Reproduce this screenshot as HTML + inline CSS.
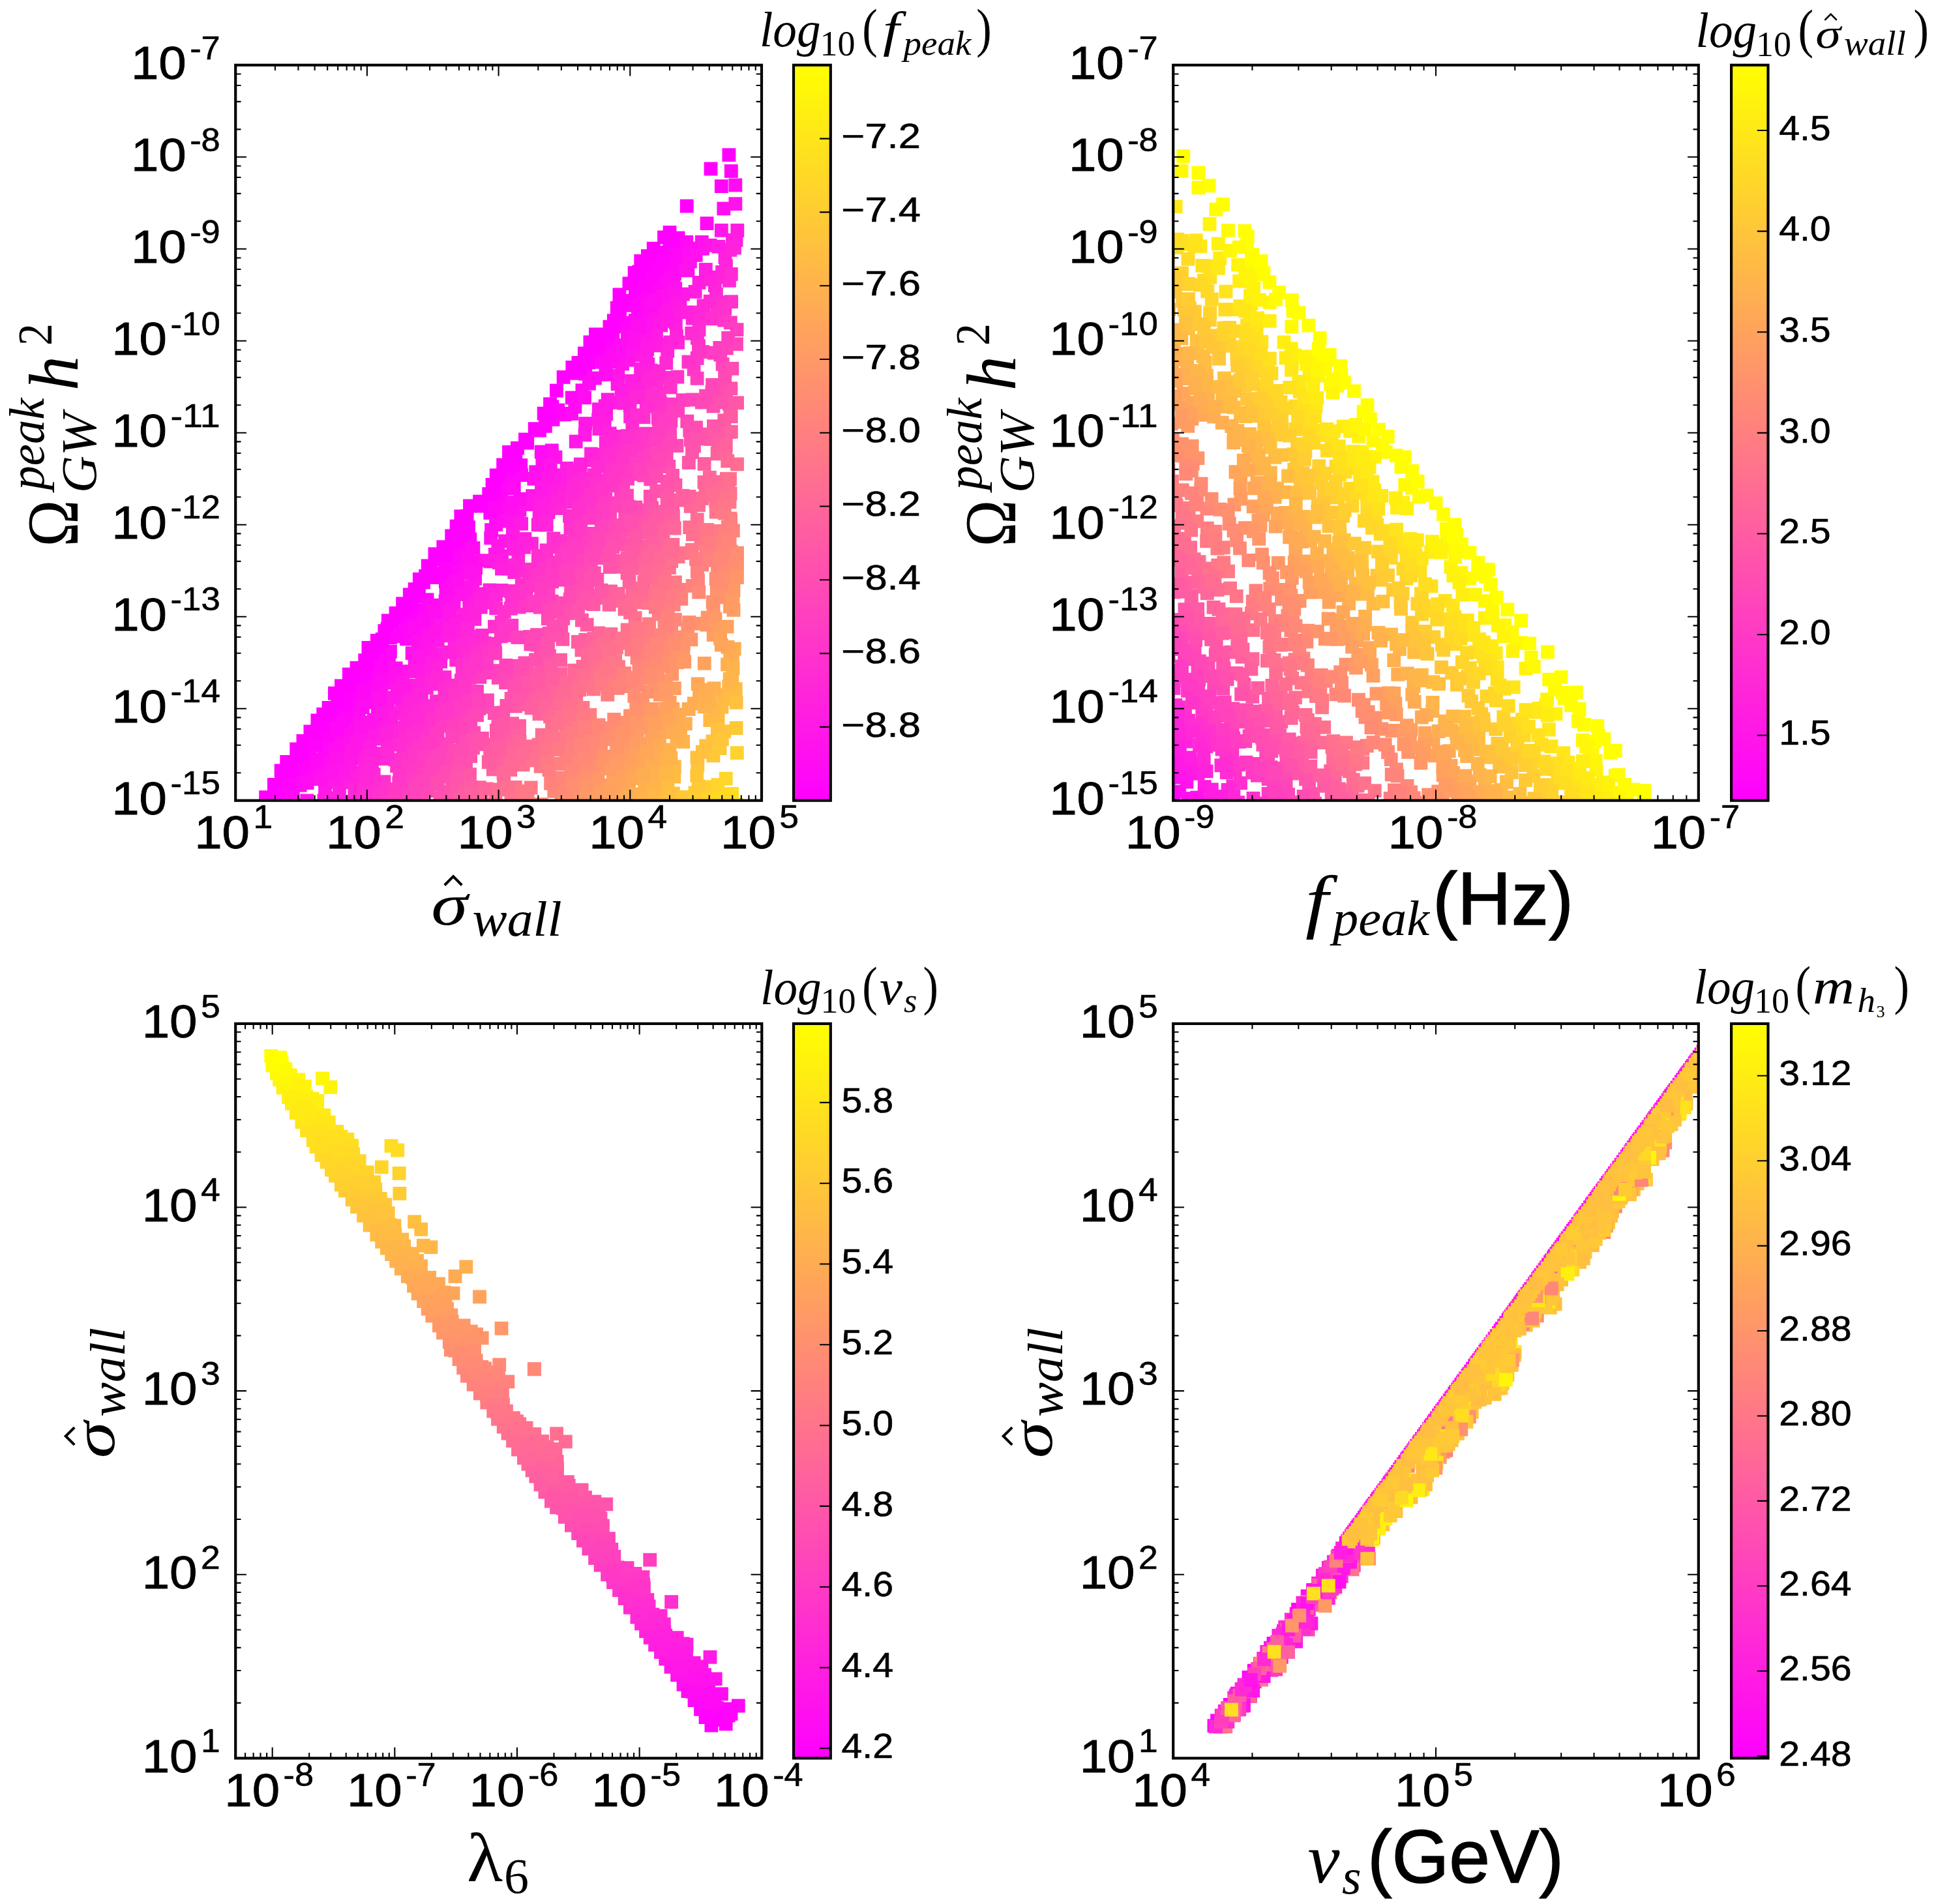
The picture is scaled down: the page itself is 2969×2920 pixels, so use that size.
<!DOCTYPE html><html><head><meta charset="utf-8"><title>chart</title><style>html,body{margin:0;padding:0;background:#fff}svg{display:block}text{fill:#000}</style></head><body>
<svg width="2969" height="2920" viewBox="0 0 2969 2920">
<rect width="2969" height="2920" fill="#fff"/>
<defs>
<clipPath id="cTL"><rect x="361.20" y="99.80" width="806.80" height="1127.90"/></clipPath>
<clipPath id="cTR"><rect x="1799.20" y="99.80" width="805.60" height="1127.90"/></clipPath>
<clipPath id="cBL"><rect x="361.20" y="1569.90" width="807.10" height="1126.50"/></clipPath>
<clipPath id="cBR"><rect x="1799.20" y="1569.90" width="805.60" height="1126.50"/></clipPath>
</defs>
<g clip-path="url(#cTL)" shape-rendering="auto"><path fill="#ff42bd" d="M882.2 836.3h20.83v20.83h-20.83z"/><path fill="#ff25da" d="M541.8 1187.3h20.83v20.83h-20.83z"/><path fill="#ff2ed1" d="M716.5 981.3h20.83v20.83h-20.83z"/><path fill="#ff5da2" d="M926.2 896.5h20.83v20.83h-20.83z"/><path fill="#ff6c93" d="M868.7 1044.3h20.83v20.83h-20.83z"/><path fill="#ff03fc" d="M479.5 1121.1h20.83v20.83h-20.83z"/><path fill="#ff8d72" d="M878.3 1176.6h20.83v20.83h-20.83z"/><path fill="#ffb847" d="M1005.4 1189.2h20.83v20.83h-20.83z"/><path fill="#ff3ec1" d="M818.8 910.0h20.83v20.83h-20.83z"/><path fill="#ffa05f" d="M947.6 1164.6h20.83v20.83h-20.83z"/><path fill="#ff2cd3" d="M701.6 993.7h20.83v20.83h-20.83z"/><path fill="#ff9966" d="M946.3 1134.2h20.83v20.83h-20.83z"/><path fill="#ff807f" d="M870.5 1127.5h20.83v20.83h-20.83z"/><path fill="#ff31ce" d="M578.6 1188.5h20.83v20.83h-20.83z"/><path fill="#ff37c8" d="M907.1 754.7h20.83v20.83h-20.83z"/><path fill="#ff6c93" d="M853.9 1062.9h20.83v20.83h-20.83z"/><path fill="#ffb946" d="M982.8 1222.9h20.83v20.83h-20.83z"/><path fill="#ff56a9" d="M955.8 823.5h20.83v20.83h-20.83z"/><path fill="#ff47b8" d="M658.9 1172.1h20.83v20.83h-20.83z"/><path fill="#ffb54a" d="M979.4 1210.0h20.83v20.83h-20.83z"/><path fill="#ff00ff" d="M584.9 941.4h20.83v20.83h-20.83z"/><path fill="#ff57a8" d="M986.0 787.2h20.83v20.83h-20.83z"/><path fill="#ff36c9" d="M1058.7 538.9h20.83v20.83h-20.83z"/><path fill="#ff20df" d="M816.7 777.7h20.83v20.83h-20.83z"/><path fill="#ff926d" d="M889.2 1183.1h20.83v20.83h-20.83z"/><path fill="#ff12ed" d="M460.4 1217.4h20.83v20.83h-20.83z"/><path fill="#ff956a" d="M873.9 1215.8h20.83v20.83h-20.83z"/><path fill="#ff00ff" d="M783.0 676.8h20.83v20.83h-20.83z"/><path fill="#ff9768" d="M1020.3 1023.1h20.83v20.83h-20.83z"/><path fill="#ff27d8" d="M827.8 794.6h20.83v20.83h-20.83z"/><path fill="#ff9768" d="M959.5 1106.3h20.83v20.83h-20.83z"/><path fill="#ff00ff" d="M485.3 1085.0h20.83v20.83h-20.83z"/><path fill="#ff41be" d="M981.1 697.4h20.83v20.83h-20.83z"/><path fill="#ff00ff" d="M954.5 424.4h20.83v20.83h-20.83z"/><path fill="#ff30cf" d="M564.5 1200.5h20.83v20.83h-20.83z"/><path fill="#ff10ef" d="M1022.7 420.9h20.83v20.83h-20.83z"/><path fill="#ff6f90" d="M815.6 1131.7h20.83v20.83h-20.83z"/><path fill="#ff0bf4" d="M1034.8 382.1h20.83v20.83h-20.83z"/><path fill="#ff4fb0" d="M986.9 751.0h20.83v20.83h-20.83z"/><path fill="#ff728d" d="M873.4 1063.9h20.83v20.83h-20.83z"/><path fill="#ff906f" d="M932.1 1112.5h20.83v20.83h-20.83z"/><path fill="#ff2fd0" d="M595.3 1154.3h20.83v20.83h-20.83z"/><path fill="#ff53ac" d="M971.0 788.7h20.83v20.83h-20.83z"/><path fill="#ff2fd0" d="M1089.5 463.6h20.83v20.83h-20.83z"/><path fill="#ffa857" d="M1008.0 1112.5h20.83v20.83h-20.83z"/><path fill="#ff4bb4" d="M918.2 825.5h20.83v20.83h-20.83z"/><path fill="#ff639c" d="M881.5 986.6h20.83v20.83h-20.83z"/><path fill="#ff718e" d="M1016.0 860.1h20.83v20.83h-20.83z"/><path fill="#ff00ff" d="M475.7 1111.1h20.83v20.83h-20.83z"/><path fill="#ff37c8" d="M584.0 1207.4h20.83v20.83h-20.83z"/><path fill="#ff8e71" d="M1013.2 992.0h20.83v20.83h-20.83z"/><path fill="#ff0cf3" d="M581.2 1019.7h20.83v20.83h-20.83z"/><path fill="#ff1ae5" d="M584.5 1076.3h20.83v20.83h-20.83z"/><path fill="#ff827d" d="M984.8 975.9h20.83v20.83h-20.83z"/><path fill="#ff02fd" d="M588.2 967.5h20.83v20.83h-20.83z"/><path fill="#ff25da" d="M508.9 1229.7h20.83v20.83h-20.83z"/><path fill="#ff23dc" d="M858.9 735.0h20.83v20.83h-20.83z"/><path fill="#ffb04f" d="M1112.9 1001.0h20.83v20.83h-20.83z"/><path fill="#ff9768" d="M978.2 1077.9h20.83v20.83h-20.83z"/><path fill="#ff01fe" d="M964.0 436.0h20.83v20.83h-20.83z"/><path fill="#ff6699" d="M1048.8 766.0h20.83v20.83h-20.83z"/><path fill="#ff6897" d="M959.3 899.6h20.83v20.83h-20.83z"/><path fill="#ff09f6" d="M492.7 1128.9h20.83v20.83h-20.83z"/><path fill="#ff32cd" d="M827.5 845.7h20.83v20.83h-20.83z"/><path fill="#ff8d72" d="M850.5 1214.7h20.83v20.83h-20.83z"/><path fill="#ff1de2" d="M858.9 707.9h20.83v20.83h-20.83z"/><path fill="#ff40bf" d="M817.8 920.8h20.83v20.83h-20.83z"/><path fill="#ff3bc4" d="M967.5 689.9h20.83v20.83h-20.83z"/><path fill="#ff0df2" d="M646.4 933.1h20.83v20.83h-20.83z"/><path fill="#ff5fa0" d="M786.1 1103.0h20.83v20.83h-20.83z"/><path fill="#ff00ff" d="M682.3 811.5h20.83v20.83h-20.83z"/><path fill="#ff05fa" d="M887.3 562.8h20.83v20.83h-20.83z"/><path fill="#ff30cf" d="M544.2 1230.7h20.83v20.83h-20.83z"/><path fill="#ff56a9" d="M832.0 995.4h20.83v20.83h-20.83z"/><path fill="#ff59a6" d="M1080.0 663.1h20.83v20.83h-20.83z"/><path fill="#ffc936" d="M1035.4 1223.3h20.83v20.83h-20.83z"/><path fill="#ff57a8" d="M780.0 1072.7h20.83v20.83h-20.83z"/><path fill="#ff7b84" d="M985.1 946.6h20.83v20.83h-20.83z"/><path fill="#ff3fc0" d="M721.1 1049.9h20.83v20.83h-20.83z"/><path fill="#ffa857" d="M937.8 1211.6h20.83v20.83h-20.83z"/><path fill="#ff9669" d="M1028.4 1005.4h20.83v20.83h-20.83z"/><path fill="#ff4ab5" d="M647.6 1202.5h20.83v20.83h-20.83z"/><path fill="#ff3ec1" d="M592.6 1224.4h20.83v20.83h-20.83z"/><path fill="#ff03fc" d="M606.6 946.6h20.83v20.83h-20.83z"/><path fill="#ff23dc" d="M665.2 1004.2h20.83v20.83h-20.83z"/><path fill="#ff0bf4" d="M586.1 1008.6h20.83v20.83h-20.83z"/><path fill="#ff3ec1" d="M1036.8 603.3h20.83v20.83h-20.83z"/><path fill="#ff56a9" d="M1013.2 742.7h20.83v20.83h-20.83z"/><path fill="#ff3ec1" d="M622.3 1184.6h20.83v20.83h-20.83z"/><path fill="#ff16e9" d="M685.6 918.0h20.83v20.83h-20.83z"/><path fill="#ff7d82" d="M858.2 1132.1h20.83v20.83h-20.83z"/><path fill="#ff926d" d="M984.0 1050.4h20.83v20.83h-20.83z"/><path fill="#ff7788" d="M827.3 1147.9h20.83v20.83h-20.83zM900.0 1046.4h20.83v20.83h-20.83z"/><path fill="#ff31ce" d="M656.3 1077.4h20.83v20.83h-20.83z"/><path fill="#ff48b7" d="M829.9 938.3h20.83v20.83h-20.83z"/><path fill="#ff906f" d="M1044.4 954.6h20.83v20.83h-20.83z"/><path fill="#ff2ed1" d="M959.4 643.1h20.83v20.83h-20.83z"/><path fill="#ff20df" d="M916.7 638.8h20.83v20.83h-20.83z"/><path fill="#ff47b8" d="M1043.4 635.7h20.83v20.83h-20.83z"/><path fill="#ff0df2" d="M754.8 780.3h20.83v20.83h-20.83z"/><path fill="#ff9f60" d="M1114.6 925.1h20.83v20.83h-20.83z"/><path fill="#ff00ff" d="M589.9 944.6h20.83v20.83h-20.83z"/><path fill="#ff25da" d="M643.9 1044.4h20.83v20.83h-20.83z"/><path fill="#ffa956" d="M954.1 1193.3h20.83v20.83h-20.83z"/><path fill="#ff51ae" d="M819.0 992.0h20.83v20.83h-20.83z"/><path fill="#ff03fc" d="M1016.4 371.5h20.83v20.83h-20.83z"/><path fill="#ff38c7" d="M591.5 1200.0h20.83v20.83h-20.83z"/><path fill="#ff29d6" d="M522.8 1231.2h20.83v20.83h-20.83z"/><path fill="#ff51ae" d="M978.2 771.9h20.83v20.83h-20.83z"/><path fill="#ff956a" d="M1074.8 936.8h20.83v20.83h-20.83z"/><path fill="#ff0ef1" d="M481.6 1166.1h20.83v20.83h-20.83z"/><path fill="#ff38c7" d="M687.9 1065.1h20.83v20.83h-20.83z"/><path fill="#ff6e91" d="M1005.5 858.5h20.83v20.83h-20.83z"/><path fill="#ffbd42" d="M1090.7 1092.2h20.83v20.83h-20.83z"/><path fill="#ff6e91" d="M820.8 1116.7h20.83v20.83h-20.83z"/><path fill="#ff19e6" d="M921.8 602.5h20.83v20.83h-20.83z"/><path fill="#ff847b" d="M977.2 997.0h20.83v20.83h-20.83z"/><path fill="#ff6e91" d="M1104.0 723.9h20.83v20.83h-20.83z"/><path fill="#ff52ad" d="M943.5 824.5h20.83v20.83h-20.83z"/><path fill="#ff49b6" d="M682.5 1150.4h20.83v20.83h-20.83z"/><path fill="#ff17e8" d="M625.7 1006.7h20.83v20.83h-20.83z"/><path fill="#ff05fa" d="M696.5 829.8h20.83v20.83h-20.83z"/><path fill="#ff5ea1" d="M1005.9 789.5h20.83v20.83h-20.83z"/><path fill="#ff28d7" d="M778.3 867.1h20.83v20.83h-20.83z"/><path fill="#ff00ff" d="M445.6 1154.2h20.83v20.83h-20.83z"/><path fill="#ffaf50" d="M962.7 1207.6h20.83v20.83h-20.83z"/><path fill="#ff0cf3" d="M518.5 1107.8h20.83v20.83h-20.83z"/><path fill="#ff629d" d="M1016.0 791.3h20.83v20.83h-20.83z"/><path fill="#ff36c9" d="M793.8 907.0h20.83v20.83h-20.83z"/><path fill="#ff7e81" d="M1033.1 894.0h20.83v20.83h-20.83z"/><path fill="#ff629d" d="M769.4 1138.7h20.83v20.83h-20.83z"/><path fill="#ff5da2" d="M762.7 1123.2h20.83v20.83h-20.83z"/><path fill="#ff847b" d="M896.3 1110.0h20.83v20.83h-20.83z"/><path fill="#ff7f80" d="M1081.3 831.4h20.83v20.83h-20.83z"/><path fill="#ff43bc" d="M925.2 783.4h20.83v20.83h-20.83z"/><path fill="#ff906f" d="M901.3 1154.6h20.83v20.83h-20.83z"/><path fill="#ffba45" d="M1078.4 1094.2h20.83v20.83h-20.83z"/><path fill="#ff3dc2" d="M923.0 761.2h20.83v20.83h-20.83z"/><path fill="#ff1ae5" d="M886.7 656.5h20.83v20.83h-20.83z"/><path fill="#ff4bb4" d="M1094.3 580.6h20.83v20.83h-20.83z"/><path fill="#ff52ad" d="M1103.2 599.6h20.83v20.83h-20.83z"/><path fill="#ff906f" d="M1088.8 892.9h20.83v20.83h-20.83z"/><path fill="#ff15ea" d="M606.7 1023.9h20.83v20.83h-20.83z"/><path fill="#ff1fe0" d="M1025.9 484.5h20.83v20.83h-20.83z"/><path fill="#ff29d6" d="M1088.0 441.0h20.83v20.83h-20.83z"/><path fill="#ff7986" d="M1025.0 882.6h20.83v20.83h-20.83z"/><path fill="#ff936c" d="M1024.5 996.1h20.83v20.83h-20.83z"/><path fill="#ff11ee" d="M992.7 468.0h20.83v20.83h-20.83z"/><path fill="#ff39c6" d="M1018.3 609.6h20.83v20.83h-20.83z"/><path fill="#ff26d9" d="M805.0 823.3h20.83v20.83h-20.83z"/><path fill="#ff857a" d="M1108.6 819.0h20.83v20.83h-20.83z"/><path fill="#ff7e81" d="M931.0 1034.1h20.83v20.83h-20.83z"/><path fill="#ff08f7" d="M629.1 937.3h20.83v20.83h-20.83z"/><path fill="#ff718e" d="M998.2 884.4h20.83v20.83h-20.83z"/><path fill="#ff00ff" d="M795.0 663.6h20.83v20.83h-20.83z"/><path fill="#ff6699" d="M942.5 911.2h20.83v20.83h-20.83z"/><path fill="#ff0cf3" d="M435.8 1224.2h20.83v20.83h-20.83z"/><path fill="#ff19e6" d="M714.6 890.4h20.83v20.83h-20.83z"/><path fill="#ffa956" d="M967.5 1175.2h20.83v20.83h-20.83z"/><path fill="#ff08f7" d="M423.1 1224.0h20.83v20.83h-20.83z"/><path fill="#ffa55a" d="M960.1 1166.1h20.83v20.83h-20.83z"/><path fill="#ff9b64" d="M967.0 1115.0h20.83v20.83h-20.83z"/><path fill="#ff609f" d="M831.9 1040.8h20.83v20.83h-20.83z"/><path fill="#ff00ff" d="M809.8 647.3h20.83v20.83h-20.83z"/><path fill="#ff59a6" d="M1100.4 634.4h20.83v20.83h-20.83z"/><path fill="#ff57a8" d="M695.1 1192.5h20.83v20.83h-20.83z"/><path fill="#ff1ce3" d="M907.2 633.3h20.83v20.83h-20.83z"/><path fill="#ff49b6" d="M780.3 1010.9h20.83v20.83h-20.83z"/><path fill="#ff8b74" d="M977.7 1029.7h20.83v20.83h-20.83z"/><path fill="#ff1be4" d="M486.5 1217.5h20.83v20.83h-20.83z"/><path fill="#ff00ff" d="M524.9 1023.7h20.83v20.83h-20.83z"/><path fill="#ff04fb" d="M739.7 762.5h20.83v20.83h-20.83z"/><path fill="#ff926d" d="M956.1 1087.6h20.83v20.83h-20.83z"/><path fill="#ff25da" d="M717.5 939.0h20.83v20.83h-20.83z"/><path fill="#ff807f" d="M846.6 1160.9h20.83v20.83h-20.83z"/><path fill="#ff629d" d="M937.8 900.2h20.83v20.83h-20.83z"/><path fill="#ff4bb4" d="M891.5 863.9h20.83v20.83h-20.83z"/><path fill="#ff32cd" d="M733.2 976.1h20.83v20.83h-20.83z"/><path fill="#ff36c9" d="M785.6 920.6h20.83v20.83h-20.83z"/><path fill="#ff00ff" d="M554.5 983.0h20.83v20.83h-20.83z"/><path fill="#ff35ca" d="M650.7 1103.9h20.83v20.83h-20.83z"/><path fill="#ff639c" d="M786.1 1117.0h20.83v20.83h-20.83z"/><path fill="#ff5ba4" d="M824.3 1030.8h20.83v20.83h-20.83z"/><path fill="#ff4cb3" d="M883.0 883.2h20.83v20.83h-20.83z"/><path fill="#ff02fd" d="M939.7 474.5h20.83v20.83h-20.83z"/><path fill="#ffbe41" d="M994.1 1229.6h20.83v20.83h-20.83z"/><path fill="#ff5aa5" d="M799.5 1060.5h20.83v20.83h-20.83z"/><path fill="#ff1ee1" d="M548.3 1143.6h20.83v20.83h-20.83z"/><path fill="#ff21de" d="M531.6 1183.6h20.83v20.83h-20.83z"/><path fill="#ff15ea" d="M601.0 1032.7h20.83v20.83h-20.83z"/><path fill="#ff52ad" d="M704.1 1160.1h20.83v20.83h-20.83z"/><path fill="#ff24db" d="M793.4 828.8h20.83v20.83h-20.83z"/><path fill="#ff00ff" d="M979.2 401.5h20.83v20.83h-20.83z"/><path fill="#ff22dd" d="M974.8 566.9h20.83v20.83h-20.83z"/><path fill="#ff0df2" d="M469.5 1182.6h20.83v20.83h-20.83z"/><path fill="#ff8a75" d="M916.9 1106.2h20.83v20.83h-20.83z"/><path fill="#ff24db" d="M878.4 712.4h20.83v20.83h-20.83z"/><path fill="#ff3dc2" d="M1058.7 569.9h20.83v20.83h-20.83z"/><path fill="#ff08f7" d="M987.4 435.4h20.83v20.83h-20.83z"/><path fill="#ff21de" d="M573.6 1122.6h20.83v20.83h-20.83z"/><path fill="#ff23dc" d="M1087.7 414.7h20.83v20.83h-20.83z"/><path fill="#ff708f" d="M836.1 1104.4h20.83v20.83h-20.83z"/><path fill="#ff01fe" d="M1007.5 376.8h20.83v20.83h-20.83z"/><path fill="#ff04fb" d="M564.2 1010.5h20.83v20.83h-20.83z"/><path fill="#ff09f6" d="M1037.7 367.9h20.83v20.83h-20.83z"/><path fill="#ffac53" d="M1054.0 1068.6h20.83v20.83h-20.83z"/><path fill="#ff55aa" d="M1072.3 655.6h20.83v20.83h-20.83z"/><path fill="#ff0df2" d="M1031.6 392.8h20.83v20.83h-20.83z"/><path fill="#ff906f" d="M1036.3 966.6h20.83v20.83h-20.83z"/><path fill="#ff619e" d="M756.7 1149.3h20.83v20.83h-20.83z"/><path fill="#ff41be" d="M611.2 1212.1h20.83v20.83h-20.83z"/><path fill="#ff7b84" d="M931.7 1020.9h20.83v20.83h-20.83z"/><path fill="#ff53ac" d="M1054.0 673.6h20.83v20.83h-20.83z"/><path fill="#ff956a" d="M1083.7 923.2h20.83v20.83h-20.83z"/><path fill="#ff02fd" d="M632.0 904.1h20.83v20.83h-20.83z"/><path fill="#ff5da2" d="M1090.7 666.6h20.83v20.83h-20.83z"/><path fill="#ff3cc3" d="M771.6 964.1h20.83v20.83h-20.83z"/><path fill="#ff5ea1" d="M967.8 842.9h20.83v20.83h-20.83z"/><path fill="#ff11ee" d="M652.4 942.9h20.83v20.83h-20.83z"/><path fill="#ff807f" d="M970.6 987.3h20.83v20.83h-20.83z"/><path fill="#ff5fa0" d="M1108.1 652.1h20.83v20.83h-20.83z"/><path fill="#ff47b8" d="M635.9 1202.4h20.83v20.83h-20.83z"/><path fill="#ff9669" d="M912.9 1164.9h20.83v20.83h-20.83z"/><path fill="#ffa45b" d="M1021.5 1077.1h20.83v20.83h-20.83z"/><path fill="#ff11ee" d="M451.3 1224.8h20.83v20.83h-20.83z"/><path fill="#ff8877" d="M1015.8 961.9h20.83v20.83h-20.83z"/><path fill="#ff04fb" d="M933.7 490.3h20.83v20.83h-20.83z"/><path fill="#ff17e8" d="M776.3 797.3h20.83v20.83h-20.83z"/><path fill="#ff09f6" d="M530.2 1078.1h20.83v20.83h-20.83z"/><path fill="#ff00ff" d="M962.7 408.1h20.83v20.83h-20.83z"/><path fill="#ffcf30" d="M1072.3 1196.4h20.83v20.83h-20.83z"/><path fill="#ff00ff" d="M413.0 1200.2h20.83v20.83h-20.83z"/><path fill="#ffa758" d="M944.5 1198.5h20.83v20.83h-20.83z"/><path fill="#ff32cd" d="M840.0 828.2h20.83v20.83h-20.83z"/><path fill="#ff827d" d="M1034.4 908.0h20.83v20.83h-20.83z"/><path fill="#ffbc43" d="M1117.8 1046.3h20.83v20.83h-20.83z"/><path fill="#ff2ad5" d="M914.8 686.9h20.83v20.83h-20.83z"/><path fill="#ff6f90" d="M1092.7 743.9h20.83v20.83h-20.83z"/><path fill="#ff5ba4" d="M912.1 906.5h20.83v20.83h-20.83z"/><path fill="#ff6b94" d="M762.2 1188.2h20.83v20.83h-20.83z"/><path fill="#ff728d" d="M987.9 901.2h20.83v20.83h-20.83z"/><path fill="#ff8778" d="M839.4 1202.8h20.83v20.83h-20.83z"/><path fill="#ff6a95" d="M1061.0 764.3h20.83v20.83h-20.83z"/><path fill="#ff4ab5" d="M637.4 1215.0h20.83v20.83h-20.83z"/><path fill="#ff3fc0" d="M661.8 1135.2h20.83v20.83h-20.83z"/><path fill="#ff817e" d="M966.6 998.4h20.83v20.83h-20.83z"/><path fill="#ff50af" d="M950.3 802.8h20.83v20.83h-20.83z"/><path fill="#ff2ed1" d="M942.6 665.9h20.83v20.83h-20.83z"/><path fill="#ff2ad5" d="M935.3 658.9h20.83v20.83h-20.83z"/><path fill="#ff629d" d="M1046.4 751.0h20.83v20.83h-20.83z"/><path fill="#ff37c8" d="M578.0 1216.2h20.83v20.83h-20.83z"/><path fill="#ff25da" d="M784.4 845.5h20.83v20.83h-20.83z"/><path fill="#ffad52" d="M1115.8 984.7h20.83v20.83h-20.83z"/><path fill="#ff3ec1" d="M611.5 1197.8h20.83v20.83h-20.83z"/><path fill="#ff956a" d="M1049.5 970.4h20.83v20.83h-20.83z"/><path fill="#ff1de2" d="M541.5 1152.3h20.83v20.83h-20.83z"/><path fill="#ff24db" d="M987.3 557.7h20.83v20.83h-20.83z"/><path fill="#ff14eb" d="M519.1 1142.8h20.83v20.83h-20.83z"/><path fill="#ff0cf3" d="M960.3 491.2h20.83v20.83h-20.83z"/><path fill="#ff0af5" d="M672.9 881.2h20.83v20.83h-20.83z"/><path fill="#ff07f8" d="M866.9 599.6h20.83v20.83h-20.83z"/><path fill="#ff31ce" d="M976.7 629.3h20.83v20.83h-20.83z"/><path fill="#ff728d" d="M897.8 1026.8h20.83v20.83h-20.83z"/><path fill="#ff00ff" d="M517.1 1053.6h20.83v20.83h-20.83z"/><path fill="#ffbd42" d="M1000.3 1217.7h20.83v20.83h-20.83z"/><path fill="#ff1fe0" d="M908.5 647.1h20.83v20.83h-20.83z"/><path fill="#ff0df2" d="M697.9 862.4h20.83v20.83h-20.83z"/><path fill="#ffde21" d="M1112.3 1207.1h20.83v20.83h-20.83z"/><path fill="#ffc936" d="M1118.7 1106.1h20.83v20.83h-20.83z"/><path fill="#ff1fe0" d="M972.2 555.6h20.83v20.83h-20.83z"/><path fill="#ff50af" d="M869.0 919.5h20.83v20.83h-20.83z"/><path fill="#ff21de" d="M589.2 1103.6h20.83v20.83h-20.83z"/><path fill="#ff9d62" d="M989.9 1088.3h20.83v20.83h-20.83z"/><path fill="#ff5ca3" d="M684.8 1228.2h20.83v20.83h-20.83z"/><path fill="#ff13ec" d="M667.7 932.1h20.83v20.83h-20.83z"/><path fill="#ff1fe0" d="M605.8 1071.4h20.83v20.83h-20.83z"/><path fill="#ff31ce" d="M608.0 1144.4h20.83v20.83h-20.83z"/><path fill="#ff12ed" d="M528.2 1118.7h20.83v20.83h-20.83z"/><path fill="#ff2ad5" d="M533.9 1220.5h20.83v20.83h-20.83z"/><path fill="#ff649b" d="M760.9 1159.9h20.83v20.83h-20.83z"/><path fill="#ff3bc4" d="M847.7 854.2h20.83v20.83h-20.83z"/><path fill="#ff6b94" d="M962.2 909.5h20.83v20.83h-20.83z"/><path fill="#ff54ab" d="M660.3 1229.4h20.83v20.83h-20.83z"/><path fill="#ff26d9" d="M584.1 1132.6h20.83v20.83h-20.83z"/><path fill="#ff4ab5" d="M865.2 895.1h20.83v20.83h-20.83z"/><path fill="#ff2ad5" d="M689.3 1001.7h20.83v20.83h-20.83z"/><path fill="#ff07f8" d="M617.0 946.5h20.83v20.83h-20.83z"/><path fill="#ff817e" d="M1091.0 824.3h20.83v20.83h-20.83z"/><path fill="#ff44bb" d="M643.3 1179.8h20.83v20.83h-20.83z"/><path fill="#ff728d" d="M963.7 937.2h20.83v20.83h-20.83z"/><path fill="#ff39c6" d="M797.7 918.4h20.83v20.83h-20.83z"/><path fill="#ff44bb" d="M873.8 857.3h20.83v20.83h-20.83z"/><path fill="#ff758a" d="M1109.7 746.5h20.83v20.83h-20.83z"/><path fill="#ff916e" d="M897.0 1169.0h20.83v20.83h-20.83z"/><path fill="#ff10ef" d="M1065.9 360.9h20.83v20.83h-20.83z"/><path fill="#ff11ee" d="M986.7 476.0h20.83v20.83h-20.83z"/><path fill="#ff28d7" d="M758.7 895.0h20.83v20.83h-20.83z"/><path fill="#ff37c8" d="M720.1 1017.9h20.83v20.83h-20.83z"/><path fill="#ff1be4" d="M573.4 1098.5h20.83v20.83h-20.83z"/><path fill="#ff9768" d="M970.9 1088.7h20.83v20.83h-20.83z"/><path fill="#ff45ba" d="M695.9 1110.7h20.83v20.83h-20.83z"/><path fill="#ff20df" d="M983.5 548.4h20.83v20.83h-20.83z"/><path fill="#ff619e" d="M968.5 853.6h20.83v20.83h-20.83z"/><path fill="#ff46b9" d="M625.3 1216.1h20.83v20.83h-20.83z"/><path fill="#ff3ec1" d="M649.7 1144.7h20.83v20.83h-20.83z"/><path fill="#ff00ff" d="M843.0 588.6h20.83v20.83h-20.83z"/><path fill="#ff9a65" d="M903.9 1196.7h20.83v20.83h-20.83z"/><path fill="#ff37c8" d="M709.8 1029.0h20.83v20.83h-20.83z"/><path fill="#ff32cd" d="M933.4 694.2h20.83v20.83h-20.83z"/><path fill="#ff4ab5" d="M1003.1 705.2h20.83v20.83h-20.83z"/><path fill="#ff49b6" d="M932.1 797.3h20.83v20.83h-20.83z"/><path fill="#ff5aa5" d="M1092.5 652.5h20.83v20.83h-20.83z"/><path fill="#ff9c63" d="M914.1 1193.9h20.83v20.83h-20.83z"/><path fill="#ff54ab" d="M931.7 849.8h20.83v20.83h-20.83z"/><path fill="#ff13ec" d="M767.6 788.8h20.83v20.83h-20.83z"/><path fill="#ff11ee" d="M585.6 1036.7h20.83v20.83h-20.83z"/><path fill="#ff27d8" d="M705.4 965.5h20.83v20.83h-20.83z"/><path fill="#ff10ef" d="M632.9 964.3h20.83v20.83h-20.83z"/><path fill="#ffd42b" d="M1090.5 1193.2h20.83v20.83h-20.83z"/><path fill="#ff7c83" d="M1008.7 918.6h20.83v20.83h-20.83z"/><path fill="#ff07f8" d="M644.6 909.4h20.83v20.83h-20.83z"/><path fill="#ff7b84" d="M1086.7 804.0h20.83v20.83h-20.83z"/><path fill="#ff20df" d="M665.7 992.2h20.83v20.83h-20.83z"/><path fill="#ff17e8" d="M718.2 877.0h20.83v20.83h-20.83z"/><path fill="#ff2fd0" d="M1059.0 507.9h20.83v20.83h-20.83z"/><path fill="#ff3cc3" d="M1018.1 620.1h20.83v20.83h-20.83z"/><path fill="#ff37c8" d="M738.5 991.4h20.83v20.83h-20.83z"/><path fill="#ff33cc" d="M758.8 944.1h20.83v20.83h-20.83z"/><path fill="#ff639c" d="M715.2 1219.5h20.83v20.83h-20.83z"/><path fill="#ff748b" d="M1039.3 837.8h20.83v20.83h-20.83z"/><path fill="#ffa25d" d="M967.2 1142.0h20.83v20.83h-20.83z"/><path fill="#ff0ef1" d="M1046.5 380.6h20.83v20.83h-20.83z"/><path fill="#ff06f9" d="M1095.9 275.2h20.83v20.83h-20.83z"/><path fill="#ff53ac" d="M682.9 1193.2h20.83v20.83h-20.83z"/><path fill="#ff807f" d="M1105.9 797.8h20.83v20.83h-20.83z"/><path fill="#ffad52" d="M1109.2 994.2h20.83v20.83h-20.83z"/><path fill="#ff639c" d="M954.7 881.7h20.83v20.83h-20.83z"/><path fill="#ff7c83" d="M999.8 931.6h20.83v20.83h-20.83z"/><path fill="#ff22dd" d="M686.6 970.9h20.83v20.83h-20.83z"/><path fill="#ff2dd2" d="M1009.0 569.0h20.83v20.83h-20.83z"/><path fill="#ff659a" d="M836.4 1056.4h20.83v20.83h-20.83z"/><path fill="#ff02fd" d="M399.6 1229.2h20.83v20.83h-20.83z"/><path fill="#ff33cc" d="M955.3 668.8h20.83v20.83h-20.83z"/><path fill="#ff14eb" d="M729.2 849.3h20.83v20.83h-20.83z"/><path fill="#ff30cf" d="M790.0 886.4h20.83v20.83h-20.83z"/><path fill="#ff8976" d="M1090.1 862.3h20.83v20.83h-20.83z"/><path fill="#ff7986" d="M776.8 1228.5h20.83v20.83h-20.83z"/><path fill="#ff738c" d="M921.0 1002.8h20.83v20.83h-20.83z"/><path fill="#ff5ea1" d="M1069.7 701.1h20.83v20.83h-20.83z"/><path fill="#ff13ec" d="M719.3 860.0h20.83v20.83h-20.83z"/><path fill="#ff1be4" d="M649.5 990.0h20.83v20.83h-20.83z"/><path fill="#ff36c9" d="M1000.6 620.1h20.83v20.83h-20.83z"/><path fill="#ff00ff" d="M1008.1 353.6h20.83v20.83h-20.83z"/><path fill="#ff4ab5" d="M701.4 1127.1h20.83v20.83h-20.83z"/><path fill="#ff30cf" d="M800.5 873.3h20.83v20.83h-20.83z"/><path fill="#ff23dc" d="M830.4 775.2h20.83v20.83h-20.83z"/><path fill="#ff619e" d="M724.9 1197.3h20.83v20.83h-20.83z"/><path fill="#ff6e91" d="M1058.8 786.5h20.83v20.83h-20.83z"/><path fill="#ff39c6" d="M774.4 948.9h20.83v20.83h-20.83z"/><path fill="#ff32cd" d="M565.1 1211.4h20.83v20.83h-20.83z"/><path fill="#ff6f90" d="M791.8 1162.4h20.83v20.83h-20.83z"/><path fill="#ff5ba4" d="M968.2 827.6h20.83v20.83h-20.83z"/><path fill="#ff32cd" d="M942.9 680.4h20.83v20.83h-20.83z"/><path fill="#ff12ed" d="M684.4 903.3h20.83v20.83h-20.83z"/><path fill="#ff16e9" d="M806.3 750.2h20.83v20.83h-20.83z"/><path fill="#ff35ca" d="M823.3 861.7h20.83v20.83h-20.83z"/><path fill="#ff15ea" d="M961.7 528.3h20.83v20.83h-20.83z"/><path fill="#ff4db2" d="M1090.5 595.8h20.83v20.83h-20.83z"/><path fill="#ffa05f" d="M971.8 1130.3h20.83v20.83h-20.83z"/><path fill="#ff52ad" d="M664.6 1214.1h20.83v20.83h-20.83z"/><path fill="#ff3ec1" d="M945.3 732.0h20.83v20.83h-20.83z"/><path fill="#ff00ff" d="M868.2 561.9h20.83v20.83h-20.83z"/><path fill="#ff31ce" d="M748.0 950.6h20.83v20.83h-20.83z"/><path fill="#ff03fc" d="M510.9 1080.3h20.83v20.83h-20.83z"/><path fill="#ff6b94" d="M893.1 1005.1h20.83v20.83h-20.83z"/><path fill="#ff1ce3" d="M645.7 1001.1h20.83v20.83h-20.83z"/><path fill="#ff21de" d="M636.7 1036.6h20.83v20.83h-20.83z"/><path fill="#ff00ff" d="M605.0 931.3h20.83v20.83h-20.83z"/><path fill="#ff25da" d="M600.2 1105.6h20.83v20.83h-20.83z"/><path fill="#ff8e71" d="M1006.0 1000.4h20.83v20.83h-20.83z"/><path fill="#ff2ed1" d="M814.9 842.2h20.83v20.83h-20.83z"/><path fill="#ff4bb4" d="M680.5 1161.3h20.83v20.83h-20.83z"/><path fill="#ffb946" d="M1023.9 1165.4h20.83v20.83h-20.83z"/><path fill="#ff718e" d="M1106.9 734.2h20.83v20.83h-20.83z"/><path fill="#ff0af5" d="M855.7 625.4h20.83v20.83h-20.83z"/><path fill="#ff2ad5" d="M956.2 628.4h20.83v20.83h-20.83z"/><path fill="#ff32cd" d="M554.1 1228.2h20.83v20.83h-20.83z"/><path fill="#ff16e9" d="M937.5 565.6h20.83v20.83h-20.83z"/><path fill="#ff1ee1" d="M517.8 1189.5h20.83v20.83h-20.83z"/><path fill="#ff2cd3" d="M792.3 864.8h20.83v20.83h-20.83z"/><path fill="#ff9c63" d="M1109.1 919.9h20.83v20.83h-20.83z"/><path fill="#ff23dc" d="M658.4 1015.1h20.83v20.83h-20.83z"/><path fill="#ffa05f" d="M900.6 1228.2h20.83v20.83h-20.83z"/><path fill="#ff00ff" d="M935.9 461.8h20.83v20.83h-20.83z"/><path fill="#ffa15e" d="M1005.2 1085.5h20.83v20.83h-20.83z"/><path fill="#ff00ff" d="M770.1 682.9h20.83v20.83h-20.83z"/><path fill="#ff28d7" d="M745.6 913.0h20.83v20.83h-20.83z"/><path fill="#ff7788" d="M960.4 965.3h20.83v20.83h-20.83z"/><path fill="#ff14eb" d="M841.5 690.8h20.83v20.83h-20.83z"/><path fill="#ff2fd0" d="M804.9 862.9h20.83v20.83h-20.83z"/><path fill="#ff38c7" d="M904.0 765.1h20.83v20.83h-20.83z"/><path fill="#ff00ff" d="M657.2 847.8h20.83v20.83h-20.83z"/><path fill="#ff21de" d="M602.9 1083.4h20.83v20.83h-20.83z"/><path fill="#ff01fe" d="M682.6 829.7h20.83v20.83h-20.83z"/><path fill="#ff42bd" d="M892.5 821.8h20.83v20.83h-20.83z"/><path fill="#ff659a" d="M842.7 1047.4h20.83v20.83h-20.83z"/><path fill="#ff43bc" d="M626.7 1198.4h20.83v20.83h-20.83z"/><path fill="#ff18e7" d="M764.1 819.4h20.83v20.83h-20.83z"/><path fill="#ff0ff0" d="M518.6 1122.0h20.83v20.83h-20.83z"/><path fill="#ff13ec" d="M525.6 1130.0h20.83v20.83h-20.83z"/><path fill="#ff36c9" d="M956.7 681.2h20.83v20.83h-20.83z"/><path fill="#ff7e81" d="M791.4 1231.2h20.83v20.83h-20.83z"/><path fill="#ff38c7" d="M862.7 821.9h20.83v20.83h-20.83z"/><path fill="#ff0cf3" d="M866.1 623.9h20.83v20.83h-20.83z"/><path fill="#ff02fd" d="M756.7 732.2h20.83v20.83h-20.83z"/><path fill="#ff13ec" d="M822.9 715.2h20.83v20.83h-20.83z"/><path fill="#ff1de2" d="M709.3 915.8h20.83v20.83h-20.83z"/><path fill="#ff0cf3" d="M764.8 764.2h20.83v20.83h-20.83z"/><path fill="#ff20df" d="M500.2 1223.0h20.83v20.83h-20.83z"/><path fill="#ff6b94" d="M871.5 1033.2h20.83v20.83h-20.83z"/><path fill="#ff2cd3" d="M871.1 757.2h20.83v20.83h-20.83z"/><path fill="#ff07f8" d="M758.6 749.3h20.83v20.83h-20.83z"/><path fill="#ff18e7" d="M741.9 850.6h20.83v20.83h-20.83z"/><path fill="#ff00ff" d="M1107.5 227.2h20.83v20.83h-20.83zM725.2 758.7h20.83v20.83h-20.83z"/><path fill="#ff8d72" d="M890.0 1161.3h20.83v20.83h-20.83z"/><path fill="#ff5da2" d="M849.1 1001.8h20.83v20.83h-20.83z"/><path fill="#ff57a8" d="M683.6 1206.8h20.83v20.83h-20.83z"/><path fill="#ff1ae5" d="M660.8 971.4h20.83v20.83h-20.83z"/><path fill="#ff16e9" d="M1021.1 447.3h20.83v20.83h-20.83z"/><path fill="#ff1ce3" d="M605.0 1058.6h20.83v20.83h-20.83z"/><path fill="#ff56a9" d="M1084.0 643.3h20.83v20.83h-20.83z"/><path fill="#ff3ec1" d="M1093.4 523.0h20.83v20.83h-20.83z"/><path fill="#ff36c9" d="M1100.1 480.6h20.83v20.83h-20.83z"/><path fill="#ff16e9" d="M466.2 1226.0h20.83v20.83h-20.83z"/><path fill="#ff34cb" d="M615.2 1151.7h20.83v20.83h-20.83z"/><path fill="#ff3ac5" d="M940.3 722.7h20.83v20.83h-20.83z"/><path fill="#ff1ae5" d="M809.8 761.6h20.83v20.83h-20.83z"/><path fill="#ff14eb" d="M568.9 1073.9h20.83v20.83h-20.83z"/><path fill="#ff44bb" d="M867.9 866.4h20.83v20.83h-20.83z"/><path fill="#ff42bd" d="M1051.4 602.6h20.83v20.83h-20.83z"/><path fill="#ff29d6" d="M885.9 722.7h20.83v20.83h-20.83z"/><path fill="#ff9f60" d="M929.8 1184.0h20.83v20.83h-20.83z"/><path fill="#ff0ef1" d="M492.6 1153.0h20.83v20.83h-20.83z"/><path fill="#ff8a75" d="M966.3 1039.6h20.83v20.83h-20.83z"/><path fill="#ff07f8" d="M741.4 776.1h20.83v20.83h-20.83z"/><path fill="#ff52ad" d="M711.2 1149.3h20.83v20.83h-20.83z"/><path fill="#ff619e" d="M1022.0 781.1h20.83v20.83h-20.83z"/><path fill="#ff05fa" d="M910.7 528.3h20.83v20.83h-20.83z"/><path fill="#ff916e" d="M1120.1 855.3h20.83v20.83h-20.83z"/><path fill="#ff12ed" d="M621.7 991.3h20.83v20.83h-20.83z"/><path fill="#ffa05f" d="M1016.7 1066.9h20.83v20.83h-20.83z"/><path fill="#ff708f" d="M1019.2 850.1h20.83v20.83h-20.83z"/><path fill="#ff0ff0" d="M539.7 1091.5h20.83v20.83h-20.83z"/><path fill="#ff10ef" d="M641.6 955.0h20.83v20.83h-20.83z"/><path fill="#ff23dc" d="M849.0 746.0h20.83v20.83h-20.83z"/><path fill="#ff07f8" d="M929.3 510.8h20.83v20.83h-20.83z"/><path fill="#ffbc43" d="M1023.4 1180.6h20.83v20.83h-20.83z"/><path fill="#ff0bf4" d="M613.1 969.5h20.83v20.83h-20.83z"/><path fill="#ff6a95" d="M772.3 1170.2h20.83v20.83h-20.83z"/><path fill="#ff00ff" d="M645.8 857.4h20.83v20.83h-20.83z"/><path fill="#ff26d9" d="M688.5 986.5h20.83v20.83h-20.83z"/><path fill="#ff00ff" d="M649.4 862.6h20.83v20.83h-20.83z"/><path fill="#ff21de" d="M866.8 714.0h20.83v20.83h-20.83zM1101.6 384.2h20.83v20.83h-20.83z"/><path fill="#ff4fb0" d="M853.3 938.0h20.83v20.83h-20.83z"/><path fill="#ff0ff0" d="M811.3 713.4h20.83v20.83h-20.83z"/><path fill="#ff1fe0" d="M850.2 729.8h20.83v20.83h-20.83z"/><path fill="#ff857a" d="M873.2 1147.3h20.83v20.83h-20.83z"/><path fill="#ff08f7" d="M634.8 925.6h20.83v20.83h-20.83z"/><path fill="#ff4eb1" d="M1057.1 645.2h20.83v20.83h-20.83z"/><path fill="#ff946b" d="M1063.8 945.9h20.83v20.83h-20.83z"/><path fill="#ff6a95" d="M883.5 1011.9h20.83v20.83h-20.83z"/><path fill="#ff9d62" d="M984.1 1099.4h20.83v20.83h-20.83z"/><path fill="#ff8877" d="M865.8 1172.3h20.83v20.83h-20.83z"/><path fill="#ff07f8" d="M534.4 1064.9h20.83v20.83h-20.83z"/><path fill="#ff837c" d="M998.8 963.7h20.83v20.83h-20.83z"/><path fill="#ff44bb" d="M1097.7 548.1h20.83v20.83h-20.83z"/><path fill="#ffb44b" d="M1037.3 1127.1h20.83v20.83h-20.83z"/><path fill="#ff1de2" d="M522.6 1177.5h20.83v20.83h-20.83z"/><path fill="#ff906f" d="M876.9 1189.7h20.83v20.83h-20.83z"/><path fill="#ff00ff" d="M939.5 441.5h20.83v20.83h-20.83z"/><path fill="#ff22dd" d="M625.7 1053.9h20.83v20.83h-20.83z"/><path fill="#ff00ff" d="M386.1 1229.6h20.83v20.83h-20.83z"/><path fill="#ffa35c" d="M939.7 1187.1h20.83v20.83h-20.83z"/><path fill="#ff21de" d="M859.6 723.8h20.83v20.83h-20.83z"/><path fill="#ff7887" d="M1012.9 896.3h20.83v20.83h-20.83z"/><path fill="#ff7e81" d="M924.8 1043.6h20.83v20.83h-20.83z"/><path fill="#ff19e6" d="M679.6 939.2h20.83v20.83h-20.83z"/><path fill="#ff14eb" d="M944.1 547.6h20.83v20.83h-20.83z"/><path fill="#ff18e7" d="M1018.3 461.4h20.83v20.83h-20.83z"/><path fill="#ff0ef1" d="M975.2 477.6h20.83v20.83h-20.83z"/><path fill="#ff7887" d="M1064.5 823.1h20.83v20.83h-20.83z"/><path fill="#ff07f8" d="M610.1 956.4h20.83v20.83h-20.83z"/><path fill="#ff629d" d="M745.9 1169.3h20.83v20.83h-20.83z"/><path fill="#ff43bc" d="M609.8 1225.6h20.83v20.83h-20.83z"/><path fill="#ffd629" d="M1102.8 1183.7h20.83v20.83h-20.83z"/><path fill="#ff906f" d="M940.0 1100.3h20.83v20.83h-20.83z"/><path fill="#ffb649" d="M970.1 1230.1h20.83v20.83h-20.83z"/><path fill="#ff4eb1" d="M831.7 961.0h20.83v20.83h-20.83z"/><path fill="#ff1ae5" d="M554.4 1118.4h20.83v20.83h-20.83z"/><path fill="#ff27d8" d="M1029.2 514.8h20.83v20.83h-20.83z"/><path fill="#ff18e7" d="M748.9 840.0h20.83v20.83h-20.83z"/><path fill="#ff619e" d="M1089.7 685.4h20.83v20.83h-20.83z"/><path fill="#ff7689" d="M873.3 1082.7h20.83v20.83h-20.83z"/><path fill="#ff0ff0" d="M821.4 698.3h20.83v20.83h-20.83z"/><path fill="#ff7e81" d="M894.5 1086.1h20.83v20.83h-20.83z"/><path fill="#ff41be" d="M697.8 1089.8h20.83v20.83h-20.83z"/><path fill="#ff33cc" d="M848.1 819.3h20.83v20.83h-20.83z"/><path fill="#ff00ff" d="M410.0 1193.0h20.83v20.83h-20.83z"/><path fill="#ff5fa0" d="M981.9 828.4h20.83v20.83h-20.83z"/><path fill="#ff2bd4" d="M1069.0 476.5h20.83v20.83h-20.83z"/><path fill="#ff4eb1" d="M1015.4 704.9h20.83v20.83h-20.83z"/><path fill="#ff33cc" d="M696.9 1033.2h20.83v20.83h-20.83z"/><path fill="#ffc53a" d="M1100.3 1111.3h20.83v20.83h-20.83z"/><path fill="#ff7689" d="M1050.8 832.9h20.83v20.83h-20.83z"/><path fill="#ff4db2" d="M912.5 845.3h20.83v20.83h-20.83z"/><path fill="#ffc33c" d="M1082.6 1126.5h20.83v20.83h-20.83z"/><path fill="#ff15ea" d="M786.5 771.6h20.83v20.83h-20.83z"/><path fill="#ff0ff0" d="M528.8 1106.8h20.83v20.83h-20.83z"/><path fill="#ffaf50" d="M1000.9 1155.8h20.83v20.83h-20.83z"/><path fill="#ff3ac5" d="M979.5 668.8h20.83v20.83h-20.83z"/><path fill="#ff07f8" d="M563.3 1021.5h20.83v20.83h-20.83z"/><path fill="#ff4cb3" d="M794.5 1006.4h20.83v20.83h-20.83z"/><path fill="#ffc33c" d="M1059.4 1162.9h20.83v20.83h-20.83z"/><path fill="#ff35ca" d="M815.5 874.3h20.83v20.83h-20.83z"/><path fill="#ff728d" d="M826.6 1127.3h20.83v20.83h-20.83z"/><path fill="#ff50af" d="M797.8 1017.4h20.83v20.83h-20.83z"/><path fill="#ff3ac5" d="M674.8 1094.6h20.83v20.83h-20.83z"/><path fill="#ff32cd" d="M598.2 1164.1h20.83v20.83h-20.83z"/><path fill="#ff53ac" d="M761.3 1082.4h20.83v20.83h-20.83z"/><path fill="#ff40bf" d="M705.4 1076.0h20.83v20.83h-20.83z"/><path fill="#ff1de2" d="M755.0 852.3h20.83v20.83h-20.83z"/><path fill="#ff629d" d="M776.0 1130.0h20.83v20.83h-20.83z"/><path fill="#ff03fc" d="M817.0 649.7h20.83v20.83h-20.83z"/><path fill="#ff22dd" d="M707.3 940.4h20.83v20.83h-20.83z"/><path fill="#ff1ee1" d="M781.0 821.0h20.83v20.83h-20.83z"/><path fill="#ff916e" d="M929.3 1123.5h20.83v20.83h-20.83z"/><path fill="#ff0df2" d="M1006.1 431.1h20.83v20.83h-20.83z"/><path fill="#ff15ea" d="M994.9 482.5h20.83v20.83h-20.83z"/><path fill="#ff58a7" d="M911.6 894.8h20.83v20.83h-20.83z"/><path fill="#ff48b7" d="M907.8 828.9h20.83v20.83h-20.83z"/><path fill="#ff23dc" d="M651.6 1022.7h20.83v20.83h-20.83z"/><path fill="#ff1ae5" d="M711.2 901.9h20.83v20.83h-20.83z"/><path fill="#ff0ef1" d="M1024.1 409.4h20.83v20.83h-20.83z"/><path fill="#ff1fe0" d="M589.9 1090.3h20.83v20.83h-20.83z"/><path fill="#ff59a6" d="M804.0 1051.0h20.83v20.83h-20.83z"/><path fill="#ff4cb3" d="M813.5 978.6h20.83v20.83h-20.83z"/><path fill="#ff8d72" d="M917.6 1120.3h20.83v20.83h-20.83z"/><path fill="#ff6996" d="M1066.2 754.0h20.83v20.83h-20.83z"/><path fill="#ff738c" d="M815.7 1150.0h20.83v20.83h-20.83z"/><path fill="#ff28d7" d="M979.6 587.6h20.83v20.83h-20.83z"/><path fill="#ff42bd" d="M1010.0 658.7h20.83v20.83h-20.83z"/><path fill="#ff30cf" d="M924.1 699.2h20.83v20.83h-20.83z"/><path fill="#ff3bc4" d="M725.3 1027.8h20.83v20.83h-20.83z"/><path fill="#ff18e7" d="M907.9 617.3h20.83v20.83h-20.83z"/><path fill="#ff01fe" d="M952.3 450.8h20.83v20.83h-20.83z"/><path fill="#ff8778" d="M871.0 1159.0h20.83v20.83h-20.83z"/><path fill="#ff21de" d="M537.4 1174.5h20.83v20.83h-20.83z"/><path fill="#ff39c6" d="M952.7 700.9h20.83v20.83h-20.83z"/><path fill="#ff2bd4" d="M750.3 922.3h20.83v20.83h-20.83z"/><path fill="#ff718e" d="M1057.7 799.7h20.83v20.83h-20.83z"/><path fill="#ff32cd" d="M575.2 1198.4h20.83v20.83h-20.83z"/><path fill="#ff01fe" d="M729.5 765.6h20.83v20.83h-20.83z"/><path fill="#ffae51" d="M948.1 1223.3h20.83v20.83h-20.83z"/><path fill="#ff807f" d="M1022.8 916.6h20.83v20.83h-20.83z"/><path fill="#ff3ec1" d="M978.2 685.7h20.83v20.83h-20.83z"/><path fill="#ff58a7" d="M1025.5 733.7h20.83v20.83h-20.83z"/><path fill="#ff33cc" d="M1061.1 520.3h20.83v20.83h-20.83z"/><path fill="#ffa956" d="M982.1 1152.6h20.83v20.83h-20.83z"/><path fill="#ff45ba" d="M675.3 1142.3h20.83v20.83h-20.83z"/><path fill="#ff41be" d="M1103.9 523.6h20.83v20.83h-20.83z"/><path fill="#ff6996" d="M842.4 1064.8h20.83v20.83h-20.83z"/><path fill="#ffcf30" d="M1050.2 1227.6h20.83v20.83h-20.83z"/><path fill="#ff5ba4" d="M994.9 792.1h20.83v20.83h-20.83z"/><path fill="#ff59a6" d="M743.7 1131.8h20.83v20.83h-20.83z"/><path fill="#ff46b9" d="M802.4 966.1h20.83v20.83h-20.83z"/><path fill="#ffc13e" d="M1005.1 1229.7h20.83v20.83h-20.83z"/><path fill="#ff00ff" d="M536.6 1013.9h20.83v20.83h-20.83z"/><path fill="#ff56a9" d="M793.9 1051.8h20.83v20.83h-20.83z"/><path fill="#ffcc33" d="M1045.4 1218.6h20.83v20.83h-20.83z"/><path fill="#ff47b8" d="M672.3 1154.6h20.83v20.83h-20.83z"/><path fill="#ff4db2" d="M959.4 779.5h20.83v20.83h-20.83z"/><path fill="#ff4fb0" d="M1083.5 612.5h20.83v20.83h-20.83z"/><path fill="#ff19e6" d="M575.2 1085.0h20.83v20.83h-20.83z"/><path fill="#ff00ff" d="M823.7 623.7h20.83v20.83h-20.83z"/><path fill="#ff17e8" d="M887.2 639.2h20.83v20.83h-20.83z"/><path fill="#ff3fc0" d="M913.2 783.1h20.83v20.83h-20.83z"/><path fill="#ff19e6" d="M970.5 534.0h20.83v20.83h-20.83z"/><path fill="#ff4fb0" d="M1049.0 664.2h20.83v20.83h-20.83z"/><path fill="#ff906f" d="M862.4 1212.9h20.83v20.83h-20.83z"/><path fill="#ff01fe" d="M762.1 716.6h20.83v20.83h-20.83z"/><path fill="#ff40bf" d="M941.9 745.2h20.83v20.83h-20.83z"/><path fill="#ff7788" d="M1068.8 811.0h20.83v20.83h-20.83z"/><path fill="#ff6e91" d="M1120.1 701.5h20.83v20.83h-20.83z"/><path fill="#ff4cb3" d="M716.3 1113.5h20.83v20.83h-20.83z"/><path fill="#ff659a" d="M736.0 1199.4h20.83v20.83h-20.83z"/><path fill="#ffdf20" d="M1098.3 1229.9h20.83v20.83h-20.83z"/><path fill="#ffc639" d="M1028.3 1215.9h20.83v20.83h-20.83z"/><path fill="#ff39c6" d="M822.8 882.7h20.83v20.83h-20.83z"/><path fill="#ff49b6" d="M1011.8 686.0h20.83v20.83h-20.83z"/><path fill="#ff32cd" d="M618.4 1135.6h20.83v20.83h-20.83z"/><path fill="#ff02fd" d="M708.1 798.2h20.83v20.83h-20.83z"/><path fill="#ff51ae" d="M1110.5 585.4h20.83v20.83h-20.83z"/><path fill="#ff18e7" d="M992.2 496.5h20.83v20.83h-20.83z"/><path fill="#ff00ff" d="M853.7 568.0h20.83v20.83h-20.83z"/><path fill="#ff56a9" d="M812.0 1023.1h20.83v20.83h-20.83z"/><path fill="#ffa956" d="M1030.9 1085.4h20.83v20.83h-20.83z"/><path fill="#ff946b" d="M1106.2 888.8h20.83v20.83h-20.83z"/><path fill="#ff8679" d="M1024.9 939.9h20.83v20.83h-20.83z"/><path fill="#ff33cc" d="M1111.2 452.3h20.83v20.83h-20.83z"/><path fill="#ff936c" d="M1017.4 1007.1h20.83v20.83h-20.83z"/><path fill="#ff609f" d="M1110.9 651.8h20.83v20.83h-20.83z"/><path fill="#ff7788" d="M847.0 1121.3h20.83v20.83h-20.83z"/><path fill="#ff4cb3" d="M964.4 767.6h20.83v20.83h-20.83z"/><path fill="#ff09f6" d="M488.4 1138.3h20.83v20.83h-20.83z"/><path fill="#ff7d82" d="M1022.8 901.7h20.83v20.83h-20.83z"/><path fill="#ff30cf" d="M883.8 754.5h20.83v20.83h-20.83z"/><path fill="#ff8778" d="M955.1 1042.2h20.83v20.83h-20.83z"/><path fill="#ff3ec1" d="M712.7 1057.3h20.83v20.83h-20.83z"/><path fill="#ff28d7" d="M575.3 1153.2h20.83v20.83h-20.83z"/><path fill="#ff7b84" d="M938.1 1012.3h20.83v20.83h-20.83z"/><path fill="#ff5ba4" d="M702.3 1200.0h20.83v20.83h-20.83z"/><path fill="#ff6798" d="M870.3 1017.7h20.83v20.83h-20.83z"/><path fill="#ffa35c" d="M1069.8 1007.0h20.83v20.83h-20.83z"/><path fill="#ff36c9" d="M647.0 1113.7h20.83v20.83h-20.83z"/><path fill="#ff47b8" d="M884.5 855.7h20.83v20.83h-20.83z"/><path fill="#ff7d82" d="M798.7 1214.4h20.83v20.83h-20.83z"/><path fill="#ff29d6" d="M1078.8 451.8h20.83v20.83h-20.83z"/><path fill="#ff06f9" d="M1110.9 252.0h20.83v20.83h-20.83z"/><path fill="#ff59a6" d="M1120.1 607.4h20.83v20.83h-20.83z"/><path fill="#ff6699" d="M907.3 960.5h20.83v20.83h-20.83z"/><path fill="#ff56a9" d="M1045.9 699.1h20.83v20.83h-20.83z"/><path fill="#ff728d" d="M951.7 955.5h20.83v20.83h-20.83z"/><path fill="#ff17e8" d="M488.1 1198.7h20.83v20.83h-20.83z"/><path fill="#ff31ce" d="M762.9 927.8h20.83v20.83h-20.83z"/><path fill="#ff21de" d="M725.3 909.4h20.83v20.83h-20.83z"/><path fill="#ff2cd3" d="M608.5 1122.1h20.83v20.83h-20.83z"/><path fill="#ff00ff" d="M488.6 1090.6h20.83v20.83h-20.83z"/><path fill="#ff847b" d="M1060.1 880.1h20.83v20.83h-20.83z"/><path fill="#ff7e81" d="M1109.5 784.8h20.83v20.83h-20.83z"/><path fill="#ff2fd0" d="M638.2 1094.5h20.83v20.83h-20.83z"/><path fill="#ff9669" d="M1037.4 994.3h20.83v20.83h-20.83z"/><path fill="#ffb748" d="M1107.3 1042.6h20.83v20.83h-20.83z"/><path fill="#ff0af5" d="M544.3 1063.2h20.83v20.83h-20.83z"/><path fill="#ff6f90" d="M904.3 1007.9h20.83v20.83h-20.83z"/><path fill="#ff0af5" d="M562.6 1037.4h20.83v20.83h-20.83z"/><path fill="#ff659a" d="M900.3 969.1h20.83v20.83h-20.83z"/><path fill="#ff25da" d="M735.2 913.6h20.83v20.83h-20.83z"/><path fill="#ff4db2" d="M786.5 1021.1h20.83v20.83h-20.83z"/><path fill="#ff32cd" d="M687.9 1040.8h20.83v20.83h-20.83z"/><path fill="#ffa55a" d="M992.2 1124.3h20.83v20.83h-20.83z"/><path fill="#ff52ad" d="M693.4 1172.0h20.83v20.83h-20.83z"/><path fill="#ff48b7" d="M919.6 810.8h20.83v20.83h-20.83z"/><path fill="#ff3dc2" d="M914.9 771.6h20.83v20.83h-20.83z"/><path fill="#ffa956" d="M975.7 1164.8h20.83v20.83h-20.83z"/><path fill="#ff07f8" d="M710.4 816.6h20.83v20.83h-20.83z"/><path fill="#ff35ca" d="M632.8 1128.0h20.83v20.83h-20.83z"/><path fill="#ff659a" d="M1005.3 822.9h20.83v20.83h-20.83z"/><path fill="#ff4bb4" d="M948.3 785.2h20.83v20.83h-20.83z"/><path fill="#ff2ad5" d="M671.6 1028.2h20.83v20.83h-20.83z"/><path fill="#ff26d9" d="M924.7 654.4h20.83v20.83h-20.83z"/><path fill="#ffb847" d="M989.6 1211.0h20.83v20.83h-20.83z"/><path fill="#ff4fb0" d="M679.2 1180.7h20.83v20.83h-20.83z"/><path fill="#ff13ec" d="M963.9 517.8h20.83v20.83h-20.83z"/><path fill="#ff0df2" d="M926.0 544.5h20.83v20.83h-20.83z"/><path fill="#ff27d8" d="M898.6 695.5h20.83v20.83h-20.83z"/><path fill="#ff00ff" d="M642.1 873.1h20.83v20.83h-20.83z"/><path fill="#ff04fb" d="M409.1 1223.4h20.83v20.83h-20.83z"/><path fill="#ff629d" d="M1006.4 804.8h20.83v20.83h-20.83z"/><path fill="#ff659a" d="M978.1 857.4h20.83v20.83h-20.83z"/><path fill="#ff26d9" d="M955.7 611.5h20.83v20.83h-20.83z"/><path fill="#ff14eb" d="M1008.8 457.9h20.83v20.83h-20.83z"/><path fill="#ff31ce" d="M990.9 612.6h20.83v20.83h-20.83z"/><path fill="#ff37c8" d="M1067.3 529.2h20.83v20.83h-20.83z"/><path fill="#ff08f7" d="M972.5 454.2h20.83v20.83h-20.83z"/><path fill="#ff06f9" d="M788.3 703.1h20.83v20.83h-20.83z"/><path fill="#ff728d" d="M1029.7 843.3h20.83v20.83h-20.83z"/><path fill="#ff26d9" d="M533.4 1201.4h20.83v20.83h-20.83z"/><path fill="#ff39c6" d="M698.4 1057.1h20.83v20.83h-20.83z"/><path fill="#ff8a75" d="M1006.7 981.9h20.83v20.83h-20.83z"/><path fill="#ff2bd4" d="M996.9 577.4h20.83v20.83h-20.83z"/><path fill="#ff00ff" d="M639.0 882.7h20.83v20.83h-20.83z"/><path fill="#ff26d9" d="M629.0 1068.3h20.83v20.83h-20.83z"/><path fill="#ff33cc" d="M772.8 922.9h20.83v20.83h-20.83z"/><path fill="#ff6d92" d="M884.4 1024.5h20.83v20.83h-20.83z"/><path fill="#ff40bf" d="M855.9 867.6h20.83v20.83h-20.83z"/><path fill="#ff43bc" d="M675.3 1130.7h20.83v20.83h-20.83z"/><path fill="#ffaf50" d="M1105.1 1008.7h20.83v20.83h-20.83z"/><path fill="#ff619e" d="M849.3 1023.2h20.83v20.83h-20.83z"/><path fill="#ff00ff" d="M596.6 930.0h20.83v20.83h-20.83z"/><path fill="#ff0cf3" d="M503.9 1126.2h20.83v20.83h-20.83z"/><path fill="#ff6699" d="M855.8 1036.2h20.83v20.83h-20.83z"/><path fill="#ff2dd2" d="M1061.6 495.2h20.83v20.83h-20.83z"/><path fill="#ffbb44" d="M1096.5 1073.9h20.83v20.83h-20.83z"/><path fill="#ff43bc" d="M661.5 1150.8h20.83v20.83h-20.83z"/><path fill="#ff07f8" d="M436.3 1202.4h20.83v20.83h-20.83z"/><path fill="#ff28d7" d="M1000.0 558.9h20.83v20.83h-20.83z"/><path fill="#ff7887" d="M818.8 1164.9h20.83v20.83h-20.83z"/><path fill="#ff24db" d="M896.1 685.7h20.83v20.83h-20.83z"/><path fill="#ff42bd" d="M876.5 847.6h20.83v20.83h-20.83z"/><path fill="#ff18e7" d="M936.7 578.4h20.83v20.83h-20.83z"/><path fill="#ff00ff" d="M498.9 1075.8h20.83v20.83h-20.83z"/><path fill="#ff06f9" d="M682.0 853.8h20.83v20.83h-20.83z"/><path fill="#ff8d72" d="M993.3 1012.5h20.83v20.83h-20.83z"/><path fill="#ff3fc0" d="M1029.2 619.5h20.83v20.83h-20.83z"/><path fill="#ff26d9" d="M1051.7 477.7h20.83v20.83h-20.83z"/><path fill="#ff1be4" d="M527.0 1162.0h20.83v20.83h-20.83z"/><path fill="#ff59a6" d="M957.5 835.8h20.83v20.83h-20.83z"/><path fill="#ff6d92" d="M850.4 1072.6h20.83v20.83h-20.83z"/><path fill="#ff59a6" d="M941.1 858.9h20.83v20.83h-20.83z"/><path fill="#ff2dd2" d="M772.8 896.1h20.83v20.83h-20.83z"/><path fill="#ff04fb" d="M620.1 928.8h20.83v20.83h-20.83z"/><path fill="#ff807f" d="M1066.3 855.6h20.83v20.83h-20.83z"/><path fill="#ff3bc4" d="M595.0 1210.8h20.83v20.83h-20.83z"/><path fill="#ffcc33" d="M1055.5 1205.6h20.83v20.83h-20.83z"/><path fill="#ff7e81" d="M978.9 967.3h20.83v20.83h-20.83z"/><path fill="#ffa55a" d="M967.8 1155.4h20.83v20.83h-20.83z"/><path fill="#ff33cc" d="M925.6 711.9h20.83v20.83h-20.83z"/><path fill="#ff41be" d="M849.7 878.9h20.83v20.83h-20.83z"/><path fill="#ff9966" d="M1001.9 1054.8h20.83v20.83h-20.83z"/><path fill="#ff3cc3" d="M881.1 814.7h20.83v20.83h-20.83z"/><path fill="#ff00ff" d="M431.5 1164.3h20.83v20.83h-20.83z"/><path fill="#ff2fd0" d="M659.0 1065.2h20.83v20.83h-20.83z"/><path fill="#ff42bd" d="M1017.1 649.1h20.83v20.83h-20.83z"/><path fill="#ff9768" d="M1103.4 902.9h20.83v20.83h-20.83z"/><path fill="#ff0af5" d="M1019.3 399.0h20.83v20.83h-20.83z"/><path fill="#ff26d9" d="M522.5 1219.2h20.83v20.83h-20.83z"/><path fill="#ff3fc0" d="M960.2 716.8h20.83v20.83h-20.83z"/><path fill="#ffa758" d="M1059.8 1038.5h20.83v20.83h-20.83z"/><path fill="#ff11ee" d="M1008.1 443.2h20.83v20.83h-20.83z"/><path fill="#ff13ec" d="M1067.1 370.9h20.83v20.83h-20.83z"/><path fill="#ff8d72" d="M858.2 1203.4h20.83v20.83h-20.83z"/><path fill="#ff45ba" d="M753.9 1028.8h20.83v20.83h-20.83z"/><path fill="#ff53ac" d="M753.5 1093.0h20.83v20.83h-20.83z"/><path fill="#ff42bd" d="M935.6 765.3h20.83v20.83h-20.83z"/><path fill="#ff00ff" d="M1042.8 305.6h20.83v20.83h-20.83z"/><path fill="#ffac53" d="M1045.8 1077.1h20.83v20.83h-20.83z"/><path fill="#ff33cc" d="M1028.4 567.6h20.83v20.83h-20.83z"/><path fill="#ff58a7" d="M822.4 1019.8h20.83v20.83h-20.83z"/><path fill="#ff49b6" d="M686.7 1140.6h20.83v20.83h-20.83z"/><path fill="#ff4bb4" d="M669.4 1174.1h20.83v20.83h-20.83z"/><path fill="#ff2bd4" d="M1050.3 500.8h20.83v20.83h-20.83z"/><path fill="#ff7e81" d="M1072.5 836.4h20.83v20.83h-20.83z"/><path fill="#ff0bf4" d="M936.1 519.1h20.83v20.83h-20.83z"/><path fill="#ffb847" d="M1083.5 1080.0h20.83v20.83h-20.83z"/><path fill="#ff00ff" d="M549.3 1002.3h20.83v20.83h-20.83z"/><path fill="#ff39c6" d="M927.8 734.4h20.83v20.83h-20.83z"/><path fill="#ff48b7" d="M868.4 884.8h20.83v20.83h-20.83z"/><path fill="#ff8679" d="M1019.1 948.9h20.83v20.83h-20.83z"/><path fill="#ff3dc2" d="M704.1 1065.8h20.83v20.83h-20.83z"/><path fill="#ffc13e" d="M1058.6 1151.5h20.83v20.83h-20.83z"/><path fill="#ffbd42" d="M1008.9 1206.7h20.83v20.83h-20.83z"/><path fill="#ff2dd2" d="M980.8 609.6h20.83v20.83h-20.83z"/><path fill="#ffb748" d="M1098.3 1055.5h20.83v20.83h-20.83z"/><path fill="#ff03fc" d="M1029.7 354.6h20.83v20.83h-20.83z"/><path fill="#ff20df" d="M616.5 1059.7h20.83v20.83h-20.83z"/><path fill="#ff2cd3" d="M929.1 674.2h20.83v20.83h-20.83z"/><path fill="#ffa05f" d="M955.3 1151.4h20.83v20.83h-20.83z"/><path fill="#ff10ef" d="M513.7 1132.9h20.83v20.83h-20.83z"/><path fill="#ff57a8" d="M963.5 816.3h20.83v20.83h-20.83z"/><path fill="#ff01fe" d="M836.4 613.3h20.83v20.83h-20.83z"/><path fill="#ff08f7" d="M452.2 1182.3h20.83v20.83h-20.83z"/><path fill="#ff00ff" d="M444.3 1138.6h20.83v20.83h-20.83z"/><path fill="#ff936c" d="M1037.9 977.0h20.83v20.83h-20.83z"/><path fill="#ff32cd" d="M912.6 726.2h20.83v20.83h-20.83z"/><path fill="#ff659a" d="M816.6 1084.4h20.83v20.83h-20.83z"/><path fill="#ff6d92" d="M991.5 875.3h20.83v20.83h-20.83z"/><path fill="#ff27d8" d="M918.8 668.1h20.83v20.83h-20.83z"/><path fill="#ff1de2" d="M980.9 538.1h20.83v20.83h-20.83z"/><path fill="#ff659a" d="M727.9 1207.6h20.83v20.83h-20.83z"/><path fill="#ff55aa" d="M820.0 1009.0h20.83v20.83h-20.83z"/><path fill="#ff6b94" d="M753.3 1200.5h20.83v20.83h-20.83z"/><path fill="#ff8976" d="M849.9 1195.4h20.83v20.83h-20.83z"/><path fill="#ff00ff" d="M963.7 422.0h20.83v20.83h-20.83z"/><path fill="#ff1de2" d="M1061.6 422.9h20.83v20.83h-20.83z"/><path fill="#ff5ba4" d="M775.2 1099.3h20.83v20.83h-20.83z"/><path fill="#ff03fc" d="M527.1 1054.6h20.83v20.83h-20.83z"/><path fill="#ff946b" d="M879.2 1203.1h20.83v20.83h-20.83z"/><path fill="#ff42bd" d="M754.1 1018.3h20.83v20.83h-20.83z"/><path fill="#ff807f" d="M947.3 1022.3h20.83v20.83h-20.83z"/><path fill="#ff09f6" d="M998.2 422.5h20.83v20.83h-20.83z"/><path fill="#ff03fc" d="M568.3 997.6h20.83v20.83h-20.83z"/><path fill="#ff00ff" d="M579.4 957.2h20.83v20.83h-20.83z"/><path fill="#ff609f" d="M776.0 1118.2h20.83v20.83h-20.83z"/><path fill="#ff2dd2" d="M926.0 685.0h20.83v20.83h-20.83z"/><path fill="#ff9966" d="M882.3 1224.8h20.83v20.83h-20.83z"/><path fill="#ff56a9" d="M898.6 902.7h20.83v20.83h-20.83z"/><path fill="#ff24db" d="M1017.4 514.4h20.83v20.83h-20.83z"/><path fill="#ffc13e" d="M1090.0 1108.0h20.83v20.83h-20.83z"/><path fill="#ff6897" d="M1006.8 834.3h20.83v20.83h-20.83z"/><path fill="#ff36c9" d="M891.0 772.2h20.83v20.83h-20.83z"/><path fill="#ff5ea1" d="M1028.4 756.7h20.83v20.83h-20.83z"/><path fill="#ff33cc" d="M651.9 1092.6h20.83v20.83h-20.83z"/><path fill="#ff659a" d="M894.1 978.6h20.83v20.83h-20.83z"/><path fill="#ff17e8" d="M495.4 1189.0h20.83v20.83h-20.83z"/><path fill="#ff827d" d="M1078.3 849.0h20.83v20.83h-20.83z"/><path fill="#ff3ac5" d="M1109.9 484.4h20.83v20.83h-20.83z"/><path fill="#ff4cb3" d="M863.8 908.7h20.83v20.83h-20.83z"/><path fill="#ff1ae5" d="M561.6 1110.0h20.83v20.83h-20.83z"/><path fill="#ff00ff" d="M1016.6 345.9h20.83v20.83h-20.83z"/><path fill="#ffad52" d="M990.0 1160.1h20.83v20.83h-20.83z"/><path fill="#ff2ad5" d="M663.6 1038.6h20.83v20.83h-20.83z"/><path fill="#ff00ff" d="M974.2 416.0h20.83v20.83h-20.83zM625.7 893.2h20.83v20.83h-20.83z"/><path fill="#ff9e61" d="M1083.7 963.2h20.83v20.83h-20.83z"/><path fill="#ff2dd2" d="M901.1 718.2h20.83v20.83h-20.83z"/><path fill="#ffd32c" d="M1070.5 1216.9h20.83v20.83h-20.83z"/><path fill="#ff0bf4" d="M625.2 952.7h20.83v20.83h-20.83z"/><path fill="#ff01fe" d="M798.3 668.7h20.83v20.83h-20.83z"/><path fill="#ff3ec1" d="M952.1 723.7h20.83v20.83h-20.83z"/><path fill="#ff7c83" d="M1077.8 819.9h20.83v20.83h-20.83z"/><path fill="#ff5fa0" d="M1036.2 749.9h20.83v20.83h-20.83z"/><path fill="#ff17e8" d="M538.3 1129.9h20.83v20.83h-20.83z"/><path fill="#ff7887" d="M1108.6 759.5h20.83v20.83h-20.83z"/><path fill="#ff20df" d="M1118.6 357.9h20.83v20.83h-20.83z"/><path fill="#ffc837" d="M1093.6 1137.2h20.83v20.83h-20.83z"/><path fill="#ff09f6" d="M789.2 718.2h20.83v20.83h-20.83z"/><path fill="#ff06f9" d="M492.8 1116.6h20.83v20.83h-20.83z"/><path fill="#ff2ad5" d="M562.8 1177.6h20.83v20.83h-20.83z"/><path fill="#ff6a95" d="M785.1 1152.8h20.83v20.83h-20.83z"/><path fill="#ff07f8" d="M767.8 737.5h20.83v20.83h-20.83z"/><path fill="#ff10ef" d="M835.9 680.4h20.83v20.83h-20.83z"/><path fill="#ff0ef1" d="M555.3 1066.6h20.83v20.83h-20.83z"/><path fill="#ff49b6" d="M803.4 977.6h20.83v20.83h-20.83z"/><path fill="#ff40bf" d="M1094.4 533.7h20.83v20.83h-20.83z"/><path fill="#ff54ab" d="M924.9 859.2h20.83v20.83h-20.83z"/><path fill="#ff629d" d="M995.1 823.0h20.83v20.83h-20.83z"/><path fill="#ff16e9" d="M796.0 763.1h20.83v20.83h-20.83z"/><path fill="#ff659a" d="M1102.3 684.2h20.83v20.83h-20.83z"/><path fill="#ff6996" d="M905.5 979.4h20.83v20.83h-20.83z"/><path fill="#ffaf50" d="M1040.9 1099.5h20.83v20.83h-20.83z"/><path fill="#ff2fd0" d="M700.0 1007.8h20.83v20.83h-20.83z"/><path fill="#ff0bf4" d="M963.8 481.1h20.83v20.83h-20.83z"/><path fill="#ff6897" d="M891.0 993.6h20.83v20.83h-20.83z"/><path fill="#ff3cc3" d="M626.3 1171.3h20.83v20.83h-20.83z"/><path fill="#ff21de" d="M548.7 1160.1h20.83v20.83h-20.83z"/><path fill="#ff32cd" d="M720.0 995.3h20.83v20.83h-20.83z"/><path fill="#ff44bb" d="M835.9 911.8h20.83v20.83h-20.83z"/><path fill="#ff926d" d="M950.7 1098.1h20.83v20.83h-20.83z"/><path fill="#ff6b94" d="M1021.5 824.9h20.83v20.83h-20.83z"/><path fill="#ff4cb3" d="M1082.1 601.5h20.83v20.83h-20.83z"/><path fill="#ff0ef1" d="M750.2 794.2h20.83v20.83h-20.83z"/><path fill="#ff11ee" d="M787.3 754.9h20.83v20.83h-20.83z"/><path fill="#ff629d" d="M887.4 970.7h20.83v20.83h-20.83z"/><path fill="#ff37c8" d="M748.5 976.8h20.83v20.83h-20.83z"/><path fill="#ff52ad" d="M1012.9 727.9h20.83v20.83h-20.83z"/><path fill="#ff59a6" d="M899.9 916.3h20.83v20.83h-20.83z"/><path fill="#ff8f70" d="M1109.2 861.1h20.83v20.83h-20.83z"/><path fill="#ff8e71" d="M911.1 1134.2h20.83v20.83h-20.83z"/><path fill="#ff40bf" d="M642.2 1163.4h20.83v20.83h-20.83z"/><path fill="#ff0af5" d="M967.9 469.3h20.83v20.83h-20.83z"/><path fill="#ffb54a" d="M973.3 1219.0h20.83v20.83h-20.83z"/><path fill="#ff6a95" d="M836.6 1078.2h20.83v20.83h-20.83z"/><path fill="#ff6699" d="M1023.9 799.6h20.83v20.83h-20.83z"/><path fill="#ff1de2" d="M931.5 606.9h20.83v20.83h-20.83z"/><path fill="#ff2ad5" d="M550.3 1197.8h20.83v20.83h-20.83z"/><path fill="#ff21de" d="M1007.2 518.0h20.83v20.83h-20.83z"/><path fill="#ff8a75" d="M860.6 1188.7h20.83v20.83h-20.83z"/><path fill="#ff28d7" d="M848.7 769.1h20.83v20.83h-20.83z"/><path fill="#ff51ae" d="M850.3 950.0h20.83v20.83h-20.83z"/><path fill="#ff8f70" d="M905.9 1143.6h20.83v20.83h-20.83z"/><path fill="#ff23dc" d="M511.9 1219.8h20.83v20.83h-20.83z"/><path fill="#ff20df" d="M729.9 900.4h20.83v20.83h-20.83z"/><path fill="#ff4ab5" d="M765.2 1036.4h20.83v20.83h-20.83z"/><path fill="#ff48b7" d="M813.1 963.2h20.83v20.83h-20.83z"/><path fill="#ff1ee1" d="M819.2 766.9h20.83v20.83h-20.83z"/><path fill="#ff26d9" d="M779.9 856.4h20.83v20.83h-20.83z"/><path fill="#ff5aa5" d="M833.6 1011.9h20.83v20.83h-20.83z"/><path fill="#ff6897" d="M1071.6 740.8h20.83v20.83h-20.83z"/><path fill="#ff47b8" d="M990.3 709.5h20.83v20.83h-20.83z"/><path fill="#ff00ff" d="M689.7 796.7h20.83v20.83h-20.83z"/><path fill="#ff906f" d="M1103.2 873.4h20.83v20.83h-20.83z"/><path fill="#ff7d82" d="M983.3 956.7h20.83v20.83h-20.83z"/><path fill="#ff807f" d="M1058.9 865.6h20.83v20.83h-20.83z"/><path fill="#ff6d92" d="M742.1 1223.9h20.83v20.83h-20.83z"/><path fill="#ff19e6" d="M668.2 954.9h20.83v20.83h-20.83z"/><path fill="#ff3bc4" d="M655.9 1123.5h20.83v20.83h-20.83z"/><path fill="#ff00ff" d="M567.9 972.0h20.83v20.83h-20.83z"/><path fill="#ff718e" d="M1087.4 759.3h20.83v20.83h-20.83z"/><path fill="#ff39c6" d="M573.8 1228.1h20.83v20.83h-20.83z"/><path fill="#ff4eb1" d="M715.5 1123.6h20.83v20.83h-20.83z"/><path fill="#ff43bc" d="M708.5 1086.2h20.83v20.83h-20.83z"/><path fill="#ff29d6" d="M975.3 596.9h20.83v20.83h-20.83z"/><path fill="#ff38c7" d="M616.7 1164.5h20.83v20.83h-20.83z"/><path fill="#ff817e" d="M857.8 1152.1h20.83v20.83h-20.83z"/><path fill="#ff40bf" d="M861.4 857.9h20.83v20.83h-20.83z"/><path fill="#ff1ce3" d="M638.3 1010.5h20.83v20.83h-20.83z"/><path fill="#ff728d" d="M1009.0 873.7h20.83v20.83h-20.83z"/><path fill="#ff738c" d="M820.0 1141.0h20.83v20.83h-20.83z"/><path fill="#ff03fc" d="M661.5 869.0h20.83v20.83h-20.83z"/><path fill="#ff5fa0" d="M876.0 973.9h20.83v20.83h-20.83z"/><path fill="#ffb04f" d="M1033.2 1113.8h20.83v20.83h-20.83z"/><path fill="#ff15ea" d="M654.9 957.6h20.83v20.83h-20.83z"/><path fill="#ff00ff" d="M705.7 781.3h20.83v20.83h-20.83z"/><path fill="#ff05fa" d="M425.0 1206.6h20.83v20.83h-20.83z"/><path fill="#ff748b" d="M1099.5 755.0h20.83v20.83h-20.83z"/><path fill="#ff738c" d="M891.1 1041.2h20.83v20.83h-20.83z"/><path fill="#ff24db" d="M567.9 1145.2h20.83v20.83h-20.83z"/><path fill="#ff0cf3" d="M952.3 501.2h20.83v20.83h-20.83z"/><path fill="#ff3ec1" d="M738.0 1021.1h20.83v20.83h-20.83z"/><path fill="#ff47b8" d="M767.1 1022.8h20.83v20.83h-20.83z"/><path fill="#ff6e91" d="M956.1 929.0h20.83v20.83h-20.83z"/><path fill="#ff837c" d="M1008.6 949.4h20.83v20.83h-20.83z"/><path fill="#ff00ff" d="M901.7 521.0h20.83v20.83h-20.83zM991.8 370.8h20.83v20.83h-20.83z"/><path fill="#ff4fb0" d="M939.3 815.2h20.83v20.83h-20.83z"/><path fill="#ff00ff" d="M583.7 953.9h20.83v20.83h-20.83z"/><path fill="#ff9768" d="M1010.8 1034.4h20.83v20.83h-20.83z"/><path fill="#ff24db" d="M726.8 920.7h20.83v20.83h-20.83z"/><path fill="#ff49b6" d="M848.5 914.5h20.83v20.83h-20.83z"/><path fill="#ffa35c" d="M912.3 1227.3h20.83v20.83h-20.83z"/><path fill="#ff22dd" d="M946.3 607.8h20.83v20.83h-20.83z"/><path fill="#ffa25d" d="M988.7 1113.5h20.83v20.83h-20.83z"/><path fill="#ffac53" d="M951.2 1211.9h20.83v20.83h-20.83z"/><path fill="#ff18e7" d="M872.8 666.7h20.83v20.83h-20.83z"/><path fill="#ff827d" d="M936.8 1045.0h20.83v20.83h-20.83z"/><path fill="#ff946b" d="M1092.1 905.6h20.83v20.83h-20.83z"/><path fill="#ff16e9" d="M666.7 943.8h20.83v20.83h-20.83z"/><path fill="#ff3fc0" d="M893.2 808.0h20.83v20.83h-20.83z"/><path fill="#ff00ff" d="M833.1 609.3h20.83v20.83h-20.83z"/><path fill="#ff837c" d="M1051.7 888.0h20.83v20.83h-20.83z"/><path fill="#ff6d92" d="M1047.3 798.3h20.83v20.83h-20.83z"/><path fill="#ff08f7" d="M574.7 1010.4h20.83v20.83h-20.83z"/><path fill="#ff00ff" d="M433.1 1176.1h20.83v20.83h-20.83z"/><path fill="#ff03fc" d="M771.7 713.5h20.83v20.83h-20.83z"/><path fill="#ff8a75" d="M1110.8 835.3h20.83v20.83h-20.83z"/><path fill="#ff53ac" d="M793.5 1037.6h20.83v20.83h-20.83z"/><path fill="#ff6c93" d="M956.6 918.6h20.83v20.83h-20.83z"/><path fill="#ff09f6" d="M1042.3 360.9h20.83v20.83h-20.83z"/><path fill="#ff38c7" d="M856.1 830.6h20.83v20.83h-20.83zM871.9 809.4h20.83v20.83h-20.83z"/><path fill="#ff19e6" d="M505.4 1185.1h20.83v20.83h-20.83z"/><path fill="#ff0af5" d="M449.7 1193.8h20.83v20.83h-20.83z"/><path fill="#ff00ff" d="M465.7 1126.2h20.83v20.83h-20.83z"/><path fill="#ff7689" d="M836.9 1132.4h20.83v20.83h-20.83z"/><path fill="#ff1fe0" d="M776.7 831.3h20.83v20.83h-20.83z"/><path fill="#ff19e6" d="M1003.4 488.3h20.83v20.83h-20.83z"/><path fill="#ff47b8" d="M832.5 928.4h20.83v20.83h-20.83z"/><path fill="#ff1be4" d="M478.7 1230.8h20.83v20.83h-20.83z"/><path fill="#ff6996" d="M1105.3 696.6h20.83v20.83h-20.83z"/><path fill="#ff9b64" d="M926.4 1168.5h20.83v20.83h-20.83z"/><path fill="#ff01fe" d="M896.0 530.5h20.83v20.83h-20.83z"/><path fill="#ff10ef" d="M937.4 539.6h20.83v20.83h-20.83z"/><path fill="#ff44bb" d="M951.1 749.6h20.83v20.83h-20.83z"/><path fill="#ff3bc4" d="M631.1 1156.5h20.83v20.83h-20.83z"/><path fill="#ff619e" d="M750.2 1159.1h20.83v20.83h-20.83z"/><path fill="#ff9768" d="M929.3 1149.9h20.83v20.83h-20.83z"/><path fill="#ff6b94" d="M902.6 992.0h20.83v20.83h-20.83z"/><path fill="#ff1ee1" d="M678.7 964.5h20.83v20.83h-20.83z"/><path fill="#ff17e8" d="M640.7 984.8h20.83v20.83h-20.83z"/><path fill="#ff54ab" d="M1051.1 683.1h20.83v20.83h-20.83z"/><path fill="#ff9669" d="M1120.0 875.1h20.83v20.83h-20.83z"/><path fill="#ff54ab" d="M989.2 768.4h20.83v20.83h-20.83z"/><path fill="#ff1be4" d="M823.8 747.6h20.83v20.83h-20.83z"/><path fill="#ff1ee1" d="M701.0 932.2h20.83v20.83h-20.83z"/><path fill="#ff16e9" d="M580.4 1064.9h20.83v20.83h-20.83z"/><path fill="#ff6e91" d="M749.5 1216.2h20.83v20.83h-20.83z"/><path fill="#ff00ff" d="M894.5 514.4h20.83v20.83h-20.83z"/><path fill="#ff49b6" d="M735.4 1073.9h20.83v20.83h-20.83z"/><path fill="#ff9b64" d="M973.3 1105.4h20.83v20.83h-20.83z"/><path fill="#ff05fa" d="M747.7 754.9h20.83v20.83h-20.83z"/><path fill="#ff18e7" d="M527.0 1150.5h20.83v20.83h-20.83z"/><path fill="#ff04fb" d="M544.3 1037.0h20.83v20.83h-20.83z"/><path fill="#ff857a" d="M846.7 1182.6h20.83v20.83h-20.83z"/><path fill="#ff946b" d="M917.8 1149.5h20.83v20.83h-20.83z"/><path fill="#ff5aa5" d="M1109.4 625.5h20.83v20.83h-20.83z"/><path fill="#ff3cc3" d="M686.5 1085.9h20.83v20.83h-20.83z"/><path fill="#ff906f" d="M1005.0 1010.7h20.83v20.83h-20.83z"/><path fill="#ffd629" d="M1081.9 1213.3h20.83v20.83h-20.83z"/><path fill="#ff5ea1" d="M1021.2 765.9h20.83v20.83h-20.83z"/><path fill="#ff00ff" d="M780.4 690.3h20.83v20.83h-20.83z"/><path fill="#ff27d8" d="M1062.6 468.7h20.83v20.83h-20.83z"/><path fill="#ff25da" d="M1013.3 527.9h20.83v20.83h-20.83z"/><path fill="#ff6798" d="M727.9 1219.6h20.83v20.83h-20.83z"/><path fill="#ffab54" d="M993.0 1148.4h20.83v20.83h-20.83z"/><path fill="#ff15ea" d="M703.7 889.5h20.83v20.83h-20.83z"/><path fill="#ff05fa" d="M845.4 618.6h20.83v20.83h-20.83z"/><path fill="#ff738c" d="M935.2 982.3h20.83v20.83h-20.83z"/><path fill="#ff50af" d="M830.1 972.7h20.83v20.83h-20.83z"/><path fill="#ff817e" d="M865.8 1139.1h20.83v20.83h-20.83z"/><path fill="#ffd22d" d="M1119.9 1144.2h20.83v20.83h-20.83z"/><path fill="#ff11ee" d="M1048.0 390.7h20.83v20.83h-20.83z"/><path fill="#ff00ff" d="M739.3 747.2h20.83v20.83h-20.83z"/><path fill="#ff11ee" d="M574.6 1049.6h20.83v20.83h-20.83z"/><path fill="#ff6a95" d="M1082.2 737.5h20.83v20.83h-20.83z"/><path fill="#ff708f" d="M862.7 1068.2h20.83v20.83h-20.83z"/><path fill="#ff11ee" d="M631.0 974.6h20.83v20.83h-20.83z"/><path fill="#ff00ff" d="M669.4 828.4h20.83v20.83h-20.83z"/><path fill="#ff6996" d="M855.2 1050.4h20.83v20.83h-20.83z"/><path fill="#ff37c8" d="M836.4 852.3h20.83v20.83h-20.83z"/><path fill="#ff03fc" d="M535.3 1046.2h20.83v20.83h-20.83z"/><path fill="#ff5da2" d="M889.8 947.7h20.83v20.83h-20.83z"/><path fill="#ff3ac5" d="M736.1 1007.0h20.83v20.83h-20.83z"/><path fill="#ff9867" d="M1114.5 895.0h20.83v20.83h-20.83z"/><path fill="#ff26d9" d="M593.1 1119.4h20.83v20.83h-20.83z"/><path fill="#ff00ff" d="M867.4 553.0h20.83v20.83h-20.83z"/><path fill="#ff9c63" d="M1011.9 1054.6h20.83v20.83h-20.83z"/><path fill="#ff1ae5" d="M1032.4 449.9h20.83v20.83h-20.83z"/><path fill="#ff17e8" d="M529.3 1140.7h20.83v20.83h-20.83z"/><path fill="#ff07f8" d="M690.6 843.3h20.83v20.83h-20.83z"/><path fill="#ff3cc3" d="M693.1 1075.5h20.83v20.83h-20.83z"/><path fill="#ff6b94" d="M833.2 1088.6h20.83v20.83h-20.83z"/><path fill="#ff39c6" d="M601.3 1190.5h20.83v20.83h-20.83z"/><path fill="#ff56a9" d="M968.1 806.7h20.83v20.83h-20.83z"/><path fill="#ff00ff" d="M617.9 901.5h20.83v20.83h-20.83zM513.0 1041.6h20.83v20.83h-20.83z"/><path fill="#ff8b74" d="M895.3 1144.3h20.83v20.83h-20.83z"/><path fill="#ff9966" d="M1086.5 938.7h20.83v20.83h-20.83z"/><path fill="#ff758a" d="M910.6 1023.7h20.83v20.83h-20.83z"/><path fill="#ffb14e" d="M1084.6 1045.3h20.83v20.83h-20.83z"/><path fill="#ff6b94" d="M995.5 859.0h20.83v20.83h-20.83z"/><path fill="#ff00ff" d="M972.3 390.1h20.83v20.83h-20.83zM710.1 765.6h20.83v20.83h-20.83z"/><path fill="#ff2fd0" d="M838.4 815.5h20.83v20.83h-20.83z"/><path fill="#ff5aa5" d="M951.6 845.3h20.83v20.83h-20.83z"/><path fill="#ff24db" d="M769.3 861.7h20.83v20.83h-20.83z"/><path fill="#ff5fa0" d="M951.6 868.4h20.83v20.83h-20.83z"/><path fill="#ffbc43" d="M1109.0 1061.6h20.83v20.83h-20.83z"/><path fill="#ff0af5" d="M882.5 588.3h20.83v20.83h-20.83z"/><path fill="#ff44bb" d="M1008.0 671.3h20.83v20.83h-20.83z"/><path fill="#ff639c" d="M827.8 1061.5h20.83v20.83h-20.83z"/><path fill="#ff48b7" d="M647.9 1191.6h20.83v20.83h-20.83z"/><path fill="#ff3ac5" d="M667.2 1101.3h20.83v20.83h-20.83z"/><path fill="#ff49b6" d="M987.3 724.5h20.83v20.83h-20.83z"/><path fill="#ff0ff0" d="M712.8 851.5h20.83v20.83h-20.83z"/><path fill="#ff3dc2" d="M836.1 881.6h20.83v20.83h-20.83z"/><path fill="#ff926d" d="M975.1 1063.0h20.83v20.83h-20.83z"/><path fill="#ff8976" d="M982.8 1011.4h20.83v20.83h-20.83z"/><path fill="#ff837c" d="M885.4 1120.1h20.83v20.83h-20.83z"/><path fill="#ff54ab" d="M883.1 915.1h20.83v20.83h-20.83z"/><path fill="#ff0cf3" d="M653.0 917.8h20.83v20.83h-20.83z"/><path fill="#ff5aa5" d="M793.6 1070.0h20.83v20.83h-20.83z"/><path fill="#ff38c7" d="M998.8 630.6h20.83v20.83h-20.83z"/><path fill="#ffaa55" d="M1001.0 1132.0h20.83v20.83h-20.83z"/><path fill="#ff08f7" d="M980.2 443.8h20.83v20.83h-20.83z"/><path fill="#ff2bd4" d="M1108.0 419.9h20.83v20.83h-20.83z"/><path fill="#ffa25d" d="M944.7 1174.8h20.83v20.83h-20.83z"/><path fill="#ff916e" d="M854.9 1226.1h20.83v20.83h-20.83z"/><path fill="#ff20df" d="M832.9 757.8h20.83v20.83h-20.83z"/><path fill="#ff08f7" d="M520.0 1087.3h20.83v20.83h-20.83z"/><path fill="#ff0df2" d="M986.2 457.9h20.83v20.83h-20.83z"/><path fill="#ff758a" d="M1087.8 774.7h20.83v20.83h-20.83z"/><path fill="#ff7689" d="M859.4 1099.4h20.83v20.83h-20.83z"/><path fill="#ff44bb" d="M699.6 1100.5h20.83v20.83h-20.83z"/><path fill="#ff42bd" d="M911.7 797.2h20.83v20.83h-20.83z"/><path fill="#ff07f8" d="M588.0 989.0h20.83v20.83h-20.83z"/><path fill="#ff926d" d="M965.3 1077.3h20.83v20.83h-20.83z"/><path fill="#ff02fd" d="M548.9 1022.8h20.83v20.83h-20.83z"/><path fill="#ff45ba" d="M977.0 718.7h20.83v20.83h-20.83z"/><path fill="#ff2ed1" d="M1095.8 453.0h20.83v20.83h-20.83z"/><path fill="#ff52ad" d="M829.7 983.1h20.83v20.83h-20.83z"/><path fill="#ff50af" d="M890.2 891.0h20.83v20.83h-20.83z"/><path fill="#ff10ef" d="M492.4 1163.3h20.83v20.83h-20.83z"/><path fill="#ff1be4" d="M1030.0 460.7h20.83v20.83h-20.83z"/><path fill="#ff01fe" d="M622.7 914.3h20.83v20.83h-20.83z"/><path fill="#ffa956" d="M933.8 1220.9h20.83v20.83h-20.83z"/><path fill="#ff6f90" d="M971.5 913.5h20.83v20.83h-20.83z"/><path fill="#ff25da" d="M1085.9 427.2h20.83v20.83h-20.83z"/><path fill="#ff36c9" d="M965.6 670.4h20.83v20.83h-20.83zM667.5 1085.7h20.83v20.83h-20.83z"/><path fill="#ff4eb1" d="M879.1 896.4h20.83v20.83h-20.83z"/><path fill="#ff2ad5" d="M611.1 1111.3h20.83v20.83h-20.83z"/><path fill="#ff659a" d="M1069.6 729.0h20.83v20.83h-20.83z"/><path fill="#ff1fe0" d="M641.5 1021.6h20.83v20.83h-20.83z"/><path fill="#ff9768" d="M1073.6 947.8h20.83v20.83h-20.83z"/><path fill="#ffb649" d="M1112.3 1030.7h20.83v20.83h-20.83z"/><path fill="#ff3fc0" d="M1018.5 634.3h20.83v20.83h-20.83z"/><path fill="#ff5ea1" d="M988.8 811.3h20.83v20.83h-20.83z"/><path fill="#ff05fa" d="M920.0 514.8h20.83v20.83h-20.83z"/><path fill="#ff1ee1" d="M1113.1 357.9h20.83v20.83h-20.83z"/><path fill="#ff8c73" d="M1110.3 847.6h20.83v20.83h-20.83z"/><path fill="#ffda25" d="M1086.7 1222.4h20.83v20.83h-20.83z"/><path fill="#ff26d9" d="M651.8 1036.2h20.83v20.83h-20.83z"/><path fill="#ff5fa0" d="M811.5 1063.4h20.83v20.83h-20.83z"/><path fill="#ff827d" d="M944.8 1034.8h20.83v20.83h-20.83z"/><path fill="#ff7a85" d="M803.8 1197.6h20.83v20.83h-20.83z"/><path fill="#ff3bc4" d="M903.2 777.6h20.83v20.83h-20.83z"/><path fill="#ff659a" d="M786.6 1127.3h20.83v20.83h-20.83z"/><path fill="#ff21de" d="M1077.6 417.9h20.83v20.83h-20.83z"/><path fill="#ff49b6" d="M880.9 873.0h20.83v20.83h-20.83z"/><path fill="#ff56a9" d="M852.5 969.9h20.83v20.83h-20.83z"/><path fill="#ff07f8" d="M775.2 727.7h20.83v20.83h-20.83z"/><path fill="#ff32cd" d="M637.0 1110.8h20.83v20.83h-20.83z"/><path fill="#ffb44b" d="M999.8 1176.9h20.83v20.83h-20.83z"/><path fill="#ff5ba4" d="M763.9 1112.2h20.83v20.83h-20.83z"/><path fill="#ff857a" d="M1100.1 831.7h20.83v20.83h-20.83z"/><path fill="#ff4eb1" d="M695.7 1153.7h20.83v20.83h-20.83z"/><path fill="#ff5ea1" d="M820.7 1048.6h20.83v20.83h-20.83z"/><path fill="#ffb24d" d="M1070.0 1073.1h20.83v20.83h-20.83z"/><path fill="#ff20df" d="M690.0 957.0h20.83v20.83h-20.83z"/><path fill="#ff9867" d="M956.1 1116.4h20.83v20.83h-20.83z"/><path fill="#ff49b6" d="M1081.5 591.2h20.83v20.83h-20.83z"/><path fill="#ff5da2" d="M712.4 1197.1h20.83v20.83h-20.83z"/><path fill="#ff00ff" d="M532.3 1029.6h20.83v20.83h-20.83z"/><path fill="#ffa956" d="M960.0 1183.3h20.83v20.83h-20.83z"/><path fill="#ff52ad" d="M905.4 878.3h20.83v20.83h-20.83z"/><path fill="#ff00ff" d="M878.1 553.1h20.83v20.83h-20.83z"/><path fill="#ff3fc0" d="M1119.6 495.2h20.83v20.83h-20.83z"/><path fill="#ff54ab" d="M691.3 1183.0h20.83v20.83h-20.83z"/><path fill="#ff47b8" d="M1082.1 579.9h20.83v20.83h-20.83z"/><path fill="#ff4ab5" d="M895.9 853.6h20.83v20.83h-20.83z"/><path fill="#ff21de" d="M1109.4 372.9h20.83v20.83h-20.83z"/><path fill="#ff9966" d="M1039.3 1004.4h20.83v20.83h-20.83z"/><path fill="#ff2cd3" d="M561.2 1189.1h20.83v20.83h-20.83z"/><path fill="#ff27d8" d="M876.6 726.9h20.83v20.83h-20.83z"/><path fill="#ffa956" d="M1105.6 981.9h20.83v20.83h-20.83z"/><path fill="#ff0af5" d="M683.5 867.9h20.83v20.83h-20.83z"/><path fill="#ff01fe" d="M746.5 741.0h20.83v20.83h-20.83z"/><path fill="#ff13ec" d="M1117.4 302.2h20.83v20.83h-20.83z"/><path fill="#ff0ef1" d="M952.1 511.7h20.83v20.83h-20.83z"/><path fill="#ff1ee1" d="M1055.7 437.0h20.83v20.83h-20.83z"/><path fill="#ff7986" d="M783.5 1218.1h20.83v20.83h-20.83z"/><path fill="#ff7b84" d="M846.1 1139.3h20.83v20.83h-20.83z"/><path fill="#ff00ff" d="M988.2 396.8h20.83v20.83h-20.83z"/><path fill="#ff8a75" d="M1097.9 855.8h20.83v20.83h-20.83z"/><path fill="#ff3cc3" d="M1008.3 636.7h20.83v20.83h-20.83z"/><path fill="#ff1de2" d="M496.4 1213.7h20.83v20.83h-20.83z"/><path fill="#ff3bc4" d="M660.8 1114.6h20.83v20.83h-20.83z"/><path fill="#ff22dd" d="M957.6 589.2h20.83v20.83h-20.83z"/><path fill="#ff35ca" d="M945.3 692.9h20.83v20.83h-20.83z"/><path fill="#ff6d92" d="M1082.8 749.4h20.83v20.83h-20.83z"/><path fill="#ff08f7" d="M748.1 768.2h20.83v20.83h-20.83z"/><path fill="#ffc837" d="M1024.3 1230.5h20.83v20.83h-20.83z"/><path fill="#ff3bc4" d="M749.3 991.5h20.83v20.83h-20.83z"/><path fill="#ff2ed1" d="M549.7 1214.6h20.83v20.83h-20.83z"/><path fill="#ff00ff" d="M421.9 1186.5h20.83v20.83h-20.83z"/><path fill="#ff18e7" d="M513.7 1169.8h20.83v20.83h-20.83z"/><path fill="#ff00ff" d="M907.9 511.6h20.83v20.83h-20.83z"/><path fill="#ff15ea" d="M1078.7 365.9h20.83v20.83h-20.83z"/><path fill="#ff1ce3" d="M759.1 842.5h20.83v20.83h-20.83z"/><path fill="#ff00ff" d="M462.1 1135.5h20.83v20.83h-20.83z"/><path fill="#ff27d8" d="M1068.6 458.4h20.83v20.83h-20.83z"/><path fill="#ff4bb4" d="M942.5 795.2h20.83v20.83h-20.83z"/><path fill="#ff9867" d="M906.6 1185.4h20.83v20.83h-20.83z"/><path fill="#ff1ce3" d="M1071.9 403.1h20.83v20.83h-20.83z"/><path fill="#ff936c" d="M993.4 1041.0h20.83v20.83h-20.83z"/><path fill="#ff00ff" d="M476.5 1094.4h20.83v20.83h-20.83z"/><path fill="#ff3ac5" d="M918.3 751.3h20.83v20.83h-20.83z"/><path fill="#ff25da" d="M968.3 587.6h20.83v20.83h-20.83z"/><path fill="#ff738c" d="M984.0 914.3h20.83v20.83h-20.83z"/><path fill="#ff7b84" d="M1013.5 908.0h20.83v20.83h-20.83z"/><path fill="#ff00ff" d="M503.0 1052.8h20.83v20.83h-20.83z"/><path fill="#ff37c8" d="M702.0 1042.9h20.83v20.83h-20.83z"/><path fill="#ff13ec" d="M1044.5 404.3h20.83v20.83h-20.83z"/><path fill="#ff1de2" d="M689.1 942.9h20.83v20.83h-20.83z"/><path fill="#ff21de" d="M1042.8 468.5h20.83v20.83h-20.83z"/><path fill="#ff02fd" d="M1021.6 362.5h20.83v20.83h-20.83z"/><path fill="#ff44bb" d="M862.1 876.7h20.83v20.83h-20.83z"/><path fill="#ff31ce" d="M671.5 1056.8h20.83v20.83h-20.83z"/><path fill="#ff01fe" d="M672.9 844.7h20.83v20.83h-20.83z"/><path fill="#ffae51" d="M1074.7 1047.5h20.83v20.83h-20.83z"/><path fill="#ff7a85" d="M828.9 1160.0h20.83v20.83h-20.83z"/><path fill="#ff34cb" d="M864.5 800.9h20.83v20.83h-20.83z"/><path fill="#ff04fb" d="M978.5 429.0h20.83v20.83h-20.83z"/><path fill="#ff0cf3" d="M472.1 1171.9h20.83v20.83h-20.83z"/><path fill="#ff00ff" d="M403.6 1214.8h20.83v20.83h-20.83zM613.1 921.2h20.83v20.83h-20.83z"/><path fill="#ff7986" d="M858.0 1114.1h20.83v20.83h-20.83z"/><path fill="#ff23dc" d="M618.4 1070.3h20.83v20.83h-20.83z"/><path fill="#ff9e61" d="M1089.7 953.4h20.83v20.83h-20.83z"/><path fill="#ff52ad" d="M723.6 1131.0h20.83v20.83h-20.83z"/><path fill="#ff7887" d="M994.9 920.7h20.83v20.83h-20.83z"/><path fill="#ff22dd" d="M968.7 576.3h20.83v20.83h-20.83z"/><path fill="#ff37c8" d="M757.8 965.5h20.83v20.83h-20.83z"/><path fill="#ff44bb" d="M997.2 685.2h20.83v20.83h-20.83z"/><path fill="#ff728d" d="M806.3 1155.7h20.83v20.83h-20.83z"/><path fill="#ff10ef" d="M962.0 506.4h20.83v20.83h-20.83z"/><path fill="#ff53ac" d="M1021.1 718.9h20.83v20.83h-20.83z"/><path fill="#ffd827" d="M1077.7 1229.0h20.83v20.83h-20.83z"/><path fill="#ff8e71" d="M1046.2 944.0h20.83v20.83h-20.83z"/><path fill="#ff10ef" d="M685.4 892.6h20.83v20.83h-20.83z"/><path fill="#ff5ba4" d="M741.2 1145.2h20.83v20.83h-20.83z"/><path fill="#ff00ff" d="M607.2 915.4h20.83v20.83h-20.83z"/><path fill="#ff748b" d="M1008.9 884.3h20.83v20.83h-20.83z"/><path fill="#ff05fa" d="M598.9 965.3h20.83v20.83h-20.83z"/><path fill="#ff53ac" d="M888.1 905.4h20.83v20.83h-20.83z"/><path fill="#ff6a95" d="M977.3 882.7h20.83v20.83h-20.83z"/><path fill="#ff07f8" d="M581.5 999.2h20.83v20.83h-20.83z"/><path fill="#ff28d7" d="M552.6 1184.0h20.83v20.83h-20.83z"/><path fill="#ff4fb0" d="M747.9 1083.1h20.83v20.83h-20.83z"/><path fill="#ff04fb" d="M432.1 1192.3h20.83v20.83h-20.83z"/><path fill="#ff29d6" d="M584.0 1146.3h20.83v20.83h-20.83z"/><path fill="#ff16e9" d="M783.7 783.2h20.83v20.83h-20.83z"/><path fill="#ff7689" d="M1097.5 765.7h20.83v20.83h-20.83z"/><path fill="#ff17e8" d="M562.9 1093.5h20.83v20.83h-20.83z"/><path fill="#ff7b84" d="M882.9 1088.8h20.83v20.83h-20.83z"/><path fill="#ffb34c" d="M1113.6 1014.3h20.83v20.83h-20.83z"/><path fill="#ff1ce3" d="M679.6 954.1h20.83v20.83h-20.83z"/><path fill="#ff9e61" d="M1023.9 1045.2h20.83v20.83h-20.83z"/><path fill="#ff37c8" d="M979.8 654.7h20.83v20.83h-20.83z"/><path fill="#ff36c9" d="M675.9 1075.2h20.83v20.83h-20.83z"/><path fill="#ffa55a" d="M922.8 1218.1h20.83v20.83h-20.83z"/><path fill="#ff01fe" d="M924.5 490.8h20.83v20.83h-20.83z"/><path fill="#ff17e8" d="M616.9 1019.3h20.83v20.83h-20.83z"/><path fill="#ff58a7" d="M710.1 1177.2h20.83v20.83h-20.83z"/><path fill="#ff1ce3" d="M1023.0 474.5h20.83v20.83h-20.83z"/><path fill="#ff52ad" d="M773.7 1061.0h20.83v20.83h-20.83z"/><path fill="#ff05fa" d="M960.0 457.9h20.83v20.83h-20.83z"/><path fill="#ff629d" d="M1102.8 672.7h20.83v20.83h-20.83z"/><path fill="#ff01fe" d="M499.5 1087.4h20.83v20.83h-20.83z"/><path fill="#ff758a" d="M763.1 1230.7h20.83v20.83h-20.83z"/><path fill="#ff8e71" d="M1022.7 977.2h20.83v20.83h-20.83z"/><path fill="#ff6e91" d="M973.5 903.5h20.83v20.83h-20.83z"/><path fill="#ff1ee1" d="M995.5 519.5h20.83v20.83h-20.83z"/><path fill="#ffc639" d="M1096.9 1123.1h20.83v20.83h-20.83z"/><path fill="#ff4cb3" d="M1047.3 649.8h20.83v20.83h-20.83z"/><path fill="#ff00ff" d="M397.2 1212.3h20.83v20.83h-20.83z"/><path fill="#ff8a75" d="M995.2 1000.4h20.83v20.83h-20.83z"/><path fill="#ff609f" d="M709.6 1210.7h20.83v20.83h-20.83z"/><path fill="#ff00ff" d="M575.8 970.1h20.83v20.83h-20.83z"/><path fill="#ff6c93" d="M926.5 962.1h20.83v20.83h-20.83z"/><path fill="#ff1ae5" d="M1091.6 367.8h20.83v20.83h-20.83z"/><path fill="#ff738c" d="M835.6 1118.9h20.83v20.83h-20.83z"/><path fill="#ff718e" d="M1052.0 809.1h20.83v20.83h-20.83z"/><path fill="#ff23dc" d="M814.8 794.4h20.83v20.83h-20.83z"/><path fill="#ff20df" d="M759.1 861.7h20.83v20.83h-20.83z"/><path fill="#ff5da2" d="M738.9 1158.3h20.83v20.83h-20.83z"/><path fill="#ff847b" d="M986.3 985.8h20.83v20.83h-20.83z"/><path fill="#ff817e" d="M802.3 1227.7h20.83v20.83h-20.83z"/><path fill="#ff32cd" d="M698.7 1021.8h20.83v20.83h-20.83z"/><path fill="#ff738c" d="M779.8 1196.9h20.83v20.83h-20.83z"/><path fill="#ff7b84" d="M957.9 985.7h20.83v20.83h-20.83z"/><path fill="#ff48b7" d="M1101.7 557.6h20.83v20.83h-20.83z"/><path fill="#ff8976" d="M885.2 1149.7h20.83v20.83h-20.83z"/><path fill="#ff1ce3" d="M848.5 718.2h20.83v20.83h-20.83z"/><path fill="#ff11ee" d="M774.6 770.5h20.83v20.83h-20.83z"/><path fill="#ff1de2" d="M919.3 624.6h20.83v20.83h-20.83z"/><path fill="#ff16e9" d="M542.2 1119.7h20.83v20.83h-20.83z"/><path fill="#ffb54a" d="M1108.8 1030.8h20.83v20.83h-20.83z"/><path fill="#ff08f7" d="M1023.9 381.8h20.83v20.83h-20.83z"/><path fill="#ff8f70" d="M868.7 1196.4h20.83v20.83h-20.83z"/><path fill="#ff6a95" d="M728.0 1230.9h20.83v20.83h-20.83z"/><path fill="#ff44bb" d="M1119.1 517.3h20.83v20.83h-20.83z"/><path fill="#ff0df2" d="M886.1 599.4h20.83v20.83h-20.83z"/><path fill="#ffab54" d="M1062.1 1050.1h20.83v20.83h-20.83z"/><path fill="#ffb14e" d="M978.1 1197.0h20.83v20.83h-20.83z"/><path fill="#ff4ab5" d="M627.0 1228.9h20.83v20.83h-20.83z"/><path fill="#ff738c" d="M773.6 1205.6h20.83v20.83h-20.83z"/><path fill="#ff24db" d="M1103.0 397.4h20.83v20.83h-20.83z"/><path fill="#ff05fa" d="M837.6 632.9h20.83v20.83h-20.83z"/><path fill="#ff52ad" d="M1060.0 662.6h20.83v20.83h-20.83z"/><path fill="#ff48b7" d="M898.0 841.9h20.83v20.83h-20.83z"/><path fill="#ff3dc2" d="M964.9 700.6h20.83v20.83h-20.83z"/><path fill="#ff0ff0" d="M918.5 564.0h20.83v20.83h-20.83z"/><path fill="#ff2ed1" d="M622.3 1115.2h20.83v20.83h-20.83z"/><path fill="#ff18e7" d="M592.4 1059.4h20.83v20.83h-20.83z"/><path fill="#ff857a" d="M819.5 1223.3h20.83v20.83h-20.83z"/><path fill="#ff29d6" d="M632.0 1079.4h20.83v20.83h-20.83z"/><path fill="#ff0cf3" d="M871.4 613.5h20.83v20.83h-20.83z"/><path fill="#ff07f8" d="M1009.1 399.0h20.83v20.83h-20.83z"/><path fill="#ff2ed1" d="M728.7 964.0h20.83v20.83h-20.83z"/><path fill="#ff5ca3" d="M695.7 1215.6h20.83v20.83h-20.83z"/><path fill="#ff26d9" d="M616.0 1088.7h20.83v20.83h-20.83z"/><path fill="#ff05fa" d="M673.1 861.6h20.83v20.83h-20.83z"/><path fill="#ff43bc" d="M636.2 1187.9h20.83v20.83h-20.83z"/><path fill="#ff837c" d="M834.2 1190.8h20.83v20.83h-20.83z"/><path fill="#ff15ea" d="M695.6 901.2h20.83v20.83h-20.83z"/><path fill="#ffaf50" d="M1007.6 1146.6h20.83v20.83h-20.83z"/><path fill="#ff50af" d="M861.0 930.0h20.83v20.83h-20.83z"/><path fill="#ffc13e" d="M1118.8 1067.0h20.83v20.83h-20.83z"/><path fill="#ff1ee1" d="M958.2 573.9h20.83v20.83h-20.83z"/><path fill="#ff03fc" d="M517.9 1069.8h20.83v20.83h-20.83z"/><path fill="#ff52ad" d="M766.5 1072.1h20.83v20.83h-20.83z"/><path fill="#ff00ff" d="M761.2 702.6h20.83v20.83h-20.83z"/><path fill="#ff718e" d="M850.3 1090.0h20.83v20.83h-20.83z"/><path fill="#ff26d9" d="M965.3 599.1h20.83v20.83h-20.83z"/><path fill="#ff24db" d="M1097.2 406.9h20.83v20.83h-20.83z"/><path fill="#ffa25d" d="M1104.7 950.6h20.83v20.83h-20.83z"/><path fill="#ff3fc0" d="M681.9 1103.4h20.83v20.83h-20.83z"/><path fill="#ffe41b" d="M1119.1 1223.9h20.83v20.83h-20.83z"/><path fill="#ff1ce3" d="M942.8 587.5h20.83v20.83h-20.83z"/><path fill="#ff0cf3" d="M715.5 830.2h20.83v20.83h-20.83z"/><path fill="#ff48b7" d="M1066.0 606.6h20.83v20.83h-20.83z"/><path fill="#ff00ff" d="M885.9 531.6h20.83v20.83h-20.83z"/><path fill="#ff7986" d="M1100.7 776.6h20.83v20.83h-20.83z"/><path fill="#ff12ed" d="M981.0 489.4h20.83v20.83h-20.83z"/><path fill="#ff00ff" d="M420.7 1171.6h20.83v20.83h-20.83z"/><path fill="#ff24db" d="M678.3 989.8h20.83v20.83h-20.83z"/><path fill="#ff59a6" d="M751.3 1123.6h20.83v20.83h-20.83z"/><path fill="#ff22dd" d="M581.8 1115.8h20.83v20.83h-20.83z"/><path fill="#ffb14e" d="M1016.4 1139.4h20.83v20.83h-20.83z"/><path fill="#ffac53" d="M1029.1 1103.3h20.83v20.83h-20.83z"/><path fill="#ff0ef1" d="M743.2 802.3h20.83v20.83h-20.83z"/><path fill="#ff01fe" d="M442.1 1168.0h20.83v20.83h-20.83z"/><path fill="#ffa25d" d="M931.2 1195.2h20.83v20.83h-20.83z"/><path fill="#ff2cd3" d="M645.3 1072.2h20.83v20.83h-20.83z"/><path fill="#ff0ff0" d="M690.6 879.9h20.83v20.83h-20.83z"/><path fill="#ff13ec" d="M542.3 1103.7h20.83v20.83h-20.83z"/><path fill="#ff56a9" d="M1108.1 609.0h20.83v20.83h-20.83z"/><path fill="#ff33cc" d="M962.1 659.5h20.83v20.83h-20.83z"/><path fill="#ff00ff" d="M995.8 384.2h20.83v20.83h-20.83z"/><path fill="#ff7788" d="M933.2 1001.4h20.83v20.83h-20.83z"/><path fill="#ff00ff" d="M552.0 1006.7h20.83v20.83h-20.83z"/><path fill="#ff7d82" d="M876.9 1105.1h20.83v20.83h-20.83z"/><path fill="#ff34cb" d="M891.9 761.6h20.83v20.83h-20.83z"/><path fill="#ff00ff" d="M983.0 382.2h20.83v20.83h-20.83z"/><path fill="#ff7788" d="M952.6 975.9h20.83v20.83h-20.83z"/><path fill="#ff29d6" d="M1011.3 546.2h20.83v20.83h-20.83z"/><path fill="#ff22dd" d="M1116.0 369.6h20.83v20.83h-20.83z"/><path fill="#ff738c" d="M943.7 968.6h20.83v20.83h-20.83z"/><path fill="#ff7887" d="M883.6 1075.0h20.83v20.83h-20.83z"/><path fill="#ffb14e" d="M1027.5 1124.1h20.83v20.83h-20.83z"/><path fill="#ff37c8" d="M625.9 1147.6h20.83v20.83h-20.83z"/><path fill="#ff04fb" d="M463.7 1149.4h20.83v20.83h-20.83z"/><path fill="#ff0df2" d="M673.6 897.0h20.83v20.83h-20.83z"/><path fill="#ff8b74" d="M931.3 1093.0h20.83v20.83h-20.83z"/><path fill="#ff12ed" d="M481.1 1184.4h20.83v20.83h-20.83z"/><path fill="#ff639c" d="M707.3 1229.5h20.83v20.83h-20.83z"/><path fill="#ff4ab5" d="M843.6 925.6h20.83v20.83h-20.83z"/><path fill="#ff0bf4" d="M1012.0 415.0h20.83v20.83h-20.83z"/><path fill="#ff00ff" d="M632.9 877.9h20.83v20.83h-20.83z"/><path fill="#ff09f6" d="M913.1 544.8h20.83v20.83h-20.83z"/><path fill="#ff10ef" d="M742.3 814.6h20.83v20.83h-20.83z"/><path fill="#ff39c6" d="M646.6 1128.5h20.83v20.83h-20.83z"/><path fill="#ff9c63" d="M1113.5 911.9h20.83v20.83h-20.83z"/><path fill="#ff9768" d="M966.3 1098.0h20.83v20.83h-20.83z"/><path fill="#ff1ee1" d="M557.1 1133.7h20.83v20.83h-20.83z"/><path fill="#ff4fb0" d="M900.9 868.4h20.83v20.83h-20.83z"/><path fill="#ff2fd0" d="M898.1 731.7h20.83v20.83h-20.83z"/><path fill="#ff2ed1" d="M672.7 1043.7h20.83v20.83h-20.83z"/><path fill="#ff50af" d="M924.8 840.8h20.83v20.83h-20.83z"/><path fill="#ff6c93" d="M916.1 975.6h20.83v20.83h-20.83z"/><path fill="#ff0ff0" d="M503.5 1141.5h20.83v20.83h-20.83z"/><path fill="#ffc837" d="M1083.5 1148.4h20.83v20.83h-20.83z"/><path fill="#ff22dd" d="M879.9 701.6h20.83v20.83h-20.83z"/><path fill="#ff1ae5" d="M775.9 809.0h20.83v20.83h-20.83z"/><path fill="#ff10ef" d="M672.7 911.7h20.83v20.83h-20.83z"/><path fill="#ff6a95" d="M972.0 891.8h20.83v20.83h-20.83z"/><path fill="#ff00ff" d="M631.6 894.0h20.83v20.83h-20.83z"/><path fill="#ff40bf" d="M830.7 900.8h20.83v20.83h-20.83z"/><path fill="#ffbd42" d="M1013.6 1197.5h20.83v20.83h-20.83z"/><path fill="#ff47b8" d="M737.0 1063.6h20.83v20.83h-20.83z"/><path fill="#ff926d" d="M998.7 1027.6h20.83v20.83h-20.83z"/><path fill="#ff3bc4" d="M949.9 712.8h20.83v20.83h-20.83z"/><path fill="#ff19e6" d="M1037.0 440.7h20.83v20.83h-20.83z"/><path fill="#ff44bb" d="M765.5 1010.0h20.83v20.83h-20.83z"/><path fill="#ff34cb" d="M685.9 1052.8h20.83v20.83h-20.83z"/><path fill="#ffb748" d="M991.9 1201.0h20.83v20.83h-20.83z"/><path fill="#ffb44b" d="M992.5 1188.5h20.83v20.83h-20.83z"/><path fill="#ff0ff0" d="M1099.4 309.5h20.83v20.83h-20.83z"/><path fill="#ff31ce" d="M1000.7 595.5h20.83v20.83h-20.83z"/><path fill="#ff06f9" d="M944.7 484.6h20.83v20.83h-20.83z"/><path fill="#ff6a95" d="M796.3 1134.3h20.83v20.83h-20.83z"/><path fill="#ff1ae5" d="M838.5 722.7h20.83v20.83h-20.83z"/><path fill="#ff7689" d="M1074.0 802.1h20.83v20.83h-20.83z"/><path fill="#ff2fd0" d="M952.1 658.1h20.83v20.83h-20.83z"/><path fill="#ff1fe0" d="M627.1 1041.1h20.83v20.83h-20.83z"/><path fill="#ff8679" d="M969.6 1016.9h20.83v20.83h-20.83z"/><path fill="#ff6b94" d="M1090.2 728.6h20.83v20.83h-20.83z"/><path fill="#ff14eb" d="M833.8 702.1h20.83v20.83h-20.83z"/><path fill="#ff00ff" d="M454.5 1126.0h20.83v20.83h-20.83z"/><path fill="#ff33cc" d="M1001.9 606.5h20.83v20.83h-20.83z"/><path fill="#ff04fb" d="M997.9 402.1h20.83v20.83h-20.83z"/><path fill="#ff0df2" d="M1117.4 273.5h20.83v20.83h-20.83z"/><path fill="#ff56a9" d="M672.1 1222.3h20.83v20.83h-20.83z"/><path fill="#ff46b9" d="M711.3 1096.6h20.83v20.83h-20.83z"/><path fill="#ffa35c" d="M1094.2 968.7h20.83v20.83h-20.83z"/><path fill="#ff0df2" d="M1048.5 370.7h20.83v20.83h-20.83z"/><path fill="#ff12ed" d="M1056.8 380.9h20.83v20.83h-20.83z"/><path fill="#ff9a65" d="M989.7 1076.9h20.83v20.83h-20.83z"/><path fill="#ff4bb4" d="M1112.4 554.9h20.83v20.83h-20.83z"/><path fill="#ff708f" d="M922.5 985.3h20.83v20.83h-20.83z"/><path fill="#ff16e9" d="M631.1 996.7h20.83v20.83h-20.83z"/><path fill="#ff29d6" d="M1110.9 410.0h20.83v20.83h-20.83z"/><path fill="#ff1ae5" d="M628.0 1018.5h20.83v20.83h-20.83z"/><path fill="#ff0bf4" d="M777.9 738.6h20.83v20.83h-20.83z"/><path fill="#ff2ed1" d="M630.7 1101.4h20.83v20.83h-20.83z"/><path fill="#ff0bf4" d="M438.9 1213.1h20.83v20.83h-20.83z"/><path fill="#ffa758" d="M1013.2 1103.3h20.83v20.83h-20.83z"/><path fill="#ff15ea" d="M553.7 1097.6h20.83v20.83h-20.83z"/><path fill="#ff31ce" d="M783.9 898.7h20.83v20.83h-20.83z"/><path fill="#ff02fd" d="M652.4 875.1h20.83v20.83h-20.83z"/><path fill="#ff8877" d="M899.3 1125.5h20.83v20.83h-20.83z"/><path fill="#ff9867" d="M888.5 1209.3h20.83v20.83h-20.83z"/><path fill="#ff26d9" d="M985.0 571.2h20.83v20.83h-20.83z"/><path fill="#ff17e8" d="M827.5 724.8h20.83v20.83h-20.83z"/><path fill="#ff56a9" d="M804.0 1036.9h20.83v20.83h-20.83z"/><path fill="#ff38c7" d="M1053.7 555.9h20.83v20.83h-20.83z"/><path fill="#ffe01f" d="M1105.9 1222.8h20.83v20.83h-20.83z"/><path fill="#ff1de2" d="M835.2 741.5h20.83v20.83h-20.83z"/><path fill="#ff8679" d="M997.1 976.6h20.83v20.83h-20.83z"/><path fill="#ff22dd" d="M556.5 1150.0h20.83v20.83h-20.83z"/><path fill="#ff1ae5" d="M1012.0 481.8h20.83v20.83h-20.83z"/><path fill="#ff5ca3" d="M1009.0 774.2h20.83v20.83h-20.83z"/><path fill="#ff29d6" d="M867.4 746.6h20.83v20.83h-20.83z"/><path fill="#ff2ed1" d="M989.9 597.0h20.83v20.83h-20.83z"/><path fill="#ff34cb" d="M796.8 894.3h20.83v20.83h-20.83z"/><path fill="#ff51ae" d="M715.0 1136.5h20.83v20.83h-20.83z"/><path fill="#ff3ec1" d="M995.0 664.7h20.83v20.83h-20.83z"/><path fill="#ff8877" d="M1061.3 897.7h20.83v20.83h-20.83z"/><path fill="#ff13ec" d="M951.9 530.8h20.83v20.83h-20.83z"/><path fill="#ff6897" d="M761.6 1175.6h20.83v20.83h-20.83z"/><path fill="#ff6996" d="M774.7 1159.1h20.83v20.83h-20.83z"/><path fill="#ff28d7" d="M701.5 977.6h20.83v20.83h-20.83z"/><path fill="#ff17e8" d="M1010.9 469.3h20.83v20.83h-20.83z"/><path fill="#ff7d82" d="M868.7 1116.0h20.83v20.83h-20.83z"/><path fill="#ff13ec" d="M1025.3 432.2h20.83v20.83h-20.83z"/><path fill="#ff36c9" d="M602.4 1178.5h20.83v20.83h-20.83z"/><path fill="#ff7d82" d="M831.6 1170.2h20.83v20.83h-20.83z"/><path fill="#ff0bf4" d="M893.0 577.8h20.83v20.83h-20.83z"/><path fill="#ff4fb0" d="M895.2 878.8h20.83v20.83h-20.83z"/><path fill="#ff5aa5" d="M983.9 800.4h20.83v20.83h-20.83z"/><path fill="#ff36c9" d="M630.9 1138.7h20.83v20.83h-20.83z"/><path fill="#ff48b7" d="M953.6 766.5h20.83v20.83h-20.83z"/><path fill="#ff2cd3" d="M884.1 736.1h20.83v20.83h-20.83z"/><path fill="#ff8778" d="M1094.2 845.0h20.83v20.83h-20.83z"/><path fill="#ff17e8" d="M753.4 827.0h20.83v20.83h-20.83z"/><path fill="#ff1fe0" d="M510.0 1205.5h20.83v20.83h-20.83z"/><path fill="#ff24db" d="M1027.1 504.9h20.83v20.83h-20.83z"/><path fill="#ff04fb" d="M417.2 1214.9h20.83v20.83h-20.83z"/><path fill="#ff22dd" d="M717.3 927.6h20.83v20.83h-20.83z"/><path fill="#ff0cf3" d="M929.1 533.0h20.83v20.83h-20.83z"/><path fill="#ff41be" d="M970.5 710.3h20.83v20.83h-20.83z"/><path fill="#ff37c8" d="M937.9 712.3h20.83v20.83h-20.83z"/><path fill="#ff59a6" d="M882.0 940.7h20.83v20.83h-20.83z"/><path fill="#ff3cc3" d="M808.8 912.9h20.83v20.83h-20.83z"/><path fill="#ff9c63" d="M960.7 1128.1h20.83v20.83h-20.83z"/><path fill="#ff34cb" d="M870.4 791.6h20.83v20.83h-20.83z"/><path fill="#ff18e7" d="M984.2 511.8h20.83v20.83h-20.83z"/><path fill="#ff649b" d="M991.2 836.7h20.83v20.83h-20.83z"/><path fill="#ff22dd" d="M740.6 894.6h20.83v20.83h-20.83z"/><path fill="#ff8d72" d="M1120.1 837.7h20.83v20.83h-20.83z"/><path fill="#ff2cd3" d="M601.4 1131.9h20.83v20.83h-20.83z"/><path fill="#ffac53" d="M1022.6 1111.6h20.83v20.83h-20.83z"/><path fill="#ff1de2" d="M1120.4 342.9h20.83v20.83h-20.83z"/><path fill="#ff30cf" d="M1081.3 478.3h20.83v20.83h-20.83z"/><path fill="#ff02fd" d="M701.4 805.9h20.83v20.83h-20.83z"/><path fill="#ff708f" d="M878.5 1047.5h20.83v20.83h-20.83z"/><path fill="#ff1be4" d="M996.0 506.0h20.83v20.83h-20.83z"/><path fill="#ffa659" d="M981.1 1142.5h20.83v20.83h-20.83z"/><path fill="#ff05fa" d="M457.2 1164.2h20.83v20.83h-20.83z"/><path fill="#ff12ed" d="M710.1 868.7h20.83v20.83h-20.83z"/><path fill="#ff37c8" d="M763.1 955.3h20.83v20.83h-20.83z"/><path fill="#ff6996" d="M1000.2 846.5h20.83v20.83h-20.83z"/><path fill="#ff7986" d="M911.2 1039.8h20.83v20.83h-20.83z"/><path fill="#ff00ff" d="M507.4 1064.2h20.83v20.83h-20.83z"/><path fill="#ff2ad5" d="M626.3 1090.3h20.83v20.83h-20.83z"/><path fill="#ff0df2" d="M639.6 942.9h20.83v20.83h-20.83z"/><path fill="#ffd42b" d="M1066.2 1226.2h20.83v20.83h-20.83z"/><path fill="#ff6897" d="M979.2 869.0h20.83v20.83h-20.83z"/><path fill="#ff00ff" d="M526.8 1038.9h20.83v20.83h-20.83z"/><path fill="#ff9669" d="M943.6 1122.8h20.83v20.83h-20.83z"/><path fill="#ff00ff" d="M696.4 781.5h20.83v20.83h-20.83z"/><path fill="#ff0df2" d="M560.0 1052.9h20.83v20.83h-20.83z"/><path fill="#ff6c93" d="M1018.7 835.4h20.83v20.83h-20.83z"/><path fill="#ff30cf" d="M774.4 910.3h20.83v20.83h-20.83z"/><path fill="#ff55aa" d="M784.3 1058.1h20.83v20.83h-20.83z"/><path fill="#ff8679" d="M960.3 1028.7h20.83v20.83h-20.83z"/><path fill="#ffb14e" d="M989.3 1178.2h20.83v20.83h-20.83z"/><path fill="#ff46b9" d="M724.4 1076.1h20.83v20.83h-20.83z"/><path fill="#ff8d72" d="M962.5 1057.0h20.83v20.83h-20.83z"/><path fill="#ff2fd0" d="M863.1 780.7h20.83v20.83h-20.83z"/><path fill="#ff26d9" d="M554.1 1171.8h20.83v20.83h-20.83z"/><path fill="#ffdb24" d="M1102.8 1208.0h20.83v20.83h-20.83z"/><path fill="#ff4fb0" d="M778.4 1040.6h20.83v20.83h-20.83z"/><path fill="#ffc13e" d="M1072.3 1133.4h20.83v20.83h-20.83z"/><path fill="#ff52ad" d="M842.9 964.0h20.83v20.83h-20.83z"/><path fill="#ff34cb" d="M709.0 1016.4h20.83v20.83h-20.83z"/><path fill="#ff6f90" d="M805.5 1142.3h20.83v20.83h-20.83z"/><path fill="#ff7c83" d="M967.3 976.6h20.83v20.83h-20.83z"/><path fill="#ff1ae5" d="M917.7 612.4h20.83v20.83h-20.83z"/><path fill="#ff3cc3" d="M639.7 1149.9h20.83v20.83h-20.83z"/><path fill="#ff21de" d="M794.5 816.1h20.83v20.83h-20.83z"/><path fill="#ff956a" d="M889.2 1194.2h20.83v20.83h-20.83z"/><path fill="#ff16e9" d="M679.9 927.1h20.83v20.83h-20.83z"/><path fill="#ff00ff" d="M569.7 982.0h20.83v20.83h-20.83z"/><path fill="#ff9b64" d="M934.6 1160.7h20.83v20.83h-20.83z"/><path fill="#ff0ef1" d="M775.0 760.2h20.83v20.83h-20.83z"/><path fill="#ff40bf" d="M783.5 967.1h20.83v20.83h-20.83z"/><path fill="#ff0cf3" d="M573.9 1032.4h20.83v20.83h-20.83z"/><path fill="#ff09f6" d="M476.5 1153.5h20.83v20.83h-20.83z"/><path fill="#ff649b" d="M983.0 845.7h20.83v20.83h-20.83z"/><path fill="#ff26d9" d="M750.0 901.1h20.83v20.83h-20.83z"/><path fill="#ff7689" d="M1001.0 901.4h20.83v20.83h-20.83z"/><path fill="#ffc13e" d="M1022.0 1206.4h20.83v20.83h-20.83z"/><path fill="#ff59a6" d="M998.4 779.4h20.83v20.83h-20.83z"/><path fill="#ff15ea" d="M953.5 541.6h20.83v20.83h-20.83z"/><path fill="#ff2ad5" d="M715.6 966.2h20.83v20.83h-20.83z"/><path fill="#ff00ff" d="M1079.6 248.6h20.83v20.83h-20.83z"/><path fill="#ffda25" d="M1093.6 1214.5h20.83v20.83h-20.83z"/><path fill="#ff3ec1" d="M1106.3 508.0h20.83v20.83h-20.83z"/><path fill="#ff2dd2" d="M966.5 626.3h20.83v20.83h-20.83z"/><path fill="#ff7f80" d="M1110.2 788.4h20.83v20.83h-20.83z"/><path fill="#ffa15e" d="M922.0 1201.5h20.83v20.83h-20.83z"/><path fill="#ff00ff" d="M969.4 406.4h20.83v20.83h-20.83z"/><path fill="#ff25da" d="M706.9 953.6h20.83v20.83h-20.83z"/><path fill="#ff708f" d="M1109.1 724.1h20.83v20.83h-20.83z"/><path fill="#ff817e" d="M1014.0 933.4h20.83v20.83h-20.83z"/><path fill="#ff04fb" d="M825.9 643.0h20.83v20.83h-20.83z"/><path fill="#ff9b64" d="M942.9 1145.6h20.83v20.83h-20.83z"/><path fill="#ff16e9" d="M1095.9 342.9h20.83v20.83h-20.83z"/><path fill="#ff7788" d="M967.1 954.1h20.83v20.83h-20.83z"/><path fill="#ff13ec" d="M507.4 1152.4h20.83v20.83h-20.83z"/><path fill="#ff00ff" d="M465.5 1111.5h20.83v20.83h-20.83zM941.6 451.9h20.83v20.83h-20.83z"/><path fill="#ff14eb" d="M978.3 500.2h20.83v20.83h-20.83z"/><path fill="#ff1be4" d="M982.3 525.0h20.83v20.83h-20.83z"/><path fill="#ff27d8" d="M612.0 1098.2h20.83v20.83h-20.83z"/><path fill="#ffa15e" d="M995.4 1098.4h20.83v20.83h-20.83z"/><path fill="#ff748b" d="M863.2 1085.7h20.83v20.83h-20.83z"/><path fill="#ff00ff" d="M940.2 462.7h20.83v20.83h-20.83z"/><path fill="#ff29d6" d="M860.9 759.2h20.83v20.83h-20.83z"/><path fill="#ff50af" d="M811.1 1001.5h20.83v20.83h-20.83z"/><path fill="#ff10ef" d="M596.8 1014.5h20.83v20.83h-20.83z"/><path fill="#ff17e8" d="M598.7 1046.2h20.83v20.83h-20.83z"/><path fill="#ff0cf3" d="M460.7 1190.2h20.83v20.83h-20.83z"/><path fill="#ff649b" d="M820.5 1073.9h20.83v20.83h-20.83z"/><path fill="#ff33cc" d="M876.9 778.8h20.83v20.83h-20.83z"/><path fill="#ff12ed" d="M571.0 1061.1h20.83v20.83h-20.83z"/><path fill="#ff5da2" d="M752.9 1137.4h20.83v20.83h-20.83z"/><path fill="#ff7689" d="M919.2 1015.6h20.83v20.83h-20.83z"/><path fill="#ff24db" d="M845.0 757.2h20.83v20.83h-20.83z"/><path fill="#ff7887" d="M791.4 1202.9h20.83v20.83h-20.83z"/><path fill="#ff0cf3" d="M707.3 843.1h20.83v20.83h-20.83z"/><path fill="#ff00ff" d="M744.6 733.0h20.83v20.83h-20.83z"/><path fill="#ffcb34" d="M1060.7 1195.6h20.83v20.83h-20.83z"/><path fill="#ff0cf3" d="M1073.6 332.2h20.83v20.83h-20.83z"/><path fill="#ffc837" d="M1037.8 1212.0h20.83v20.83h-20.83z"/><path fill="#ff45ba" d="M907.7 813.9h20.83v20.83h-20.83z"/><path fill="#ff47b8" d="M1001.0 694.9h20.83v20.83h-20.83z"/><path fill="#ff0bf4" d="M819.8 682.6h20.83v20.83h-20.83z"/><path fill="#ff3dc2" d="M873.9 829.2h20.83v20.83h-20.83z"/><path fill="#ff51ae" d="M996.4 742.9h20.83v20.83h-20.83z"/><path fill="#ffb44b" d="M1011.7 1161.8h20.83v20.83h-20.83z"/><path fill="#ff4bb4" d="M996.0 719.6h20.83v20.83h-20.83z"/><path fill="#ff5fa0" d="M958.6 860.9h20.83v20.83h-20.83z"/><path fill="#ff00ff" d="M750.8 718.5h20.83v20.83h-20.83z"/><path fill="#ff01fe" d="M930.9 481.4h20.83v20.83h-20.83z"/><path fill="#ff00ff" d="M429.3 1157.9h20.83v20.83h-20.83z"/><path fill="#ff35ca" d="M720.0 1006.3h20.83v20.83h-20.83z"/><path fill="#ff01fe" d="M488.5 1102.5h20.83v20.83h-20.83z"/><path fill="#ff54ab" d="M876.1 927.2h20.83v20.83h-20.83z"/><path fill="#ffc13e" d="M1011.1 1221.5h20.83v20.83h-20.83z"/><path fill="#ff4bb4" d="M698.1 1137.4h20.83v20.83h-20.83z"/><path fill="#ff25da" d="M635.9 1055.1h20.83v20.83h-20.83z"/><path fill="#ff0cf3" d="M902.0 569.6h20.83v20.83h-20.83z"/><path fill="#ff27d8" d="M869.2 736.7h20.83v20.83h-20.83z"/><path fill="#ff00ff" d="M452.6 1146.3h20.83v20.83h-20.83z"/><path fill="#ff59a6" d="M1012.7 757.0h20.83v20.83h-20.83z"/><path fill="#ff6699" d="M1077.9 721.9h20.83v20.83h-20.83z"/><path fill="#ff807f" d="M887.2 1105.9h20.83v20.83h-20.83z"/><path fill="#ff9966" d="M1009.4 1044.8h20.83v20.83h-20.83z"/><path fill="#ff6f90" d="M767.2 1197.1h20.83v20.83h-20.83z"/><path fill="#ff04fb" d="M474.0 1132.6h20.83v20.83h-20.83z"/><path fill="#ff6798" d="M778.3 1145.0h20.83v20.83h-20.83z"/><path fill="#ff33cc" d="M1045.5 544.6h20.83v20.83h-20.83z"/><path fill="#ff9e61" d="M909.7 1206.7h20.83v20.83h-20.83z"/><path fill="#ff837c" d="M1113.9 803.4h20.83v20.83h-20.83z"/><path fill="#ff32cd" d="M895.1 748.4h20.83v20.83h-20.83z"/><path fill="#ff4cb3" d="M929.3 817.4h20.83v20.83h-20.83z"/><path fill="#ff619e" d="M923.8 916.9h20.83v20.83h-20.83z"/><path fill="#ff39c6" d="M893.1 783.9h20.83v20.83h-20.83z"/><path fill="#ff27d8" d="M660.8 1028.9h20.83v20.83h-20.83z"/><path fill="#ffb748" d="M1011.2 1175.4h20.83v20.83h-20.83z"/><path fill="#ff19e6" d="M608.6 1040.4h20.83v20.83h-20.83z"/><path fill="#ff51ae" d="M669.0 1203.7h20.83v20.83h-20.83z"/><path fill="#ff03fc" d="M1005.0 388.7h20.83v20.83h-20.83z"/><path fill="#ff00ff" d="M876.5 546.0h20.83v20.83h-20.83z"/><path fill="#ff32cd" d="M1101.3 462.5h20.83v20.83h-20.83z"/><path fill="#ff956a" d="M866.3 1227.8h20.83v20.83h-20.83z"/><path fill="#ff8d72" d="M987.1 1023.5h20.83v20.83h-20.83z"/><path fill="#ff39c6" d="M850.5 842.7h20.83v20.83h-20.83z"/><path fill="#ff817e" d="M1101.9 809.4h20.83v20.83h-20.83z"/><path fill="#ff43bc" d="M722.9 1064.7h20.83v20.83h-20.83z"/><path fill="#ffc738" d="M1058.3 1179.0h20.83v20.83h-20.83z"/><path fill="#ff02fd" d="M921.2 502.8h20.83v20.83h-20.83z"/><path fill="#ff00ff" d="M656.5 839.3h20.83v20.83h-20.83z"/><path fill="#ffc13e" d="M1066.9 1142.8h20.83v20.83h-20.83z"/><path fill="#ff2cd3" d="M906.5 704.9h20.83v20.83h-20.83z"/><path fill="#ff08f7" d="M514.0 1095.3h20.83v20.83h-20.83z"/><path fill="#ff718e" d="M844.7 1099.2h20.83v20.83h-20.83z"/><path fill="#ff08f7" d="M506.0 1107.0h20.83v20.83h-20.83z"/><path fill="#ff43bc" d="M654.3 1162.3h20.83v20.83h-20.83z"/><path fill="#ff35ca" d="M804.8 888.1h20.83v20.83h-20.83z"/><path fill="#ff8679" d="M907.6 1101.4h20.83v20.83h-20.83z"/><path fill="#ff01fe" d="M830.8 624.5h20.83v20.83h-20.83z"/><path fill="#ff847b" d="M881.7 1131.4h20.83v20.83h-20.83z"/><path fill="#ff0ef1" d="M994.0 450.4h20.83v20.83h-20.83z"/><path fill="#ff52ad" d="M729.1 1122.0h20.83v20.83h-20.83z"/><path fill="#ff47b8" d="M721.1 1086.4h20.83v20.83h-20.83z"/><path fill="#ff35ca" d="M912.0 739.5h20.83v20.83h-20.83z"/><path fill="#ff0ff0" d="M657.7 928.2h20.83v20.83h-20.83z"/><path fill="#ff3cc3" d="M861.5 840.1h20.83v20.83h-20.83z"/><path fill="#ff4ab5" d="M1101.2 569.2h20.83v20.83h-20.83z"/><path fill="#ff51ae" d="M1095.8 606.6h20.83v20.83h-20.83z"/><path fill="#ff0df2" d="M545.8 1074.4h20.83v20.83h-20.83z"/><path fill="#ffcf30" d="M1055.8 1217.1h20.83v20.83h-20.83z"/><path fill="#ff3bc4" d="M836.3 871.2h20.83v20.83h-20.83z"/><path fill="#ff906f" d="M1096.4 885.6h20.83v20.83h-20.83z"/><path fill="#ff31ce" d="M878.0 768.0h20.83v20.83h-20.83z"/><path fill="#ff04fb" d="M989.8 412.7h20.83v20.83h-20.83z"/><path fill="#ffa05f" d="M1010.5 1076.4h20.83v20.83h-20.83z"/><path fill="#ff43bc" d="M683.1 1119.2h20.83v20.83h-20.83z"/><path fill="#ff0ff0" d="M970.7 490.9h20.83v20.83h-20.83z"/><path fill="#ff47b8" d="M1072.2 596.8h20.83v20.83h-20.83z"/><path fill="#ff00ff" d="M558.2 991.8h20.83v20.83h-20.83z"/><path fill="#ffa55a" d="M1095.9 978.6h20.83v20.83h-20.83z"/><path fill="#ff03fc" d="M892.5 545.4h20.83v20.83h-20.83z"/><path fill="#ff11ee" d="M808.4 723.8h20.83v20.83h-20.83z"/><path fill="#ff926d" d="M1082.7 912.9h20.83v20.83h-20.83z"/><path fill="#ff3dc2" d="M1084.7 530.8h20.83v20.83h-20.83z"/><path fill="#ffb34c" d="M1077.5 1066.0h20.83v20.83h-20.83z"/><path fill="#ff1ae5" d="M789.1 792.8h20.83v20.83h-20.83z"/><path fill="#ff00ff" d="M903.0 502.4h20.83v20.83h-20.83z"/><path fill="#ff857a" d="M1107.0 819.7h20.83v20.83h-20.83z"/><path fill="#ff9669" d="M935.2 1136.1h20.83v20.83h-20.83z"/><path fill="#ff15ea" d="M646.6 967.2h20.83v20.83h-20.83z"/><path fill="#ff4fb0" d="M957.3 790.4h20.83v20.83h-20.83z"/><path fill="#ffb44b" d="M1018.5 1152.1h20.83v20.83h-20.83z"/><path fill="#ff4fb0" d="M929.6 828.5h20.83v20.83h-20.83z"/><path fill="#ff8b74" d="M836.9 1226.1h20.83v20.83h-20.83z"/><path fill="#ff609f" d="M697.0 1227.7h20.83v20.83h-20.83z"/><path fill="#ff01fe" d="M691.0 817.5h20.83v20.83h-20.83z"/><path fill="#ff14eb" d="M498.5 1173.1h20.83v20.83h-20.83z"/><path fill="#ff01fe" d="M775.7 701.3h20.83v20.83h-20.83z"/><path fill="#ff7b84" d="M1057.1 847.0h20.83v20.83h-20.83z"/><path fill="#ff5ba4" d="M1110.8 628.3h20.83v20.83h-20.83z"/><path fill="#ffaf50" d="M1070.8 1058.1h20.83v20.83h-20.83z"/><path fill="#ff0ef1" d="M940.2 528.8h20.83v20.83h-20.83z"/><path fill="#ff8c73" d="M1087.7 877.3h20.83v20.83h-20.83z"/><path fill="#ff56a9" d="M751.0 1109.8h20.83v20.83h-20.83z"/><path fill="#ff5fa0" d="M837.1 1030.4h20.83v20.83h-20.83z"/><path fill="#ff37c8" d="M930.3 722.1h20.83v20.83h-20.83z"/><path fill="#ff38c7" d="M880.3 798.8h20.83v20.83h-20.83z"/><path fill="#ff5fa0" d="M804.6 1075.5h20.83v20.83h-20.83z"/><path fill="#ff4bb4" d="M1027.6 673.2h20.83v20.83h-20.83z"/><path fill="#ff9d62" d="M901.0 1212.6h20.83v20.83h-20.83z"/><path fill="#ffad52" d="M976.8 1179.4h20.83v20.83h-20.83z"/><path fill="#ff30cf" d="M827.7 833.5h20.83v20.83h-20.83z"/><path fill="#ff4cb3" d="M661.0 1192.1h20.83v20.83h-20.83z"/><path fill="#ff25da" d="M560.1 1160.4h20.83v20.83h-20.83z"/><path fill="#ff18e7" d="M820.1 737.7h20.83v20.83h-20.83z"/><path fill="#ff46b9" d="M1017.4 666.9h20.83v20.83h-20.83z"/><path fill="#ff4db2" d="M838.2 949.9h20.83v20.83h-20.83z"/><path fill="#ff7f80" d="M921.4 1054.8h20.83v20.83h-20.83z"/><path fill="#ff6b94" d="M792.2 1143.9h20.83v20.83h-20.83z"/><path fill="#ff33cc" d="M1017.8 583.6h20.83v20.83h-20.83z"/><path fill="#ff946b" d="M946.0 1112.9h20.83v20.83h-20.83z"/><path fill="#ff3dc2" d="M1000.1 649.7h20.83v20.83h-20.83z"/><path fill="#ff57a8" d="M761.3 1100.5h20.83v20.83h-20.83z"/><path fill="#ffa659" d="M1015.8 1093.2h20.83v20.83h-20.83z"/><path fill="#ff6a95" d="M947.5 923.7h20.83v20.83h-20.83z"/><path fill="#ff00ff" d="M493.6 1075.1h20.83v20.83h-20.83z"/><path fill="#ff08f7" d="M546.1 1049.6h20.83v20.83h-20.83z"/><path fill="#ff59a6" d="M814.8 1035.1h20.83v20.83h-20.83z"/><path fill="#ff3bc4" d="M820.0 892.4h20.83v20.83h-20.83z"/></g>
<g clip-path="url(#cTR)" shape-rendering="auto"><path fill="#fff00f" d="M2360.6 1070.3h20.83v20.83h-20.83z"/><path fill="#ff6798" d="M1864.7 931.4h20.83v20.83h-20.83z"/><path fill="#ff2bd4" d="M1880.4 1195.3h20.83v20.83h-20.83z"/><path fill="#ffe41b" d="M2075.2 720.7h20.83v20.83h-20.83z"/><path fill="#ffe11e" d="M1902.2 488.8h20.83v20.83h-20.83z"/><path fill="#ffdf20" d="M1802.5 358.8h20.83v20.83h-20.83z"/><path fill="#ff7d82" d="M1812.7 768.7h20.83v20.83h-20.83z"/><path fill="#ff926d" d="M1969.4 903.3h20.83v20.83h-20.83z"/><path fill="#ffff00" d="M2466.8 1140.7h20.83v20.83h-20.83z"/><path fill="#ffe718" d="M2097.6 741.6h20.83v20.83h-20.83z"/><path fill="#ffc837" d="M2265.3 1101.9h20.83v20.83h-20.83z"/><path fill="#fff906" d="M2278.1 921.3h20.83v20.83h-20.83z"/><path fill="#ff857a" d="M2038.6 1054.5h20.83v20.83h-20.83z"/><path fill="#ffdc23" d="M1939.4 562.1h20.83v20.83h-20.83z"/><path fill="#ffcc33" d="M2049.1 780.8h20.83v20.83h-20.83z"/><path fill="#ff7689" d="M1909.0 930.3h20.83v20.83h-20.83z"/><path fill="#ff20df" d="M1782.8 1102.3h20.83v20.83h-20.83z"/><path fill="#ffdc23" d="M1976.1 612.6h20.83v20.83h-20.83z"/><path fill="#ff7c83" d="M1975.6 1001.2h20.83v20.83h-20.83z"/><path fill="#ffe21d" d="M2166.9 856.2h20.83v20.83h-20.83z"/><path fill="#ffb946" d="M2316.0 1230.3h20.83v20.83h-20.83z"/><path fill="#ffff00" d="M2090.8 632.3h20.83v20.83h-20.83z"/><path fill="#ffa25d" d="M1926.7 779.2h20.83v20.83h-20.83z"/><path fill="#fffd02" d="M2418.8 1100.9h20.83v20.83h-20.83z"/><path fill="#ffc03f" d="M1984.1 737.0h20.83v20.83h-20.83z"/><path fill="#ffdf20" d="M2252.9 989.5h20.83v20.83h-20.83z"/><path fill="#ffe51a" d="M2285.8 1012.6h20.83v20.83h-20.83z"/><path fill="#ff5ca3" d="M1946.2 1087.6h20.83v20.83h-20.83z"/><path fill="#ff6d92" d="M1896.8 951.1h20.83v20.83h-20.83z"/><path fill="#ff1be4" d="M1836.7 1196.2h20.83v20.83h-20.83z"/><path fill="#ff7887" d="M2054.0 1128.5h20.83v20.83h-20.83z"/><path fill="#ffe31c" d="M1869.6 436.7h20.83v20.83h-20.83z"/><path fill="#ffc936" d="M2224.0 1039.6h20.83v20.83h-20.83z"/><path fill="#ffbf40" d="M2249.0 1113.6h20.83v20.83h-20.83z"/><path fill="#ff6798" d="M1972.0 1082.2h20.83v20.83h-20.83z"/><path fill="#ff42bd" d="M1942.7 1188.1h20.83v20.83h-20.83z"/><path fill="#ffff00" d="M2086.6 610.9h20.83v20.83h-20.83z"/><path fill="#ff7f80" d="M1840.9 799.7h20.83v20.83h-20.83z"/><path fill="#ff8d72" d="M1831.6 731.5h20.83v20.83h-20.83z"/><path fill="#ff6798" d="M2001.2 1122.9h20.83v20.83h-20.83z"/><path fill="#ff5da2" d="M1954.4 1096.4h20.83v20.83h-20.83z"/><path fill="#fff10e" d="M2266.8 937.3h20.83v20.83h-20.83z"/><path fill="#ff7a85" d="M2128.0 1223.1h20.83v20.83h-20.83z"/><path fill="#ff9867" d="M1949.9 852.9h20.83v20.83h-20.83z"/><path fill="#ff36c9" d="M1833.3 1083.4h20.83v20.83h-20.83z"/><path fill="#ff59a6" d="M1816.5 917.8h20.83v20.83h-20.83z"/><path fill="#ff3ac5" d="M1838.7 1076.8h20.83v20.83h-20.83z"/><path fill="#ffcd32" d="M2030.5 752.0h20.83v20.83h-20.83z"/><path fill="#ffbd42" d="M1980.1 745.1h20.83v20.83h-20.83z"/><path fill="#ff9e61" d="M2147.0 1102.3h20.83v20.83h-20.83z"/><path fill="#ff6996" d="M1807.9 840.8h20.83v20.83h-20.83z"/><path fill="#ffd02f" d="M1844.9 480.2h20.83v20.83h-20.83z"/><path fill="#ff53ac" d="M1997.1 1196.8h20.83v20.83h-20.83z"/><path fill="#fff00f" d="M2218.4 872.4h20.83v20.83h-20.83z"/><path fill="#ffde21" d="M1934.0 547.9h20.83v20.83h-20.83z"/><path fill="#ffe916" d="M2283.8 991.3h20.83v20.83h-20.83z"/><path fill="#ffa956" d="M2239.1 1187.9h20.83v20.83h-20.83z"/><path fill="#ffce31" d="M2188.5 966.6h20.83v20.83h-20.83z"/><path fill="#ff9b64" d="M1784.0 608.3h20.83v20.83h-20.83z"/><path fill="#ff8976" d="M1904.3 849.0h20.83v20.83h-20.83z"/><path fill="#ff37c8" d="M1811.1 1049.0h20.83v20.83h-20.83z"/><path fill="#ffb34c" d="M1948.1 738.8h20.83v20.83h-20.83z"/><path fill="#ffff00" d="M2275.3 886.5h20.83v20.83h-20.83zM2117.8 658.9h20.83v20.83h-20.83z"/><path fill="#ff6897" d="M1795.5 830.6h20.83v20.83h-20.83z"/><path fill="#ffdb24" d="M2205.4 939.2h20.83v20.83h-20.83z"/><path fill="#ff956a" d="M1826.5 692.2h20.83v20.83h-20.83z"/><path fill="#ffc33c" d="M1936.5 660.1h20.83v20.83h-20.83z"/><path fill="#ffa45b" d="M2061.7 961.0h20.83v20.83h-20.83z"/><path fill="#ffbb44" d="M1881.8 614.4h20.83v20.83h-20.83z"/><path fill="#ffca35" d="M2216.1 1021.5h20.83v20.83h-20.83z"/><path fill="#ff728d" d="M1953.8 1009.2h20.83v20.83h-20.83z"/><path fill="#ffa35c" d="M2220.4 1186.5h20.83v20.83h-20.83z"/><path fill="#ffff00" d="M1827.4 254.6h20.83v20.83h-20.83z"/><path fill="#ff6e91" d="M1976.0 1059.5h20.83v20.83h-20.83z"/><path fill="#fffc03" d="M2365.2 1031.7h20.83v20.83h-20.83z"/><path fill="#ff3ec1" d="M1819.0 1031.8h20.83v20.83h-20.83z"/><path fill="#fff30c" d="M2073.3 658.7h20.83v20.83h-20.83z"/><path fill="#ffda25" d="M2318.3 1101.9h20.83v20.83h-20.83z"/><path fill="#ffb44b" d="M2205.3 1095.8h20.83v20.83h-20.83z"/><path fill="#ff8e71" d="M1787.8 663.3h20.83v20.83h-20.83z"/><path fill="#ffc837" d="M2101.6 872.3h20.83v20.83h-20.83z"/><path fill="#ffb649" d="M2223.0 1114.1h20.83v20.83h-20.83z"/><path fill="#ff6699" d="M1827.3 880.9h20.83v20.83h-20.83z"/><path fill="#ff1fe0" d="M1821.0 1158.9h20.83v20.83h-20.83z"/><path fill="#ff3fc0" d="M1879.8 1113.8h20.83v20.83h-20.83z"/><path fill="#ff42bd" d="M1877.0 1097.0h20.83v20.83h-20.83z"/><path fill="#ff9a65" d="M2039.7 970.0h20.83v20.83h-20.83z"/><path fill="#ffff00" d="M2439.4 1103.0h20.83v20.83h-20.83z"/><path fill="#fff30c" d="M2329.6 1014.9h20.83v20.83h-20.83z"/><path fill="#ffda25" d="M2060.0 738.9h20.83v20.83h-20.83z"/><path fill="#ffbd42" d="M2187.3 1035.6h20.83v20.83h-20.83z"/><path fill="#ff36c9" d="M1842.4 1097.0h20.83v20.83h-20.83z"/><path fill="#ffe619" d="M2071.3 708.1h20.83v20.83h-20.83z"/><path fill="#ff45ba" d="M1979.1 1226.6h20.83v20.83h-20.83z"/><path fill="#fff807" d="M2431.2 1138.7h20.83v20.83h-20.83z"/><path fill="#ffc837" d="M2299.0 1145.4h20.83v20.83h-20.83z"/><path fill="#fffb04" d="M2154.8 737.7h20.83v20.83h-20.83z"/><path fill="#ffe01f" d="M2086.2 753.7h20.83v20.83h-20.83z"/><path fill="#ff9f60" d="M2072.3 993.7h20.83v20.83h-20.83z"/><path fill="#ffac53" d="M1806.6 570.1h20.83v20.83h-20.83z"/><path fill="#ffa45b" d="M2070.7 971.8h20.83v20.83h-20.83z"/><path fill="#ff619e" d="M1894.5 996.9h20.83v20.83h-20.83z"/><path fill="#ff7a85" d="M2071.9 1144.0h20.83v20.83h-20.83z"/><path fill="#ff807f" d="M1865.8 829.3h20.83v20.83h-20.83z"/><path fill="#ffa659" d="M1804.6 592.9h20.83v20.83h-20.83z"/><path fill="#ffae51" d="M1881.4 668.4h20.83v20.83h-20.83z"/><path fill="#ff1de2" d="M1794.0 1128.8h20.83v20.83h-20.83z"/><path fill="#ff956a" d="M1982.7 911.1h20.83v20.83h-20.83z"/><path fill="#ff8e71" d="M1797.3 678.2h20.83v20.83h-20.83z"/><path fill="#ffbe41" d="M1782.2 464.2h20.83v20.83h-20.83z"/><path fill="#ffe21d" d="M2023.9 657.0h20.83v20.83h-20.83z"/><path fill="#ffc53a" d="M1928.3 639.5h20.83v20.83h-20.83z"/><path fill="#ffff00" d="M2155.1 712.0h20.83v20.83h-20.83z"/><path fill="#ffeb14" d="M1970.9 547.9h20.83v20.83h-20.83z"/><path fill="#ffdc23" d="M1836.1 420.0h20.83v20.83h-20.83z"/><path fill="#ff9d62" d="M2130.9 1085.1h20.83v20.83h-20.83z"/><path fill="#ffca35" d="M1898.6 580.4h20.83v20.83h-20.83z"/><path fill="#fff906" d="M2007.7 541.0h20.83v20.83h-20.83z"/><path fill="#ffcb34" d="M1821.8 467.5h20.83v20.83h-20.83z"/><path fill="#ff0cf3" d="M1798.0 1203.8h20.83v20.83h-20.83z"/><path fill="#ffd22d" d="M2240.5 1026.7h20.83v20.83h-20.83z"/><path fill="#ffe31c" d="M1989.6 603.6h20.83v20.83h-20.83z"/><path fill="#ff9d62" d="M1922.6 795.0h20.83v20.83h-20.83z"/><path fill="#fffb04" d="M2114.9 682.9h20.83v20.83h-20.83z"/><path fill="#ff7e81" d="M2014.4 1047.6h20.83v20.83h-20.83z"/><path fill="#fff20d" d="M2437.7 1170.4h20.83v20.83h-20.83z"/><path fill="#ffd32c" d="M1927.9 581.4h20.83v20.83h-20.83z"/><path fill="#ffa15e" d="M1817.5 631.9h20.83v20.83h-20.83z"/><path fill="#ff857a" d="M1825.1 755.1h20.83v20.83h-20.83z"/><path fill="#ff8877" d="M2147.6 1195.1h20.83v20.83h-20.83z"/><path fill="#ffe11e" d="M1882.1 464.2h20.83v20.83h-20.83z"/><path fill="#ff629d" d="M2042.8 1199.6h20.83v20.83h-20.83z"/><path fill="#ff7b84" d="M2017.4 1063.8h20.83v20.83h-20.83z"/><path fill="#ff9867" d="M2168.5 1159.7h20.83v20.83h-20.83z"/><path fill="#ff3fc0" d="M1826.4 1039.5h20.83v20.83h-20.83z"/><path fill="#ffee11" d="M1890.2 420.7h20.83v20.83h-20.83z"/><path fill="#fff10e" d="M2147.3 769.4h20.83v20.83h-20.83z"/><path fill="#ffaf50" d="M1824.6 585.5h20.83v20.83h-20.83z"/><path fill="#ffd12e" d="M2305.9 1119.2h20.83v20.83h-20.83z"/><path fill="#fff30c" d="M2097.9 690.2h20.83v20.83h-20.83z"/><path fill="#ff6699" d="M1910.7 1000.3h20.83v20.83h-20.83z"/><path fill="#ffd32c" d="M1874.5 506.7h20.83v20.83h-20.83z"/><path fill="#fff00f" d="M1969.8 524.2h20.83v20.83h-20.83z"/><path fill="#ffcf30" d="M1886.7 540.0h20.83v20.83h-20.83z"/><path fill="#ffbe41" d="M2158.2 989.8h20.83v20.83h-20.83z"/><path fill="#ffda25" d="M2044.0 717.4h20.83v20.83h-20.83z"/><path fill="#ffe817" d="M2420.8 1189.9h20.83v20.83h-20.83z"/><path fill="#ff7d82" d="M1962.1 978.0h20.83v20.83h-20.83z"/><path fill="#ffc837" d="M2155.4 944.5h20.83v20.83h-20.83z"/><path fill="#ff827d" d="M1982.4 985.5h20.83v20.83h-20.83z"/><path fill="#ff6e91" d="M2006.1 1099.8h20.83v20.83h-20.83z"/><path fill="#ffbf40" d="M2056.8 845.3h20.83v20.83h-20.83z"/><path fill="#ffa35c" d="M2093.0 1008.9h20.83v20.83h-20.83z"/><path fill="#fff50a" d="M2252.3 901.5h20.83v20.83h-20.83z"/><path fill="#fffb04" d="M2322.3 975.5h20.83v20.83h-20.83z"/><path fill="#fffa05" d="M2337.8 997.9h20.83v20.83h-20.83z"/><path fill="#ffbd42" d="M1837.7 545.6h20.83v20.83h-20.83z"/><path fill="#ffff00" d="M2335.2 976.5h20.83v20.83h-20.83z"/><path fill="#ffd22d" d="M1886.7 530.6h20.83v20.83h-20.83z"/><path fill="#fff609" d="M1936.7 453.2h20.83v20.83h-20.83z"/><path fill="#ffae51" d="M2058.2 915.1h20.83v20.83h-20.83z"/><path fill="#ffb14e" d="M1999.1 819.0h20.83v20.83h-20.83z"/><path fill="#ff649b" d="M2030.2 1172.2h20.83v20.83h-20.83z"/><path fill="#ffc936" d="M1920.4 614.7h20.83v20.83h-20.83z"/><path fill="#ffb54a" d="M2032.8 851.2h20.83v20.83h-20.83z"/><path fill="#ff53ac" d="M1982.0 1175.6h20.83v20.83h-20.83z"/><path fill="#ffe619" d="M2433.1 1215.2h20.83v20.83h-20.83z"/><path fill="#fff609" d="M2278.1 931.7h20.83v20.83h-20.83z"/><path fill="#ffdb24" d="M1918.4 538.6h20.83v20.83h-20.83z"/><path fill="#ffc33c" d="M1875.5 575.4h20.83v20.83h-20.83z"/><path fill="#ffe718" d="M1823.9 358.3h20.83v20.83h-20.83z"/><path fill="#ffd629" d="M2170.2 909.2h20.83v20.83h-20.83z"/><path fill="#ff649b" d="M2064.4 1220.6h20.83v20.83h-20.83z"/><path fill="#fffe01" d="M1936.5 422.2h20.83v20.83h-20.83z"/><path fill="#ff49b6" d="M1984.2 1220.1h20.83v20.83h-20.83z"/><path fill="#ff1ce3" d="M1855.1 1219.1h20.83v20.83h-20.83z"/><path fill="#ffca35" d="M2261.3 1084.5h20.83v20.83h-20.83z"/><path fill="#ff4bb4" d="M1865.3 1045.7h20.83v20.83h-20.83z"/><path fill="#ffaf50" d="M1960.8 776.0h20.83v20.83h-20.83z"/><path fill="#ffd629" d="M2146.5 876.8h20.83v20.83h-20.83z"/><path fill="#ffdb24" d="M1811.6 386.9h20.83v20.83h-20.83z"/><path fill="#ffc13e" d="M2027.5 796.4h20.83v20.83h-20.83z"/><path fill="#ffdf20" d="M2415.9 1216.3h20.83v20.83h-20.83z"/><path fill="#ffff00" d="M2268.1 873.8h20.83v20.83h-20.83z"/><path fill="#ffd52a" d="M2063.5 765.3h20.83v20.83h-20.83z"/><path fill="#ffb946" d="M2056.1 868.3h20.83v20.83h-20.83z"/><path fill="#ffba45" d="M1906.1 655.2h20.83v20.83h-20.83z"/><path fill="#ff639c" d="M1951.0 1068.0h20.83v20.83h-20.83z"/><path fill="#ff31ce" d="M1918.2 1221.8h20.83v20.83h-20.83z"/><path fill="#ff3cc3" d="M1827.2 1049.9h20.83v20.83h-20.83z"/><path fill="#ff728d" d="M2020.2 1104.9h20.83v20.83h-20.83z"/><path fill="#ffd22d" d="M2316.6 1131.3h20.83v20.83h-20.83z"/><path fill="#ffe21d" d="M2031.6 665.8h20.83v20.83h-20.83z"/><path fill="#ff7f80" d="M2128.0 1201.6h20.83v20.83h-20.83z"/><path fill="#ff5da2" d="M2032.3 1205.4h20.83v20.83h-20.83z"/><path fill="#ffb34c" d="M2103.5 959.9h20.83v20.83h-20.83z"/><path fill="#ff936c" d="M1898.9 799.2h20.83v20.83h-20.83z"/><path fill="#ffb847" d="M2291.7 1201.0h20.83v20.83h-20.83z"/><path fill="#ffc43b" d="M2296.4 1160.3h20.83v20.83h-20.83z"/><path fill="#ffe21d" d="M1907.8 495.0h20.83v20.83h-20.83z"/><path fill="#ffe31c" d="M1924.4 513.7h20.83v20.83h-20.83z"/><path fill="#ff7a85" d="M1811.1 778.9h20.83v20.83h-20.83z"/><path fill="#fffa05" d="M1917.8 410.3h20.83v20.83h-20.83z"/><path fill="#ffd926" d="M2281.8 1052.7h20.83v20.83h-20.83z"/><path fill="#ffb748" d="M1988.2 782.1h20.83v20.83h-20.83z"/><path fill="#ffc639" d="M1902.1 601.3h20.83v20.83h-20.83z"/><path fill="#ff30cf" d="M1892.1 1190.5h20.83v20.83h-20.83z"/><path fill="#ffda25" d="M2193.3 926.0h20.83v20.83h-20.83z"/><path fill="#ff847b" d="M2023.0 1033.9h20.83v20.83h-20.83z"/><path fill="#ff4cb3" d="M1961.6 1176.4h20.83v20.83h-20.83z"/><path fill="#ffe11e" d="M2238.5 963.4h20.83v20.83h-20.83z"/><path fill="#fff20d" d="M2427.3 1155.4h20.83v20.83h-20.83z"/><path fill="#ffd12e" d="M1943.7 614.6h20.83v20.83h-20.83z"/><path fill="#ff50af" d="M1962.5 1157.9h20.83v20.83h-20.83z"/><path fill="#ff8e71" d="M1995.3 956.7h20.83v20.83h-20.83z"/><path fill="#ffdc23" d="M2024.9 680.7h20.83v20.83h-20.83z"/><path fill="#ff9966" d="M1970.9 876.0h20.83v20.83h-20.83z"/><path fill="#ff7e81" d="M1787.2 727.7h20.83v20.83h-20.83z"/><path fill="#ffab54" d="M1969.1 802.1h20.83v20.83h-20.83z"/><path fill="#ff48b7" d="M1961.7 1192.9h20.83v20.83h-20.83z"/><path fill="#ff1ee1" d="M1868.8 1231.2h20.83v20.83h-20.83z"/><path fill="#ffbd42" d="M1825.3 527.1h20.83v20.83h-20.83z"/><path fill="#ff41be" d="M1806.1 1000.5h20.83v20.83h-20.83z"/><path fill="#ffa55a" d="M2252.7 1223.4h20.83v20.83h-20.83z"/><path fill="#ff48b7" d="M1934.2 1152.5h20.83v20.83h-20.83z"/><path fill="#ffff00" d="M2130.6 688.1h20.83v20.83h-20.83z"/><path fill="#ffe31c" d="M2368.5 1134.2h20.83v20.83h-20.83z"/><path fill="#ff4ab5" d="M1926.5 1131.7h20.83v20.83h-20.83z"/><path fill="#ffb748" d="M1864.3 605.0h20.83v20.83h-20.83z"/><path fill="#ff6c93" d="M1828.5 860.3h20.83v20.83h-20.83z"/><path fill="#ff6996" d="M1954.0 1048.5h20.83v20.83h-20.83z"/><path fill="#ff2fd0" d="M1807.0 1074.3h20.83v20.83h-20.83z"/><path fill="#ffe31c" d="M1841.9 397.6h20.83v20.83h-20.83z"/><path fill="#ff49b6" d="M1931.3 1143.1h20.83v20.83h-20.83z"/><path fill="#ffe41b" d="M2042.9 674.1h20.83v20.83h-20.83z"/><path fill="#fff906" d="M2485.1 1208.9h20.83v20.83h-20.83z"/><path fill="#ffdb24" d="M2379.0 1183.9h20.83v20.83h-20.83z"/><path fill="#ffe01f" d="M2184.6 888.5h20.83v20.83h-20.83z"/><path fill="#ffd42b" d="M1913.3 559.0h20.83v20.83h-20.83z"/><path fill="#ff23dc" d="M1808.5 1126.7h20.83v20.83h-20.83z"/><path fill="#ffb946" d="M1840.1 566.0h20.83v20.83h-20.83z"/><path fill="#ff6a95" d="M2004.2 1112.0h20.83v20.83h-20.83z"/><path fill="#ff5aa5" d="M2031.7 1214.7h20.83v20.83h-20.83z"/><path fill="#ffe01f" d="M1845.4 415.0h20.83v20.83h-20.83z"/><path fill="#ffb24d" d="M1810.2 549.6h20.83v20.83h-20.83z"/><path fill="#ff8a75" d="M1831.3 740.3h20.83v20.83h-20.83z"/><path fill="#ffe41b" d="M1916.7 497.3h20.83v20.83h-20.83z"/><path fill="#ffbe41" d="M2300.1 1188.8h20.83v20.83h-20.83z"/><path fill="#ffa55a" d="M2174.7 1113.8h20.83v20.83h-20.83z"/><path fill="#fffe01" d="M2046.6 574.1h20.83v20.83h-20.83z"/><path fill="#ff6b94" d="M2018.2 1128.5h20.83v20.83h-20.83z"/><path fill="#ffd827" d="M2168.9 900.2h20.83v20.83h-20.83z"/><path fill="#ff5fa0" d="M1935.1 1060.9h20.83v20.83h-20.83z"/><path fill="#ffd827" d="M2004.2 668.7h20.83v20.83h-20.83z"/><path fill="#ff9669" d="M1817.7 673.8h20.83v20.83h-20.83z"/><path fill="#ff4cb3" d="M1842.7 1007.0h20.83v20.83h-20.83z"/><path fill="#ffe21d" d="M2059.4 705.7h20.83v20.83h-20.83z"/><path fill="#ff6e91" d="M1828.6 851.3h20.83v20.83h-20.83z"/><path fill="#ff15ea" d="M1834.0 1217.4h20.83v20.83h-20.83z"/><path fill="#ffbd42" d="M2269.5 1151.0h20.83v20.83h-20.83z"/><path fill="#ffba45" d="M2034.3 832.4h20.83v20.83h-20.83z"/><path fill="#ff56a9" d="M1829.4 949.5h20.83v20.83h-20.83z"/><path fill="#ffab54" d="M2158.8 1065.9h20.83v20.83h-20.83z"/><path fill="#ffae51" d="M2271.8 1212.8h20.83v20.83h-20.83z"/><path fill="#ffca35" d="M2246.2 1065.3h20.83v20.83h-20.83z"/><path fill="#ffb34c" d="M2266.7 1186.0h20.83v20.83h-20.83z"/><path fill="#ffa758" d="M2214.6 1163.9h20.83v20.83h-20.83z"/><path fill="#ff56a9" d="M1932.4 1094.8h20.83v20.83h-20.83z"/><path fill="#ff7a85" d="M1873.1 865.8h20.83v20.83h-20.83z"/><path fill="#ffe718" d="M1830.6 367.3h20.83v20.83h-20.83z"/><path fill="#ff4fb0" d="M1813.4 956.6h20.83v20.83h-20.83z"/><path fill="#fffd02" d="M2220.8 824.2h20.83v20.83h-20.83z"/><path fill="#fffb04" d="M2040.3 581.3h20.83v20.83h-20.83z"/><path fill="#ff58a7" d="M1854.9 976.3h20.83v20.83h-20.83z"/><path fill="#ffc837" d="M1792.0 436.9h20.83v20.83h-20.83z"/><path fill="#ffd22d" d="M2163.5 915.6h20.83v20.83h-20.83z"/><path fill="#ffaa55" d="M2080.2 961.8h20.83v20.83h-20.83z"/><path fill="#ff7d82" d="M2000.8 1030.1h20.83v20.83h-20.83z"/><path fill="#ff7887" d="M1802.9 776.0h20.83v20.83h-20.83z"/><path fill="#ffad52" d="M2133.3 1023.8h20.83v20.83h-20.83z"/><path fill="#ffc23d" d="M2020.0 782.3h20.83v20.83h-20.83z"/><path fill="#ffcc33" d="M2283.4 1107.8h20.83v20.83h-20.83z"/><path fill="#ffc639" d="M2155.4 955.1h20.83v20.83h-20.83z"/><path fill="#ffa857" d="M1995.1 850.4h20.83v20.83h-20.83z"/><path fill="#ffa25d" d="M2223.9 1195.9h20.83v20.83h-20.83z"/><path fill="#ffaa55" d="M1787.4 553.7h20.83v20.83h-20.83z"/><path fill="#ff817e" d="M1988.5 999.6h20.83v20.83h-20.83z"/><path fill="#ff24db" d="M1803.9 1115.4h20.83v20.83h-20.83z"/><path fill="#ff906f" d="M1818.7 700.9h20.83v20.83h-20.83z"/><path fill="#ffdb24" d="M2101.4 794.7h20.83v20.83h-20.83z"/><path fill="#ffc03f" d="M2289.2 1165.3h20.83v20.83h-20.83z"/><path fill="#ffba45" d="M2304.8 1212.6h20.83v20.83h-20.83z"/><path fill="#ffce31" d="M1979.2 674.3h20.83v20.83h-20.83z"/><path fill="#ffff00" d="M2275.4 885.9h20.83v20.83h-20.83z"/><path fill="#ff9669" d="M1882.4 763.5h20.83v20.83h-20.83z"/><path fill="#ff619e" d="M1801.7 868.1h20.83v20.83h-20.83z"/><path fill="#ff2cd3" d="M1839.5 1134.4h20.83v20.83h-20.83z"/><path fill="#ffee11" d="M2049.8 643.6h20.83v20.83h-20.83z"/><path fill="#ff7887" d="M2017.1 1074.3h20.83v20.83h-20.83z"/><path fill="#ff57a8" d="M1910.4 1058.0h20.83v20.83h-20.83z"/><path fill="#ffc639" d="M1994.9 730.4h20.83v20.83h-20.83z"/><path fill="#ff3ac5" d="M1781.7 995.1h20.83v20.83h-20.83z"/><path fill="#ff47b8" d="M1884.6 1085.1h20.83v20.83h-20.83z"/><path fill="#ffdd22" d="M2223.5 956.4h20.83v20.83h-20.83z"/><path fill="#ffa758" d="M2187.7 1123.6h20.83v20.83h-20.83z"/><path fill="#ffb24d" d="M2148.1 1022.5h20.83v20.83h-20.83z"/><path fill="#ff9e61" d="M1792.0 607.0h20.83v20.83h-20.83z"/><path fill="#ff6c93" d="M1796.5 815.8h20.83v20.83h-20.83z"/><path fill="#ff57a8" d="M1973.8 1148.3h20.83v20.83h-20.83z"/><path fill="#ffc837" d="M2138.1 923.5h20.83v20.83h-20.83z"/><path fill="#ffae51" d="M1790.6 541.0h20.83v20.83h-20.83z"/><path fill="#ffff00" d="M2272.2 862.9h20.83v20.83h-20.83zM1902.2 364.4h20.83v20.83h-20.83z"/><path fill="#ff45ba" d="M1965.2 1208.1h20.83v20.83h-20.83z"/><path fill="#ffbe41" d="M2319.0 1217.4h20.83v20.83h-20.83z"/><path fill="#ff956a" d="M2149.2 1142.9h20.83v20.83h-20.83z"/><path fill="#ffcf30" d="M2341.5 1179.7h20.83v20.83h-20.83z"/><path fill="#ff39c6" d="M1878.4 1136.7h20.83v20.83h-20.83z"/><path fill="#ff55aa" d="M1789.4 897.7h20.83v20.83h-20.83z"/><path fill="#ffa15e" d="M2174.1 1130.8h20.83v20.83h-20.83z"/><path fill="#ffb649" d="M1937.9 714.8h20.83v20.83h-20.83z"/><path fill="#ffb847" d="M2076.4 900.6h20.83v20.83h-20.83z"/><path fill="#ff52ad" d="M2003.4 1207.3h20.83v20.83h-20.83z"/><path fill="#ff3cc3" d="M1918.0 1178.8h20.83v20.83h-20.83z"/><path fill="#ffe21d" d="M2275.3 1008.9h20.83v20.83h-20.83z"/><path fill="#ffb946" d="M2068.8 884.7h20.83v20.83h-20.83z"/><path fill="#fffc03" d="M2208.8 810.6h20.83v20.83h-20.83z"/><path fill="#ff6699" d="M1858.5 924.0h20.83v20.83h-20.83z"/><path fill="#ff8c73" d="M2078.7 1080.0h20.83v20.83h-20.83z"/><path fill="#ffb34c" d="M2239.2 1149.3h20.83v20.83h-20.83z"/><path fill="#ffa45b" d="M2012.4 890.8h20.83v20.83h-20.83z"/><path fill="#ff39c6" d="M1801.3 1026.7h20.83v20.83h-20.83z"/><path fill="#ffd728" d="M1914.1 548.7h20.83v20.83h-20.83z"/><path fill="#ffdb24" d="M2038.7 705.0h20.83v20.83h-20.83z"/><path fill="#ff659a" d="M1794.4 840.8h20.83v20.83h-20.83z"/><path fill="#ff36c9" d="M1879.5 1147.2h20.83v20.83h-20.83z"/><path fill="#fff906" d="M2297.3 948.4h20.83v20.83h-20.83z"/><path fill="#ffb04f" d="M2009.4 838.8h20.83v20.83h-20.83z"/><path fill="#ffcc33" d="M2175.2 958.0h20.83v20.83h-20.83z"/><path fill="#ff6e91" d="M1790.1 796.3h20.83v20.83h-20.83z"/><path fill="#ff57a8" d="M1952.1 1117.2h20.83v20.83h-20.83z"/><path fill="#ffeb14" d="M2349.7 1076.0h20.83v20.83h-20.83z"/><path fill="#ffe718" d="M2387.3 1144.6h20.83v20.83h-20.83z"/><path fill="#ffd22d" d="M2249.0 1035.6h20.83v20.83h-20.83z"/><path fill="#ff17e8" d="M1848.3 1229.2h20.83v20.83h-20.83z"/><path fill="#ffc03f" d="M2320.3 1207.1h20.83v20.83h-20.83z"/><path fill="#ff629d" d="M1861.6 946.6h20.83v20.83h-20.83z"/><path fill="#ff3fc0" d="M1913.1 1161.1h20.83v20.83h-20.83z"/><path fill="#ffec13" d="M1860.4 385.8h20.83v20.83h-20.83z"/><path fill="#ff48b7" d="M1851.2 1037.4h20.83v20.83h-20.83z"/><path fill="#fffe01" d="M2207.9 800.9h20.83v20.83h-20.83z"/><path fill="#ff32cd" d="M1883.8 1170.6h20.83v20.83h-20.83z"/><path fill="#ffce31" d="M2140.7 900.0h20.83v20.83h-20.83z"/><path fill="#fffb04" d="M2016.1 545.7h20.83v20.83h-20.83z"/><path fill="#ffc03f" d="M2257.2 1122.1h20.83v20.83h-20.83z"/><path fill="#ffba45" d="M2244.3 1128.5h20.83v20.83h-20.83z"/><path fill="#ff6e91" d="M2058.9 1172.4h20.83v20.83h-20.83z"/><path fill="#ff5ba4" d="M1972.1 1130.0h20.83v20.83h-20.83z"/><path fill="#ff9e61" d="M1999.1 897.8h20.83v20.83h-20.83z"/><path fill="#ff58a7" d="M1986.1 1161.5h20.83v20.83h-20.83z"/><path fill="#ffc43b" d="M1909.1 619.2h20.83v20.83h-20.83z"/><path fill="#ff48b7" d="M1880.4 1076.6h20.83v20.83h-20.83z"/><path fill="#ffdd22" d="M2098.9 781.7h20.83v20.83h-20.83z"/><path fill="#ffff00" d="M1865.2 303.1h20.83v20.83h-20.83z"/><path fill="#ffd42b" d="M1976.7 647.9h20.83v20.83h-20.83z"/><path fill="#fff609" d="M2416.8 1124.9h20.83v20.83h-20.83z"/><path fill="#ff7788" d="M1996.1 1049.9h20.83v20.83h-20.83z"/><path fill="#ff58a7" d="M1886.0 1022.1h20.83v20.83h-20.83z"/><path fill="#ff8d72" d="M1816.9 711.3h20.83v20.83h-20.83zM1874.8 792.6h20.83v20.83h-20.83z"/><path fill="#ff6699" d="M1867.5 939.3h20.83v20.83h-20.83z"/><path fill="#ff6996" d="M2063.1 1201.4h20.83v20.83h-20.83z"/><path fill="#ffff00" d="M1951.1 438.1h20.83v20.83h-20.83z"/><path fill="#ffdd22" d="M2131.5 828.5h20.83v20.83h-20.83z"/><path fill="#ffe01f" d="M2014.3 650.0h20.83v20.83h-20.83z"/><path fill="#ffa758" d="M1832.8 625.8h20.83v20.83h-20.83z"/><path fill="#ffff00" d="M1972.6 467.0h20.83v20.83h-20.83z"/><path fill="#ffb24d" d="M2186.4 1079.8h20.83v20.83h-20.83z"/><path fill="#ffce31" d="M2317.9 1150.7h20.83v20.83h-20.83z"/><path fill="#ff53ac" d="M1866.7 1015.1h20.83v20.83h-20.83z"/><path fill="#ffff00" d="M2028.7 533.7h20.83v20.83h-20.83z"/><path fill="#ff8a75" d="M1886.1 818.1h20.83v20.83h-20.83z"/><path fill="#ff4cb3" d="M1892.3 1079.4h20.83v20.83h-20.83z"/><path fill="#ff27d8" d="M1872.7 1201.1h20.83v20.83h-20.83z"/><path fill="#ff8c73" d="M1787.8 672.3h20.83v20.83h-20.83z"/><path fill="#ff817e" d="M1995.0 1009.8h20.83v20.83h-20.83z"/><path fill="#ff9b64" d="M2161.9 1136.2h20.83v20.83h-20.83z"/><path fill="#ffb44b" d="M1975.9 776.3h20.83v20.83h-20.83z"/><path fill="#ff6d92" d="M2064.8 1185.6h20.83v20.83h-20.83z"/><path fill="#ffdb24" d="M2086.4 774.2h20.83v20.83h-20.83z"/><path fill="#ffe619" d="M2310.8 1043.5h20.83v20.83h-20.83z"/><path fill="#ffc33c" d="M1998.0 745.7h20.83v20.83h-20.83z"/><path fill="#ffb24d" d="M2056.5 896.5h20.83v20.83h-20.83z"/><path fill="#ffa15e" d="M1997.8 882.9h20.83v20.83h-20.83z"/><path fill="#ffe11e" d="M2137.7 821.7h20.83v20.83h-20.83z"/><path fill="#fff708" d="M2206.7 829.5h20.83v20.83h-20.83z"/><path fill="#ffc33c" d="M1929.1 650.7h20.83v20.83h-20.83z"/><path fill="#ff8c73" d="M1881.6 803.3h20.83v20.83h-20.83z"/><path fill="#ff1be4" d="M1847.5 1211.9h20.83v20.83h-20.83z"/><path fill="#ffd629" d="M1894.1 521.8h20.83v20.83h-20.83z"/><path fill="#ff7e81" d="M1921.3 916.8h20.83v20.83h-20.83z"/><path fill="#ffff00" d="M2025.9 541.3h20.83v20.83h-20.83z"/><path fill="#ffaf50" d="M2280.8 1223.2h20.83v20.83h-20.83z"/><path fill="#ff57a8" d="M1897.5 1039.5h20.83v20.83h-20.83z"/><path fill="#ff40bf" d="M1926.4 1174.3h20.83v20.83h-20.83z"/><path fill="#ffc936" d="M2019.8 753.8h20.83v20.83h-20.83z"/><path fill="#ffbf40" d="M2196.3 1038.4h20.83v20.83h-20.83z"/><path fill="#fffc03" d="M2434.6 1127.0h20.83v20.83h-20.83z"/><path fill="#ffac53" d="M2042.9 902.6h20.83v20.83h-20.83z"/><path fill="#ffd629" d="M2081.9 788.5h20.83v20.83h-20.83z"/><path fill="#ff9f60" d="M2063.2 981.6h20.83v20.83h-20.83z"/><path fill="#fff20d" d="M2185.9 820.2h20.83v20.83h-20.83z"/><path fill="#fff906" d="M1970.5 490.6h20.83v20.83h-20.83z"/><path fill="#ffbc43" d="M2086.9 898.4h20.83v20.83h-20.83z"/><path fill="#ffb54a" d="M2282.5 1202.6h20.83v20.83h-20.83z"/><path fill="#fffe01" d="M1927.5 407.9h20.83v20.83h-20.83z"/><path fill="#ffff00" d="M2045.0 550.9h20.83v20.83h-20.83z"/><path fill="#ffed12" d="M2184.2 836.1h20.83v20.83h-20.83z"/><path fill="#ff36c9" d="M1888.9 1162.3h20.83v20.83h-20.83z"/><path fill="#ffc13e" d="M2052.1 828.5h20.83v20.83h-20.83z"/><path fill="#ffbc43" d="M2047.2 841.1h20.83v20.83h-20.83z"/><path fill="#ffb34c" d="M2284.3 1212.7h20.83v20.83h-20.83z"/><path fill="#ff946b" d="M1785.7 639.3h20.83v20.83h-20.83z"/><path fill="#ff51ae" d="M1822.8 961.3h20.83v20.83h-20.83z"/><path fill="#ffff00" d="M1910.1 380.0h20.83v20.83h-20.83z"/><path fill="#ff8a75" d="M1972.2 940.8h20.83v20.83h-20.83z"/><path fill="#fffb04" d="M1946.1 449.0h20.83v20.83h-20.83z"/><path fill="#ff7b84" d="M1792.2 747.4h20.83v20.83h-20.83z"/><path fill="#ff5ba4" d="M1826.2 923.7h20.83v20.83h-20.83z"/><path fill="#ffb44b" d="M2300.2 1228.6h20.83v20.83h-20.83z"/><path fill="#ffe11e" d="M2146.5 831.8h20.83v20.83h-20.83z"/><path fill="#ffd728" d="M2222.1 977.4h20.83v20.83h-20.83z"/><path fill="#ff956a" d="M2053.6 1008.8h20.83v20.83h-20.83z"/><path fill="#ffc936" d="M1973.6 686.3h20.83v20.83h-20.83z"/><path fill="#ffdd22" d="M2377.3 1170.3h20.83v20.83h-20.83z"/><path fill="#ffdf20" d="M1911.4 510.5h20.83v20.83h-20.83z"/><path fill="#ff4bb4" d="M1800.7 952.2h20.83v20.83h-20.83z"/><path fill="#fff20d" d="M2375.5 1084.4h20.83v20.83h-20.83z"/><path fill="#ff9f60" d="M2202.7 1178.2h20.83v20.83h-20.83z"/><path fill="#ff8877" d="M2051.1 1056.6h20.83v20.83h-20.83z"/><path fill="#ff817e" d="M1935.9 923.9h20.83v20.83h-20.83z"/><path fill="#ff5ca3" d="M2010.5 1178.6h20.83v20.83h-20.83z"/><path fill="#fffe01" d="M2374.2 1033.4h20.83v20.83h-20.83z"/><path fill="#ffe01f" d="M2167.6 865.2h20.83v20.83h-20.83z"/><path fill="#ffd02f" d="M1991.4 682.4h20.83v20.83h-20.83z"/><path fill="#ffde21" d="M2052.5 713.1h20.83v20.83h-20.83z"/><path fill="#ffd22d" d="M1899.8 546.3h20.83v20.83h-20.83zM2337.7 1159.4h20.83v20.83h-20.83z"/><path fill="#ff6699" d="M1940.4 1041.0h20.83v20.83h-20.83z"/><path fill="#ffff00" d="M2143.6 690.6h20.83v20.83h-20.83z"/><path fill="#ff48b7" d="M1789.4 949.5h20.83v20.83h-20.83z"/><path fill="#ff5ba4" d="M1852.6 963.7h20.83v20.83h-20.83z"/><path fill="#ffe916" d="M1792.7 306.5h20.83v20.83h-20.83z"/><path fill="#ffb34c" d="M1991.5 799.3h20.83v20.83h-20.83z"/><path fill="#ff48b7" d="M1893.3 1096.3h20.83v20.83h-20.83z"/><path fill="#ffa05f" d="M1891.6 738.1h20.83v20.83h-20.83z"/><path fill="#ffdf20" d="M1916.0 518.5h20.83v20.83h-20.83z"/><path fill="#ffc43b" d="M1974.3 709.7h20.83v20.83h-20.83z"/><path fill="#ffec13" d="M1908.5 454.9h20.83v20.83h-20.83z"/><path fill="#ffc936" d="M1928.6 623.8h20.83v20.83h-20.83z"/><path fill="#ffff00" d="M2511.0 1202.5h20.83v20.83h-20.83z"/><path fill="#ffc03f" d="M1937.7 675.4h20.83v20.83h-20.83z"/><path fill="#ff6d92" d="M1856.5 894.2h20.83v20.83h-20.83z"/><path fill="#ffc936" d="M2307.4 1153.6h20.83v20.83h-20.83z"/><path fill="#ffb649" d="M1959.2 744.4h20.83v20.83h-20.83z"/><path fill="#fff50a" d="M2230.5 868.2h20.83v20.83h-20.83z"/><path fill="#ffae51" d="M2035.1 882.6h20.83v20.83h-20.83z"/><path fill="#ffda25" d="M2153.3 872.4h20.83v20.83h-20.83z"/><path fill="#ff3bc4" d="M1934.7 1207.0h20.83v20.83h-20.83z"/><path fill="#ffef10" d="M1997.5 567.6h20.83v20.83h-20.83z"/><path fill="#ff619e" d="M2028.1 1183.1h20.83v20.83h-20.83z"/><path fill="#ffed12" d="M2089.7 706.1h20.83v20.83h-20.83z"/><path fill="#ff6d92" d="M1933.0 1003.0h20.83v20.83h-20.83z"/><path fill="#ffe21d" d="M2409.1 1196.1h20.83v20.83h-20.83z"/><path fill="#ff8a75" d="M1937.3 892.6h20.83v20.83h-20.83z"/><path fill="#ffa659" d="M1976.4 832.4h20.83v20.83h-20.83z"/><path fill="#ff956a" d="M2124.4 1110.1h20.83v20.83h-20.83z"/><path fill="#ff0ef1" d="M1812.4 1214.2h20.83v20.83h-20.83z"/><path fill="#ff5aa5" d="M1803.0 896.8h20.83v20.83h-20.83z"/><path fill="#ff718e" d="M1844.8 861.6h20.83v20.83h-20.83z"/><path fill="#ffab54" d="M1917.5 730.3h20.83v20.83h-20.83z"/><path fill="#ff38c7" d="M1793.2 1018.1h20.83v20.83h-20.83z"/><path fill="#ffcd32" d="M2362.4 1214.0h20.83v20.83h-20.83z"/><path fill="#ffd728" d="M1875.2 492.0h20.83v20.83h-20.83z"/><path fill="#ff5da2" d="M1877.8 989.7h20.83v20.83h-20.83z"/><path fill="#ffcd32" d="M1939.7 623.5h20.83v20.83h-20.83z"/><path fill="#ffe51a" d="M1891.3 459.2h20.83v20.83h-20.83z"/><path fill="#ffd728" d="M2307.4 1099.2h20.83v20.83h-20.83z"/><path fill="#fffc03" d="M2165.9 751.8h20.83v20.83h-20.83z"/><path fill="#ff649b" d="M1895.5 985.7h20.83v20.83h-20.83z"/><path fill="#ffff00" d="M1996.5 488.7h20.83v20.83h-20.83z"/><path fill="#ffbd42" d="M1892.1 623.0h20.83v20.83h-20.83z"/><path fill="#ff906f" d="M1957.4 893.9h20.83v20.83h-20.83z"/><path fill="#ffd52a" d="M2295.3 1089.2h20.83v20.83h-20.83z"/><path fill="#ff8976" d="M1993.4 973.6h20.83v20.83h-20.83z"/><path fill="#ffcb34" d="M2126.0 894.2h20.83v20.83h-20.83z"/><path fill="#fff10e" d="M2476.1 1231.3h20.83v20.83h-20.83z"/><path fill="#ffc639" d="M1859.1 539.6h20.83v20.83h-20.83z"/><path fill="#ffdc23" d="M2302.9 1072.3h20.83v20.83h-20.83z"/><path fill="#ff0df2" d="M1783.1 1179.8h20.83v20.83h-20.83z"/><path fill="#ff8c73" d="M1955.2 908.4h20.83v20.83h-20.83z"/><path fill="#ff31ce" d="M1789.7 1045.0h20.83v20.83h-20.83z"/><path fill="#ffad52" d="M1925.2 733.2h20.83v20.83h-20.83z"/><path fill="#ffc23d" d="M1882.5 589.1h20.83v20.83h-20.83z"/><path fill="#ff2ed1" d="M1827.7 1110.1h20.83v20.83h-20.83z"/><path fill="#ff609f" d="M2057.7 1227.4h20.83v20.83h-20.83z"/><path fill="#ff6d92" d="M2071.7 1194.6h20.83v20.83h-20.83z"/><path fill="#ffff00" d="M2080.7 621.1h20.83v20.83h-20.83z"/><path fill="#ffbc43" d="M2004.9 782.7h20.83v20.83h-20.83z"/><path fill="#ff5da2" d="M1918.5 1044.7h20.83v20.83h-20.83z"/><path fill="#ffa758" d="M2262.4 1228.8h20.83v20.83h-20.83z"/><path fill="#ffff00" d="M2051.0 576.6h20.83v20.83h-20.83z"/><path fill="#ff8b74" d="M1808.3 705.2h20.83v20.83h-20.83z"/><path fill="#ff53ac" d="M1853.8 994.2h20.83v20.83h-20.83z"/><path fill="#ff639c" d="M1873.6 959.3h20.83v20.83h-20.83z"/><path fill="#ffda25" d="M1794.3 368.9h20.83v20.83h-20.83z"/><path fill="#ffe51a" d="M2097.3 749.6h20.83v20.83h-20.83z"/><path fill="#ff59a6" d="M1930.6 1079.7h20.83v20.83h-20.83z"/><path fill="#ffee11" d="M2452.9 1208.4h20.83v20.83h-20.83z"/><path fill="#ff3cc3" d="M1837.3 1064.4h20.83v20.83h-20.83z"/><path fill="#ff8f70" d="M2045.2 1020.6h20.83v20.83h-20.83z"/><path fill="#ffc53a" d="M2178.6 992.4h20.83v20.83h-20.83z"/><path fill="#ff4db2" d="M1858.5 1026.7h20.83v20.83h-20.83z"/><path fill="#ffd02f" d="M2201.0 978.3h20.83v20.83h-20.83z"/><path fill="#ff9b64" d="M2142.3 1109.9h20.83v20.83h-20.83z"/><path fill="#ffd02f" d="M1873.6 519.8h20.83v20.83h-20.83z"/><path fill="#ffd926" d="M2326.8 1117.3h20.83v20.83h-20.83z"/><path fill="#ff847b" d="M2015.9 1025.0h20.83v20.83h-20.83z"/><path fill="#ff9f60" d="M2153.2 1108.9h20.83v20.83h-20.83z"/><path fill="#ff9c63" d="M1892.5 754.7h20.83v20.83h-20.83z"/><path fill="#ffd12e" d="M2103.2 835.5h20.83v20.83h-20.83z"/><path fill="#ff758a" d="M1859.0 864.4h20.83v20.83h-20.83z"/><path fill="#ffe619" d="M2394.3 1158.9h20.83v20.83h-20.83z"/><path fill="#ffde21" d="M2124.1 814.4h20.83v20.83h-20.83z"/><path fill="#ffd926" d="M1924.7 555.4h20.83v20.83h-20.83z"/><path fill="#ff8976" d="M1964.4 934.1h20.83v20.83h-20.83z"/><path fill="#ff8a75" d="M2118.1 1143.1h20.83v20.83h-20.83z"/><path fill="#ffbe41" d="M1899.3 628.1h20.83v20.83h-20.83z"/><path fill="#ffca35" d="M1954.8 656.4h20.83v20.83h-20.83z"/><path fill="#ffad52" d="M2177.2 1086.0h20.83v20.83h-20.83z"/><path fill="#ffff00" d="M2510.1 1215.8h20.83v20.83h-20.83z"/><path fill="#ff619e" d="M1999.6 1143.0h20.83v20.83h-20.83z"/><path fill="#ff46b9" d="M1867.8 1066.8h20.83v20.83h-20.83z"/><path fill="#ffde21" d="M2118.4 803.7h20.83v20.83h-20.83z"/><path fill="#ffff00" d="M2406.8 1051.6h20.83v20.83h-20.83z"/><path fill="#ffe01f" d="M1809.8 364.1h20.83v20.83h-20.83z"/><path fill="#ff8d72" d="M1860.3 770.8h20.83v20.83h-20.83z"/><path fill="#fff807" d="M2314.2 975.6h20.83v20.83h-20.83z"/><path fill="#ffd22d" d="M1942.0 605.2h20.83v20.83h-20.83z"/><path fill="#ffb54a" d="M2186.7 1067.0h20.83v20.83h-20.83z"/><path fill="#ffd827" d="M1830.4 426.6h20.83v20.83h-20.83z"/><path fill="#ff1ae5" d="M1798.1 1147.8h20.83v20.83h-20.83z"/><path fill="#fff906" d="M1801.7 252.0h20.83v20.83h-20.83z"/><path fill="#ffb24d" d="M2258.9 1178.3h20.83v20.83h-20.83z"/><path fill="#ff4ab5" d="M1821.7 988.5h20.83v20.83h-20.83z"/><path fill="#ffb847" d="M2046.6 859.1h20.83v20.83h-20.83z"/><path fill="#ffd22d" d="M1986.4 670.8h20.83v20.83h-20.83z"/><path fill="#ff758a" d="M1885.8 904.0h20.83v20.83h-20.83z"/><path fill="#ffff00" d="M2219.2 812.3h20.83v20.83h-20.83z"/><path fill="#ffaa55" d="M1948.7 777.1h20.83v20.83h-20.83z"/><path fill="#ffa857" d="M2243.4 1197.8h20.83v20.83h-20.83z"/><path fill="#ffb649" d="M1864.7 613.2h20.83v20.83h-20.83z"/><path fill="#ffc13e" d="M1867.1 569.8h20.83v20.83h-20.83z"/><path fill="#ff6798" d="M1887.8 962.5h20.83v20.83h-20.83z"/><path fill="#fff609" d="M2482.8 1217.5h20.83v20.83h-20.83z"/><path fill="#ff9b64" d="M1805.6 637.0h20.83v20.83h-20.83z"/><path fill="#ffe01f" d="M2285.7 1031.4h20.83v20.83h-20.83z"/><path fill="#ff807f" d="M1802.8 741.3h20.83v20.83h-20.83z"/><path fill="#ffb649" d="M2255.8 1160.9h20.83v20.83h-20.83z"/><path fill="#ffc837" d="M2286.4 1130.1h20.83v20.83h-20.83z"/><path fill="#ffff00" d="M2411.6 1077.1h20.83v20.83h-20.83z"/><path fill="#ffaf50" d="M1944.7 751.8h20.83v20.83h-20.83z"/><path fill="#ffff00" d="M2322.3 941.4h20.83v20.83h-20.83z"/><path fill="#ffe817" d="M2007.7 611.9h20.83v20.83h-20.83z"/><path fill="#ff1be4" d="M1817.6 1171.4h20.83v20.83h-20.83z"/><path fill="#ff659a" d="M2036.9 1178.9h20.83v20.83h-20.83z"/><path fill="#ff3ac5" d="M1910.2 1174.4h20.83v20.83h-20.83z"/><path fill="#ff42bd" d="M1899.3 1126.1h20.83v20.83h-20.83z"/><path fill="#ff31ce" d="M1911.6 1214.0h20.83v20.83h-20.83z"/><path fill="#ff7c83" d="M1910.8 912.0h20.83v20.83h-20.83z"/><path fill="#ffad52" d="M2155.4 1054.7h20.83v20.83h-20.83z"/><path fill="#ffa25d" d="M2189.8 1148.3h20.83v20.83h-20.83z"/><path fill="#ff8b74" d="M2181.8 1228.2h20.83v20.83h-20.83z"/><path fill="#ff817e" d="M1781.5 710.4h20.83v20.83h-20.83z"/><path fill="#ff7e81" d="M2079.3 1138.0h20.83v20.83h-20.83z"/><path fill="#ffff00" d="M2440.9 1118.0h20.83v20.83h-20.83z"/><path fill="#ff7e81" d="M2140.7 1225.1h20.83v20.83h-20.83z"/><path fill="#ff4cb3" d="M1908.7 1100.5h20.83v20.83h-20.83z"/><path fill="#ffff00" d="M1970.8 450.1h20.83v20.83h-20.83z"/><path fill="#ffb14e" d="M2031.5 863.4h20.83v20.83h-20.83z"/><path fill="#ffdb24" d="M1996.8 647.1h20.83v20.83h-20.83z"/><path fill="#ffb54a" d="M2233.1 1129.7h20.83v20.83h-20.83z"/><path fill="#ffad52" d="M2195.7 1111.1h20.83v20.83h-20.83z"/><path fill="#fffa05" d="M2308.4 959.2h20.83v20.83h-20.83z"/><path fill="#ffa758" d="M1932.0 768.1h20.83v20.83h-20.83z"/><path fill="#ff6c93" d="M1994.9 1094.1h20.83v20.83h-20.83z"/><path fill="#ff639c" d="M2054.4 1213.2h20.83v20.83h-20.83z"/><path fill="#ff936c" d="M2010.0 958.0h20.83v20.83h-20.83z"/><path fill="#ff8e71" d="M2182.4 1216.3h20.83v20.83h-20.83z"/><path fill="#ffc03f" d="M2235.3 1088.4h20.83v20.83h-20.83z"/><path fill="#ffe41b" d="M2024.4 647.8h20.83v20.83h-20.83z"/><path fill="#ffb24d" d="M2083.2 935.0h20.83v20.83h-20.83z"/><path fill="#ff6c93" d="M1820.8 847.2h20.83v20.83h-20.83z"/><path fill="#ff708f" d="M1894.8 938.0h20.83v20.83h-20.83z"/><path fill="#ff8976" d="M1808.4 716.1h20.83v20.83h-20.83z"/><path fill="#ff29d6" d="M1811.1 1106.6h20.83v20.83h-20.83z"/><path fill="#ffde21" d="M2324.2 1093.0h20.83v20.83h-20.83z"/><path fill="#ffa857" d="M1967.2 813.5h20.83v20.83h-20.83z"/><path fill="#ff7a85" d="M1840.2 819.5h20.83v20.83h-20.83z"/><path fill="#fffe01" d="M2138.5 705.8h20.83v20.83h-20.83z"/><path fill="#ffba45" d="M2169.9 1024.8h20.83v20.83h-20.83z"/><path fill="#ffdf20" d="M2333.9 1103.9h20.83v20.83h-20.83z"/><path fill="#ffc43b" d="M1984.8 723.4h20.83v20.83h-20.83z"/><path fill="#ffe01f" d="M1989.1 617.7h20.83v20.83h-20.83z"/><path fill="#ff6996" d="M1964.5 1063.4h20.83v20.83h-20.83z"/><path fill="#ffd22d" d="M2012.3 704.6h20.83v20.83h-20.83z"/><path fill="#ffc837" d="M1803.2 451.1h20.83v20.83h-20.83z"/><path fill="#ff1de2" d="M1826.7 1175.9h20.83v20.83h-20.83z"/><path fill="#ffc43b" d="M2078.2 855.8h20.83v20.83h-20.83z"/><path fill="#ffce31" d="M1967.3 657.6h20.83v20.83h-20.83z"/><path fill="#ff8679" d="M1840.4 769.7h20.83v20.83h-20.83z"/><path fill="#ff23dc" d="M1874.6 1219.9h20.83v20.83h-20.83z"/><path fill="#fff50a" d="M2436.7 1156.6h20.83v20.83h-20.83z"/><path fill="#fff807" d="M2243.0 876.5h20.83v20.83h-20.83z"/><path fill="#ff9966" d="M2069.2 1013.6h20.83v20.83h-20.83z"/><path fill="#ffd629" d="M1953.7 606.5h20.83v20.83h-20.83z"/><path fill="#ffe21d" d="M2236.0 952.9h20.83v20.83h-20.83z"/><path fill="#ffec13" d="M2132.1 768.2h20.83v20.83h-20.83z"/><path fill="#ff44bb" d="M1826.5 1017.4h20.83v20.83h-20.83z"/><path fill="#ff8976" d="M2047.0 1046.4h20.83v20.83h-20.83z"/><path fill="#ffd728" d="M1962.7 615.5h20.83v20.83h-20.83z"/><path fill="#fffc03" d="M2109.9 672.2h20.83v20.83h-20.83z"/><path fill="#ffff00" d="M2046.5 564.0h20.83v20.83h-20.83z"/><path fill="#ffda25" d="M2239.3 990.8h20.83v20.83h-20.83z"/><path fill="#fff20d" d="M2214.5 859.1h20.83v20.83h-20.83z"/><path fill="#ff619e" d="M1908.5 1015.6h20.83v20.83h-20.83z"/><path fill="#ffcf30" d="M2203.2 986.4h20.83v20.83h-20.83z"/><path fill="#ff53ac" d="M1952.8 1135.8h20.83v20.83h-20.83z"/><path fill="#ffa758" d="M1912.7 738.4h20.83v20.83h-20.83z"/><path fill="#ff649b" d="M1969.7 1090.8h20.83v20.83h-20.83z"/><path fill="#ffd22d" d="M1811.9 425.1h20.83v20.83h-20.83z"/><path fill="#ffe51a" d="M2217.8 918.1h20.83v20.83h-20.83z"/><path fill="#ffcc33" d="M2371.0 1230.3h20.83v20.83h-20.83z"/><path fill="#ffff00" d="M2013.7 508.0h20.83v20.83h-20.83z"/><path fill="#ff27d8" d="M1881.4 1211.7h20.83v20.83h-20.83z"/><path fill="#ff43bc" d="M1956.5 1204.9h20.83v20.83h-20.83z"/><path fill="#ffe718" d="M2034.9 650.9h20.83v20.83h-20.83z"/><path fill="#ffc936" d="M2353.0 1220.5h20.83v20.83h-20.83z"/><path fill="#ff7986" d="M2079.4 1159.4h20.83v20.83h-20.83z"/><path fill="#ff3bc4" d="M1810.4 1033.0h20.83v20.83h-20.83z"/><path fill="#ff12ed" d="M1798.3 1181.7h20.83v20.83h-20.83z"/><path fill="#ffcc33" d="M2109.1 864.3h20.83v20.83h-20.83z"/><path fill="#ffb14e" d="M2157.5 1041.7h20.83v20.83h-20.83z"/><path fill="#ff649b" d="M1946.9 1059.1h20.83v20.83h-20.83z"/><path fill="#ffd22d" d="M2360.8 1193.3h20.83v20.83h-20.83z"/><path fill="#ffcf30" d="M2011.7 715.4h20.83v20.83h-20.83z"/><path fill="#ff35ca" d="M1844.3 1104.9h20.83v20.83h-20.83z"/><path fill="#ffc738" d="M2174.0 977.4h20.83v20.83h-20.83z"/><path fill="#ffcb34" d="M1859.5 520.6h20.83v20.83h-20.83z"/><path fill="#ff3fc0" d="M1890.0 1127.1h20.83v20.83h-20.83z"/><path fill="#ffd42b" d="M2269.5 1057.4h20.83v20.83h-20.83z"/><path fill="#ffcf30" d="M1932.8 604.6h20.83v20.83h-20.83z"/><path fill="#ff4bb4" d="M1952.8 1168.1h20.83v20.83h-20.83z"/><path fill="#ffb847" d="M1793.0 504.1h20.83v20.83h-20.83z"/><path fill="#ff9e61" d="M2225.4 1212.8h20.83v20.83h-20.83z"/><path fill="#ffe916" d="M2430.2 1196.7h20.83v20.83h-20.83z"/><path fill="#ff7d82" d="M1856.5 830.6h20.83v20.83h-20.83z"/><path fill="#ffe51a" d="M2273.2 992.0h20.83v20.83h-20.83z"/><path fill="#ffb946" d="M2123.1 962.6h20.83v20.83h-20.83z"/><path fill="#ffe718" d="M1906.1 472.4h20.83v20.83h-20.83z"/><path fill="#ff40bf" d="M1934.8 1184.1h20.83v20.83h-20.83z"/><path fill="#ffc837" d="M2108.0 878.9h20.83v20.83h-20.83z"/><path fill="#ff619e" d="M1989.1 1128.6h20.83v20.83h-20.83z"/><path fill="#ff3cc3" d="M1852.7 1088.8h20.83v20.83h-20.83z"/><path fill="#ff8679" d="M2132.6 1179.5h20.83v20.83h-20.83z"/><path fill="#ff3fc0" d="M1956.2 1221.2h20.83v20.83h-20.83z"/><path fill="#ffb24d" d="M1982.0 793.7h20.83v20.83h-20.83z"/><path fill="#ffbe41" d="M1925.7 663.8h20.83v20.83h-20.83z"/><path fill="#ffdf20" d="M2146.8 841.7h20.83v20.83h-20.83z"/><path fill="#ff16e9" d="M1800.2 1166.5h20.83v20.83h-20.83z"/><path fill="#ffff00" d="M2511.0 1202.5h20.83v20.83h-20.83z"/><path fill="#ff857a" d="M2163.9 1227.6h20.83v20.83h-20.83z"/><path fill="#ffd12e" d="M2170.0 931.6h20.83v20.83h-20.83z"/><path fill="#ff9c63" d="M2116.2 1068.9h20.83v20.83h-20.83z"/><path fill="#ff738c" d="M2056.9 1151.1h20.83v20.83h-20.83z"/><path fill="#fffe01" d="M2386.0 1052.0h20.83v20.83h-20.83z"/><path fill="#ffa45b" d="M1884.5 713.3h20.83v20.83h-20.83z"/><path fill="#ff8e71" d="M2073.0 1062.8h20.83v20.83h-20.83z"/><path fill="#ffdf20" d="M2289.9 1040.7h20.83v20.83h-20.83z"/><path fill="#ffc13e" d="M1811.9 493.2h20.83v20.83h-20.83z"/><path fill="#ffcb34" d="M2256.4 1076.0h20.83v20.83h-20.83z"/><path fill="#ff7a85" d="M2121.7 1214.3h20.83v20.83h-20.83z"/><path fill="#ffe11e" d="M2264.5 996.3h20.83v20.83h-20.83z"/><path fill="#ffb748" d="M2274.7 1180.1h20.83v20.83h-20.83z"/><path fill="#ff6897" d="M1817.3 860.6h20.83v20.83h-20.83z"/><path fill="#ff40bf" d="M1862.9 1085.0h20.83v20.83h-20.83z"/><path fill="#ff817e" d="M2085.8 1133.3h20.83v20.83h-20.83z"/><path fill="#ff718e" d="M1911.6 956.0h20.83v20.83h-20.83z"/><path fill="#ff906f" d="M1926.8 852.6h20.83v20.83h-20.83z"/><path fill="#ffab54" d="M2211.9 1141.3h20.83v20.83h-20.83z"/><path fill="#ffef10" d="M1975.1 534.4h20.83v20.83h-20.83z"/><path fill="#fff40b" d="M1991.0 536.6h20.83v20.83h-20.83z"/><path fill="#ff8976" d="M1891.0 830.5h20.83v20.83h-20.83z"/><path fill="#ffa35c" d="M1992.5 865.8h20.83v20.83h-20.83z"/><path fill="#ffee11" d="M2232.5 901.9h20.83v20.83h-20.83z"/><path fill="#ffc43b" d="M2307.7 1174.2h20.83v20.83h-20.83z"/><path fill="#ffca35" d="M2241.6 1056.6h20.83v20.83h-20.83z"/><path fill="#ffeb14" d="M2440.5 1204.8h20.83v20.83h-20.83z"/><path fill="#ffa659" d="M2089.9 992.1h20.83v20.83h-20.83z"/><path fill="#fff807" d="M2030.2 578.9h20.83v20.83h-20.83z"/><path fill="#ffb847" d="M1788.6 495.5h20.83v20.83h-20.83z"/><path fill="#ff43bc" d="M1872.2 1087.1h20.83v20.83h-20.83z"/><path fill="#ff6a95" d="M1887.7 950.2h20.83v20.83h-20.83z"/><path fill="#ffdb24" d="M2399.1 1208.8h20.83v20.83h-20.83z"/><path fill="#ffb748" d="M2168.8 1033.2h20.83v20.83h-20.83z"/><path fill="#ff837c" d="M1975.7 971.7h20.83v20.83h-20.83z"/><path fill="#ffb04f" d="M1814.9 564.6h20.83v20.83h-20.83z"/><path fill="#ffda25" d="M2403.3 1220.2h20.83v20.83h-20.83z"/><path fill="#ffba45" d="M2238.0 1119.1h20.83v20.83h-20.83z"/><path fill="#ff0af5" d="M1781.8 1189.5h20.83v20.83h-20.83z"/><path fill="#ffa15e" d="M2119.2 1052.5h20.83v20.83h-20.83zM1807.3 614.0h20.83v20.83h-20.83z"/><path fill="#ffdf20" d="M2421.4 1224.8h20.83v20.83h-20.83z"/><path fill="#fff00f" d="M2060.1 650.8h20.83v20.83h-20.83z"/><path fill="#ff6798" d="M1994.6 1113.7h20.83v20.83h-20.83z"/><path fill="#ffd12e" d="M1865.2 503.4h20.83v20.83h-20.83z"/><path fill="#ffd926" d="M2106.7 808.4h20.83v20.83h-20.83z"/><path fill="#ffcc33" d="M1894.0 562.1h20.83v20.83h-20.83z"/><path fill="#ff2cd3" d="M1812.1 1094.7h20.83v20.83h-20.83z"/><path fill="#ff7c83" d="M1825.2 789.0h20.83v20.83h-20.83z"/><path fill="#ff6f90" d="M1815.2 829.2h20.83v20.83h-20.83z"/><path fill="#ff19e6" d="M1800.9 1155.7h20.83v20.83h-20.83z"/><path fill="#ff728d" d="M2082.1 1190.7h20.83v20.83h-20.83z"/><path fill="#ff8f70" d="M1936.6 868.3h20.83v20.83h-20.83z"/><path fill="#ffe11e" d="M2049.2 698.0h20.83v20.83h-20.83z"/><path fill="#ffc43b" d="M2051.0 817.9h20.83v20.83h-20.83z"/><path fill="#ffa35c" d="M2233.7 1205.9h20.83v20.83h-20.83z"/><path fill="#ff04fb" d="M1788.5 1221.7h20.83v20.83h-20.83z"/><path fill="#ffc23d" d="M1954.7 687.5h20.83v20.83h-20.83z"/><path fill="#ff8778" d="M2153.3 1204.6h20.83v20.83h-20.83z"/><path fill="#ffa55a" d="M2195.8 1142.5h20.83v20.83h-20.83z"/><path fill="#ff2fd0" d="M1825.8 1101.9h20.83v20.83h-20.83z"/><path fill="#ffdf20" d="M2375.7 1160.3h20.83v20.83h-20.83z"/><path fill="#ff8877" d="M2131.0 1169.7h20.83v20.83h-20.83z"/><path fill="#ff50af" d="M2006.1 1221.8h20.83v20.83h-20.83z"/><path fill="#ff738c" d="M1936.5 982.0h20.83v20.83h-20.83z"/><path fill="#ff946b" d="M2021.8 969.5h20.83v20.83h-20.83z"/><path fill="#ff7689" d="M1809.3 791.7h20.83v20.83h-20.83z"/><path fill="#ffdd22" d="M1794.7 356.7h20.83v20.83h-20.83z"/><path fill="#ffb847" d="M2136.0 985.2h20.83v20.83h-20.83z"/><path fill="#ff1ee1" d="M1784.8 1113.8h20.83v20.83h-20.83z"/><path fill="#ff37c8" d="M1862.9 1120.1h20.83v20.83h-20.83z"/><path fill="#ffc639" d="M1836.4 506.1h20.83v20.83h-20.83z"/><path fill="#ffe718" d="M2409.9 1178.0h20.83v20.83h-20.83z"/><path fill="#ff8f70" d="M1941.0 876.4h20.83v20.83h-20.83z"/><path fill="#ff5aa5" d="M1894.7 1024.0h20.83v20.83h-20.83z"/><path fill="#ffd629" d="M2243.8 1014.3h20.83v20.83h-20.83z"/><path fill="#ffcd32" d="M1955.6 647.9h20.83v20.83h-20.83z"/><path fill="#ffd827" d="M1997.3 658.5h20.83v20.83h-20.83z"/><path fill="#ff40bf" d="M1790.2 985.1h20.83v20.83h-20.83z"/><path fill="#ff8e71" d="M1966.5 914.0h20.83v20.83h-20.83z"/><path fill="#ffed12" d="M2362.7 1086.9h20.83v20.83h-20.83z"/><path fill="#ffe21d" d="M2205.8 911.0h20.83v20.83h-20.83z"/><path fill="#ff748b" d="M2068.1 1161.7h20.83v20.83h-20.83z"/><path fill="#ff25da" d="M1835.8 1157.6h20.83v20.83h-20.83z"/><path fill="#ff20df" d="M1861.8 1210.9h20.83v20.83h-20.83z"/><path fill="#ff36c9" d="M1854.5 1113.1h20.83v20.83h-20.83z"/><path fill="#ffde21" d="M2267.5 1015.2h20.83v20.83h-20.83z"/><path fill="#ffe41b" d="M2247.9 961.1h20.83v20.83h-20.83z"/><path fill="#ff6b94" d="M2034.1 1152.2h20.83v20.83h-20.83z"/><path fill="#ffcd32" d="M2118.0 871.9h20.83v20.83h-20.83z"/><path fill="#ff7d82" d="M1984.0 1006.9h20.83v20.83h-20.83z"/><path fill="#ffc33c" d="M2044.6 810.5h20.83v20.83h-20.83z"/><path fill="#ffaa55" d="M2029.5 891.1h20.83v20.83h-20.83z"/><path fill="#ff32cd" d="M1843.2 1113.3h20.83v20.83h-20.83z"/><path fill="#ff817e" d="M1915.5 895.4h20.83v20.83h-20.83z"/><path fill="#ff8a75" d="M2173.3 1221.2h20.83v20.83h-20.83z"/><path fill="#ffe619" d="M1899.6 466.7h20.83v20.83h-20.83z"/><path fill="#ffa05f" d="M1911.6 766.3h20.83v20.83h-20.83z"/><path fill="#ffe718" d="M2239.9 941.0h20.83v20.83h-20.83z"/><path fill="#ffb34c" d="M1878.3 643.1h20.83v20.83h-20.83z"/><path fill="#ffeb14" d="M2424.7 1182.4h20.83v20.83h-20.83z"/><path fill="#ffc13e" d="M1824.9 512.2h20.83v20.83h-20.83z"/><path fill="#ffff00" d="M2066.0 589.4h20.83v20.83h-20.83z"/><path fill="#ff46b9" d="M1819.0 998.9h20.83v20.83h-20.83z"/><path fill="#ffe718" d="M1996.6 599.1h20.83v20.83h-20.83z"/><path fill="#fff40b" d="M2010.5 565.5h20.83v20.83h-20.83z"/><path fill="#fffb04" d="M2409.9 1095.6h20.83v20.83h-20.83z"/><path fill="#ffca35" d="M1846.3 504.6h20.83v20.83h-20.83z"/><path fill="#ff41be" d="M1828.3 1031.3h20.83v20.83h-20.83z"/><path fill="#ffff00" d="M2459.2 1143.8h20.83v20.83h-20.83z"/><path fill="#fff906" d="M2082.7 648.0h20.83v20.83h-20.83z"/><path fill="#fffe01" d="M2256.1 870.7h20.83v20.83h-20.83z"/><path fill="#ffc936" d="M1997.3 719.1h20.83v20.83h-20.83z"/><path fill="#ffe11e" d="M1936.9 539.6h20.83v20.83h-20.83z"/><path fill="#ff847b" d="M2123.8 1177.4h20.83v20.83h-20.83z"/><path fill="#fff40b" d="M1908.9 421.6h20.83v20.83h-20.83z"/><path fill="#ffc53a" d="M1809.4 475.2h20.83v20.83h-20.83z"/><path fill="#ffc639" d="M1805.8 464.6h20.83v20.83h-20.83z"/><path fill="#ffd827" d="M2360.7 1168.9h20.83v20.83h-20.83z"/><path fill="#ffd32c" d="M1845.3 469.2h20.83v20.83h-20.83z"/><path fill="#ff46b9" d="M1944.9 1176.1h20.83v20.83h-20.83z"/><path fill="#ff718e" d="M2104.2 1226.9h20.83v20.83h-20.83z"/><path fill="#ff3dc2" d="M1881.3 1121.7h20.83v20.83h-20.83z"/><path fill="#ffb946" d="M2021.1 819.4h20.83v20.83h-20.83z"/><path fill="#ff7788" d="M1857.3 856.4h20.83v20.83h-20.83z"/><path fill="#ff9669" d="M2195.3 1203.6h20.83v20.83h-20.83z"/><path fill="#ffb14e" d="M1889.1 663.9h20.83v20.83h-20.83z"/><path fill="#ffe916" d="M2094.6 728.5h20.83v20.83h-20.83z"/><path fill="#ffba45" d="M2217.7 1088.2h20.83v20.83h-20.83z"/><path fill="#ffdf20" d="M2353.3 1131.6h20.83v20.83h-20.83z"/><path fill="#ffce31" d="M2328.6 1163.2h20.83v20.83h-20.83z"/><path fill="#ffa857" d="M1827.0 613.2h20.83v20.83h-20.83z"/><path fill="#ffff00" d="M2285.0 905.8h20.83v20.83h-20.83z"/><path fill="#ffbb44" d="M2077.7 888.6h20.83v20.83h-20.83z"/><path fill="#ffa758" d="M1819.1 607.2h20.83v20.83h-20.83z"/><path fill="#ff11ee" d="M1830.5 1230.9h20.83v20.83h-20.83z"/><path fill="#ffff00" d="M2231.0 824.3h20.83v20.83h-20.83z"/><path fill="#ffb04f" d="M1832.6 591.5h20.83v20.83h-20.83z"/><path fill="#ff9c63" d="M1811.3 643.0h20.83v20.83h-20.83z"/><path fill="#ff6798" d="M1892.4 969.1h20.83v20.83h-20.83z"/><path fill="#ffc837" d="M2078.1 838.5h20.83v20.83h-20.83z"/><path fill="#ff9669" d="M2201.9 1214.3h20.83v20.83h-20.83z"/><path fill="#ffb847" d="M2131.2 977.5h20.83v20.83h-20.83z"/><path fill="#ff56a9" d="M1839.0 961.2h20.83v20.83h-20.83z"/><path fill="#ffea15" d="M2277.3 980.4h20.83v20.83h-20.83z"/><path fill="#fff30c" d="M2199.7 836.7h20.83v20.83h-20.83z"/><path fill="#ffea15" d="M2163.0 817.9h20.83v20.83h-20.83z"/><path fill="#ffcf30" d="M2051.7 772.3h20.83v20.83h-20.83z"/><path fill="#ffb24d" d="M2023.0 849.8h20.83v20.83h-20.83z"/><path fill="#ffb847" d="M1976.9 761.6h20.83v20.83h-20.83z"/><path fill="#ffdc23" d="M2068.7 745.1h20.83v20.83h-20.83z"/><path fill="#ffd32c" d="M1802.1 408.5h20.83v20.83h-20.83z"/><path fill="#ffd52a" d="M1938.4 590.6h20.83v20.83h-20.83z"/><path fill="#ff8679" d="M2157.8 1213.6h20.83v20.83h-20.83z"/><path fill="#fffa05" d="M2466.9 1178.9h20.83v20.83h-20.83z"/><path fill="#ffd728" d="M2184.1 926.2h20.83v20.83h-20.83z"/><path fill="#fff50a" d="M1899.1 405.0h20.83v20.83h-20.83z"/><path fill="#ffc23d" d="M1808.1 484.2h20.83v20.83h-20.83z"/><path fill="#ff52ad" d="M1938.8 1117.1h20.83v20.83h-20.83z"/><path fill="#ffe31c" d="M2006.1 628.2h20.83v20.83h-20.83z"/><path fill="#ff50af" d="M1941.6 1132.2h20.83v20.83h-20.83z"/><path fill="#ffcd32" d="M1793.7 417.9h20.83v20.83h-20.83z"/><path fill="#ff847b" d="M1816.9 746.0h20.83v20.83h-20.83z"/><path fill="#ffb14e" d="M1881.7 656.3h20.83v20.83h-20.83z"/><path fill="#ff27d8" d="M1888.1 1220.2h20.83v20.83h-20.83z"/><path fill="#ff38c7" d="M1942.4 1229.4h20.83v20.83h-20.83z"/><path fill="#ffee11" d="M1907.1 443.3h20.83v20.83h-20.83z"/><path fill="#ff3ac5" d="M1817.5 1043.6h20.83v20.83h-20.83z"/><path fill="#ff9d62" d="M1919.5 787.6h20.83v20.83h-20.83z"/><path fill="#ffc23d" d="M1909.5 627.4h20.83v20.83h-20.83z"/><path fill="#ff639c" d="M1819.3 882.9h20.83v20.83h-20.83z"/><path fill="#ff57a8" d="M1847.2 970.2h20.83v20.83h-20.83z"/><path fill="#ff5ba4" d="M1980.0 1141.7h20.83v20.83h-20.83z"/><path fill="#ff32cd" d="M1851.1 1123.0h20.83v20.83h-20.83z"/><path fill="#ffa55a" d="M2019.2 897.7h20.83v20.83h-20.83zM1782.5 563.2h20.83v20.83h-20.83z"/><path fill="#ffdc23" d="M1868.4 464.3h20.83v20.83h-20.83z"/><path fill="#ff7986" d="M2007.9 1057.1h20.83v20.83h-20.83z"/><path fill="#ff1de2" d="M1798.9 1136.9h20.83v20.83h-20.83z"/><path fill="#ffaa55" d="M2265.1 1218.9h20.83v20.83h-20.83z"/><path fill="#ff35ca" d="M1931.3 1224.1h20.83v20.83h-20.83z"/><path fill="#ffe41b" d="M1982.8 590.1h20.83v20.83h-20.83z"/><path fill="#ffd926" d="M1847.9 448.4h20.83v20.83h-20.83z"/><path fill="#ff9f60" d="M2095.5 1025.9h20.83v20.83h-20.83z"/><path fill="#ffac53" d="M1963.4 791.1h20.83v20.83h-20.83z"/><path fill="#ff926d" d="M1925.0 839.9h20.83v20.83h-20.83z"/><path fill="#ffa25d" d="M2040.5 939.9h20.83v20.83h-20.83z"/><path fill="#ffa45b" d="M1945.8 797.0h20.83v20.83h-20.83z"/><path fill="#ffa55a" d="M2218.1 1174.9h20.83v20.83h-20.83z"/><path fill="#ffaf50" d="M1863.8 637.8h20.83v20.83h-20.83z"/><path fill="#ffef10" d="M2078.8 682.7h20.83v20.83h-20.83z"/><path fill="#ff936c" d="M1967.2 894.7h20.83v20.83h-20.83z"/><path fill="#ffca35" d="M2264.6 1092.6h20.83v20.83h-20.83z"/><path fill="#fff30c" d="M2362.3 1062.3h20.83v20.83h-20.83z"/><path fill="#fff807" d="M2221.3 843.9h20.83v20.83h-20.83z"/><path fill="#ffe817" d="M1970.1 556.8h20.83v20.83h-20.83z"/><path fill="#fff708" d="M2266.8 911.3h20.83v20.83h-20.83z"/><path fill="#ffd52a" d="M2038.0 728.1h20.83v20.83h-20.83z"/><path fill="#ff6996" d="M1993.5 1104.4h20.83v20.83h-20.83z"/><path fill="#ffa45b" d="M2127.4 1053.1h20.83v20.83h-20.83z"/><path fill="#fffb04" d="M2373.9 1047.1h20.83v20.83h-20.83z"/><path fill="#ff6897" d="M1810.1 850.2h20.83v20.83h-20.83z"/><path fill="#ffc33c" d="M2248.7 1098.6h20.83v20.83h-20.83z"/><path fill="#ff5fa0" d="M1864.4 960.6h20.83v20.83h-20.83z"/><path fill="#ffc03f" d="M2330.0 1221.0h20.83v20.83h-20.83z"/><path fill="#ffd52a" d="M2173.5 919.0h20.83v20.83h-20.83z"/><path fill="#ffda25" d="M2357.4 1157.6h20.83v20.83h-20.83z"/><path fill="#ffff00" d="M2177.9 749.3h20.83v20.83h-20.83z"/><path fill="#ffd629" d="M2333.6 1140.9h20.83v20.83h-20.83z"/><path fill="#ffd728" d="M2093.9 799.1h20.83v20.83h-20.83z"/><path fill="#ff6d92" d="M1806.0 822.3h20.83v20.83h-20.83z"/><path fill="#ffe718" d="M2265.1 974.7h20.83v20.83h-20.83z"/><path fill="#ff926d" d="M1808.5 676.2h20.83v20.83h-20.83z"/><path fill="#ff4cb3" d="M1988.7 1210.9h20.83v20.83h-20.83z"/><path fill="#ffc936" d="M1813.9 462.0h20.83v20.83h-20.83z"/><path fill="#ffe916" d="M2086.0 714.7h20.83v20.83h-20.83z"/><path fill="#ff42bd" d="M1857.4 1067.4h20.83v20.83h-20.83z"/><path fill="#fff40b" d="M1844.6 333.1h20.83v20.83h-20.83z"/><path fill="#ff7689" d="M1985.4 1036.7h20.83v20.83h-20.83z"/><path fill="#ffff00" d="M2243.5 837.3h20.83v20.83h-20.83z"/><path fill="#ff738c" d="M1971.2 1030.0h20.83v20.83h-20.83z"/><path fill="#ffaa55" d="M2236.6 1179.5h20.83v20.83h-20.83z"/><path fill="#ffbb44" d="M1864.2 591.3h20.83v20.83h-20.83z"/><path fill="#ffaf50" d="M2083.0 947.5h20.83v20.83h-20.83z"/><path fill="#ffb44b" d="M2215.6 1109.5h20.83v20.83h-20.83z"/><path fill="#ffda25" d="M2121.4 824.0h20.83v20.83h-20.83z"/><path fill="#ff8c73" d="M2113.8 1131.6h20.83v20.83h-20.83z"/><path fill="#ff33cc" d="M1858.2 1131.9h20.83v20.83h-20.83z"/><path fill="#ff3ac5" d="M1942.4 1219.6h20.83v20.83h-20.83z"/><path fill="#ffc23d" d="M2071.4 850.7h20.83v20.83h-20.83z"/><path fill="#ff807f" d="M1945.1 942.0h20.83v20.83h-20.83z"/><path fill="#ffc03f" d="M1874.9 584.6h20.83v20.83h-20.83z"/><path fill="#ffe21d" d="M2228.4 942.2h20.83v20.83h-20.83z"/><path fill="#ffff00" d="M2449.3 1123.1h20.83v20.83h-20.83zM2363.1 989.4h20.83v20.83h-20.83z"/><path fill="#ff8f70" d="M2087.7 1081.6h20.83v20.83h-20.83zM2080.9 1070.5h20.83v20.83h-20.83z"/><path fill="#ffce31" d="M1909.8 578.7h20.83v20.83h-20.83z"/><path fill="#ff9d62" d="M2214.5 1202.4h20.83v20.83h-20.83z"/><path fill="#ffff00" d="M1843.7 274.3h20.83v20.83h-20.83z"/><path fill="#ffc837" d="M1978.2 699.8h20.83v20.83h-20.83z"/><path fill="#fffa05" d="M2022.0 556.9h20.83v20.83h-20.83z"/><path fill="#fff50a" d="M1875.9 374.1h20.83v20.83h-20.83z"/><path fill="#fff40b" d="M1888.2 395.7h20.83v20.83h-20.83z"/><path fill="#ff7a85" d="M1944.1 963.3h20.83v20.83h-20.83z"/><path fill="#ffad52" d="M1851.2 628.6h20.83v20.83h-20.83z"/><path fill="#ff9d62" d="M2039.3 956.9h20.83v20.83h-20.83z"/><path fill="#ff6996" d="M2039.6 1168.8h20.83v20.83h-20.83z"/><path fill="#ff748b" d="M1876.1 891.8h20.83v20.83h-20.83z"/><path fill="#ff5ea1" d="M1806.8 887.0h20.83v20.83h-20.83z"/><path fill="#ff9c63" d="M2170.6 1146.1h20.83v20.83h-20.83z"/><path fill="#ffb34c" d="M1789.9 520.0h20.83v20.83h-20.83z"/><path fill="#fff20d" d="M2472.3 1218.5h20.83v20.83h-20.83z"/><path fill="#ffb946" d="M2250.6 1139.0h20.83v20.83h-20.83z"/><path fill="#ff857a" d="M1964.1 948.4h20.83v20.83h-20.83z"/><path fill="#ff6e91" d="M2032.6 1135.4h20.83v20.83h-20.83z"/><path fill="#ffd827" d="M1881.9 497.5h20.83v20.83h-20.83z"/><path fill="#ff5aa5" d="M1796.3 885.3h20.83v20.83h-20.83z"/><path fill="#fff50a" d="M2287.0 948.9h20.83v20.83h-20.83z"/><path fill="#ffb34c" d="M2208.4 1105.6h20.83v20.83h-20.83z"/><path fill="#ffff00" d="M1804.3 228.9h20.83v20.83h-20.83z"/><path fill="#ffe21d" d="M2103.2 770.0h20.83v20.83h-20.83z"/><path fill="#ffd22d" d="M1780.8 380.4h20.83v20.83h-20.83z"/><path fill="#ffac53" d="M1837.9 614.3h20.83v20.83h-20.83z"/><path fill="#ffbd42" d="M2141.4 971.1h20.83v20.83h-20.83z"/><path fill="#ff2dd2" d="M1835.2 1123.4h20.83v20.83h-20.83z"/><path fill="#ff4db2" d="M1796.1 940.0h20.83v20.83h-20.83z"/><path fill="#ff9768" d="M1920.3 815.8h20.83v20.83h-20.83z"/><path fill="#ffe718" d="M2342.3 1081.7h20.83v20.83h-20.83z"/><path fill="#ff8976" d="M2122.8 1154.2h20.83v20.83h-20.83z"/><path fill="#ffbb44" d="M1914.4 660.6h20.83v20.83h-20.83z"/><path fill="#ff9d62" d="M2026.7 938.6h20.83v20.83h-20.83z"/><path fill="#ffff00" d="M1981.5 469.4h20.83v20.83h-20.83z"/><path fill="#ffd32c" d="M2382.8 1219.9h20.83v20.83h-20.83z"/><path fill="#ffc936" d="M1835.9 493.9h20.83v20.83h-20.83z"/><path fill="#ff609f" d="M2033.8 1194.4h20.83v20.83h-20.83z"/><path fill="#ffd32c" d="M2297.1 1100.8h20.83v20.83h-20.83z"/><path fill="#ff47b8" d="M1802.1 970.5h20.83v20.83h-20.83z"/><path fill="#ffa758" d="M2205.3 1151.0h20.83v20.83h-20.83z"/><path fill="#ff07f8" d="M1785.2 1205.6h20.83v20.83h-20.83z"/><path fill="#ff5ba4" d="M2020.1 1194.9h20.83v20.83h-20.83z"/><path fill="#ffff00" d="M2220.7 794.3h20.83v20.83h-20.83z"/><path fill="#ffe718" d="M2159.8 828.5h20.83v20.83h-20.83z"/><path fill="#fff10e" d="M2448.2 1189.4h20.83v20.83h-20.83z"/><path fill="#ff6d92" d="M1991.8 1085.9h20.83v20.83h-20.83z"/><path fill="#ffd02f" d="M2041.5 752.5h20.83v20.83h-20.83z"/><path fill="#ffa857" d="M2049.5 928.4h20.83v20.83h-20.83z"/><path fill="#ffe619" d="M2258.0 969.9h20.83v20.83h-20.83z"/><path fill="#ff5ea1" d="M2042.4 1213.8h20.83v20.83h-20.83z"/><path fill="#ff9768" d="M1911.9 804.3h20.83v20.83h-20.83z"/><path fill="#ffb649" d="M2161.2 1026.6h20.83v20.83h-20.83z"/><path fill="#ffbe41" d="M1944.8 690.8h20.83v20.83h-20.83z"/><path fill="#fffc03" d="M1827.4 277.3h20.83v20.83h-20.83z"/><path fill="#ffa956" d="M2033.9 902.0h20.83v20.83h-20.83z"/><path fill="#ffff00" d="M2511.4 1222.5h20.83v20.83h-20.83z"/><path fill="#ffb14e" d="M1906.8 688.9h20.83v20.83h-20.83z"/><path fill="#ffa15e" d="M1974.8 852.2h20.83v20.83h-20.83z"/><path fill="#ffc936" d="M1891.3 572.8h20.83v20.83h-20.83z"/><path fill="#ffa956" d="M1793.2 564.6h20.83v20.83h-20.83z"/><path fill="#ff52ad" d="M1922.7 1094.5h20.83v20.83h-20.83z"/><path fill="#ffea15" d="M2064.3 682.2h20.83v20.83h-20.83z"/><path fill="#ff51ae" d="M1969.8 1164.2h20.83v20.83h-20.83z"/><path fill="#ff7689" d="M1937.9 971.6h20.83v20.83h-20.83z"/><path fill="#ffd22d" d="M2369.2 1203.2h20.83v20.83h-20.83z"/><path fill="#fff10e" d="M2141.3 760.6h20.83v20.83h-20.83z"/><path fill="#ffb34c" d="M2041.5 871.8h20.83v20.83h-20.83z"/><path fill="#ffc738" d="M1987.6 715.3h20.83v20.83h-20.83z"/><path fill="#ffc639" d="M2044.1 797.1h20.83v20.83h-20.83z"/><path fill="#ffb44b" d="M1828.7 569.1h20.83v20.83h-20.83z"/><path fill="#ff4eb1" d="M1823.1 971.1h20.83v20.83h-20.83z"/><path fill="#ff11ee" d="M1782.5 1160.5h20.83v20.83h-20.83z"/><path fill="#ff7689" d="M2065.8 1150.5h20.83v20.83h-20.83z"/><path fill="#ff8d72" d="M1800.1 688.3h20.83v20.83h-20.83z"/><path fill="#ffc639" d="M1840.2 514.4h20.83v20.83h-20.83z"/><path fill="#ffd12e" d="M1955.2 630.5h20.83v20.83h-20.83z"/><path fill="#ffb649" d="M1920.0 688.2h20.83v20.83h-20.83z"/><path fill="#ff32cd" d="M1781.8 1027.4h20.83v20.83h-20.83z"/><path fill="#ffd728" d="M2193.2 939.8h20.83v20.83h-20.83z"/><path fill="#ff4fb0" d="M1901.2 1078.6h20.83v20.83h-20.83z"/><path fill="#ffff00" d="M2191.6 761.3h20.83v20.83h-20.83z"/><path fill="#ff52ad" d="M1893.2 1054.2h20.83v20.83h-20.83z"/><path fill="#ff6e91" d="M1884.5 931.5h20.83v20.83h-20.83z"/><path fill="#ff4db2" d="M1939.4 1141.4h20.83v20.83h-20.83z"/><path fill="#ffbe41" d="M1965.1 719.6h20.83v20.83h-20.83z"/><path fill="#ffbb44" d="M2095.6 915.4h20.83v20.83h-20.83z"/><path fill="#ff629d" d="M1887.4 980.3h20.83v20.83h-20.83z"/><path fill="#ffb34c" d="M1842.1 592.9h20.83v20.83h-20.83z"/><path fill="#ffcc33" d="M1812.1 448.3h20.83v20.83h-20.83z"/><path fill="#ff54ab" d="M1806.5 924.2h20.83v20.83h-20.83z"/><path fill="#ffe11e" d="M2220.4 936.1h20.83v20.83h-20.83z"/><path fill="#fff20d" d="M1920.8 449.5h20.83v20.83h-20.83z"/><path fill="#ff22dd" d="M1839.7 1172.4h20.83v20.83h-20.83z"/><path fill="#ffff00" d="M2383.6 1028.0h20.83v20.83h-20.83z"/><path fill="#ffcb34" d="M2082.1 829.7h20.83v20.83h-20.83z"/><path fill="#ff49b6" d="M1846.3 1026.4h20.83v20.83h-20.83z"/><path fill="#ffe31c" d="M2393.3 1170.2h20.83v20.83h-20.83z"/><path fill="#ffc639" d="M2342.5 1214.2h20.83v20.83h-20.83z"/><path fill="#ff2bd4" d="M1792.5 1071.1h20.83v20.83h-20.83z"/><path fill="#ffc33c" d="M2010.8 765.4h20.83v20.83h-20.83z"/><path fill="#fff906" d="M2144.3 733.2h20.83v20.83h-20.83z"/><path fill="#ff827d" d="M1853.5 804.7h20.83v20.83h-20.83z"/><path fill="#ffe718" d="M2152.3 816.1h20.83v20.83h-20.83z"/><path fill="#ffac53" d="M2258.7 1204.3h20.83v20.83h-20.83z"/><path fill="#ffbb44" d="M1877.0 607.3h20.83v20.83h-20.83z"/><path fill="#ffe718" d="M2065.3 695.7h20.83v20.83h-20.83z"/><path fill="#ffa55a" d="M1892.2 718.9h20.83v20.83h-20.83z"/><path fill="#ff728d" d="M2047.3 1142.8h20.83v20.83h-20.83z"/><path fill="#ffd629" d="M2122.9 845.0h20.83v20.83h-20.83z"/><path fill="#ffe817" d="M2108.4 750.0h20.83v20.83h-20.83z"/><path fill="#ffb14e" d="M1937.6 732.7h20.83v20.83h-20.83z"/><path fill="#ff817e" d="M2136.1 1206.5h20.83v20.83h-20.83z"/><path fill="#fffd02" d="M1854.4 310.8h20.83v20.83h-20.83z"/><path fill="#ffcf30" d="M2108.9 852.1h20.83v20.83h-20.83z"/><path fill="#ffcd32" d="M2016.0 729.6h20.83v20.83h-20.83z"/><path fill="#ffa05f" d="M1790.1 597.2h20.83v20.83h-20.83z"/><path fill="#ffb44b" d="M2236.1 1140.5h20.83v20.83h-20.83z"/><path fill="#ff5ba4" d="M1842.9 946.1h20.83v20.83h-20.83z"/><path fill="#ffa15e" d="M2046.7 949.9h20.83v20.83h-20.83z"/><path fill="#ff8c73" d="M2083.6 1089.3h20.83v20.83h-20.83z"/><path fill="#ff3dc2" d="M1802.0 1011.4h20.83v20.83h-20.83z"/><path fill="#fffb04" d="M1911.5 400.7h20.83v20.83h-20.83z"/><path fill="#ff47b8" d="M1905.6 1118.5h20.83v20.83h-20.83z"/><path fill="#ff7b84" d="M1866.3 852.6h20.83v20.83h-20.83z"/><path fill="#ff6798" d="M1836.4 889.5h20.83v20.83h-20.83z"/><path fill="#ffe31c" d="M2160.4 842.8h20.83v20.83h-20.83z"/><path fill="#ffe619" d="M2169.9 845.6h20.83v20.83h-20.83z"/><path fill="#ffdf20" d="M2000.3 635.5h20.83v20.83h-20.83z"/><path fill="#ff57a8" d="M1826.5 940.8h20.83v20.83h-20.83z"/><path fill="#ffc639" d="M2019.0 764.3h20.83v20.83h-20.83z"/><path fill="#ffff00" d="M2301.4 924.4h20.83v20.83h-20.83z"/><path fill="#ff2ad5" d="M1796.1 1080.1h20.83v20.83h-20.83z"/><path fill="#ffde21" d="M2175.0 885.2h20.83v20.83h-20.83z"/><path fill="#ffd827" d="M2141.5 861.8h20.83v20.83h-20.83z"/><path fill="#ffdd22" d="M2194.3 916.2h20.83v20.83h-20.83z"/><path fill="#ff2dd2" d="M1870.8 1174.2h20.83v20.83h-20.83z"/><path fill="#ffff00" d="M2163.7 727.9h20.83v20.83h-20.83z"/><path fill="#ff718e" d="M1943.6 1001.9h20.83v20.83h-20.83z"/><path fill="#ff7788" d="M1966.7 1006.6h20.83v20.83h-20.83z"/><path fill="#ffca35" d="M2137.6 914.5h20.83v20.83h-20.83z"/><path fill="#ff7788" d="M1786.1 756.2h20.83v20.83h-20.83z"/><path fill="#ffd32c" d="M2021.9 715.8h20.83v20.83h-20.83z"/><path fill="#ffda25" d="M1980.2 629.7h20.83v20.83h-20.83z"/><path fill="#ff31ce" d="M1870.2 1157.3h20.83v20.83h-20.83z"/><path fill="#ffc03f" d="M2088.8 883.2h20.83v20.83h-20.83z"/><path fill="#ff9768" d="M2030.5 969.3h20.83v20.83h-20.83z"/><path fill="#fff30c" d="M1912.2 432.1h20.83v20.83h-20.83z"/><path fill="#ff7689" d="M1968.5 1015.7h20.83v20.83h-20.83z"/><path fill="#ffb34c" d="M2224.1 1126.5h20.83v20.83h-20.83z"/><path fill="#ffff00" d="M2203.1 778.3h20.83v20.83h-20.83z"/><path fill="#ffef10" d="M2130.1 753.5h20.83v20.83h-20.83z"/><path fill="#ffc03f" d="M2079.2 871.8h20.83v20.83h-20.83z"/><path fill="#ffb748" d="M1916.4 681.0h20.83v20.83h-20.83z"/><path fill="#ff33cc" d="M1863.6 1138.6h20.83v20.83h-20.83z"/><path fill="#ff718e" d="M1852.6 874.2h20.83v20.83h-20.83z"/><path fill="#ffc738" d="M1850.8 522.0h20.83v20.83h-20.83z"/><path fill="#ffcc33" d="M2020.1 740.2h20.83v20.83h-20.83z"/><path fill="#ff5da2" d="M1816.9 903.9h20.83v20.83h-20.83z"/><path fill="#ff54ab" d="M1865.1 1006.2h20.83v20.83h-20.83z"/><path fill="#ff7b84" d="M2070.2 1135.5h20.83v20.83h-20.83z"/><path fill="#ff5ca3" d="M2041.1 1222.5h20.83v20.83h-20.83z"/><path fill="#ffea15" d="M1918.3 477.5h20.83v20.83h-20.83z"/><path fill="#ff52ad" d="M1810.0 937.8h20.83v20.83h-20.83z"/><path fill="#ff48b7" d="M1828.9 1003.4h20.83v20.83h-20.83z"/><path fill="#ffd728" d="M2214.9 966.8h20.83v20.83h-20.83z"/><path fill="#ffac53" d="M1985.9 820.1h20.83v20.83h-20.83z"/><path fill="#ff35ca" d="M1817.9 1067.2h20.83v20.83h-20.83z"/><path fill="#ff857a" d="M1969.4 956.2h20.83v20.83h-20.83z"/><path fill="#ff26d9" d="M1795.0 1094.8h20.83v20.83h-20.83z"/><path fill="#ffee11" d="M2003.4 581.1h20.83v20.83h-20.83z"/><path fill="#fff30c" d="M2309.6 988.1h20.83v20.83h-20.83z"/><path fill="#ffb54a" d="M2004.8 812.7h20.83v20.83h-20.83z"/><path fill="#ffb649" d="M1839.7 575.6h20.83v20.83h-20.83z"/><path fill="#ff4cb3" d="M1918.9 1113.7h20.83v20.83h-20.83z"/><path fill="#ff6c93" d="M1887.4 941.0h20.83v20.83h-20.83z"/><path fill="#fffe01" d="M2399.1 1071.3h20.83v20.83h-20.83z"/><path fill="#ffa15e" d="M1983.3 862.7h20.83v20.83h-20.83z"/><path fill="#ffea15" d="M1961.6 538.4h20.83v20.83h-20.83z"/><path fill="#ff2cd3" d="M1862.5 1163.3h20.83v20.83h-20.83z"/><path fill="#ff6b94" d="M2079.6 1216.8h20.83v20.83h-20.83z"/><path fill="#ff54ab" d="M1992.1 1184.5h20.83v20.83h-20.83z"/><path fill="#ff9c63" d="M2206.2 1193.1h20.83v20.83h-20.83z"/><path fill="#ff3bc4" d="M1865.1 1108.8h20.83v20.83h-20.83z"/><path fill="#ffdd22" d="M2389.5 1190.6h20.83v20.83h-20.83z"/><path fill="#ffd827" d="M2342.0 1142.7h20.83v20.83h-20.83z"/><path fill="#ffa15e" d="M2129.4 1068.7h20.83v20.83h-20.83z"/><path fill="#ffc738" d="M2031.3 775.7h20.83v20.83h-20.83z"/><path fill="#ffc33c" d="M2160.0 972.3h20.83v20.83h-20.83z"/><path fill="#ff5aa5" d="M1966.7 1123.5h20.83v20.83h-20.83z"/><path fill="#ff718e" d="M2034.4 1126.2h20.83v20.83h-20.83z"/><path fill="#ff7a85" d="M1953.5 978.6h20.83v20.83h-20.83z"/><path fill="#fffb04" d="M1872.9 342.9h20.83v20.83h-20.83z"/><path fill="#ff9966" d="M1963.0 867.1h20.83v20.83h-20.83z"/><path fill="#fff50a" d="M1904.0 411.9h20.83v20.83h-20.83z"/><path fill="#ffce31" d="M2351.9 1195.2h20.83v20.83h-20.83z"/><path fill="#ff649b" d="M1850.6 921.0h20.83v20.83h-20.83z"/><path fill="#ff51ae" d="M2017.1 1230.6h20.83v20.83h-20.83z"/><path fill="#ff9f60" d="M2077.6 1004.1h20.83v20.83h-20.83z"/><path fill="#ffe817" d="M1981.5 574.9h20.83v20.83h-20.83z"/><path fill="#ff9d62" d="M1781.1 595.6h20.83v20.83h-20.83z"/><path fill="#ff52ad" d="M1780.8 898.1h20.83v20.83h-20.83z"/><path fill="#ffa956" d="M2169.9 1089.6h20.83v20.83h-20.83z"/><path fill="#ffa25d" d="M1815.0 622.2h20.83v20.83h-20.83z"/><path fill="#ffef10" d="M1936.8 481.9h20.83v20.83h-20.83z"/><path fill="#ff9e61" d="M2050.7 969.2h20.83v20.83h-20.83z"/><path fill="#ffff00" d="M2494.9 1200.5h20.83v20.83h-20.83z"/><path fill="#ff6699" d="M1840.8 899.4h20.83v20.83h-20.83z"/><path fill="#ffb14e" d="M1920.2 708.6h20.83v20.83h-20.83z"/><path fill="#ffbf40" d="M2268.7 1141.9h20.83v20.83h-20.83z"/><path fill="#ff817e" d="M2013.2 1033.9h20.83v20.83h-20.83z"/><path fill="#ff45ba" d="M1809.2 988.7h20.83v20.83h-20.83z"/><path fill="#ffd42b" d="M2049.5 747.3h20.83v20.83h-20.83z"/><path fill="#ff758a" d="M1802.7 785.2h20.83v20.83h-20.83z"/><path fill="#ff49b6" d="M1786.5 939.9h20.83v20.83h-20.83z"/><path fill="#ffbe41" d="M1834.8 535.9h20.83v20.83h-20.83z"/><path fill="#ff8976" d="M2031.7 1027.6h20.83v20.83h-20.83z"/><path fill="#ffd926" d="M2257.9 1022.3h20.83v20.83h-20.83z"/><path fill="#ff7689" d="M1816.3 802.7h20.83v20.83h-20.83z"/><path fill="#ffe31c" d="M2131.2 801.8h20.83v20.83h-20.83z"/><path fill="#ff6d92" d="M1946.3 1021.6h20.83v20.83h-20.83z"/><path fill="#ff7986" d="M1922.8 939.3h20.83v20.83h-20.83z"/><path fill="#fffc03" d="M2471.4 1178.1h20.83v20.83h-20.83z"/><path fill="#ffd926" d="M1841.3 436.3h20.83v20.83h-20.83z"/><path fill="#ff906f" d="M2108.2 1107.6h20.83v20.83h-20.83z"/><path fill="#ff3bc4" d="M1900.6 1158.7h20.83v20.83h-20.83z"/><path fill="#ffe11e" d="M1967.5 584.0h20.83v20.83h-20.83z"/><path fill="#ffde21" d="M1923.0 531.8h20.83v20.83h-20.83z"/><path fill="#ffb946" d="M1915.6 669.8h20.83v20.83h-20.83z"/><path fill="#ffc936" d="M2329.1 1186.2h20.83v20.83h-20.83z"/><path fill="#ff1ce3" d="M1860.8 1226.2h20.83v20.83h-20.83z"/><path fill="#ff748b" d="M2097.8 1202.2h20.83v20.83h-20.83z"/><path fill="#ff55aa" d="M1961.6 1139.4h20.83v20.83h-20.83z"/><path fill="#ff4bb4" d="M1897.3 1088.7h20.83v20.83h-20.83z"/><path fill="#fff609" d="M2069.0 640.9h20.83v20.83h-20.83z"/><path fill="#ffd728" d="M1932.2 574.6h20.83v20.83h-20.83z"/><path fill="#ff2ad5" d="M1818.5 1110.9h20.83v20.83h-20.83z"/><path fill="#ff37c8" d="M1866.6 1127.9h20.83v20.83h-20.83z"/><path fill="#ffa45b" d="M2242.4 1211.4h20.83v20.83h-20.83z"/><path fill="#ffc13e" d="M2280.4 1149.3h20.83v20.83h-20.83z"/><path fill="#ffa857" d="M2090.1 983.2h20.83v20.83h-20.83z"/><path fill="#ff13ec" d="M1825.2 1212.7h20.83v20.83h-20.83z"/><path fill="#ffb44b" d="M2064.9 897.9h20.83v20.83h-20.83z"/><path fill="#fff10e" d="M2227.6 882.8h20.83v20.83h-20.83z"/><path fill="#ffcd32" d="M1887.3 550.4h20.83v20.83h-20.83z"/><path fill="#ffe01f" d="M1833.4 397.0h20.83v20.83h-20.83z"/><path fill="#ffee11" d="M2440.0 1192.9h20.83v20.83h-20.83z"/><path fill="#fff30c" d="M2456.0 1193.0h20.83v20.83h-20.83z"/><path fill="#ff09f6" d="M1806.2 1226.9h20.83v20.83h-20.83z"/><path fill="#ff5ca3" d="M1999.4 1165.0h20.83v20.83h-20.83z"/><path fill="#ffb14e" d="M2107.1 972.1h20.83v20.83h-20.83z"/><path fill="#ffcc33" d="M1949.4 640.0h20.83v20.83h-20.83z"/><path fill="#ff44bb" d="M1791.9 968.9h20.83v20.83h-20.83z"/><path fill="#ffed12" d="M2080.3 691.6h20.83v20.83h-20.83z"/><path fill="#ff906f" d="M2098.5 1090.6h20.83v20.83h-20.83z"/><path fill="#fffe01" d="M1909.1 385.1h20.83v20.83h-20.83z"/><path fill="#ffc13e" d="M2110.5 912.1h20.83v20.83h-20.83z"/><path fill="#ffc738" d="M2200.1 1012.9h20.83v20.83h-20.83z"/><path fill="#ffff00" d="M2011.7 524.7h20.83v20.83h-20.83z"/><path fill="#ffe41b" d="M2329.4 1078.2h20.83v20.83h-20.83z"/><path fill="#ffd827" d="M1947.1 588.9h20.83v20.83h-20.83z"/><path fill="#ffaa55" d="M1976.6 815.3h20.83v20.83h-20.83z"/><path fill="#ffa857" d="M2064.6 946.1h20.83v20.83h-20.83z"/><path fill="#ffea15" d="M2411.9 1168.5h20.83v20.83h-20.83z"/><path fill="#ffff00" d="M2256.3 852.6h20.83v20.83h-20.83z"/><path fill="#ffb649" d="M1826.1 558.3h20.83v20.83h-20.83z"/><path fill="#ff46b9" d="M1938.6 1166.2h20.83v20.83h-20.83z"/><path fill="#ff40bf" d="M1844.7 1057.6h20.83v20.83h-20.83z"/><path fill="#ffcc33" d="M1786.8 411.9h20.83v20.83h-20.83z"/><path fill="#ffb24d" d="M1795.2 532.1h20.83v20.83h-20.83z"/><path fill="#ff9b64" d="M2151.9 1121.5h20.83v20.83h-20.83z"/><path fill="#ff8d72" d="M1847.6 754.8h20.83v20.83h-20.83z"/><path fill="#ffb649" d="M1928.4 700.3h20.83v20.83h-20.83z"/><path fill="#fff906" d="M2095.5 665.1h20.83v20.83h-20.83z"/><path fill="#ff29d6" d="M1829.1 1132.1h20.83v20.83h-20.83z"/><path fill="#ffa25d" d="M2202.5 1166.7h20.83v20.83h-20.83z"/><path fill="#ffb14e" d="M2274.2 1204.4h20.83v20.83h-20.83z"/><path fill="#ffef10" d="M1958.6 514.5h20.83v20.83h-20.83z"/><path fill="#ffad52" d="M1830.6 601.9h20.83v20.83h-20.83z"/><path fill="#ffac53" d="M1896.8 695.8h20.83v20.83h-20.83z"/><path fill="#ff1ee1" d="M1847.8 1200.4h20.83v20.83h-20.83z"/><path fill="#ffce31" d="M2134.4 891.6h20.83v20.83h-20.83z"/><path fill="#ff8976" d="M1976.6 949.4h20.83v20.83h-20.83z"/><path fill="#ffa45b" d="M2027.7 912.8h20.83v20.83h-20.83z"/><path fill="#ffd02f" d="M1909.1 567.9h20.83v20.83h-20.83z"/><path fill="#ff9c63" d="M1802.1 627.5h20.83v20.83h-20.83z"/><path fill="#ff8b74" d="M2092.5 1105.3h20.83v20.83h-20.83z"/><path fill="#ffc03f" d="M2010.4 774.6h20.83v20.83h-20.83z"/><path fill="#ffd42b" d="M1866.6 492.7h20.83v20.83h-20.83z"/><path fill="#ffff00" d="M1898.6 343.8h20.83v20.83h-20.83z"/><path fill="#ff2dd2" d="M1781.4 1049.0h20.83v20.83h-20.83z"/><path fill="#ffab54" d="M1903.6 710.4h20.83v20.83h-20.83z"/><path fill="#ff7b84" d="M1941.4 955.6h20.83v20.83h-20.83z"/><path fill="#ffe11e" d="M2044.0 691.1h20.83v20.83h-20.83z"/><path fill="#ff3fc0" d="M1943.4 1202.5h20.83v20.83h-20.83z"/><path fill="#ff50af" d="M1871.7 1031.1h20.83v20.83h-20.83z"/><path fill="#ffee11" d="M2416.9 1157.0h20.83v20.83h-20.83z"/><path fill="#ffe718" d="M2249.3 952.6h20.83v20.83h-20.83z"/><path fill="#fff609" d="M2422.4 1134.1h20.83v20.83h-20.83z"/><path fill="#ffa956" d="M1928.4 752.6h20.83v20.83h-20.83z"/><path fill="#ff6d92" d="M1847.2 881.7h20.83v20.83h-20.83z"/><path fill="#fff30c" d="M1993.2 547.6h20.83v20.83h-20.83z"/><path fill="#ff8c73" d="M2047.1 1037.0h20.83v20.83h-20.83z"/><path fill="#ff7f80" d="M1853.3 817.0h20.83v20.83h-20.83z"/><path fill="#ffd12e" d="M2031.8 738.7h20.83v20.83h-20.83z"/><path fill="#ffb04f" d="M1822.3 577.7h20.83v20.83h-20.83z"/><path fill="#fff609" d="M2472.7 1205.3h20.83v20.83h-20.83z"/><path fill="#ff58a7" d="M1947.4 1104.7h20.83v20.83h-20.83z"/><path fill="#ffa758" d="M1793.3 573.9h20.83v20.83h-20.83z"/><path fill="#ff837c" d="M1929.5 906.5h20.83v20.83h-20.83z"/><path fill="#ffb14e" d="M1851.6 613.2h20.83v20.83h-20.83z"/><path fill="#ff827d" d="M1823.6 763.4h20.83v20.83h-20.83z"/><path fill="#ffcd32" d="M1990.0 693.9h20.83v20.83h-20.83z"/><path fill="#ffba45" d="M1801.3 508.4h20.83v20.83h-20.83z"/><path fill="#ff6e91" d="M1961.2 1039.0h20.83v20.83h-20.83z"/><path fill="#ff6996" d="M1970.4 1071.7h20.83v20.83h-20.83z"/><path fill="#ff28d7" d="M1835.3 1144.0h20.83v20.83h-20.83z"/><path fill="#fff609" d="M2033.6 591.9h20.83v20.83h-20.83z"/><path fill="#ff7788" d="M1933.1 959.8h20.83v20.83h-20.83z"/><path fill="#ffeb14" d="M2454.5 1222.3h20.83v20.83h-20.83z"/><path fill="#ffc03f" d="M2043.1 821.8h20.83v20.83h-20.83z"/><path fill="#fffc03" d="M2481.0 1193.0h20.83v20.83h-20.83z"/><path fill="#ffd42b" d="M2232.0 1005.1h20.83v20.83h-20.83z"/><path fill="#fff10e" d="M1857.9 363.5h20.83v20.83h-20.83z"/><path fill="#ffaf50" d="M1785.0 527.1h20.83v20.83h-20.83z"/><path fill="#ffe41b" d="M1821.6 366.2h20.83v20.83h-20.83z"/><path fill="#ffd926" d="M1904.8 526.7h20.83v20.83h-20.83z"/><path fill="#fffb04" d="M2034.0 571.6h20.83v20.83h-20.83z"/><path fill="#ffff00" d="M2104.1 648.5h20.83v20.83h-20.83z"/><path fill="#fff30c" d="M2192.7 825.9h20.83v20.83h-20.83z"/><path fill="#ff52ad" d="M1912.4 1080.8h20.83v20.83h-20.83z"/><path fill="#fff708" d="M2010.7 555.6h20.83v20.83h-20.83z"/><path fill="#ffbd42" d="M2056.6 853.8h20.83v20.83h-20.83z"/><path fill="#ffe01f" d="M2296.7 1045.9h20.83v20.83h-20.83z"/><path fill="#ff40bf" d="M1922.1 1167.4h20.83v20.83h-20.83z"/><path fill="#ff23dc" d="M1796.3 1109.7h20.83v20.83h-20.83z"/><path fill="#ff1fe0" d="M1814.2 1151.5h20.83v20.83h-20.83z"/><path fill="#ffff00" d="M1923.6 390.1h20.83v20.83h-20.83z"/><path fill="#fff807" d="M2341.9 1011.8h20.83v20.83h-20.83z"/><path fill="#ffeb14" d="M2009.4 599.9h20.83v20.83h-20.83z"/><path fill="#ffe817" d="M2365.0 1108.6h20.83v20.83h-20.83z"/><path fill="#ffe11e" d="M2077.1 734.6h20.83v20.83h-20.83z"/><path fill="#ffc837" d="M2292.5 1138.5h20.83v20.83h-20.83z"/><path fill="#ff57a8" d="M1863.2 990.6h20.83v20.83h-20.83z"/><path fill="#ff946b" d="M1815.5 681.7h20.83v20.83h-20.83z"/><path fill="#ffb44b" d="M1904.0 673.3h20.83v20.83h-20.83z"/><path fill="#ffe619" d="M2425.2 1203.9h20.83v20.83h-20.83z"/><path fill="#ff05fa" d="M1796.3 1228.1h20.83v20.83h-20.83z"/><path fill="#fffd02" d="M2388.7 1060.3h20.83v20.83h-20.83z"/><path fill="#ff5fa0" d="M2020.4 1179.5h20.83v20.83h-20.83z"/><path fill="#ffa857" d="M2014.9 879.1h20.83v20.83h-20.83z"/><path fill="#ffdd22" d="M1900.3 503.3h20.83v20.83h-20.83z"/><path fill="#ffb44b" d="M1887.4 650.3h20.83v20.83h-20.83z"/><path fill="#ff5fa0" d="M2049.9 1220.4h20.83v20.83h-20.83z"/><path fill="#ffb847" d="M1814.3 531.3h20.83v20.83h-20.83z"/><path fill="#ffff00" d="M2223.2 809.5h20.83v20.83h-20.83z"/><path fill="#fff40b" d="M2295.6 965.5h20.83v20.83h-20.83z"/><path fill="#ff6d92" d="M2087.8 1219.6h20.83v20.83h-20.83z"/><path fill="#ffb04f" d="M2127.3 1002.1h20.83v20.83h-20.83z"/><path fill="#ffb14e" d="M2046.1 886.5h20.83v20.83h-20.83z"/><path fill="#ff6e91" d="M2048.8 1160.9h20.83v20.83h-20.83z"/><path fill="#ffe817" d="M1857.9 400.8h20.83v20.83h-20.83z"/><path fill="#ffbb44" d="M1859.3 582.9h20.83v20.83h-20.83z"/><path fill="#ff9a65" d="M2100.5 1053.4h20.83v20.83h-20.83z"/><path fill="#ffdd22" d="M2151.8 855.6h20.83v20.83h-20.83z"/><path fill="#ffd728" d="M2284.1 1064.0h20.83v20.83h-20.83z"/><path fill="#fffb04" d="M2223.1 834.9h20.83v20.83h-20.83z"/><path fill="#ff9669" d="M2142.6 1130.9h20.83v20.83h-20.83z"/><path fill="#ffcd32" d="M1922.6 600.4h20.83v20.83h-20.83z"/><path fill="#ffcc33" d="M2227.9 1030.5h20.83v20.83h-20.83z"/><path fill="#ff7788" d="M1793.6 764.5h20.83v20.83h-20.83z"/><path fill="#ffbe41" d="M2237.4 1103.0h20.83v20.83h-20.83z"/><path fill="#ffc837" d="M2066.8 823.2h20.83v20.83h-20.83z"/><path fill="#ff926d" d="M1802.1 670.4h20.83v20.83h-20.83z"/><path fill="#ffe11e" d="M2348.6 1116.8h20.83v20.83h-20.83z"/><path fill="#ffc837" d="M1828.8 486.9h20.83v20.83h-20.83z"/><path fill="#ffff00" d="M1902.9 352.4h20.83v20.83h-20.83z"/><path fill="#ffdc23" d="M2229.7 969.0h20.83v20.83h-20.83z"/><path fill="#ff906f" d="M2180.2 1208.4h20.83v20.83h-20.83z"/><path fill="#ff8679" d="M2095.5 1128.3h20.83v20.83h-20.83z"/><path fill="#ff9a65" d="M2119.0 1082.3h20.83v20.83h-20.83z"/><path fill="#ff8f70" d="M1974.4 923.4h20.83v20.83h-20.83z"/><path fill="#ff659a" d="M1801.0 847.6h20.83v20.83h-20.83z"/><path fill="#ff916e" d="M1872.9 772.2h20.83v20.83h-20.83z"/><path fill="#ffdd22" d="M2215.0 946.8h20.83v20.83h-20.83z"/><path fill="#ff4db2" d="M1925.1 1120.8h20.83v20.83h-20.83z"/><path fill="#ff14eb" d="M1809.5 1188.7h20.83v20.83h-20.83z"/><path fill="#fffb04" d="M1890.0 368.7h20.83v20.83h-20.83z"/><path fill="#ffab54" d="M2010.2 858.1h20.83v20.83h-20.83z"/></g>
<g clip-path="url(#cBL)" shape-rendering="auto"><path fill="#ffdb24" d="M521.7 1756.1h20.83v20.83h-20.83z"/><path fill="#ff6996" d="M810.2 2214.0h20.83v20.83h-20.83z"/><path fill="#ff27d8" d="M992.8 2480.5h20.83v20.83h-20.83z"/><path fill="#ffca35" d="M564.3 1821.1h20.83v20.83h-20.83z"/><path fill="#ff5fa0" d="M811.4 2253.7h20.83v20.83h-20.83z"/><path fill="#ff0af5" d="M1054.6 2597.1h20.83v20.83h-20.83z"/><path fill="#ff1ee1" d="M1034.9 2516.4h20.83v20.83h-20.83z"/><path fill="#ff19e6" d="M1010.3 2533.7h20.83v20.83h-20.83z"/><path fill="#ffb946" d="M593.3 1892.4h20.83v20.83h-20.83z"/><path fill="#ffc738" d="M574.3 1836.5h20.83v20.83h-20.83z"/><path fill="#ff5ba4" d="M842.7 2269.3h20.83v20.83h-20.83z"/><path fill="#ff55aa" d="M878.8 2294.1h20.83v20.83h-20.83z"/><path fill="#ff33cc" d="M959.1 2430.8h20.83v20.83h-20.83z"/><path fill="#ff6e91" d="M793.6 2193.3h20.83v20.83h-20.83z"/><path fill="#ffcc33" d="M565.3 1813.3h20.83v20.83h-20.83z"/><path fill="#ff7c83" d="M743.0 2138.9h20.83v20.83h-20.83z"/><path fill="#ff916e" d="M703.0 2052.3h20.83v20.83h-20.83z"/><path fill="#ffa35c" d="M669.8 1980.1h20.83v20.83h-20.83z"/><path fill="#ff39c6" d="M975.6 2408.2h20.83v20.83h-20.83z"/><path fill="#ffe916" d="M475.7 1698.8h20.83v20.83h-20.83z"/><path fill="#ff9f60" d="M645.8 1996.8h20.83v20.83h-20.83z"/><path fill="#ffd02f" d="M539.7 1798.9h20.83v20.83h-20.83z"/><path fill="#ff9669" d="M700.4 2033.4h20.83v20.83h-20.83z"/><path fill="#ffcb34" d="M541.2 1818.1h20.83v20.83h-20.83z"/><path fill="#ff3cc3" d="M939.1 2396.0h20.83v20.83h-20.83z"/><path fill="#ff7c83" d="M757.8 2138.1h20.83v20.83h-20.83z"/><path fill="#ffb04f" d="M628.1 1929.0h20.83v20.83h-20.83z"/><path fill="#ff30cf" d="M982.4 2443.2h20.83v20.83h-20.83z"/><path fill="#ff8778" d="M739.0 2094.1h20.83v20.83h-20.83z"/><path fill="#ff0cf3" d="M1068.6 2589.6h20.83v20.83h-20.83z"/><path fill="#ffbd42" d="M587.3 1875.2h20.83v20.83h-20.83z"/><path fill="#ff1ae5" d="M1030.0 2532.1h20.83v20.83h-20.83z"/><path fill="#ff629d" d="M837.1 2242.1h20.83v20.83h-20.83z"/><path fill="#ff47b8" d="M902.7 2351.1h20.83v20.83h-20.83z"/><path fill="#ffdc23" d="M497.0 1751.5h20.83v20.83h-20.83z"/><path fill="#ff8d72" d="M700.3 2067.3h20.83v20.83h-20.83z"/><path fill="#ffa05f" d="M649.8 1991.4h20.83v20.83h-20.83z"/><path fill="#ff827d" d="M756.0 2113.9h20.83v20.83h-20.83z"/><path fill="#ffdb24" d="M599.3 1753.6h20.83v20.83h-20.83z"/><path fill="#ffae51" d="M604.9 1935.1h20.83v20.83h-20.83z"/><path fill="#ffe718" d="M470.9 1706.9h20.83v20.83h-20.83z"/><path fill="#ff807f" d="M742.8 2121.8h20.83v20.83h-20.83z"/><path fill="#fff807" d="M434.9 1638.7h20.83v20.83h-20.83z"/><path fill="#ff15ea" d="M1043.1 2549.6h20.83v20.83h-20.83z"/><path fill="#ffce31" d="M532.6 1806.0h20.83v20.83h-20.83z"/><path fill="#ff8679" d="M728.8 2096.9h20.83v20.83h-20.83z"/><path fill="#ff1ee1" d="M1020.1 2515.4h20.83v20.83h-20.83z"/><path fill="#ff3ec1" d="M924.8 2388.3h20.83v20.83h-20.83z"/><path fill="#ff0cf3" d="M1059.7 2588.8h20.83v20.83h-20.83z"/><path fill="#ff40bf" d="M902.2 2379.1h20.83v20.83h-20.83z"/><path fill="#ffb44b" d="M611.9 1912.0h20.83v20.83h-20.83z"/><path fill="#ff3cc3" d="M936.5 2393.5h20.83v20.83h-20.83z"/><path fill="#ff758a" d="M763.7 2165.4h20.83v20.83h-20.83z"/><path fill="#fff10e" d="M439.3 1665.8h20.83v20.83h-20.83z"/><path fill="#ffd52a" d="M574.9 1779.5h20.83v20.83h-20.83z"/><path fill="#ff9669" d="M669.1 2033.5h20.83v20.83h-20.83z"/><path fill="#ff49b6" d="M876.2 2341.2h20.83v20.83h-20.83z"/><path fill="#ff32cd" d="M969.6 2433.7h20.83v20.83h-20.83z"/><path fill="#ff7e81" d="M748.4 2127.6h20.83v20.83h-20.83z"/><path fill="#ff20df" d="M1010.4 2508.0h20.83v20.83h-20.83z"/><path fill="#fff30c" d="M432.0 1656.1h20.83v20.83h-20.83z"/><path fill="#ffdf20" d="M491.7 1739.9h20.83v20.83h-20.83z"/><path fill="#ffa35c" d="M643.0 1980.0h20.83v20.83h-20.83z"/><path fill="#ff5da2" d="M859.9 2262.3h20.83v20.83h-20.83z"/><path fill="#ff55aa" d="M867.0 2292.8h20.83v20.83h-20.83zM901.4 2292.6h20.83v20.83h-20.83z"/><path fill="#ffd728" d="M490.7 1771.7h20.83v20.83h-20.83z"/><path fill="#ffad52" d="M619.4 1938.7h20.83v20.83h-20.83z"/><path fill="#ff926d" d="M678.9 2047.7h20.83v20.83h-20.83z"/><path fill="#ffef10" d="M450.5 1674.9h20.83v20.83h-20.83z"/><path fill="#ffc639" d="M537.1 1840.4h20.83v20.83h-20.83z"/><path fill="#ff758a" d="M753.1 2165.8h20.83v20.83h-20.83z"/><path fill="#ff8a75" d="M755.3 2082.6h20.83v20.83h-20.83z"/><path fill="#fffc03" d="M416.0 1622.0h20.83v20.83h-20.83z"/><path fill="#ff31ce" d="M974.5 2440.1h20.83v20.83h-20.83z"/><path fill="#ff39c6" d="M943.6 2405.2h20.83v20.83h-20.83z"/><path fill="#ff2dd2" d="M976.8 2455.7h20.83v20.83h-20.83z"/><path fill="#ffbf40" d="M588.6 1868.4h20.83v20.83h-20.83z"/><path fill="#ff8f70" d="M711.2 2061.1h20.83v20.83h-20.83z"/><path fill="#ffde21" d="M512.1 1743.1h20.83v20.83h-20.83z"/><path fill="#ff8f70" d="M687.5 2060.9h20.83v20.83h-20.83z"/><path fill="#ff53ac" d="M843.2 2301.3h20.83v20.83h-20.83z"/><path fill="#ffd52a" d="M504.2 1779.1h20.83v20.83h-20.83z"/><path fill="#ffb24d" d="M610.6 1920.7h20.83v20.83h-20.83z"/><path fill="#ff51ae" d="M891.6 2311.3h20.83v20.83h-20.83z"/><path fill="#ff6f90" d="M843.2 2188.3h20.83v20.83h-20.83z"/><path fill="#ff08f7" d="M1121.9 2605.6h20.83v20.83h-20.83z"/><path fill="#ff9c63" d="M652.4 2007.5h20.83v20.83h-20.83z"/><path fill="#ffa55a" d="M654.1 1972.4h20.83v20.83h-20.83z"/><path fill="#ffcd32" d="M557.2 1811.5h20.83v20.83h-20.83z"/><path fill="#ff728d" d="M761.8 2177.7h20.83v20.83h-20.83z"/><path fill="#ff2dd2" d="M984.7 2453.1h20.83v20.83h-20.83z"/><path fill="#ff2fd0" d="M1019.2 2446.3h20.83v20.83h-20.83z"/><path fill="#ff4fb0" d="M867.8 2319.2h20.83v20.83h-20.83z"/><path fill="#ff36c9" d="M976.3 2420.2h20.83v20.83h-20.83z"/><path fill="#ff27d8" d="M1008.0 2480.4h20.83v20.83h-20.83z"/><path fill="#ffb24d" d="M600.9 1920.0h20.83v20.83h-20.83z"/><path fill="#ff659a" d="M830.4 2230.3h20.83v20.83h-20.83z"/><path fill="#ff59a6" d="M848.4 2277.3h20.83v20.83h-20.83z"/><path fill="#ff1fe0" d="M1037.0 2510.4h20.83v20.83h-20.83z"/><path fill="#ff1de2" d="M1042.1 2519.5h20.83v20.83h-20.83z"/><path fill="#ffe916" d="M486.5 1700.0h20.83v20.83h-20.83z"/><path fill="#ffa758" d="M635.2 1962.3h20.83v20.83h-20.83z"/><path fill="#ff35ca" d="M943.2 2424.4h20.83v20.83h-20.83z"/><path fill="#ffff00" d="M405.3 1609.0h20.83v20.83h-20.83z"/><path fill="#ff4bb4" d="M884.4 2334.8h20.83v20.83h-20.83z"/><path fill="#ff4db2" d="M905.0 2327.5h20.83v20.83h-20.83z"/><path fill="#ffc936" d="M569.5 1828.9h20.83v20.83h-20.83z"/><path fill="#fff20d" d="M454.0 1663.3h20.83v20.83h-20.83z"/><path fill="#ff847b" d="M739.1 2104.7h20.83v20.83h-20.83z"/><path fill="#ffed12" d="M437.0 1681.9h20.83v20.83h-20.83z"/><path fill="#ff6699" d="M835.6 2223.8h20.83v20.83h-20.83z"/><path fill="#ff718e" d="M776.0 2181.0h20.83v20.83h-20.83z"/><path fill="#ff936c" d="M695.6 2043.2h20.83v20.83h-20.83z"/><path fill="#ffc936" d="M557.0 1827.8h20.83v20.83h-20.83z"/><path fill="#ffe11e" d="M475.3 1731.3h20.83v20.83h-20.83z"/><path fill="#ff56a9" d="M860.2 2291.2h20.83v20.83h-20.83z"/><path fill="#ffd02f" d="M513.9 1798.1h20.83v20.83h-20.83z"/><path fill="#ff6f90" d="M809.3 2189.0h20.83v20.83h-20.83z"/><path fill="#ffb54a" d="M597.4 1908.7h20.83v20.83h-20.83z"/><path fill="#fff609" d="M447.1 1645.5h20.83v20.83h-20.83z"/><path fill="#ff47b8" d="M923.0 2349.2h20.83v20.83h-20.83z"/><path fill="#ff16e9" d="M1064.3 2549.4h20.83v20.83h-20.83z"/><path fill="#ffa55a" d="M684.6 1972.9h20.83v20.83h-20.83zM630.7 1973.4h20.83v20.83h-20.83z"/><path fill="#ff0df2" d="M1060.7 2583.5h20.83v20.83h-20.83z"/><path fill="#ff55aa" d="M890.7 2294.2h20.83v20.83h-20.83z"/><path fill="#fff30c" d="M496.4 1656.8h20.83v20.83h-20.83z"/><path fill="#ff43bc" d="M927.4 2365.8h20.83v20.83h-20.83z"/><path fill="#ffa55a" d="M670.9 1971.7h20.83v20.83h-20.83z"/><path fill="#ffe31c" d="M492.0 1723.6h20.83v20.83h-20.83z"/><path fill="#ffc03f" d="M625.2 1863.3h20.83v20.83h-20.83z"/><path fill="#ff1ae5" d="M1078.6 2531.0h20.83v20.83h-20.83z"/><path fill="#fffa05" d="M419.5 1628.3h20.83v20.83h-20.83z"/><path fill="#ff2fd0" d="M975.5 2446.8h20.83v20.83h-20.83z"/><path fill="#ff8976" d="M728.3 2086.0h20.83v20.83h-20.83z"/><path fill="#ff3fc0" d="M986.3 2381.8h20.83v20.83h-20.83z"/><path fill="#ffe51a" d="M461.9 1715.7h20.83v20.83h-20.83z"/><path fill="#ff01fe" d="M1102.8 2633.5h20.83v20.83h-20.83z"/><path fill="#ffc13e" d="M559.2 1857.4h20.83v20.83h-20.83z"/><path fill="#ff6e91" d="M780.4 2192.2h20.83v20.83h-20.83z"/><path fill="#ffe619" d="M452.5 1710.4h20.83v20.83h-20.83z"/><path fill="#ffba45" d="M588.6 1885.4h20.83v20.83h-20.83z"/><path fill="#ff35ca" d="M955.3 2422.6h20.83v20.83h-20.83z"/><path fill="#ff8877" d="M733.2 2088.4h20.83v20.83h-20.83z"/><path fill="#ffd728" d="M540.7 1770.2h20.83v20.83h-20.83z"/><path fill="#fff00f" d="M459.2 1671.3h20.83v20.83h-20.83z"/><path fill="#ffd22d" d="M552.9 1788.9h20.83v20.83h-20.83z"/><path fill="#ff0ef1" d="M1076.3 2579.6h20.83v20.83h-20.83z"/><path fill="#ff06f9" d="M1080.5 2610.3h20.83v20.83h-20.83z"/><path fill="#ffeb14" d="M469.9 1688.9h20.83v20.83h-20.83z"/><path fill="#ffd827" d="M503.9 1767.0h20.83v20.83h-20.83z"/><path fill="#ffab54" d="M614.9 1947.0h20.83v20.83h-20.83z"/><path fill="#ffe51a" d="M472.0 1713.4h20.83v20.83h-20.83z"/><path fill="#ff7f80" d="M725.9 2126.5h20.83v20.83h-20.83z"/><path fill="#ffab54" d="M648.2 1948.9h20.83v20.83h-20.83z"/><path fill="#ff827d" d="M748.1 2112.6h20.83v20.83h-20.83z"/><path fill="#ffb14e" d="M597.3 1923.6h20.83v20.83h-20.83z"/><path fill="#ff34cb" d="M939.1 2428.3h20.83v20.83h-20.83z"/><path fill="#ff55aa" d="M844.7 2294.8h20.83v20.83h-20.83z"/><path fill="#ffd827" d="M516.8 1767.0h20.83v20.83h-20.83z"/><path fill="#ffca35" d="M553.3 1821.3h20.83v20.83h-20.83z"/><path fill="#ff837c" d="M736.3 2110.5h20.83v20.83h-20.83z"/><path fill="#ffa45b" d="M643.2 1974.2h20.83v20.83h-20.83z"/><path fill="#ffef10" d="M468.5 1674.4h20.83v20.83h-20.83z"/><path fill="#ff6798" d="M825.3 2222.4h20.83v20.83h-20.83z"/><path fill="#ff54ab" d="M865.4 2298.9h20.83v20.83h-20.83z"/><path fill="#ff2ad5" d="M990.4 2465.7h20.83v20.83h-20.83z"/><path fill="#ff5ca3" d="M832.0 2267.8h20.83v20.83h-20.83z"/><path fill="#ff8877" d="M809.0 2089.3h20.83v20.83h-20.83z"/><path fill="#ff7b84" d="M736.4 2140.5h20.83v20.83h-20.83z"/><path fill="#ff14eb" d="M1050.4 2557.0h20.83v20.83h-20.83z"/><path fill="#ff8877" d="M700.2 2087.2h20.83v20.83h-20.83z"/><path fill="#ff2ad5" d="M1002.7 2467.7h20.83v20.83h-20.83z"/><path fill="#ff8b74" d="M706.4 2077.9h20.83v20.83h-20.83z"/><path fill="#fff609" d="M418.1 1645.1h20.83v20.83h-20.83z"/><path fill="#ff53ac" d="M898.7 2300.9h20.83v20.83h-20.83z"/><path fill="#fffe01" d="M416.1 1613.7h20.83v20.83h-20.83z"/><path fill="#ff18e7" d="M1053.8 2540.1h20.83v20.83h-20.83z"/><path fill="#ff40bf" d="M931.4 2376.9h20.83v20.83h-20.83z"/><path fill="#ff0ff0" d="M1067.9 2574.0h20.83v20.83h-20.83z"/><path fill="#ffa25d" d="M639.2 1985.1h20.83v20.83h-20.83z"/><path fill="#ff51ae" d="M882.7 2309.0h20.83v20.83h-20.83z"/><path fill="#ffc936" d="M534.1 1827.4h20.83v20.83h-20.83z"/><path fill="#ff4bb4" d="M901.6 2335.4h20.83v20.83h-20.83z"/><path fill="#ff37c8" d="M960.0 2414.7h20.83v20.83h-20.83z"/><path fill="#ff3ec1" d="M915.5 2385.9h20.83v20.83h-20.83z"/><path fill="#ff38c7" d="M935.1 2412.1h20.83v20.83h-20.83z"/><path fill="#ff59a6" d="M861.0 2277.3h20.83v20.83h-20.83z"/><path fill="#ffd22d" d="M504.1 1792.7h20.83v20.83h-20.83z"/><path fill="#ff8976" d="M710.9 2086.5h20.83v20.83h-20.83z"/><path fill="#ff37c8" d="M930.1 2416.3h20.83v20.83h-20.83z"/><path fill="#ff13ec" d="M1070.2 2558.3h20.83v20.83h-20.83z"/><path fill="#ff3ac5" d="M963.6 2403.0h20.83v20.83h-20.83z"/><path fill="#ffc639" d="M580.3 1837.3h20.83v20.83h-20.83z"/><path fill="#ff9867" d="M696.9 2024.6h20.83v20.83h-20.83z"/><path fill="#ff6a95" d="M792.1 2209.4h20.83v20.83h-20.83z"/><path fill="#ff9f60" d="M675.2 1996.6h20.83v20.83h-20.83z"/><path fill="#ff857a" d="M706.0 2099.7h20.83v20.83h-20.83z"/><path fill="#ffbd42" d="M635.3 1874.9h20.83v20.83h-20.83z"/><path fill="#ff25da" d="M990.1 2488.9h20.83v20.83h-20.83z"/><path fill="#ff07f8" d="M1068.9 2608.1h20.83v20.83h-20.83z"/><path fill="#ff629d" d="M844.2 2242.1h20.83v20.83h-20.83z"/><path fill="#ff6c93" d="M856.9 2200.5h20.83v20.83h-20.83z"/><path fill="#ff9669" d="M677.2 2030.7h20.83v20.83h-20.83z"/><path fill="#ff956a" d="M720.1 2035.8h20.83v20.83h-20.83z"/><path fill="#ff748b" d="M782.1 2169.3h20.83v20.83h-20.83z"/><path fill="#ff4fb0" d="M890.9 2316.9h20.83v20.83h-20.83z"/><path fill="#ff2dd2" d="M956.0 2454.9h20.83v20.83h-20.83z"/><path fill="#ffbf40" d="M566.2 1867.2h20.83v20.83h-20.83z"/><path fill="#ffe21d" d="M502.8 1725.1h20.83v20.83h-20.83z"/><path fill="#ffe916" d="M456.9 1696.8h20.83v20.83h-20.83z"/><path fill="#ff4db2" d="M884.2 2327.5h20.83v20.83h-20.83z"/><path fill="#ff22dd" d="M995.6 2498.7h20.83v20.83h-20.83z"/><path fill="#ffbb44" d="M580.0 1883.5h20.83v20.83h-20.83z"/><path fill="#ff53ac" d="M908.5 2301.9h20.83v20.83h-20.83z"/><path fill="#ff26d9" d="M997.8 2481.7h20.83v20.83h-20.83z"/><path fill="#ff6996" d="M841.5 2212.1h20.83v20.83h-20.83z"/><path fill="#ffa956" d="M632.5 1954.8h20.83v20.83h-20.83z"/><path fill="#fff708" d="M484.2 1643.4h20.83v20.83h-20.83z"/><path fill="#ff629d" d="M813.1 2241.2h20.83v20.83h-20.83z"/><path fill="#ff33cc" d="M953.7 2431.8h20.83v20.83h-20.83z"/><path fill="#ff6f90" d="M768.6 2187.7h20.83v20.83h-20.83z"/><path fill="#ff9867" d="M700.8 2022.5h20.83v20.83h-20.83z"/><path fill="#ff16e9" d="M1049.3 2547.7h20.83v20.83h-20.83z"/><path fill="#ffd42b" d="M498.0 1783.6h20.83v20.83h-20.83z"/><path fill="#ffdd22" d="M474.8 1748.2h20.83v20.83h-20.83z"/><path fill="#ff0ff0" d="M1076.1 2575.8h20.83v20.83h-20.83z"/><path fill="#ff05fa" d="M1091.7 2616.9h20.83v20.83h-20.83z"/><path fill="#ffab54" d="M687.6 1947.0h20.83v20.83h-20.83z"/><path fill="#ff49b6" d="M910.3 2342.1h20.83v20.83h-20.83z"/><path fill="#ff59a6" d="M839.5 2277.1h20.83v20.83h-20.83z"/><path fill="#ffa05f" d="M662.4 1991.2h20.83v20.83h-20.83z"/><path fill="#fff40b" d="M457.0 1655.8h20.83v20.83h-20.83z"/><path fill="#ff48b7" d="M887.7 2344.4h20.83v20.83h-20.83z"/><path fill="#ff4cb3" d="M866.0 2328.9h20.83v20.83h-20.83z"/><path fill="#ff6a95" d="M828.6 2208.7h20.83v20.83h-20.83z"/><path fill="#ff49b6" d="M900.5 2344.0h20.83v20.83h-20.83z"/><path fill="#ffb04f" d="M621.8 1929.1h20.83v20.83h-20.83z"/><path fill="#ff6699" d="M839.8 2226.5h20.83v20.83h-20.83z"/><path fill="#ff5ca3" d="M852.2 2266.9h20.83v20.83h-20.83z"/><path fill="#ff24db" d="M980.2 2491.3h20.83v20.83h-20.83z"/><path fill="#ff3ac5" d="M921.2 2404.3h20.83v20.83h-20.83z"/><path fill="#ffcd32" d="M536.0 1809.6h20.83v20.83h-20.83z"/><path fill="#ffad52" d="M628.2 1938.9h20.83v20.83h-20.83z"/><path fill="#ff1ce3" d="M1027.1 2524.5h20.83v20.83h-20.83z"/><path fill="#ff4db2" d="M871.8 2325.6h20.83v20.83h-20.83z"/><path fill="#ffc738" d="M550.9 1833.7h20.83v20.83h-20.83z"/><path fill="#ffdd22" d="M589.6 1746.9h20.83v20.83h-20.83z"/><path fill="#ffab54" d="M634.2 1947.1h20.83v20.83h-20.83z"/><path fill="#ffa758" d="M657.9 1961.9h20.83v20.83h-20.83z"/><path fill="#ff53ac" d="M886.5 2300.0h20.83v20.83h-20.83z"/><path fill="#ffa857" d="M662.1 1958.6h20.83v20.83h-20.83z"/><path fill="#ff51ae" d="M899.3 2311.5h20.83v20.83h-20.83z"/><path fill="#ff8d72" d="M712.9 2070.2h20.83v20.83h-20.83z"/><path fill="#ff23dc" d="M1008.4 2493.3h20.83v20.83h-20.83z"/><path fill="#ff0cf3" d="M1096.0 2587.4h20.83v20.83h-20.83z"/><path fill="#ff738c" d="M786.3 2173.4h20.83v20.83h-20.83z"/><path fill="#ff7e81" d="M736.3 2129.7h20.83v20.83h-20.83z"/><path fill="#ffcc33" d="M518.9 1815.7h20.83v20.83h-20.83z"/><path fill="#ffd926" d="M482.6 1760.8h20.83v20.83h-20.83z"/><path fill="#ff40bf" d="M924.8 2377.4h20.83v20.83h-20.83z"/><path fill="#ff827d" d="M726.5 2114.2h20.83v20.83h-20.83z"/><path fill="#ffbf40" d="M577.7 1868.1h20.83v20.83h-20.83z"/><path fill="#ff59a6" d="M874.5 2276.7h20.83v20.83h-20.83z"/><path fill="#ff02fd" d="M1085.9 2626.6h20.83v20.83h-20.83z"/><path fill="#fff906" d="M413.9 1635.4h20.83v20.83h-20.83z"/><path fill="#ff807f" d="M729.8 2120.0h20.83v20.83h-20.83z"/><path fill="#ff57a8" d="M870.4 2287.0h20.83v20.83h-20.83z"/><path fill="#ffdc23" d="M508.9 1749.7h20.83v20.83h-20.83z"/><path fill="#ffed12" d="M456.4 1683.8h20.83v20.83h-20.83z"/><path fill="#ff13ec" d="M1028.2 2558.5h20.83v20.83h-20.83z"/><path fill="#ffe21d" d="M506.5 1725.0h20.83v20.83h-20.83z"/><path fill="#ff06f9" d="M1103.9 2610.6h20.83v20.83h-20.83z"/><path fill="#ffd827" d="M529.5 1766.0h20.83v20.83h-20.83z"/><path fill="#ffce31" d="M512.9 1806.5h20.83v20.83h-20.83z"/><path fill="#ff37c8" d="M965.1 2414.4h20.83v20.83h-20.83z"/><path fill="#ff847b" d="M730.7 2104.2h20.83v20.83h-20.83z"/><path fill="#ff6f90" d="M808.7 2189.7h20.83v20.83h-20.83z"/><path fill="#ff8f70" d="M680.9 2059.7h20.83v20.83h-20.83z"/><path fill="#ff6699" d="M793.0 2225.5h20.83v20.83h-20.83z"/><path fill="#ff9d62" d="M670.4 2005.6h20.83v20.83h-20.83z"/><path fill="#ff11ee" d="M1044.7 2566.7h20.83v20.83h-20.83z"/><path fill="#ffc53a" d="M547.4 1841.5h20.83v20.83h-20.83z"/><path fill="#ff48b7" d="M908.8 2346.2h20.83v20.83h-20.83z"/><path fill="#ffc738" d="M561.5 1833.6h20.83v20.83h-20.83z"/><path fill="#ff1fe0" d="M1022.3 2510.5h20.83v20.83h-20.83z"/><path fill="#ff1ae5" d="M1018.2 2530.3h20.83v20.83h-20.83z"/><path fill="#ffc13e" d="M584.2 1858.8h20.83v20.83h-20.83z"/><path fill="#ff22dd" d="M1010.4 2497.9h20.83v20.83h-20.83z"/><path fill="#ffd22d" d="M537.2 1790.5h20.83v20.83h-20.83z"/><path fill="#ff6996" d="M796.7 2214.7h20.83v20.83h-20.83z"/><path fill="#ff847b" d="M752.3 2103.7h20.83v20.83h-20.83z"/><path fill="#ff22dd" d="M986.8 2501.0h20.83v20.83h-20.83z"/><path fill="#ff50af" d="M855.9 2316.0h20.83v20.83h-20.83z"/><path fill="#ff6699" d="M810.4 2223.8h20.83v20.83h-20.83z"/><path fill="#ff18e7" d="M1028.8 2540.3h20.83v20.83h-20.83z"/><path fill="#ffe31c" d="M460.1 1723.4h20.83v20.83h-20.83z"/><path fill="#ff45ba" d="M896.4 2358.1h20.83v20.83h-20.83z"/><path fill="#ffc936" d="M547.3 1827.6h20.83v20.83h-20.83z"/><path fill="#ffb44b" d="M590.2 1913.1h20.83v20.83h-20.83z"/><path fill="#ff53ac" d="M873.4 2301.1h20.83v20.83h-20.83z"/><path fill="#ffd22d" d="M545.5 1791.9h20.83v20.83h-20.83z"/><path fill="#ff5da2" d="M829.6 2259.9h20.83v20.83h-20.83z"/><path fill="#ffef10" d="M440.2 1673.5h20.83v20.83h-20.83z"/><path fill="#ff5fa0" d="M842.7 2254.6h20.83v20.83h-20.83z"/><path fill="#fff807" d="M430.6 1638.2h20.83v20.83h-20.83z"/><path fill="#ff29d6" d="M974.6 2471.3h20.83v20.83h-20.83z"/><path fill="#ff916e" d="M710.1 2052.0h20.83v20.83h-20.83z"/><path fill="#fff609" d="M440.0 1647.4h20.83v20.83h-20.83z"/><path fill="#ff8679" d="M754.1 2097.7h20.83v20.83h-20.83z"/><path fill="#ffb748" d="M609.3 1901.1h20.83v20.83h-20.83z"/><path fill="#ff6c93" d="M806.5 2201.7h20.83v20.83h-20.83z"/><path fill="#ff1fe0" d="M1042.6 2511.8h20.83v20.83h-20.83z"/><path fill="#ffe916" d="M468.1 1698.7h20.83v20.83h-20.83z"/><path fill="#ffc936" d="M572.9 1828.0h20.83v20.83h-20.83z"/><path fill="#ff16e9" d="M1018.6 2546.0h20.83v20.83h-20.83z"/><path fill="#ffa45b" d="M663.4 1974.1h20.83v20.83h-20.83z"/><path fill="#ffb847" d="M575.2 1893.9h20.83v20.83h-20.83z"/><path fill="#ff1fe0" d="M994.2 2512.1h20.83v20.83h-20.83z"/><path fill="#ff43bc" d="M892.4 2364.7h20.83v20.83h-20.83z"/><path fill="#ffc33c" d="M552.2 1851.7h20.83v20.83h-20.83z"/><path fill="#ff758a" d="M777.0 2164.2h20.83v20.83h-20.83z"/><path fill="#ffab54" d="M622.0 1948.7h20.83v20.83h-20.83z"/><path fill="#ff05fa" d="M1079.2 2615.7h20.83v20.83h-20.83z"/><path fill="#ff9867" d="M674.3 2024.0h20.83v20.83h-20.83z"/><path fill="#ff27d8" d="M973.1 2479.5h20.83v20.83h-20.83z"/><path fill="#ff5da2" d="M841.1 2260.3h20.83v20.83h-20.83z"/><path fill="#ff659a" d="M806.4 2231.3h20.83v20.83h-20.83z"/><path fill="#ff17e8" d="M1065.6 2545.4h20.83v20.83h-20.83z"/><path fill="#ffd629" d="M513.3 1772.8h20.83v20.83h-20.83z"/><path fill="#ff59a6" d="M825.5 2277.7h20.83v20.83h-20.83z"/><path fill="#ffd12e" d="M551.0 1796.4h20.83v20.83h-20.83z"/><path fill="#ffc53a" d="M560.9 1841.5h20.83v20.83h-20.83z"/><path fill="#ff659a" d="M819.8 2231.5h20.83v20.83h-20.83z"/><path fill="#ffdf20" d="M469.8 1738.2h20.83v20.83h-20.83z"/><path fill="#ffbe41" d="M594.6 1869.5h20.83v20.83h-20.83z"/><path fill="#ff916e" d="M692.4 2053.2h20.83v20.83h-20.83z"/><path fill="#ff8e71" d="M696.7 2063.5h20.83v20.83h-20.83z"/><path fill="#ff24db" d="M1004.1 2490.2h20.83v20.83h-20.83z"/><path fill="#ffc33c" d="M564.0 1849.7h20.83v20.83h-20.83z"/><path fill="#ff07f8" d="M1088.8 2609.0h20.83v20.83h-20.83z"/><path fill="#ff936c" d="M684.5 2043.1h20.83v20.83h-20.83z"/><path fill="#ff10ef" d="M1037.6 2572.9h20.83v20.83h-20.83z"/><path fill="#ffdf20" d="M522.5 1737.1h20.83v20.83h-20.83z"/><path fill="#fff30c" d="M446.0 1655.9h20.83v20.83h-20.83z"/><path fill="#ff06f9" d="M1064.1 2610.8h20.83v20.83h-20.83z"/><path fill="#ff7887" d="M766.0 2153.8h20.83v20.83h-20.83z"/><path fill="#ffe01f" d="M512.5 1732.8h20.83v20.83h-20.83z"/><path fill="#ff45ba" d="M909.3 2358.6h20.83v20.83h-20.83z"/><path fill="#ffc33c" d="M584.8 1850.2h20.83v20.83h-20.83z"/><path fill="#ff57a8" d="M887.1 2286.1h20.83v20.83h-20.83z"/><path fill="#ff0df2" d="M1044.5 2583.1h20.83v20.83h-20.83z"/><path fill="#ffa25d" d="M654.2 1982.1h20.83v20.83h-20.83z"/><path fill="#ff8976" d="M721.8 2085.8h20.83v20.83h-20.83z"/><path fill="#ff847b" d="M721.0 2106.1h20.83v20.83h-20.83z"/><path fill="#ffbf40" d="M556.7 1868.6h20.83v20.83h-20.83z"/><path fill="#ff2bd4" d="M981.0 2464.1h20.83v20.83h-20.83z"/><path fill="#ffcc33" d="M545.4 1813.3h20.83v20.83h-20.83z"/><path fill="#ff10ef" d="M1056.0 2571.9h20.83v20.83h-20.83z"/><path fill="#ffc837" d="M529.6 1829.3h20.83v20.83h-20.83z"/><path fill="#ffc53a" d="M574.8 1843.5h20.83v20.83h-20.83z"/><path fill="#ffaf50" d="M635.1 1931.3h20.83v20.83h-20.83z"/><path fill="#ff09f6" d="M1076.6 2598.1h20.83v20.83h-20.83z"/><path fill="#ffcd32" d="M524.7 1811.1h20.83v20.83h-20.83z"/><path fill="#ff4fb0" d="M910.6 2318.5h20.83v20.83h-20.83z"/><path fill="#fff30c" d="M423.7 1657.6h20.83v20.83h-20.83z"/><path fill="#ffd728" d="M503.9 1772.2h20.83v20.83h-20.83z"/><path fill="#ffb14e" d="M621.6 1921.6h20.83v20.83h-20.83z"/><path fill="#ffda25" d="M500.8 1758.9h20.83v20.83h-20.83z"/><path fill="#ffe21d" d="M472.0 1726.0h20.83v20.83h-20.83z"/><path fill="#ff7a85" d="M761.1 2143.5h20.83v20.83h-20.83z"/><path fill="#ffdf20" d="M500.8 1740.3h20.83v20.83h-20.83z"/><path fill="#ffbd42" d="M580.1 1875.1h20.83v20.83h-20.83z"/><path fill="#ff9d62" d="M657.9 2004.9h20.83v20.83h-20.83z"/><path fill="#ff00ff" d="M1080.5 2635.6h20.83v20.83h-20.83z"/><path fill="#ffd52a" d="M527.4 1780.0h20.83v20.83h-20.83z"/><path fill="#ffad52" d="M631.7 1939.8h20.83v20.83h-20.83z"/><path fill="#ff34cb" d="M977.0 2425.2h20.83v20.83h-20.83z"/><path fill="#ffcf30" d="M552.3 1803.8h20.83v20.83h-20.83z"/><path fill="#ff29d6" d="M995.2 2472.8h20.83v20.83h-20.83z"/><path fill="#ffa05f" d="M671.3 1990.2h20.83v20.83h-20.83z"/><path fill="#ff6c93" d="M787.7 2199.9h20.83v20.83h-20.83z"/><path fill="#ff2fd0" d="M959.9 2447.0h20.83v20.83h-20.83z"/><path fill="#ffb649" d="M650.5 1902.3h20.83v20.83h-20.83z"/><path fill="#ffeb14" d="M450.9 1689.0h20.83v20.83h-20.83z"/><path fill="#ff8b74" d="M719.8 2076.3h20.83v20.83h-20.83z"/><path fill="#ffcb34" d="M531.9 1818.0h20.83v20.83h-20.83z"/><path fill="#ffc23d" d="M547.2 1853.9h20.83v20.83h-20.83z"/><path fill="#ff6c93" d="M794.6 2200.6h20.83v20.83h-20.83z"/><path fill="#ff03fc" d="M1071.6 2623.1h20.83v20.83h-20.83z"/><path fill="#ff18e7" d="M1036.9 2540.7h20.83v20.83h-20.83z"/><path fill="#ffb649" d="M602.5 1902.3h20.83v20.83h-20.83z"/><path fill="#ff7788" d="M765.3 2155.6h20.83v20.83h-20.83z"/><path fill="#ff5ba4" d="M861.8 2268.0h20.83v20.83h-20.83z"/><path fill="#ff6996" d="M819.8 2214.1h20.83v20.83h-20.83z"/><path fill="#ffb14e" d="M629.2 1923.2h20.83v20.83h-20.83z"/><path fill="#ffda25" d="M488.7 1756.9h20.83v20.83h-20.83z"/><path fill="#ff738c" d="M765.5 2172.0h20.83v20.83h-20.83z"/><path fill="#ff14eb" d="M1064.3 2556.9h20.83v20.83h-20.83z"/><path fill="#ffb946" d="M581.7 1891.2h20.83v20.83h-20.83z"/><path fill="#fffc03" d="M421.7 1619.9h20.83v20.83h-20.83z"/><path fill="#ff718e" d="M796.7 2179.5h20.83v20.83h-20.83z"/><path fill="#ff21de" d="M1027.8 2501.3h20.83v20.83h-20.83z"/><path fill="#ff9669" d="M711.9 2031.6h20.83v20.83h-20.83z"/><path fill="#ff926d" d="M716.5 2049.9h20.83v20.83h-20.83z"/><path fill="#ffed12" d="M444.2 1682.7h20.83v20.83h-20.83z"/><path fill="#ffd827" d="M494.2 1765.2h20.83v20.83h-20.83z"/><path fill="#ff9f60" d="M667.1 1997.3h20.83v20.83h-20.83z"/><path fill="#ff738c" d="M774.8 2172.4h20.83v20.83h-20.83z"/><path fill="#ffb649" d="M582.9 1903.8h20.83v20.83h-20.83z"/><path fill="#ff936c" d="M711.5 2044.0h20.83v20.83h-20.83z"/><path fill="#ffed12" d="M466.8 1682.7h20.83v20.83h-20.83z"/><path fill="#ff827d" d="M715.7 2112.8h20.83v20.83h-20.83z"/><path fill="#ff27d8" d="M985.0 2479.6h20.83v20.83h-20.83z"/><path fill="#ff6996" d="M784.1 2212.6h20.83v20.83h-20.83z"/><path fill="#ffdd22" d="M529.3 1746.6h20.83v20.83h-20.83z"/><path fill="#ff10ef" d="M1050.6 2572.1h20.83v20.83h-20.83z"/><path fill="#ff47b8" d="M911.8 2350.5h20.83v20.83h-20.83z"/><path fill="#ff1be4" d="M1033.0 2525.7h20.83v20.83h-20.83z"/><path fill="#ff3dc2" d="M910.7 2389.8h20.83v20.83h-20.83z"/><path fill="#ffa857" d="M648.3 1961.8h20.83v20.83h-20.83z"/><path fill="#ff04fb" d="M1106.8 2620.3h20.83v20.83h-20.83z"/><path fill="#ff43bc" d="M918.8 2368.3h20.83v20.83h-20.83z"/><path fill="#ff6c93" d="M821.2 2200.3h20.83v20.83h-20.83z"/><path fill="#ff6a95" d="M805.3 2208.9h20.83v20.83h-20.83z"/><path fill="#ff8877" d="M808.9 2089.3h20.83v20.83h-20.83z"/><path fill="#ff6a95" d="M813.8 2207.9h20.83v20.83h-20.83z"/><path fill="#ff718e" d="M785.0 2182.8h20.83v20.83h-20.83z"/><path fill="#ff51ae" d="M869.4 2310.6h20.83v20.83h-20.83z"/><path fill="#ffb04f" d="M607.9 1928.5h20.83v20.83h-20.83z"/><path fill="#ff4db2" d="M892.7 2325.9h20.83v20.83h-20.83z"/><path fill="#ff8778" d="M717.8 2094.5h20.83v20.83h-20.83z"/><path fill="#ff51ae" d="M858.8 2310.7h20.83v20.83h-20.83z"/><path fill="#ffdd22" d="M487.7 1747.9h20.83v20.83h-20.83z"/><path fill="#ff53ac" d="M852.7 2302.5h20.83v20.83h-20.83z"/><path fill="#ff57a8" d="M840.1 2284.0h20.83v20.83h-20.83z"/><path fill="#ffdd22" d="M519.0 1748.3h20.83v20.83h-20.83z"/><path fill="#ff4cb3" d="M914.0 2329.6h20.83v20.83h-20.83z"/><path fill="#ffb946" d="M606.4 1890.6h20.83v20.83h-20.83z"/><path fill="#ff629d" d="M821.4 2240.5h20.83v20.83h-20.83z"/><path fill="#ff30cf" d="M947.8 2441.0h20.83v20.83h-20.83z"/><path fill="#ff807f" d="M754.0 2122.1h20.83v20.83h-20.83z"/><path fill="#ff4fb0" d="M901.8 2318.1h20.83v20.83h-20.83z"/><path fill="#ff47b8" d="M891.6 2352.2h20.83v20.83h-20.83z"/><path fill="#ff37c8" d="M947.4 2414.4h20.83v20.83h-20.83z"/><path fill="#ff7a85" d="M747.2 2144.1h20.83v20.83h-20.83z"/><path fill="#ff12ed" d="M1052.2 2565.1h20.83v20.83h-20.83z"/><path fill="#ff13ec" d="M1040.4 2558.1h20.83v20.83h-20.83z"/><path fill="#ffc13e" d="M572.3 1858.4h20.83v20.83h-20.83z"/><path fill="#ffd32c" d="M513.0 1788.6h20.83v20.83h-20.83z"/><path fill="#ff29d6" d="M966.5 2469.6h20.83v20.83h-20.83z"/><path fill="#ffee11" d="M476.3 1677.9h20.83v20.83h-20.83z"/><path fill="#ffd22d" d="M601.7 1789.0h20.83v20.83h-20.83z"/><path fill="#ff8f70" d="M717.2 2059.8h20.83v20.83h-20.83z"/><path fill="#ffd42b" d="M516.4 1782.7h20.83v20.83h-20.83z"/><path fill="#ffe01f" d="M489.4 1733.3h20.83v20.83h-20.83z"/><path fill="#ff9c63" d="M681.4 2006.6h20.83v20.83h-20.83z"/><path fill="#ff5aa5" d="M881.7 2274.6h20.83v20.83h-20.83z"/><path fill="#ff31ce" d="M962.2 2439.2h20.83v20.83h-20.83z"/><path fill="#ff7e81" d="M757.0 2129.0h20.83v20.83h-20.83z"/><path fill="#ffe718" d="M484.6 1704.7h20.83v20.83h-20.83z"/><path fill="#ff39c6" d="M952.8 2406.6h20.83v20.83h-20.83z"/><path fill="#ff0bf4" d="M1076.3 2590.8h20.83v20.83h-20.83z"/><path fill="#ff5ea1" d="M824.1 2256.9h20.83v20.83h-20.83z"/><path fill="#ff7e81" d="M760.0 2128.4h20.83v20.83h-20.83z"/><path fill="#ffe51a" d="M493.1 1713.2h20.83v20.83h-20.83zM487.4 1715.5h20.83v20.83h-20.83z"/><path fill="#ff42bd" d="M904.1 2370.1h20.83v20.83h-20.83z"/><path fill="#ff6c93" d="M820.3 2200.3h20.83v20.83h-20.83z"/><path fill="#ff04fb" d="M1102.3 2618.3h20.83v20.83h-20.83z"/><path fill="#ff19e6" d="M1039.5 2536.8h20.83v20.83h-20.83z"/><path fill="#ffd32c" d="M552.6 1787.4h20.83v20.83h-20.83z"/><path fill="#ffdb24" d="M510.2 1756.4h20.83v20.83h-20.83z"/><path fill="#ffe619" d="M493.9 1710.7h20.83v20.83h-20.83z"/><path fill="#ff12ed" d="M1086.8 2564.5h20.83v20.83h-20.83z"/><path fill="#ffe21d" d="M479.7 1725.2h20.83v20.83h-20.83z"/><path fill="#ff56a9" d="M835.0 2291.7h20.83v20.83h-20.83z"/><path fill="#ff7887" d="M746.3 2153.6h20.83v20.83h-20.83z"/><path fill="#ffbb44" d="M595.5 1883.4h20.83v20.83h-20.83z"/><path fill="#ff3cc3" d="M951.6 2394.2h20.83v20.83h-20.83z"/><path fill="#ffeb14" d="M462.9 1690.0h20.83v20.83h-20.83z"/><path fill="#ffbc43" d="M570.4 1877.8h20.83v20.83h-20.83z"/><path fill="#ffb44b" d="M621.9 1912.4h20.83v20.83h-20.83z"/><path fill="#ff649b" d="M799.5 2234.7h20.83v20.83h-20.83z"/><path fill="#ff9768" d="M758.6 2026.8h20.83v20.83h-20.83z"/><path fill="#ff7a85" d="M755.7 2144.1h20.83v20.83h-20.83z"/><path fill="#ffcf30" d="M563.2 1802.5h20.83v20.83h-20.83z"/><path fill="#ff659a" d="M843.7 2231.1h20.83v20.83h-20.83z"/><path fill="#ffc738" d="M542.2 1836.5h20.83v20.83h-20.83z"/><path fill="#ffd629" d="M524.4 1774.6h20.83v20.83h-20.83z"/><path fill="#ff3cc3" d="M922.0 2394.2h20.83v20.83h-20.83z"/><path fill="#ff8a75" d="M714.4 2079.1h20.83v20.83h-20.83z"/><path fill="#ffcb34" d="M602.4 1820.0h20.83v20.83h-20.83z"/><path fill="#ffaf50" d="M704.4 1932.4h20.83v20.83h-20.83z"/><path fill="#ff1ae5" d="M1035.9 2531.0h20.83v20.83h-20.83z"/><path fill="#ff1be4" d="M1013.5 2526.3h20.83v20.83h-20.83z"/><path fill="#ff09f6" d="M1068.0 2600.4h20.83v20.83h-20.83z"/><path fill="#ff35ca" d="M965.0 2424.4h20.83v20.83h-20.83z"/><path fill="#ff718e" d="M795.8 2181.1h20.83v20.83h-20.83z"/><path fill="#ff9f60" d="M656.8 1998.0h20.83v20.83h-20.83z"/><path fill="#ff9a65" d="M682.8 2016.5h20.83v20.83h-20.83z"/><path fill="#ff9867" d="M686.6 2023.3h20.83v20.83h-20.83z"/><path fill="#ffb748" d="M638.9 1899.8h20.83v20.83h-20.83z"/><path fill="#ffd12e" d="M527.5 1795.2h20.83v20.83h-20.83z"/><path fill="#ff9669" d="M686.8 2031.8h20.83v20.83h-20.83z"/><path fill="#ff02fd" d="M1095.2 2626.8h20.83v20.83h-20.83z"/><path fill="#ff609f" d="M815.1 2249.4h20.83v20.83h-20.83z"/><path fill="#ff7788" d="M752.5 2155.3h20.83v20.83h-20.83z"/><path fill="#ff57a8" d="M850.6 2287.3h20.83v20.83h-20.83z"/><path fill="#ff609f" d="M828.2 2249.6h20.83v20.83h-20.83z"/><path fill="#ffda25" d="M531.2 1759.5h20.83v20.83h-20.83z"/><path fill="#ff8c73" d="M693.6 2074.1h20.83v20.83h-20.83z"/><path fill="#ffa956" d="M640.8 1954.4h20.83v20.83h-20.83z"/><path fill="#ff22dd" d="M1003.0 2498.9h20.83v20.83h-20.83z"/><path fill="#ff28d7" d="M985.9 2473.8h20.83v20.83h-20.83z"/><path fill="#ff40bf" d="M909.7 2376.7h20.83v20.83h-20.83z"/><path fill="#ff31ce" d="M953.2 2438.9h20.83v20.83h-20.83z"/><path fill="#fff50a" d="M427.6 1649.2h20.83v20.83h-20.83z"/><path fill="#ff5ca3" d="M818.6 2266.3h20.83v20.83h-20.83z"/><path fill="#ff0df2" d="M1070.9 2582.6h20.83v20.83h-20.83z"/><path fill="#ffe718" d="M458.0 1705.7h20.83v20.83h-20.83z"/><path fill="#ff05fa" d="M1110.6 2617.8h20.83v20.83h-20.83z"/><path fill="#ff2dd2" d="M969.5 2454.3h20.83v20.83h-20.83z"/><path fill="#ffa857" d="M624.1 1961.7h20.83v20.83h-20.83z"/><path fill="#ff4ab5" d="M890.8 2337.4h20.83v20.83h-20.83z"/><path fill="#ff1ce3" d="M1003.1 2523.2h20.83v20.83h-20.83z"/><path fill="#ff837c" d="M768.4 2108.5h20.83v20.83h-20.83z"/><path fill="#ffc33c" d="M577.3 1850.4h20.83v20.83h-20.83z"/><path fill="#ffa15e" d="M672.5 1988.9h20.83v20.83h-20.83z"/><path fill="#ff39c6" d="M929.1 2405.7h20.83v20.83h-20.83z"/><path fill="#ff6897" d="M833.0 2217.7h20.83v20.83h-20.83z"/><path fill="#ff6d92" d="M776.1 2199.2h20.83v20.83h-20.83z"/><path fill="#ffd728" d="M532.4 1772.5h20.83v20.83h-20.83z"/><path fill="#ff9a65" d="M667.3 2016.7h20.83v20.83h-20.83z"/><path fill="#ff44bb" d="M914.3 2360.7h20.83v20.83h-20.83z"/><path fill="#ff54ab" d="M919.3 2296.5h20.83v20.83h-20.83z"/><path fill="#ff11ee" d="M1066.9 2567.2h20.83v20.83h-20.83z"/><path fill="#ff9867" d="M663.0 2022.5h20.83v20.83h-20.83z"/><path fill="#ffce31" d="M518.8 1805.8h20.83v20.83h-20.83z"/><path fill="#ffde21" d="M481.5 1742.5h20.83v20.83h-20.83z"/><path fill="#ffef10" d="M432.2 1672.1h20.83v20.83h-20.83z"/><path fill="#ffb649" d="M594.7 1903.0h20.83v20.83h-20.83z"/><path fill="#ffd22d" d="M521.6 1790.6h20.83v20.83h-20.83z"/><path fill="#ff4fb0" d="M881.1 2316.9h20.83v20.83h-20.83z"/><path fill="#ff609f" d="M835.9 2251.5h20.83v20.83h-20.83z"/><path fill="#ff619e" d="M805.7 2244.5h20.83v20.83h-20.83z"/><path fill="#ff57a8" d="M864.6 2284.5h20.83v20.83h-20.83z"/><path fill="#ffcf30" d="M541.2 1803.2h20.83v20.83h-20.83z"/><path fill="#ff0df2" d="M1051.7 2583.9h20.83v20.83h-20.83z"/><path fill="#fff708" d="M426.5 1639.9h20.83v20.83h-20.83z"/><path fill="#fffa05" d="M427.5 1628.9h20.83v20.83h-20.83z"/><path fill="#ffe01f" d="M500.8 1732.5h20.83v20.83h-20.83z"/><path fill="#ff46b9" d="M884.0 2352.4h20.83v20.83h-20.83z"/><path fill="#ff1fe0" d="M1001.4 2510.2h20.83v20.83h-20.83z"/><path fill="#fffc03" d="M407.6 1623.7h20.83v20.83h-20.83z"/><path fill="#ffa35c" d="M725.1 1978.4h20.83v20.83h-20.83z"/><path fill="#ffd52a" d="M539.2 1779.9h20.83v20.83h-20.83z"/><path fill="#ffbb44" d="M567.4 1883.1h20.83v20.83h-20.83z"/><path fill="#ff6699" d="M801.5 2226.1h20.83v20.83h-20.83z"/><path fill="#ff2bd4" d="M973.7 2464.6h20.83v20.83h-20.83z"/><path fill="#ff1ee1" d="M1006.6 2517.0h20.83v20.83h-20.83z"/><path fill="#ff946b" d="M728.8 2041.5h20.83v20.83h-20.83z"/><path fill="#ffff00" d="M419.3 1611.4h20.83v20.83h-20.83z"/><path fill="#ff16e9" d="M1033.6 2548.8h20.83v20.83h-20.83z"/><path fill="#ff0af5" d="M1085.5 2595.4h20.83v20.83h-20.83z"/><path fill="#ffea15" d="M444.0 1696.1h20.83v20.83h-20.83z"/></g>
<g clip-path="url(#cBR)" shape-rendering="auto"><path fill="#ff0df2" d="M1851.5 2636.2h20.83v20.83h-20.83z"/><path fill="#ff00ff" d="M1856.2 2628.6h20.83v20.83h-20.83z"/><path fill="#ff26d9" d="M1862.8 2620.6h20.83v20.83h-20.83zM1867.8 2614.1h20.83v20.83h-20.83z"/><path fill="#ff05fa" d="M1875.8 2603.9h20.83v20.83h-20.83z"/><path fill="#ff1ae6" d="M1882.4 2593.6h20.83v20.83h-20.83z"/><path fill="#ff00ff" d="M1886.8 2586.7h20.83v20.83h-20.83z"/><path fill="#ff26d9" d="M1893.6 2579.9h20.83v20.83h-20.83z"/><path fill="#ff00ff" d="M1897.7 2573.5h20.83v20.83h-20.83z"/><path fill="#ff05fa" d="M1904.6 2562.0h20.83v20.83h-20.83z"/><path fill="#ff00ff" d="M1912.8 2551.7h20.83v20.83h-20.83z"/><path fill="#ff1ae6" d="M1922.0 2541.0h20.83v20.83h-20.83z"/><path fill="#ff05fa" d="M1927.3 2533.3h20.83v20.83h-20.83z"/><path fill="#ff1ae6" d="M1932.3 2523.1h20.83v20.83h-20.83zM1938.0 2516.8h20.83v20.83h-20.83z"/><path fill="#ff00ff" d="M1942.6 2509.9h20.83v20.83h-20.83z"/><path fill="#ff26d9" d="M1950.4 2498.1h20.83v20.83h-20.83z"/><path fill="#ff0df2" d="M1958.2 2491.0h20.83v20.83h-20.83z"/><path fill="#ff26d9" d="M1960.3 2484.9h20.83v20.83h-20.83zM1969.9 2473.4h20.83v20.83h-20.83z"/><path fill="#ff1ae6" d="M1977.7 2464.4h20.83v20.83h-20.83z"/><path fill="#ff00ff" d="M1980.2 2458.0h20.83v20.83h-20.83z"/><path fill="#ff26d9" d="M1987.5 2447.8h20.83v20.83h-20.83z"/><path fill="#ff0df2" d="M1994.7 2437.5h20.83v20.83h-20.83z"/><path fill="#ff05fa" d="M2003.1 2428.1h20.83v20.83h-20.83z"/><path fill="#ff26d9" d="M2011.1 2417.7h20.83v20.83h-20.83z"/><path fill="#ff1ae6" d="M2018.0 2405.7h20.83v20.83h-20.83z"/><path fill="#ff26d9" d="M2026.9 2394.0h20.83v20.83h-20.83zM2034.9 2385.0h20.83v20.83h-20.83z"/><path fill="#ff00ff" d="M2042.0 2375.4h20.83v20.83h-20.83z"/><path fill="#ff26d9" d="M2048.1 2364.2h20.83v20.83h-20.83z"/><path fill="#ff05fa" d="M2053.8 2356.0h20.83v20.83h-20.83z"/><path fill="#ff26d9" d="M2056.2 2352.7h20.83v20.83h-20.83z"/><path fill="#ff1ae6" d="M2059.1 2348.7h20.83v20.83h-20.83z"/><path fill="#ff0df2" d="M2062.0 2344.6h20.83v20.83h-20.83z"/><path fill="#ff00ff" d="M2063.9 2342.1h20.83v20.83h-20.83z"/><path fill="#ff1ae6" d="M2066.0 2339.2h20.83v20.83h-20.83z"/><path fill="#ff00ff" d="M2068.2 2336.2h20.83v20.83h-20.83z"/><path fill="#ff0df2" d="M2070.5 2333.0h20.83v20.83h-20.83z"/><path fill="#ff00ff" d="M2072.4 2330.3h20.83v20.83h-20.83z"/><path fill="#ff26d9" d="M2074.3 2327.8h20.83v20.83h-20.83z"/><path fill="#ff1ae6" d="M2077.3 2323.7h20.83v20.83h-20.83z"/><path fill="#ff05fa" d="M2079.6 2320.5h20.83v20.83h-20.83z"/><path fill="#ff00ff" d="M2082.2 2316.8h20.83v20.83h-20.83z"/><path fill="#ff05fa" d="M2084.7 2313.5h20.83v20.83h-20.83z"/><path fill="#ff1ae6" d="M2086.6 2310.8h20.83v20.83h-20.83z"/><path fill="#ff26d9" d="M2089.2 2307.3h20.83v20.83h-20.83z"/><path fill="#ff0df2" d="M2091.5 2304.0h20.83v20.83h-20.83zM2093.6 2301.2h20.83v20.83h-20.83z"/><path fill="#ff05fa" d="M2095.5 2298.6h20.83v20.83h-20.83zM2097.7 2295.6h20.83v20.83h-20.83z"/><path fill="#ff26d9" d="M2100.9 2291.1h20.83v20.83h-20.83z"/><path fill="#ff00ff" d="M2102.9 2288.3h20.83v20.83h-20.83z"/><path fill="#ff05fa" d="M2104.9 2285.7h20.83v20.83h-20.83z"/><path fill="#ff0df2" d="M2107.8 2281.7h20.83v20.83h-20.83zM2110.5 2277.9h20.83v20.83h-20.83z"/><path fill="#ff1ae6" d="M2112.7 2274.9h20.83v20.83h-20.83z"/><path fill="#ff05fa" d="M2115.4 2271.2h20.83v20.83h-20.83z"/><path fill="#ff26d9" d="M2118.6 2266.8h20.83v20.83h-20.83z"/><path fill="#ff00ff" d="M2120.8 2263.7h20.83v20.83h-20.83z"/><path fill="#ff1ae6" d="M2122.8 2261.1h20.83v20.83h-20.83z"/><path fill="#ff26d9" d="M2124.8 2258.3h20.83v20.83h-20.83z"/><path fill="#ff1ae6" d="M2127.7 2254.3h20.83v20.83h-20.83z"/><path fill="#ff05fa" d="M2130.4 2250.6h20.83v20.83h-20.83z"/><path fill="#ff0df2" d="M2133.2 2246.8h20.83v20.83h-20.83z"/><path fill="#ff26d9" d="M2136.1 2242.7h20.83v20.83h-20.83z"/><path fill="#ff00ff" d="M2138.6 2239.2h20.83v20.83h-20.83z"/><path fill="#ff0df2" d="M2141.8 2234.9h20.83v20.83h-20.83z"/><path fill="#ff05fa" d="M2144.4 2231.3h20.83v20.83h-20.83z"/><path fill="#ff00ff" d="M2147.4 2227.2h20.83v20.83h-20.83z"/><path fill="#ff05fa" d="M2149.4 2224.4h20.83v20.83h-20.83zM2152.5 2220.2h20.83v20.83h-20.83z"/><path fill="#ff1ae6" d="M2154.6 2217.3h20.83v20.83h-20.83z"/><path fill="#ff26d9" d="M2157.2 2213.7h20.83v20.83h-20.83z"/><path fill="#ff05fa" d="M2159.6 2210.4h20.83v20.83h-20.83z"/><path fill="#ff26d9" d="M2162.2 2206.8h20.83v20.83h-20.83zM2165.4 2202.4h20.83v20.83h-20.83z"/><path fill="#ff00ff" d="M2167.3 2199.8h20.83v20.83h-20.83z"/><path fill="#ff26d9" d="M2170.0 2196.1h20.83v20.83h-20.83zM2173.1 2191.8h20.83v20.83h-20.83zM2175.4 2188.7h20.83v20.83h-20.83z"/><path fill="#ff00ff" d="M2178.0 2185.1h20.83v20.83h-20.83z"/><path fill="#ff26d9" d="M2181.1 2180.9h20.83v20.83h-20.83z"/><path fill="#ff0df2" d="M2183.7 2177.3h20.83v20.83h-20.83z"/><path fill="#ff05fa" d="M2185.6 2174.7h20.83v20.83h-20.83z"/><path fill="#ff00ff" d="M2188.5 2170.7h20.83v20.83h-20.83z"/><path fill="#ff1ae6" d="M2190.4 2168.0h20.83v20.83h-20.83zM2192.9 2164.6h20.83v20.83h-20.83z"/><path fill="#ff00ff" d="M2196.0 2160.3h20.83v20.83h-20.83zM2198.8 2156.5h20.83v20.83h-20.83z"/><path fill="#ff1ae6" d="M2201.2 2153.2h20.83v20.83h-20.83z"/><path fill="#ff26d9" d="M2203.3 2150.3h20.83v20.83h-20.83z"/><path fill="#ff05fa" d="M2206.0 2146.5h20.83v20.83h-20.83z"/><path fill="#ff26d9" d="M2207.9 2143.9h20.83v20.83h-20.83z"/><path fill="#ff00ff" d="M2209.9 2141.3h20.83v20.83h-20.83z"/><path fill="#ff1ae6" d="M2212.7 2137.4h20.83v20.83h-20.83z"/><path fill="#ff00ff" d="M2215.3 2133.7h20.83v20.83h-20.83z"/><path fill="#ff26d9" d="M2217.4 2130.9h20.83v20.83h-20.83z"/><path fill="#ff00ff" d="M2220.3 2126.9h20.83v20.83h-20.83z"/><path fill="#ff0df2" d="M2222.2 2124.2h20.83v20.83h-20.83z"/><path fill="#ff26d9" d="M2225.0 2120.5h20.83v20.83h-20.83z"/><path fill="#ff00ff" d="M2227.6 2116.9h20.83v20.83h-20.83zM2230.4 2113.0h20.83v20.83h-20.83z"/><path fill="#ff0df2" d="M2232.7 2109.8h20.83v20.83h-20.83z"/><path fill="#ff1ae6" d="M2234.5 2107.3h20.83v20.83h-20.83zM2237.2 2103.6h20.83v20.83h-20.83z"/><path fill="#ff05fa" d="M2240.5 2099.2h20.83v20.83h-20.83z"/><path fill="#ff0df2" d="M2242.4 2096.5h20.83v20.83h-20.83z"/><path fill="#ff1ae6" d="M2245.2 2092.6h20.83v20.83h-20.83z"/><path fill="#ff05fa" d="M2248.2 2088.6h20.83v20.83h-20.83z"/><path fill="#ff00ff" d="M2251.4 2084.1h20.83v20.83h-20.83zM2253.4 2081.4h20.83v20.83h-20.83zM2255.3 2078.7h20.83v20.83h-20.83zM2257.7 2075.5h20.83v20.83h-20.83z"/><path fill="#ff26d9" d="M2260.2 2072.1h20.83v20.83h-20.83z"/><path fill="#ff00ff" d="M2262.3 2069.2h20.83v20.83h-20.83z"/><path fill="#ff0df2" d="M2264.4 2066.2h20.83v20.83h-20.83z"/><path fill="#ff05fa" d="M2267.4 2062.2h20.83v20.83h-20.83z"/><path fill="#ff0df2" d="M2269.2 2059.6h20.83v20.83h-20.83z"/><path fill="#ff00ff" d="M2272.4 2055.2h20.83v20.83h-20.83z"/><path fill="#ff26d9" d="M2275.6 2050.8h20.83v20.83h-20.83z"/><path fill="#ff00ff" d="M2278.6 2046.7h20.83v20.83h-20.83z"/><path fill="#ff1ae6" d="M2281.7 2042.4h20.83v20.83h-20.83z"/><path fill="#ff26d9" d="M2284.8 2038.2h20.83v20.83h-20.83z"/><path fill="#ff00ff" d="M2287.9 2034.0h20.83v20.83h-20.83z"/><path fill="#ff05fa" d="M2290.7 2030.1h20.83v20.83h-20.83zM2292.9 2027.0h20.83v20.83h-20.83z"/><path fill="#ff1ae6" d="M2296.2 2022.6h20.83v20.83h-20.83z"/><path fill="#ff0df2" d="M2299.3 2018.2h20.83v20.83h-20.83z"/><path fill="#ff00ff" d="M2302.6 2013.8h20.83v20.83h-20.83z"/><path fill="#ff1ae6" d="M2304.4 2011.2h20.83v20.83h-20.83z"/><path fill="#ff26d9" d="M2306.6 2008.2h20.83v20.83h-20.83zM2308.9 2005.1h20.83v20.83h-20.83z"/><path fill="#ff1ae6" d="M2311.2 2001.9h20.83v20.83h-20.83z"/><path fill="#ff00ff" d="M2313.6 1998.5h20.83v20.83h-20.83z"/><path fill="#ff1ae6" d="M2315.9 1995.5h20.83v20.83h-20.83z"/><path fill="#ff26d9" d="M2318.4 1992.0h20.83v20.83h-20.83z"/><path fill="#ff1ae6" d="M2320.8 1988.6h20.83v20.83h-20.83zM2322.9 1985.7h20.83v20.83h-20.83z"/><path fill="#ff00ff" d="M2324.8 1983.1h20.83v20.83h-20.83z"/><path fill="#ff26d9" d="M2326.9 1980.3h20.83v20.83h-20.83z"/><path fill="#ff05fa" d="M2328.7 1977.7h20.83v20.83h-20.83zM2331.6 1973.8h20.83v20.83h-20.83z"/><path fill="#ff00ff" d="M2334.8 1969.4h20.83v20.83h-20.83z"/><path fill="#ff1ae6" d="M2337.1 1966.2h20.83v20.83h-20.83z"/><path fill="#ff26d9" d="M2340.3 1961.8h20.83v20.83h-20.83z"/><path fill="#ff1ae6" d="M2343.2 1957.8h20.83v20.83h-20.83z"/><path fill="#ff26d9" d="M2345.4 1954.9h20.83v20.83h-20.83z"/><path fill="#ff00ff" d="M2348.3 1950.8h20.83v20.83h-20.83z"/><path fill="#ff26d9" d="M2350.1 1948.3h20.83v20.83h-20.83z"/><path fill="#ff05fa" d="M2352.6 1944.9h20.83v20.83h-20.83z"/><path fill="#ff0df2" d="M2355.7 1940.7h20.83v20.83h-20.83z"/><path fill="#ff26d9" d="M2358.6 1936.7h20.83v20.83h-20.83z"/><path fill="#ff1ae6" d="M2361.1 1933.2h20.83v20.83h-20.83z"/><path fill="#ff0df2" d="M2364.0 1929.2h20.83v20.83h-20.83z"/><path fill="#ff05fa" d="M2367.1 1924.9h20.83v20.83h-20.83z"/><path fill="#ff00ff" d="M2369.1 1922.3h20.83v20.83h-20.83z"/><path fill="#ff0df2" d="M2372.3 1917.8h20.83v20.83h-20.83z"/><path fill="#ff05fa" d="M2374.2 1915.2h20.83v20.83h-20.83z"/><path fill="#ff00ff" d="M2376.5 1912.1h20.83v20.83h-20.83z"/><path fill="#ff1ae6" d="M2379.0 1908.5h20.83v20.83h-20.83zM2381.8 1904.7h20.83v20.83h-20.83z"/><path fill="#ff26d9" d="M2384.2 1901.5h20.83v20.83h-20.83z"/><path fill="#ff05fa" d="M2386.7 1898.0h20.83v20.83h-20.83z"/><path fill="#ff0df2" d="M2389.3 1894.4h20.83v20.83h-20.83zM2391.6 1891.2h20.83v20.83h-20.83z"/><path fill="#ff1ae6" d="M2393.8 1888.3h20.83v20.83h-20.83z"/><path fill="#ff26d9" d="M2396.4 1884.7h20.83v20.83h-20.83z"/><path fill="#ff05fa" d="M2399.3 1880.6h20.83v20.83h-20.83z"/><path fill="#ff00ff" d="M2402.0 1877.0h20.83v20.83h-20.83zM2404.3 1873.9h20.83v20.83h-20.83z"/><path fill="#ff26d9" d="M2406.5 1870.8h20.83v20.83h-20.83z"/><path fill="#ff1ae6" d="M2409.5 1866.6h20.83v20.83h-20.83z"/><path fill="#ff00ff" d="M2412.7 1862.3h20.83v20.83h-20.83z"/><path fill="#ff05fa" d="M2414.9 1859.2h20.83v20.83h-20.83z"/><path fill="#ff1ae6" d="M2417.5 1855.7h20.83v20.83h-20.83z"/><path fill="#ff05fa" d="M2420.3 1851.8h20.83v20.83h-20.83zM2422.4 1849.0h20.83v20.83h-20.83z"/><path fill="#ff0df2" d="M2425.3 1845.0h20.83v20.83h-20.83z"/><path fill="#ff00ff" d="M2428.2 1841.0h20.83v20.83h-20.83z"/><path fill="#ff0df2" d="M2430.8 1837.4h20.83v20.83h-20.83z"/><path fill="#ff05fa" d="M2432.6 1834.8h20.83v20.83h-20.83z"/><path fill="#ff00ff" d="M2435.2 1831.3h20.83v20.83h-20.83z"/><path fill="#ff0df2" d="M2437.7 1827.9h20.83v20.83h-20.83z"/><path fill="#ff26d9" d="M2439.8 1824.9h20.83v20.83h-20.83z"/><path fill="#ff1ae6" d="M2441.8 1822.2h20.83v20.83h-20.83z"/><path fill="#ff05fa" d="M2444.0 1819.2h20.83v20.83h-20.83z"/><path fill="#ff26d9" d="M2447.0 1815.1h20.83v20.83h-20.83zM2449.4 1811.7h20.83v20.83h-20.83z"/><path fill="#ff0df2" d="M2452.7 1807.2h20.83v20.83h-20.83z"/><path fill="#ff00ff" d="M2455.2 1803.7h20.83v20.83h-20.83z"/><path fill="#ff1ae6" d="M2457.6 1800.5h20.83v20.83h-20.83zM2460.7 1796.2h20.83v20.83h-20.83z"/><path fill="#ff05fa" d="M2463.4 1792.4h20.83v20.83h-20.83zM2466.1 1788.8h20.83v20.83h-20.83z"/><path fill="#ff00ff" d="M2469.3 1784.4h20.83v20.83h-20.83z"/><path fill="#ff0df2" d="M2472.4 1780.1h20.83v20.83h-20.83z"/><path fill="#ff1ae6" d="M2475.5 1775.8h20.83v20.83h-20.83z"/><path fill="#ff05fa" d="M2478.7 1771.4h20.83v20.83h-20.83z"/><path fill="#ff00ff" d="M2481.7 1767.4h20.83v20.83h-20.83z"/><path fill="#ff26d9" d="M2484.8 1763.0h20.83v20.83h-20.83z"/><path fill="#ff05fa" d="M2487.1 1759.8h20.83v20.83h-20.83zM2490.4 1755.4h20.83v20.83h-20.83z"/><path fill="#ff26d9" d="M2492.2 1752.8h20.83v20.83h-20.83z"/><path fill="#ff05fa" d="M2494.9 1749.2h20.83v20.83h-20.83z"/><path fill="#ff0df2" d="M2497.7 1745.4h20.83v20.83h-20.83z"/><path fill="#ff05fa" d="M2499.9 1742.3h20.83v20.83h-20.83z"/><path fill="#ff1ae6" d="M2502.2 1739.1h20.83v20.83h-20.83zM2504.1 1736.6h20.83v20.83h-20.83z"/><path fill="#ff05fa" d="M2507.1 1732.4h20.83v20.83h-20.83z"/><path fill="#ff00ff" d="M2509.6 1729.0h20.83v20.83h-20.83z"/><path fill="#ff05fa" d="M2511.8 1725.9h20.83v20.83h-20.83zM2514.9 1721.6h20.83v20.83h-20.83z"/><path fill="#ff26d9" d="M2517.7 1717.8h20.83v20.83h-20.83z"/><path fill="#ff1ae6" d="M2520.8 1713.5h20.83v20.83h-20.83z"/><path fill="#ff26d9" d="M2523.9 1709.3h20.83v20.83h-20.83z"/><path fill="#ff1ae6" d="M2525.9 1706.5h20.83v20.83h-20.83zM2527.8 1703.9h20.83v20.83h-20.83zM2529.8 1701.2h20.83v20.83h-20.83z"/><path fill="#ff05fa" d="M2532.3 1697.7h20.83v20.83h-20.83z"/><path fill="#ff26d9" d="M2535.4 1693.5h20.83v20.83h-20.83z"/><path fill="#ff1ae6" d="M2537.3 1690.8h20.83v20.83h-20.83z"/><path fill="#ff0df2" d="M2539.9 1687.3h20.83v20.83h-20.83zM2542.3 1684.0h20.83v20.83h-20.83z"/><path fill="#ff05fa" d="M2544.8 1680.5h20.83v20.83h-20.83z"/><path fill="#ff26d9" d="M2547.7 1676.5h20.83v20.83h-20.83z"/><path fill="#ff00ff" d="M2550.2 1673.1h20.83v20.83h-20.83zM2552.3 1670.1h20.83v20.83h-20.83zM2554.5 1667.3h20.83v20.83h-20.83z"/><path fill="#ff0df2" d="M2556.6 1664.2h20.83v20.83h-20.83z"/><path fill="#ff05fa" d="M2558.8 1661.3h20.83v20.83h-20.83z"/><path fill="#ff1ae6" d="M2561.6 1657.5h20.83v20.83h-20.83z"/><path fill="#ff0df2" d="M2564.8 1653.1h20.83v20.83h-20.83zM2567.9 1648.7h20.83v20.83h-20.83z"/><path fill="#ff05fa" d="M2570.2 1645.5h20.83v20.83h-20.83z"/><path fill="#ff00ff" d="M2572.9 1641.9h20.83v20.83h-20.83z"/><path fill="#ff05fa" d="M2574.9 1639.2h20.83v20.83h-20.83zM2576.8 1636.5h20.83v20.83h-20.83z"/><path fill="#ff1ae6" d="M2578.7 1634.0h20.83v20.83h-20.83z"/><path fill="#ff26d9" d="M2581.0 1630.7h20.83v20.83h-20.83z"/><path fill="#ff00ff" d="M2583.9 1626.7h20.83v20.83h-20.83z"/><path fill="#ff1ae6" d="M2585.9 1624.0h20.83v20.83h-20.83z"/><path fill="#ff05fa" d="M2588.7 1620.1h20.83v20.83h-20.83z"/><path fill="#ff26d9" d="M2590.6 1617.5h20.83v20.83h-20.83zM2592.7 1614.7h20.83v20.83h-20.83z"/><path fill="#ff0df2" d="M2595.7 1610.5h20.83v20.83h-20.83z"/><path fill="#ff05fa" d="M2598.6 1606.6h20.83v20.83h-20.83z"/><path fill="#ff0df2" d="M2601.7 1602.3h20.83v20.83h-20.83z"/><path fill="#ff26d9" d="M2604.6 1598.3h20.83v20.83h-20.83z"/><path fill="#ff00ff" d="M2607.7 1594.0h20.83v20.83h-20.83z"/><path fill="#ff26d9" d="M2609.7 1591.2h20.83v20.83h-20.83z"/><path fill="#ff17e8" d="M1977.2 2506.9h20.83v20.83h-20.83z"/><path fill="#ffc13e" d="M2377.0 1924.9h20.83v20.83h-20.83z"/><path fill="#ffc23d" d="M2591.7 1650.0h20.83v20.83h-20.83z"/><path fill="#ff837c" d="M2148.9 2237.8h20.83v20.83h-20.83z"/><path fill="#ffbe41" d="M2374.5 1948.5h20.83v20.83h-20.83z"/><path fill="#ff9b64" d="M2389.0 1941.4h20.83v20.83h-20.83z"/><path fill="#ffc936" d="M2152.9 2223.2h20.83v20.83h-20.83z"/><path fill="#ff9e61" d="M2421.5 1883.4h20.83v20.83h-20.83z"/><path fill="#ffc13e" d="M2280.5 2093.7h20.83v20.83h-20.83z"/><path fill="#ffc639" d="M2571.0 1665.1h20.83v20.83h-20.83z"/><path fill="#ffbf40" d="M2219.5 2135.8h20.83v20.83h-20.83z"/><path fill="#ffc13e" d="M2497.0 1773.7h20.83v20.83h-20.83z"/><path fill="#ffc936" d="M2291.5 2118.4h20.83v20.83h-20.83z"/><path fill="#ffc33c" d="M2335.5 1985.2h20.83v20.83h-20.83z"/><path fill="#fff609" d="M2094.6 2351.0h20.83v20.83h-20.83z"/><path fill="#ffc639" d="M2105.5 2298.5h20.83v20.83h-20.83z"/><path fill="#ffc936" d="M2490.2 1777.9h20.83v20.83h-20.83z"/><path fill="#ffe916" d="M2322.6 1995.2h20.83v20.83h-20.83z"/><path fill="#ffc53a" d="M2287.8 2118.7h20.83v20.83h-20.83z"/><path fill="#ff1de2" d="M2043.9 2395.0h20.83v20.83h-20.83z"/><path fill="#ffc03f" d="M2473.2 1807.3h20.83v20.83h-20.83z"/><path fill="#ff9768" d="M2290.2 2095.7h20.83v20.83h-20.83z"/><path fill="#ffc639" d="M2500.4 1755.4h20.83v20.83h-20.83z"/><path fill="#ff8976" d="M2467.0 1839.7h20.83v20.83h-20.83z"/><path fill="#ffc53a" d="M2420.6 1909.7h20.83v20.83h-20.83z"/><path fill="#ff27d8" d="M2047.6 2372.4h20.83v20.83h-20.83z"/><path fill="#ff4db2" d="M1995.8 2488.7h20.83v20.83h-20.83z"/><path fill="#ffbe41" d="M2153.6 2285.8h20.83v20.83h-20.83z"/><path fill="#ffc03f" d="M2324.0 2001.6h20.83v20.83h-20.83z"/><path fill="#ffca35" d="M2130.5 2263.8h20.83v20.83h-20.83z"/><path fill="#ffcb34" d="M2566.8 1662.4h20.83v20.83h-20.83z"/><path fill="#ffc53a" d="M2090.5 2322.5h20.83v20.83h-20.83z"/><path fill="#ffdc23" d="M2185.7 2231.4h20.83v20.83h-20.83z"/><path fill="#ffbf40" d="M2386.2 1910.7h20.83v20.83h-20.83z"/><path fill="#ff9d62" d="M2123.5 2291.2h20.83v20.83h-20.83z"/><path fill="#ff4cb3" d="M2051.5 2375.5h20.83v20.83h-20.83z"/><path fill="#ffbd42" d="M2617.9 1606.0h20.83v20.83h-20.83z"/><path fill="#ffc13e" d="M2138.0 2287.9h20.83v20.83h-20.83z"/><path fill="#ffdb24" d="M2319.5 2001.5h20.83v20.83h-20.83z"/><path fill="#ff8a75" d="M2302.4 2029.3h20.83v20.83h-20.83z"/><path fill="#ffbe41" d="M2493.1 1807.3h20.83v20.83h-20.83z"/><path fill="#ffcc33" d="M2113.0 2297.2h20.83v20.83h-20.83z"/><path fill="#ff817e" d="M2285.4 2084.6h20.83v20.83h-20.83z"/><path fill="#ffc03f" d="M2200.0 2187.1h20.83v20.83h-20.83z"/><path fill="#ffc53a" d="M2078.1 2350.5h20.83v20.83h-20.83z"/><path fill="#ff827d" d="M2444.9 1849.7h20.83v20.83h-20.83z"/><path fill="#ff807f" d="M2285.2 2085.6h20.83v20.83h-20.83z"/><path fill="#ffc03f" d="M2307.8 2083.0h20.83v20.83h-20.83z"/><path fill="#ff39c6" d="M1946.2 2549.6h20.83v20.83h-20.83z"/><path fill="#ffcb34" d="M2470.0 1793.1h20.83v20.83h-20.83z"/><path fill="#ffc23d" d="M2372.7 1935.4h20.83v20.83h-20.83z"/><path fill="#ffbd42" d="M2565.3 1671.3h20.83v20.83h-20.83z"/><path fill="#ffc837" d="M2141.6 2242.5h20.83v20.83h-20.83z"/><path fill="#ffbd42" d="M2412.0 1925.1h20.83v20.83h-20.83z"/><path fill="#ffc23d" d="M2215.7 2198.5h20.83v20.83h-20.83z"/><path fill="#ffcc33" d="M2160.2 2259.7h20.83v20.83h-20.83z"/><path fill="#ffbd42" d="M2384.1 1952.0h20.83v20.83h-20.83z"/><path fill="#ffc639" d="M2203.9 2186.8h20.83v20.83h-20.83z"/><path fill="#ff9a65" d="M2203.0 2216.2h20.83v20.83h-20.83z"/><path fill="#ffcc33" d="M2375.2 1957.4h20.83v20.83h-20.83z"/><path fill="#ffc03f" d="M2533.9 1715.1h20.83v20.83h-20.83z"/><path fill="#ffbe41" d="M2230.5 2152.0h20.83v20.83h-20.83z"/><path fill="#ffbd42" d="M2270.8 2080.7h20.83v20.83h-20.83z"/><path fill="#ffc03f" d="M2151.1 2266.7h20.83v20.83h-20.83z"/><path fill="#ffcb34" d="M2281.3 2104.3h20.83v20.83h-20.83z"/><path fill="#ffc738" d="M2552.7 1713.8h20.83v20.83h-20.83z"/><path fill="#ff807f" d="M2207.4 2213.9h20.83v20.83h-20.83z"/><path fill="#ffc33c" d="M2575.6 1682.2h20.83v20.83h-20.83z"/><path fill="#ffc837" d="M2344.8 1986.3h20.83v20.83h-20.83z"/><path fill="#ff31ce" d="M2037.5 2423.4h20.83v20.83h-20.83z"/><path fill="#ffbf40" d="M2616.8 1616.4h20.83v20.83h-20.83z"/><path fill="#ffc936" d="M2454.7 1844.7h20.83v20.83h-20.83z"/><path fill="#ff4cb3" d="M2065.9 2390.3h20.83v20.83h-20.83z"/><path fill="#ffc53a" d="M2212.0 2195.7h20.83v20.83h-20.83z"/><path fill="#ff48b7" d="M2045.5 2404.1h20.83v20.83h-20.83z"/><path fill="#ff39c6" d="M1939.2 2551.0h20.83v20.83h-20.83z"/><path fill="#ffc639" d="M2490.9 1793.8h20.83v20.83h-20.83z"/><path fill="#ffc53a" d="M2504.3 1788.9h20.83v20.83h-20.83z"/><path fill="#ffc837" d="M2198.1 2207.6h20.83v20.83h-20.83z"/><path fill="#ff8b74" d="M2539.6 1753.8h20.83v20.83h-20.83z"/><path fill="#ffcc33" d="M2618.7 1595.3h20.83v20.83h-20.83z"/><path fill="#fff40b" d="M2220.7 2177.0h20.83v20.83h-20.83z"/><path fill="#ffc33c" d="M2604.4 1613.1h20.83v20.83h-20.83z"/><path fill="#ffbd42" d="M2319.5 2015.4h20.83v20.83h-20.83z"/><path fill="#ff5da2" d="M1963.4 2489.0h20.83v20.83h-20.83z"/><path fill="#ffc837" d="M2243.6 2124.3h20.83v20.83h-20.83z"/><path fill="#ff58a7" d="M1969.7 2498.0h20.83v20.83h-20.83z"/><path fill="#ffe01f" d="M2409.8 1876.1h20.83v20.83h-20.83z"/><path fill="#ffc837" d="M2294.0 2110.9h20.83v20.83h-20.83z"/><path fill="#fff10e" d="M2169.5 2233.3h20.83v20.83h-20.83z"/><path fill="#ffbf40" d="M2363.7 1982.4h20.83v20.83h-20.83z"/><path fill="#ffd827" d="M2401.6 1936.7h20.83v20.83h-20.83z"/><path fill="#ffe51a" d="M2136.0 2271.7h20.83v20.83h-20.83z"/><path fill="#ffc738" d="M2246.8 2155.0h20.83v20.83h-20.83z"/><path fill="#ffc03f" d="M2263.6 2105.7h20.83v20.83h-20.83z"/><path fill="#ff9c63" d="M2197.8 2224.1h20.83v20.83h-20.83z"/><path fill="#ffc936" d="M2412.4 1888.7h20.83v20.83h-20.83z"/><path fill="#ffc13e" d="M2460.2 1854.4h20.83v20.83h-20.83z"/><path fill="#ffc03f" d="M2103.9 2333.7h20.83v20.83h-20.83z"/><path fill="#ffbf40" d="M2337.5 1994.9h20.83v20.83h-20.83z"/><path fill="#ffc53a" d="M2586.2 1656.5h20.83v20.83h-20.83z"/><path fill="#ffc03f" d="M2374.8 1989.5h20.83v20.83h-20.83z"/><path fill="#ffc33c" d="M2407.6 1907.7h20.83v20.83h-20.83z"/><path fill="#ffc03f" d="M2625.3 1600.1h20.83v20.83h-20.83z"/><path fill="#ffbe41" d="M2597.0 1639.5h20.83v20.83h-20.83z"/><path fill="#ff23dc" d="M2056.9 2388.9h20.83v20.83h-20.83z"/><path fill="#ffc23d" d="M2096.1 2347.9h20.83v20.83h-20.83z"/><path fill="#ffbd42" d="M2221.8 2162.0h20.83v20.83h-20.83z"/><path fill="#ff33cc" d="M1988.9 2486.1h20.83v20.83h-20.83z"/><path fill="#ff926d" d="M1993.9 2446.5h20.83v20.83h-20.83z"/><path fill="#ffbe41" d="M2497.6 1800.2h20.83v20.83h-20.83z"/><path fill="#ff29d6" d="M2003.2 2431.7h20.83v20.83h-20.83z"/><path fill="#ffc23d" d="M2251.3 2139.8h20.83v20.83h-20.83z"/><path fill="#ffc03f" d="M2417.5 1879.5h20.83v20.83h-20.83z"/><path fill="#ffbe41" d="M2386.0 1905.5h20.83v20.83h-20.83z"/><path fill="#fff50a" d="M2503.8 1786.7h20.83v20.83h-20.83z"/><path fill="#ffcb34" d="M2611.8 1621.5h20.83v20.83h-20.83z"/><path fill="#ff748b" d="M2388.9 1942.7h20.83v20.83h-20.83z"/><path fill="#ffc738" d="M2512.1 1743.2h20.83v20.83h-20.83z"/><path fill="#ff39c6" d="M1896.3 2605.7h20.83v20.83h-20.83z"/><path fill="#ffc53a" d="M2379.1 1950.0h20.83v20.83h-20.83z"/><path fill="#ffbe41" d="M2131.6 2260.0h20.83v20.83h-20.83z"/><path fill="#ffcc33" d="M2568.9 1655.0h20.83v20.83h-20.83z"/><path fill="#ffde21" d="M2565.0 1697.8h20.83v20.83h-20.83z"/><path fill="#ffbe41" d="M2431.9 1899.4h20.83v20.83h-20.83z"/><path fill="#ffca35" d="M2305.9 2035.8h20.83v20.83h-20.83z"/><path fill="#ff9966" d="M2277.5 2068.2h20.83v20.83h-20.83z"/><path fill="#ffc639" d="M2456.1 1864.4h20.83v20.83h-20.83z"/><path fill="#ff2cd3" d="M1914.0 2568.4h20.83v20.83h-20.83z"/><path fill="#ffc43b" d="M2110.5 2327.4h20.83v20.83h-20.83z"/><path fill="#ffc53a" d="M2121.8 2287.4h20.83v20.83h-20.83z"/><path fill="#ffcb34" d="M2501.1 1775.4h20.83v20.83h-20.83z"/><path fill="#ff16e9" d="M2041.7 2395.2h20.83v20.83h-20.83z"/><path fill="#ffc837" d="M2098.8 2298.5h20.83v20.83h-20.83z"/><path fill="#ffc23d" d="M2495.0 1813.6h20.83v20.83h-20.83z"/><path fill="#ff7986" d="M2228.4 2128.3h20.83v20.83h-20.83z"/><path fill="#ffc837" d="M2105.0 2311.5h20.83v20.83h-20.83z"/><path fill="#ffc738" d="M2415.2 1895.9h20.83v20.83h-20.83z"/><path fill="#ffc43b" d="M2623.3 1601.7h20.83v20.83h-20.83z"/><path fill="#ffec13" d="M2261.8 2074.5h20.83v20.83h-20.83z"/><path fill="#ffcb34" d="M2254.2 2109.7h20.83v20.83h-20.83z"/><path fill="#ff9d62" d="M2453.0 1869.6h20.83v20.83h-20.83z"/><path fill="#ffc23d" d="M2523.7 1767.3h20.83v20.83h-20.83z"/><path fill="#ff7d82" d="M2186.9 2218.2h20.83v20.83h-20.83z"/><path fill="#ffc936" d="M2086.0 2319.2h20.83v20.83h-20.83z"/><path fill="#ffc837" d="M2240.5 2144.3h20.83v20.83h-20.83zM2310.8 2063.4h20.83v20.83h-20.83z"/><path fill="#ff44bb" d="M2018.1 2448.4h20.83v20.83h-20.83z"/><path fill="#fff40b" d="M2209.6 2178.3h20.83v20.83h-20.83z"/><path fill="#ff619e" d="M1861.3 2637.7h20.83v20.83h-20.83z"/><path fill="#ffc43b" d="M2224.9 2188.2h20.83v20.83h-20.83z"/><path fill="#ff847b" d="M2477.4 1821.7h20.83v20.83h-20.83z"/><path fill="#ffc23d" d="M2465.7 1793.9h20.83v20.83h-20.83z"/><path fill="#ff8d72" d="M2543.3 1741.6h20.83v20.83h-20.83z"/><path fill="#ffc53a" d="M2239.6 2143.1h20.83v20.83h-20.83z"/><path fill="#ffea15" d="M2566.0 1694.9h20.83v20.83h-20.83z"/><path fill="#ffcc33" d="M2627.0 1592.3h20.83v20.83h-20.83z"/><path fill="#ffea15" d="M2137.5 2250.2h20.83v20.83h-20.83z"/><path fill="#ff8679" d="M2341.5 1966.4h20.83v20.83h-20.83z"/><path fill="#ffbf40" d="M2171.5 2240.3h20.83v20.83h-20.83z"/><path fill="#ff9966" d="M2178.6 2196.0h20.83v20.83h-20.83z"/><path fill="#ffc936" d="M2580.0 1648.2h20.83v20.83h-20.83z"/><path fill="#ffed12" d="M2518.2 1727.4h20.83v20.83h-20.83z"/><path fill="#ffc837" d="M2514.0 1798.6h20.83v20.83h-20.83z"/><path fill="#ff59a6" d="M2053.4 2372.8h20.83v20.83h-20.83z"/><path fill="#ffed12" d="M2336.0 1973.9h20.83v20.83h-20.83z"/><path fill="#ff758a" d="M2208.8 2149.3h20.83v20.83h-20.83z"/><path fill="#ffbd42" d="M2269.5 2117.0h20.83v20.83h-20.83z"/><path fill="#ff837c" d="M2449.2 1879.2h20.83v20.83h-20.83z"/><path fill="#ffc23d" d="M2305.3 2015.6h20.83v20.83h-20.83z"/><path fill="#ff7986" d="M2115.7 2306.9h20.83v20.83h-20.83z"/><path fill="#ff5aa5" d="M1972.1 2475.9h20.83v20.83h-20.83z"/><path fill="#ffd827" d="M2428.9 1890.3h20.83v20.83h-20.83z"/><path fill="#ffc639" d="M2257.8 2123.6h20.83v20.83h-20.83z"/><path fill="#ffc43b" d="M2596.5 1642.3h20.83v20.83h-20.83z"/><path fill="#ffc13e" d="M2183.0 2223.4h20.83v20.83h-20.83z"/><path fill="#ffbf40" d="M2479.2 1816.5h20.83v20.83h-20.83z"/><path fill="#ffbe41" d="M2105.4 2307.7h20.83v20.83h-20.83z"/><path fill="#ff649b" d="M2020.0 2439.3h20.83v20.83h-20.83z"/><path fill="#ffc33c" d="M2410.8 1919.6h20.83v20.83h-20.83z"/><path fill="#ffc03f" d="M2452.1 1864.1h20.83v20.83h-20.83z"/><path fill="#ffe11e" d="M2092.9 2310.0h20.83v20.83h-20.83z"/><path fill="#ffc13e" d="M2250.5 2108.1h20.83v20.83h-20.83z"/><path fill="#ff748b" d="M2063.7 2396.4h20.83v20.83h-20.83z"/><path fill="#ffc33c" d="M2286.4 2055.7h20.83v20.83h-20.83z"/><path fill="#ffc03f" d="M2513.9 1761.4h20.83v20.83h-20.83z"/><path fill="#ff7d82" d="M2309.5 2008.6h20.83v20.83h-20.83z"/><path fill="#ffc33c" d="M2329.9 2021.8h20.83v20.83h-20.83z"/><path fill="#fff10e" d="M2114.4 2318.8h20.83v20.83h-20.83z"/><path fill="#ffe21d" d="M2510.0 1795.0h20.83v20.83h-20.83z"/><path fill="#ffc738" d="M2442.1 1880.4h20.83v20.83h-20.83z"/><path fill="#ffc53a" d="M2552.3 1703.0h20.83v20.83h-20.83z"/><path fill="#ff47b8" d="M2040.7 2377.4h20.83v20.83h-20.83z"/><path fill="#ffc639" d="M2428.8 1893.5h20.83v20.83h-20.83z"/><path fill="#ffc43b" d="M2278.3 2054.3h20.83v20.83h-20.83z"/><path fill="#ff748b" d="M2556.1 1689.0h20.83v20.83h-20.83z"/><path fill="#fff00f" d="M2171.8 2273.1h20.83v20.83h-20.83z"/><path fill="#ff9d62" d="M2161.5 2211.1h20.83v20.83h-20.83z"/><path fill="#ffbe41" d="M2104.9 2291.6h20.83v20.83h-20.83z"/><path fill="#ff29d6" d="M2088.0 2371.9h20.83v20.83h-20.83z"/><path fill="#ff7e81" d="M2324.9 2019.9h20.83v20.83h-20.83z"/><path fill="#ffc33c" d="M2297.4 2087.0h20.83v20.83h-20.83z"/><path fill="#ff7689" d="M1924.1 2565.6h20.83v20.83h-20.83z"/><path fill="#ff6699" d="M1907.2 2591.2h20.83v20.83h-20.83z"/><path fill="#ffc13e" d="M2574.6 1673.7h20.83v20.83h-20.83z"/><path fill="#ffc53a" d="M2367.1 1994.9h20.83v20.83h-20.83z"/><path fill="#ffc03f" d="M2306.4 2052.6h20.83v20.83h-20.83z"/><path fill="#ff2cd3" d="M1926.7 2557.4h20.83v20.83h-20.83z"/><path fill="#ff956a" d="M2089.3 2379.8h20.83v20.83h-20.83z"/><path fill="#ff9768" d="M2382.6 1931.8h20.83v20.83h-20.83z"/><path fill="#ffc639" d="M2441.4 1841.4h20.83v20.83h-20.83z"/><path fill="#ffca35" d="M2512.2 1749.5h20.83v20.83h-20.83z"/><path fill="#ffbf40" d="M2088.0 2332.1h20.83v20.83h-20.83z"/><path fill="#ffc639" d="M2301.5 2098.2h20.83v20.83h-20.83z"/><path fill="#ffbe41" d="M2500.7 1804.5h20.83v20.83h-20.83z"/><path fill="#ffc837" d="M2179.7 2200.0h20.83v20.83h-20.83z"/><path fill="#ffc53a" d="M2495.6 1793.0h20.83v20.83h-20.83z"/><path fill="#ffbe41" d="M2536.0 1719.1h20.83v20.83h-20.83zM2219.4 2146.6h20.83v20.83h-20.83z"/><path fill="#ffc43b" d="M2155.3 2261.8h20.83v20.83h-20.83z"/><path fill="#ff56a9" d="M1980.9 2469.6h20.83v20.83h-20.83z"/><path fill="#ff14eb" d="M2012.0 2441.9h20.83v20.83h-20.83z"/><path fill="#ffc33c" d="M2175.2 2225.9h20.83v20.83h-20.83z"/><path fill="#ff8d72" d="M2508.4 1741.0h20.83v20.83h-20.83z"/><path fill="#ff4ab5" d="M1918.2 2549.1h20.83v20.83h-20.83z"/><path fill="#ff7887" d="M1949.4 2521.2h20.83v20.83h-20.83z"/><path fill="#ffc936" d="M2354.1 1959.3h20.83v20.83h-20.83z"/><path fill="#ff827d" d="M2370.9 1969.4h20.83v20.83h-20.83z"/><path fill="#ff3ec1" d="M1946.8 2516.0h20.83v20.83h-20.83z"/><path fill="#ffc23d" d="M2427.2 1855.3h20.83v20.83h-20.83zM2525.4 1751.8h20.83v20.83h-20.83z"/><path fill="#ff956a" d="M2029.6 2431.9h20.83v20.83h-20.83z"/><path fill="#ffc33c" d="M2518.4 1765.6h20.83v20.83h-20.83z"/><path fill="#ffc13e" d="M2418.7 1898.4h20.83v20.83h-20.83z"/><path fill="#ff8976" d="M2432.4 1853.6h20.83v20.83h-20.83z"/><path fill="#ffc837" d="M2188.8 2215.0h20.83v20.83h-20.83z"/><path fill="#ffcb34" d="M2121.8 2313.9h20.83v20.83h-20.83z"/><path fill="#ffe619" d="M2234.7 2141.8h20.83v20.83h-20.83z"/><path fill="#ff7f80" d="M2549.8 1694.1h20.83v20.83h-20.83z"/><path fill="#ffc53a" d="M2444.2 1849.8h20.83v20.83h-20.83z"/><path fill="#ffc13e" d="M2176.0 2266.3h20.83v20.83h-20.83z"/><path fill="#ffc53a" d="M2347.8 1978.1h20.83v20.83h-20.83z"/><path fill="#ffc738" d="M2073.8 2338.4h20.83v20.83h-20.83z"/><path fill="#ff52ad" d="M1897.1 2585.6h20.83v20.83h-20.83z"/><path fill="#ffc13e" d="M2188.4 2181.7h20.83v20.83h-20.83z"/><path fill="#ff837c" d="M2225.3 2162.1h20.83v20.83h-20.83z"/><path fill="#ffc53a" d="M2162.2 2270.0h20.83v20.83h-20.83z"/><path fill="#ffee11" d="M2364.0 1986.0h20.83v20.83h-20.83z"/><path fill="#ffc23d" d="M2089.3 2309.9h20.83v20.83h-20.83z"/><path fill="#ff39c6" d="M2059.5 2359.5h20.83v20.83h-20.83z"/><path fill="#ff23dc" d="M2059.3 2364.6h20.83v20.83h-20.83z"/><path fill="#ff9867" d="M1945.3 2529.1h20.83v20.83h-20.83z"/><path fill="#ff916e" d="M2242.9 2162.3h20.83v20.83h-20.83z"/><path fill="#ffcb34" d="M2402.0 1911.5h20.83v20.83h-20.83z"/><path fill="#ff9867" d="M2490.5 1813.8h20.83v20.83h-20.83z"/><path fill="#ffc13e" d="M2210.8 2204.3h20.83v20.83h-20.83z"/><path fill="#ff19e6" d="M2000.5 2479.3h20.83v20.83h-20.83z"/><path fill="#ffca35" d="M2238.6 2170.1h20.83v20.83h-20.83z"/><path fill="#ff807f" d="M2305.6 2013.0h20.83v20.83h-20.83z"/><path fill="#ff8679" d="M2329.4 1987.1h20.83v20.83h-20.83z"/><path fill="#ff7986" d="M2287.7 2048.9h20.83v20.83h-20.83z"/><path fill="#ffbf40" d="M2183.6 2211.8h20.83v20.83h-20.83z"/><path fill="#ffbe41" d="M2177.3 2246.9h20.83v20.83h-20.83z"/><path fill="#ffeb14" d="M2312.9 2063.0h20.83v20.83h-20.83z"/><path fill="#ffd728" d="M2502.2 1758.0h20.83v20.83h-20.83z"/><path fill="#ffc33c" d="M2175.8 2232.1h20.83v20.83h-20.83z"/><path fill="#ffdf20" d="M2250.6 2107.8h20.83v20.83h-20.83z"/><path fill="#ff9b64" d="M2471.1 1825.3h20.83v20.83h-20.83z"/><path fill="#ff9c63" d="M2068.9 2347.3h20.83v20.83h-20.83z"/><path fill="#fff00f" d="M2104.0 2333.6h20.83v20.83h-20.83z"/><path fill="#ffe817" d="M2203.6 2184.9h20.83v20.83h-20.83z"/><path fill="#ffc639" d="M2441.6 1831.6h20.83v20.83h-20.83z"/><path fill="#ff15ea" d="M1897.1 2604.8h20.83v20.83h-20.83z"/><path fill="#ffef10" d="M2307.0 2055.0h20.83v20.83h-20.83z"/><path fill="#ff9768" d="M2552.4 1696.9h20.83v20.83h-20.83z"/><path fill="#ffc43b" d="M2059.1 2359.8h20.83v20.83h-20.83z"/><path fill="#ffcb34" d="M2572.3 1679.4h20.83v20.83h-20.83z"/><path fill="#ff817e" d="M2298.0 2043.8h20.83v20.83h-20.83z"/><path fill="#ff17e8" d="M2060.2 2385.0h20.83v20.83h-20.83z"/><path fill="#ff11ee" d="M2071.6 2353.6h20.83v20.83h-20.83z"/><path fill="#ffc33c" d="M2259.7 2135.5h20.83v20.83h-20.83z"/><path fill="#ff9b64" d="M2355.4 1991.4h20.83v20.83h-20.83z"/><path fill="#ff1fe0" d="M1884.8 2589.8h20.83v20.83h-20.83z"/><path fill="#ff758a" d="M1869.3 2637.4h20.83v20.83h-20.83z"/><path fill="#ffc33c" d="M2169.1 2265.8h20.83v20.83h-20.83z"/><path fill="#ffe21d" d="M2192.9 2232.8h20.83v20.83h-20.83z"/><path fill="#ff2ad5" d="M1925.2 2543.3h20.83v20.83h-20.83z"/><path fill="#ffca35" d="M2521.9 1734.1h20.83v20.83h-20.83z"/><path fill="#ffc639" d="M2117.9 2278.5h20.83v20.83h-20.83z"/><path fill="#ffbf40" d="M2563.8 1683.8h20.83v20.83h-20.83z"/><path fill="#ffc23d" d="M2411.7 1899.0h20.83v20.83h-20.83z"/><path fill="#ffc03f" d="M2525.6 1740.1h20.83v20.83h-20.83z"/><path fill="#ffca35" d="M2119.6 2289.6h20.83v20.83h-20.83z"/><path fill="#fff609" d="M2094.1 2347.2h20.83v20.83h-20.83z"/><path fill="#ffe01f" d="M2534.9 1747.6h20.83v20.83h-20.83z"/><path fill="#ffbd42" d="M2456.4 1817.2h20.83v20.83h-20.83z"/><path fill="#ffbf40" d="M2533.8 1758.5h20.83v20.83h-20.83z"/><path fill="#ffc03f" d="M2497.1 1768.2h20.83v20.83h-20.83z"/><path fill="#ff8e71" d="M2346.9 2007.3h20.83v20.83h-20.83z"/><path fill="#ffc639" d="M2220.5 2151.5h20.83v20.83h-20.83z"/><path fill="#ffc23d" d="M2266.9 2133.3h20.83v20.83h-20.83z"/><path fill="#ffbd42" d="M2448.0 1833.0h20.83v20.83h-20.83z"/><path fill="#ffc33c" d="M2503.3 1799.5h20.83v20.83h-20.83z"/><path fill="#ffc936" d="M2436.8 1890.0h20.83v20.83h-20.83z"/><path fill="#ff11ee" d="M1908.4 2576.0h20.83v20.83h-20.83z"/><path fill="#ffc738" d="M2554.7 1696.8h20.83v20.83h-20.83z"/><path fill="#ff5ba4" d="M2017.9 2450.8h20.83v20.83h-20.83z"/><path fill="#ffca35" d="M2179.0 2223.6h20.83v20.83h-20.83z"/><path fill="#ffcb34" d="M2222.5 2165.6h20.83v20.83h-20.83z"/><path fill="#ffc43b" d="M2558.0 1706.7h20.83v20.83h-20.83z"/><path fill="#ffbe41" d="M2574.1 1671.3h20.83v20.83h-20.83z"/><path fill="#ffc03f" d="M2471.6 1823.5h20.83v20.83h-20.83z"/><path fill="#ffc936" d="M2281.3 2080.1h20.83v20.83h-20.83z"/><path fill="#ffcc33" d="M2232.9 2155.0h20.83v20.83h-20.83z"/><path fill="#ffc33c" d="M2293.2 2090.6h20.83v20.83h-20.83z"/><path fill="#ffca35" d="M2317.1 2010.5h20.83v20.83h-20.83z"/><path fill="#ffc837" d="M2359.7 1994.2h20.83v20.83h-20.83z"/><path fill="#ff3ac5" d="M2046.9 2407.1h20.83v20.83h-20.83z"/><path fill="#ff7887" d="M2457.0 1824.0h20.83v20.83h-20.83z"/><path fill="#ffc23d" d="M2260.3 2119.0h20.83v20.83h-20.83z"/><path fill="#ff9966" d="M2478.4 1778.2h20.83v20.83h-20.83z"/><path fill="#ff9e61" d="M2289.6 2065.8h20.83v20.83h-20.83z"/><path fill="#ffe718" d="M2132.2 2254.5h20.83v20.83h-20.83z"/><path fill="#ffc43b" d="M2541.7 1707.1h20.83v20.83h-20.83z"/><path fill="#ffbe41" d="M2280.5 2047.0h20.83v20.83h-20.83zM2255.7 2136.3h20.83v20.83h-20.83z"/><path fill="#ffc936" d="M2379.0 1936.5h20.83v20.83h-20.83z"/><path fill="#ffdc23" d="M2395.4 1931.8h20.83v20.83h-20.83z"/><path fill="#ffe21d" d="M2573.0 1687.9h20.83v20.83h-20.83z"/><path fill="#ffc639" d="M2311.2 2021.9h20.83v20.83h-20.83z"/><path fill="#ffc33c" d="M2351.4 1967.5h20.83v20.83h-20.83z"/><path fill="#ff25da" d="M1958.8 2505.4h20.83v20.83h-20.83z"/><path fill="#ff2bd4" d="M1882.0 2619.1h20.83v20.83h-20.83z"/><path fill="#ffc53a" d="M2516.9 1745.7h20.83v20.83h-20.83z"/><path fill="#ffc33c" d="M2078.9 2338.0h20.83v20.83h-20.83z"/><path fill="#ffc639" d="M2222.1 2169.3h20.83v20.83h-20.83z"/><path fill="#ffc837" d="M2182.3 2244.0h20.83v20.83h-20.83z"/><path fill="#ff2dd2" d="M2024.9 2422.2h20.83v20.83h-20.83z"/><path fill="#ffca35" d="M2281.5 2077.3h20.83v20.83h-20.83z"/><path fill="#ffc936" d="M2168.1 2274.4h20.83v20.83h-20.83z"/><path fill="#ffbe41" d="M2417.7 1877.9h20.83v20.83h-20.83z"/><path fill="#ffcb34" d="M2219.7 2175.8h20.83v20.83h-20.83z"/><path fill="#ffc53a" d="M2495.4 1782.0h20.83v20.83h-20.83z"/><path fill="#ffbe41" d="M2508.5 1775.3h20.83v20.83h-20.83z"/><path fill="#ffc738" d="M2500.1 1797.8h20.83v20.83h-20.83z"/><path fill="#ffbd42" d="M2442.6 1877.1h20.83v20.83h-20.83zM2311.9 2067.8h20.83v20.83h-20.83z"/><path fill="#ffc13e" d="M2381.0 1938.3h20.83v20.83h-20.83z"/><path fill="#ffc738" d="M2304.1 2050.0h20.83v20.83h-20.83zM2176.2 2250.4h20.83v20.83h-20.83z"/><path fill="#ff30cf" d="M1989.4 2487.8h20.83v20.83h-20.83z"/><path fill="#ff8679" d="M2507.1 1799.3h20.83v20.83h-20.83z"/><path fill="#ffc03f" d="M2374.8 1939.3h20.83v20.83h-20.83z"/><path fill="#ffca35" d="M2449.8 1875.9h20.83v20.83h-20.83z"/><path fill="#ff817e" d="M2365.4 1979.4h20.83v20.83h-20.83z"/><path fill="#ff16e9" d="M2050.0 2394.4h20.83v20.83h-20.83z"/><path fill="#ffbe41" d="M2282.3 2066.7h20.83v20.83h-20.83z"/><path fill="#ffc33c" d="M2130.6 2307.2h20.83v20.83h-20.83z"/><path fill="#ffc13e" d="M2555.7 1691.3h20.83v20.83h-20.83z"/><path fill="#ffc639" d="M2423.4 1861.8h20.83v20.83h-20.83z"/><path fill="#ff6798" d="M2024.8 2403.8h20.83v20.83h-20.83z"/><path fill="#ffde21" d="M2231.0 2160.5h20.83v20.83h-20.83z"/><path fill="#ffc53a" d="M2476.3 1805.6h20.83v20.83h-20.83z"/><path fill="#ffc837" d="M2290.2 2096.9h20.83v20.83h-20.83z"/><path fill="#ffda25" d="M2411.2 1916.9h20.83v20.83h-20.83z"/><path fill="#ffbe41" d="M2500.4 1753.1h20.83v20.83h-20.83z"/><path fill="#ff4ab5" d="M2053.5 2376.0h20.83v20.83h-20.83z"/><path fill="#ffca35" d="M2497.8 1788.0h20.83v20.83h-20.83z"/><path fill="#ffc639" d="M2343.0 2002.0h20.83v20.83h-20.83z"/><path fill="#ffc738" d="M2277.5 2106.4h20.83v20.83h-20.83z"/><path fill="#ff23dc" d="M2026.9 2440.4h20.83v20.83h-20.83z"/><path fill="#fff708" d="M2280.7 2118.7h20.83v20.83h-20.83z"/><path fill="#ffca35" d="M2291.0 2076.4h20.83v20.83h-20.83z"/><path fill="#ffc639" d="M2211.0 2168.8h20.83v20.83h-20.83z"/><path fill="#ffc936" d="M2512.2 1732.4h20.83v20.83h-20.83z"/><path fill="#ffc837" d="M2250.2 2121.3h20.83v20.83h-20.83z"/><path fill="#ffea15" d="M2538.5 1714.6h20.83v20.83h-20.83z"/><path fill="#ffc43b" d="M2607.5 1618.3h20.83v20.83h-20.83z"/><path fill="#ff38c7" d="M1890.2 2611.3h20.83v20.83h-20.83z"/><path fill="#ffda25" d="M2143.4 2257.4h20.83v20.83h-20.83z"/><path fill="#ffc837" d="M2090.6 2329.0h20.83v20.83h-20.83z"/><path fill="#ffc738" d="M2294.0 2063.2h20.83v20.83h-20.83z"/><path fill="#ffc53a" d="M2205.5 2206.9h20.83v20.83h-20.83z"/><path fill="#ffc23d" d="M2183.7 2216.3h20.83v20.83h-20.83z"/><path fill="#ffbf40" d="M2087.7 2328.3h20.83v20.83h-20.83z"/><path fill="#ffe817" d="M2348.8 1983.9h20.83v20.83h-20.83z"/><path fill="#ffcb34" d="M2293.3 2106.0h20.83v20.83h-20.83z"/><path fill="#ffc23d" d="M2381.0 1921.3h20.83v20.83h-20.83z"/><path fill="#ff2fd0" d="M1872.4 2629.9h20.83v20.83h-20.83z"/><path fill="#ff1ee1" d="M1996.9 2457.7h20.83v20.83h-20.83z"/><path fill="#ffc639" d="M2360.6 1963.5h20.83v20.83h-20.83z"/><path fill="#ffc33c" d="M2489.1 1821.3h20.83v20.83h-20.83z"/><path fill="#ffc43b" d="M2128.9 2278.6h20.83v20.83h-20.83z"/><path fill="#ffbd42" d="M2590.4 1632.0h20.83v20.83h-20.83z"/><path fill="#ffef10" d="M2393.6 1943.4h20.83v20.83h-20.83z"/><path fill="#ff19e6" d="M1927.7 2560.2h20.83v20.83h-20.83z"/><path fill="#ffbe41" d="M2268.3 2111.0h20.83v20.83h-20.83z"/><path fill="#ffbd42" d="M2174.2 2246.8h20.83v20.83h-20.83z"/><path fill="#ffd728" d="M2287.7 2113.1h20.83v20.83h-20.83z"/><path fill="#ffbf40" d="M2466.9 1834.3h20.83v20.83h-20.83z"/><path fill="#fff50a" d="M2298.9 2105.6h20.83v20.83h-20.83z"/><path fill="#ffbf40" d="M2319.9 2027.4h20.83v20.83h-20.83zM2462.1 1847.2h20.83v20.83h-20.83z"/><path fill="#ffc33c" d="M2312.5 2030.2h20.83v20.83h-20.83z"/><path fill="#ffc837" d="M2126.7 2304.9h20.83v20.83h-20.83z"/><path fill="#ffc13e" d="M2377.8 1959.3h20.83v20.83h-20.83z"/><path fill="#fff30c" d="M2146.5 2290.6h20.83v20.83h-20.83z"/><path fill="#ffbf40" d="M2543.1 1731.3h20.83v20.83h-20.83z"/><path fill="#ffc837" d="M2191.4 2198.6h20.83v20.83h-20.83z"/><path fill="#ff26d9" d="M1954.9 2530.8h20.83v20.83h-20.83z"/><path fill="#ffbe41" d="M2269.9 2090.5h20.83v20.83h-20.83z"/><path fill="#ffc837" d="M2208.0 2195.5h20.83v20.83h-20.83z"/><path fill="#ffc13e" d="M2141.1 2238.3h20.83v20.83h-20.83z"/><path fill="#ffc936" d="M2195.8 2195.6h20.83v20.83h-20.83z"/><path fill="#ff45ba" d="M1950.6 2542.5h20.83v20.83h-20.83z"/><path fill="#ff926d" d="M2230.4 2181.7h20.83v20.83h-20.83z"/><path fill="#ffc43b" d="M2265.2 2102.6h20.83v20.83h-20.83z"/><path fill="#fff50a" d="M2519.1 1765.0h20.83v20.83h-20.83z"/><path fill="#ffc53a" d="M2451.8 1856.2h20.83v20.83h-20.83z"/><path fill="#ffc639" d="M2407.3 1888.9h20.83v20.83h-20.83z"/><path fill="#ffdc23" d="M2278.4 2096.9h20.83v20.83h-20.83z"/><path fill="#ffc43b" d="M2442.9 1869.5h20.83v20.83h-20.83z"/><path fill="#ffc33c" d="M2281.9 2127.8h20.83v20.83h-20.83z"/><path fill="#ff58a7" d="M1975.0 2498.0h20.83v20.83h-20.83z"/><path fill="#ff35ca" d="M2072.5 2371.3h20.83v20.83h-20.83zM1981.7 2467.6h20.83v20.83h-20.83z"/><path fill="#ff7788" d="M2207.5 2171.4h20.83v20.83h-20.83z"/><path fill="#ff2ad5" d="M2056.4 2375.1h20.83v20.83h-20.83z"/><path fill="#ffca35" d="M2340.9 2014.9h20.83v20.83h-20.83z"/><path fill="#ff50af" d="M1884.2 2609.6h20.83v20.83h-20.83z"/><path fill="#ff27d8" d="M1956.7 2495.6h20.83v20.83h-20.83z"/><path fill="#ffc03f" d="M2216.2 2179.4h20.83v20.83h-20.83z"/><path fill="#ffc639" d="M2417.4 1904.4h20.83v20.83h-20.83z"/><path fill="#ffef10" d="M2164.7 2275.1h20.83v20.83h-20.83z"/><path fill="#ff9867" d="M2309.0 2075.5h20.83v20.83h-20.83z"/><path fill="#ffc13e" d="M2095.6 2323.2h20.83v20.83h-20.83z"/><path fill="#ffc837" d="M2511.2 1779.3h20.83v20.83h-20.83z"/><path fill="#ffdf20" d="M2600.3 1620.4h20.83v20.83h-20.83z"/><path fill="#ff6798" d="M2084.9 2349.8h20.83v20.83h-20.83z"/><path fill="#ffc639" d="M2395.3 1918.9h20.83v20.83h-20.83z"/><path fill="#ffca35" d="M2303.7 2075.9h20.83v20.83h-20.83z"/><path fill="#ffdc23" d="M2161.5 2209.9h20.83v20.83h-20.83z"/><path fill="#ffcb34" d="M2372.1 1923.6h20.83v20.83h-20.83z"/><path fill="#ffc43b" d="M2086.4 2349.4h20.83v20.83h-20.83z"/><path fill="#ff8d72" d="M2545.5 1689.7h20.83v20.83h-20.83z"/><path fill="#ffcb34" d="M2412.2 1868.8h20.83v20.83h-20.83z"/><path fill="#ffc23d" d="M2421.8 1873.3h20.83v20.83h-20.83z"/><path fill="#ffc936" d="M2546.7 1716.8h20.83v20.83h-20.83z"/><path fill="#ffc837" d="M2471.8 1831.8h20.83v20.83h-20.83z"/><path fill="#ffc33c" d="M2540.3 1732.7h20.83v20.83h-20.83z"/><path fill="#ffc23d" d="M2178.3 2252.4h20.83v20.83h-20.83z"/><path fill="#ffc738" d="M2422.2 1867.3h20.83v20.83h-20.83z"/><path fill="#ffc33c" d="M2449.5 1840.7h20.83v20.83h-20.83z"/><path fill="#ffc03f" d="M2475.5 1826.6h20.83v20.83h-20.83z"/><path fill="#ff4eb1" d="M2036.0 2412.0h20.83v20.83h-20.83z"/><path fill="#ffc43b" d="M2277.9 2065.5h20.83v20.83h-20.83z"/><path fill="#ff17e8" d="M1911.3 2582.3h20.83v20.83h-20.83z"/><path fill="#ffc53a" d="M2596.4 1631.5h20.83v20.83h-20.83z"/><path fill="#ff9d62" d="M2395.5 1891.8h20.83v20.83h-20.83z"/><path fill="#ffc936" d="M2171.1 2206.7h20.83v20.83h-20.83z"/><path fill="#ffda25" d="M2511.1 1758.6h20.83v20.83h-20.83z"/><path fill="#ffc738" d="M2112.8 2277.4h20.83v20.83h-20.83z"/><path fill="#ffbf40" d="M2453.1 1837.1h20.83v20.83h-20.83z"/><path fill="#ffbd42" d="M2428.4 1863.8h20.83v20.83h-20.83z"/><path fill="#ff7e81" d="M1951.5 2532.8h20.83v20.83h-20.83z"/><path fill="#fff708" d="M2473.1 1820.8h20.83v20.83h-20.83z"/><path fill="#ff14eb" d="M1949.6 2523.2h20.83v20.83h-20.83z"/><path fill="#ffe718" d="M2561.5 1666.3h20.83v20.83h-20.83z"/><path fill="#ff7887" d="M2367.8 1932.2h20.83v20.83h-20.83z"/><path fill="#ff6798" d="M1881.3 2620.3h20.83v20.83h-20.83z"/><path fill="#ffc53a" d="M2091.5 2341.7h20.83v20.83h-20.83z"/><path fill="#ff9b64" d="M2191.5 2240.9h20.83v20.83h-20.83z"/><path fill="#ffc03f" d="M2146.9 2265.4h20.83v20.83h-20.83z"/><path fill="#ff6798" d="M1994.4 2458.8h20.83v20.83h-20.83z"/><path fill="#ffbd42" d="M2128.3 2282.0h20.83v20.83h-20.83z"/><path fill="#ffc03f" d="M2418.0 1919.6h20.83v20.83h-20.83z"/><path fill="#ff2fd0" d="M2021.1 2412.2h20.83v20.83h-20.83z"/><path fill="#ffca35" d="M2217.4 2192.3h20.83v20.83h-20.83z"/><path fill="#ffc23d" d="M2166.6 2205.9h20.83v20.83h-20.83z"/><path fill="#ffc13e" d="M2243.4 2128.1h20.83v20.83h-20.83z"/><path fill="#ffc23d" d="M2141.1 2237.2h20.83v20.83h-20.83z"/><path fill="#ff25da" d="M1962.2 2512.0h20.83v20.83h-20.83z"/><path fill="#ffc837" d="M2186.3 2244.7h20.83v20.83h-20.83z"/><path fill="#ff57a8" d="M1941.3 2542.6h20.83v20.83h-20.83z"/><path fill="#ff847b" d="M2474.2 1812.7h20.83v20.83h-20.83z"/><path fill="#ff38c7" d="M2028.3 2430.0h20.83v20.83h-20.83z"/><path fill="#ffc03f" d="M2521.0 1723.0h20.83v20.83h-20.83z"/><path fill="#ffc639" d="M2370.6 1981.2h20.83v20.83h-20.83z"/><path fill="#ffc13e" d="M2184.9 2230.6h20.83v20.83h-20.83z"/><path fill="#ffe718" d="M2183.5 2219.4h20.83v20.83h-20.83z"/><path fill="#ffc23d" d="M2164.0 2211.5h20.83v20.83h-20.83z"/><path fill="#ffcb34" d="M2482.0 1814.0h20.83v20.83h-20.83z"/><path fill="#ff609f" d="M1965.2 2523.1h20.83v20.83h-20.83z"/><path fill="#ff38c7" d="M2032.5 2426.2h20.83v20.83h-20.83z"/><path fill="#ff956a" d="M2345.8 1977.3h20.83v20.83h-20.83z"/><path fill="#ffc639" d="M2272.2 2086.7h20.83v20.83h-20.83z"/><path fill="#ff8778" d="M2368.8 1965.6h20.83v20.83h-20.83z"/><path fill="#ffda25" d="M2138.8 2286.7h20.83v20.83h-20.83z"/><path fill="#ff0ff0" d="M2043.6 2415.5h20.83v20.83h-20.83z"/><path fill="#ff27d8" d="M1994.7 2476.0h20.83v20.83h-20.83z"/><path fill="#ffc936" d="M2220.4 2138.2h20.83v20.83h-20.83zM2231.6 2134.4h20.83v20.83h-20.83z"/><path fill="#ffc738" d="M2292.6 2040.8h20.83v20.83h-20.83z"/><path fill="#ffc43b" d="M2509.9 1786.6h20.83v20.83h-20.83z"/><path fill="#ff8778" d="M2339.2 2011.6h20.83v20.83h-20.83z"/><path fill="#ffbf40" d="M2253.0 2087.7h20.83v20.83h-20.83z"/><path fill="#ffc43b" d="M2612.0 1591.7h20.83v20.83h-20.83z"/><path fill="#ffc13e" d="M2071.7 2335.6h20.83v20.83h-20.83z"/><path fill="#ffbd42" d="M2186.7 2177.3h20.83v20.83h-20.83z"/><path fill="#ffc33c" d="M2140.2 2243.0h20.83v20.83h-20.83z"/><path fill="#ffca35" d="M2560.8 1661.5h20.83v20.83h-20.83z"/><path fill="#ffc639" d="M2137.2 2245.0h20.83v20.83h-20.83z"/><path fill="#ffc936" d="M2538.0 1694.4h20.83v20.83h-20.83z"/><path fill="#ffc53a" d="M2337.1 1970.1h20.83v20.83h-20.83z"/><path fill="#ffc13e" d="M2264.2 2070.3h20.83v20.83h-20.83z"/><path fill="#ffc43b" d="M2506.2 1737.9h20.83v20.83h-20.83z"/><path fill="#ffc738" d="M2575.6 1642.7h20.83v20.83h-20.83z"/><path fill="#ff619e" d="M1882.7 2598.6h20.83v20.83h-20.83z"/><path fill="#ffc738" d="M2217.1 2136.2h20.83v20.83h-20.83z"/><path fill="#ffbe41" d="M2380.5 1911.4h20.83v20.83h-20.83z"/><path fill="#ff837c" d="M1922.8 2540.7h20.83v20.83h-20.83z"/><path fill="#ffc13e" d="M2583.4 1632.1h20.83v20.83h-20.83z"/><path fill="#ffbf40" d="M2093.8 2305.1h20.83v20.83h-20.83z"/><path fill="#ff28d7" d="M1953.2 2502.3h20.83v20.83h-20.83z"/><path fill="#ffc03f" d="M2202.0 2155.3h20.83v20.83h-20.83z"/><path fill="#ff15ea" d="M2053.9 2363.7h20.83v20.83h-20.83z"/><path fill="#ffc03f" d="M2584.8 1629.0h20.83v20.83h-20.83z"/><path fill="#ffc23d" d="M2445.9 1819.6h20.83v20.83h-20.83z"/><path fill="#ffc33c" d="M2135.0 2250.2h20.83v20.83h-20.83z"/><path fill="#ffbe41" d="M2317.0 1997.9h20.83v20.83h-20.83z"/><path fill="#ffc837" d="M2531.9 1703.1h20.83v20.83h-20.83z"/><path fill="#ffbd42" d="M2601.3 1605.4h20.83v20.83h-20.83z"/><path fill="#ff5ea1" d="M2012.2 2421.1h20.83v20.83h-20.83z"/><path fill="#ffc936" d="M2341.2 1963.8h20.83v20.83h-20.83z"/><path fill="#ffc639" d="M2101.5 2294.7h20.83v20.83h-20.83z"/><path fill="#ffc936" d="M2542.1 1689.8h20.83v20.83h-20.83z"/><path fill="#ff5ea1" d="M1921.5 2548.2h20.83v20.83h-20.83z"/><path fill="#ffbf40" d="M2120.4 2268.5h20.83v20.83h-20.83z"/><path fill="#ffc13e" d="M2212.4 2141.0h20.83v20.83h-20.83z"/><path fill="#ffc738" d="M2312.3 2003.4h20.83v20.83h-20.83z"/><path fill="#ffc03f" d="M2182.1 2181.9h20.83v20.83h-20.83zM2374.1 1921.4h20.83v20.83h-20.83z"/><path fill="#ffc23d" d="M2363.0 1934.5h20.83v20.83h-20.83z"/><path fill="#ffc738" d="M2486.7 1765.8h20.83v20.83h-20.83z"/><path fill="#ffc03f" d="M2548.6 1680.7h20.83v20.83h-20.83z"/><path fill="#ffc43b" d="M2277.3 2051.2h20.83v20.83h-20.83z"/><path fill="#ffc13e" d="M2400.8 1884.6h20.83v20.83h-20.83z"/><path fill="#ffc03f" d="M2565.1 1656.6h20.83v20.83h-20.83z"/><path fill="#ffc53a" d="M2322.0 1992.9h20.83v20.83h-20.83z"/><path fill="#ffc43b" d="M2424.5 1850.2h20.83v20.83h-20.83z"/><path fill="#ff5ca3" d="M1890.6 2589.5h20.83v20.83h-20.83z"/><path fill="#ffc33c" d="M2178.1 2189.8h20.83v20.83h-20.83z"/><path fill="#ffc639" d="M2333.7 1975.4h20.83v20.83h-20.83z"/><path fill="#ffc13e" d="M2226.2 2122.0h20.83v20.83h-20.83z"/><path fill="#ffcb34" d="M2391.1 1897.8h20.83v20.83h-20.83z"/><path fill="#ffc13e" d="M2495.2 1751.6h20.83v20.83h-20.83z"/><path fill="#ffc33c" d="M2098.4 2297.9h20.83v20.83h-20.83z"/><path fill="#ffbe41" d="M2147.8 2231.5h20.83v20.83h-20.83z"/><path fill="#ffbd42" d="M2280.9 2047.2h20.83v20.83h-20.83z"/><path fill="#ff1ce3" d="M1965.3 2488.5h20.83v20.83h-20.83z"/><path fill="#ffcb34" d="M2397.2 1888.1h20.83v20.83h-20.83z"/><path fill="#ffc53a" d="M2081.7 2322.4h20.83v20.83h-20.83z"/><path fill="#ff37c8" d="M2021.9 2403.2h20.83v20.83h-20.83z"/><path fill="#ffcb34" d="M2224.3 2125.1h20.83v20.83h-20.83z"/><path fill="#ffc43b" d="M2474.6 1781.9h20.83v20.83h-20.83z"/><path fill="#ff41be" d="M1913.4 2557.0h20.83v20.83h-20.83z"/><path fill="#ffc13e" d="M2457.2 1806.2h20.83v20.83h-20.83z"/><path fill="#ffc738" d="M2572.0 1647.4h20.83v20.83h-20.83z"/><path fill="#ffcb34" d="M2161.6 2211.8h20.83v20.83h-20.83z"/><path fill="#ffbe41" d="M2199.8 2159.2h20.83v20.83h-20.83z"/><path fill="#ffcc33" d="M2482.8 1769.6h20.83v20.83h-20.83z"/><path fill="#ffc33c" d="M2330.5 1977.7h20.83v20.83h-20.83z"/><path fill="#ff41be" d="M2029.9 2392.7h20.83v20.83h-20.83z"/><path fill="#ffbe41" d="M2196.5 2163.4h20.83v20.83h-20.83z"/><path fill="#ffbf40" d="M2489.0 1761.6h20.83v20.83h-20.83z"/><path fill="#ffc13e" d="M2510.2 1732.4h20.83v20.83h-20.83z"/><path fill="#ffc23d" d="M2600.3 1609.4h20.83v20.83h-20.83z"/><path fill="#ffc837" d="M2462.5 1797.5h20.83v20.83h-20.83zM2596.4 1613.6h20.83v20.83h-20.83z"/><path fill="#ffcc33" d="M2220.5 2131.2h20.83v20.83h-20.83z"/><path fill="#ffc837" d="M2254.5 2082.3h20.83v20.83h-20.83z"/><path fill="#ffbd42" d="M2470.9 1785.2h20.83v20.83h-20.83z"/><path fill="#ffc03f" d="M2393.0 1892.1h20.83v20.83h-20.83z"/><path fill="#ffc33c" d="M2262.7 2073.8h20.83v20.83h-20.83z"/><path fill="#ffbf40" d="M2413.0 1864.1h20.83v20.83h-20.83z"/><path fill="#ffc639" d="M2207.6 2148.7h20.83v20.83h-20.83z"/><path fill="#ffc43b" d="M2068.3 2340.6h20.83v20.83h-20.83z"/><path fill="#ffc738" d="M2606.4 1599.8h20.83v20.83h-20.83z"/><path fill="#ffbf40" d="M2061.4 2349.6h20.83v20.83h-20.83z"/><path fill="#ffbe41" d="M2116.7 2273.5h20.83v20.83h-20.83z"/><path fill="#ffc23d" d="M2152.7 2224.0h20.83v20.83h-20.83z"/><path fill="#ff16e9" d="M1972.7 2476.1h20.83v20.83h-20.83z"/><path fill="#ffc53a" d="M2376.8 1915.2h20.83v20.83h-20.83z"/><path fill="#ffc33c" d="M2443.6 1823.9h20.83v20.83h-20.83z"/><path fill="#ff837c" d="M1935.7 2525.0h20.83v20.83h-20.83z"/><path fill="#ffc43b" d="M2143.5 2237.8h20.83v20.83h-20.83z"/><path fill="#ffcc33" d="M2259.0 2078.4h20.83v20.83h-20.83z"/><path fill="#ffc53a" d="M2175.1 2194.6h20.83v20.83h-20.83z"/><path fill="#ffc639" d="M2210.1 2144.9h20.83v20.83h-20.83z"/><path fill="#ffc03f" d="M2297.3 2025.8h20.83v20.83h-20.83z"/><path fill="#ffc639" d="M2087.0 2314.6h20.83v20.83h-20.83z"/><path fill="#ff28d7" d="M1854.1 2637.5h20.83v20.83h-20.83z"/><path fill="#ff1ee1" d="M1988.6 2458.1h20.83v20.83h-20.83z"/><path fill="#ffc53a" d="M2557.6 1666.6h20.83v20.83h-20.83zM2406.5 1875.9h20.83v20.83h-20.83z"/><path fill="#ffbe41" d="M2149.2 2229.1h20.83v20.83h-20.83zM2128.8 2256.9h20.83v20.83h-20.83z"/><path fill="#ffcc33" d="M2273.6 2056.3h20.83v20.83h-20.83z"/><path fill="#ffbe41" d="M2090.7 2308.4h20.83v20.83h-20.83z"/><path fill="#ffbf40" d="M2491.4 1756.7h20.83v20.83h-20.83z"/><path fill="#ffc639" d="M2271.6 2060.1h20.83v20.83h-20.83z"/><path fill="#ffbe41" d="M2410.5 1869.8h20.83v20.83h-20.83z"/><path fill="#ffc33c" d="M2233.9 2111.5h20.83v20.83h-20.83z"/><path fill="#ffc936" d="M2534.1 1699.6h20.83v20.83h-20.83z"/><path fill="#ffc03f" d="M2172.6 2196.9h20.83v20.83h-20.83z"/><path fill="#ff2cd3" d="M1898.9 2574.1h20.83v20.83h-20.83z"/><path fill="#ffc53a" d="M2107.5 2286.6h20.83v20.83h-20.83z"/><path fill="#ffbd42" d="M2452.7 1810.2h20.83v20.83h-20.83z"/><path fill="#ffbf40" d="M2096.9 2300.9h20.83v20.83h-20.83z"/><path fill="#ffc53a" d="M2190.1 2172.7h20.83v20.83h-20.83z"/><path fill="#ff649b" d="M1942.5 2518.5h20.83v20.83h-20.83z"/><path fill="#ffbf40" d="M2194.9 2166.6h20.83v20.83h-20.83z"/><path fill="#ffc23d" d="M2156.2 2219.5h20.83v20.83h-20.83z"/><path fill="#ff9768" d="M1970.9 2482.6h20.83v20.83h-20.83z"/><path fill="#ffc53a" d="M2555.8 1670.9h20.83v20.83h-20.83z"/><path fill="#ffc13e" d="M2416.1 1861.1h20.83v20.83h-20.83z"/><path fill="#ffc738" d="M2168.6 2201.5h20.83v20.83h-20.83z"/><path fill="#ffbe41" d="M2179.6 2185.3h20.83v20.83h-20.83z"/><path fill="#ffbf40" d="M2229.1 2118.7h20.83v20.83h-20.83z"/><path fill="#ffcc33" d="M2355.5 1944.7h20.83v20.83h-20.83z"/><path fill="#ff12ed" d="M1993.7 2448.2h20.83v20.83h-20.83z"/><path fill="#ffbe41" d="M2520.7 1718.3h20.83v20.83h-20.83z"/><path fill="#ff29d6" d="M2019.8 2412.0h20.83v20.83h-20.83z"/><path fill="#ffcc33" d="M2305.1 2016.1h20.83v20.83h-20.83zM2593.5 1617.7h20.83v20.83h-20.83z"/><path fill="#ffc33c" d="M2349.7 1952.3h20.83v20.83h-20.83z"/><path fill="#ffc43b" d="M2057.9 2353.7h20.83v20.83h-20.83z"/><path fill="#ffbf40" d="M2568.1 1652.2h20.83v20.83h-20.83z"/><path fill="#ffc53a" d="M2325.6 1987.8h20.83v20.83h-20.83z"/><path fill="#ffc23d" d="M2113.1 2279.2h20.83v20.83h-20.83z"/><path fill="#ffc936" d="M2306.5 2011.6h20.83v20.83h-20.83z"/><path fill="#ffcb34" d="M2085.0 2318.6h20.83v20.83h-20.83z"/><path fill="#ff41be" d="M1862.0 2630.2h20.83v20.83h-20.83z"/><path fill="#ffc53a" d="M2206.6 2151.7h20.83v20.83h-20.83z"/><path fill="#ff29d6" d="M1928.0 2534.4h20.83v20.83h-20.83z"/><path fill="#ffc639" d="M2551.2 1675.6h20.83v20.83h-20.83z"/><path fill="#ffc936" d="M2579.7 1637.3h20.83v20.83h-20.83z"/><path fill="#ffbf40" d="M2293.7 2031.6h20.83v20.83h-20.83z"/><path fill="#ffc33c" d="M2244.7 2097.7h20.83v20.83h-20.83z"/><path fill="#ffbf40" d="M2469.2 1789.2h20.83v20.83h-20.83z"/><path fill="#ffcb34" d="M2237.9 2106.3h20.83v20.83h-20.83z"/><path fill="#ff3dc2" d="M1864.1 2621.5h20.83v20.83h-20.83z"/><path fill="#ffc53a" d="M2589.8 1622.6h20.83v20.83h-20.83zM2526.6 1708.8h20.83v20.83h-20.83z"/><path fill="#ffbd42" d="M2479.4 1774.5h20.83v20.83h-20.83z"/><path fill="#ffc53a" d="M2109.5 2282.2h20.83v20.83h-20.83z"/><path fill="#ff2ad5" d="M1894.1 2580.7h20.83v20.83h-20.83z"/><path fill="#ffc13e" d="M2240.8 2101.6h20.83v20.83h-20.83zM2249.4 2092.0h20.83v20.83h-20.83z"/><path fill="#ff926d" d="M1982.3 2467.1h20.83v20.83h-20.83z"/><path fill="#ffc53a" d="M2165.1 2206.4h20.83v20.83h-20.83z"/><path fill="#ffc13e" d="M2328.0 1981.4h20.83v20.83h-20.83z"/><path fill="#ffc738" d="M2077.3 2327.4h20.83v20.83h-20.83z"/><path fill="#ffc23d" d="M2308.7 2008.9h20.83v20.83h-20.83z"/><path fill="#ffc43b" d="M2478.1 1777.1h20.83v20.83h-20.83zM2466.8 1792.3h20.83v20.83h-20.83z"/><path fill="#ffc53a" d="M2266.8 2065.4h20.83v20.83h-20.83z"/><path fill="#ffc33c" d="M2522.5 1715.0h20.83v20.83h-20.83z"/><path fill="#ffc639" d="M2284.9 2043.0h20.83v20.83h-20.83z"/><path fill="#ffc13e" d="M2370.9 1923.3h20.83v20.83h-20.83z"/><path fill="#ffc23d" d="M2500.4 1746.7h20.83v20.83h-20.83z"/><path fill="#ffcc33" d="M2402.5 1880.3h20.83v20.83h-20.83z"/><path fill="#ff807f" d="M2038.7 2383.5h20.83v20.83h-20.83z"/><path fill="#ffbe41" d="M2545.4 1684.9h20.83v20.83h-20.83z"/><path fill="#ffc738" d="M2159.1 2215.6h20.83v20.83h-20.83z"/><path fill="#ffc43b" d="M2367.8 1929.2h20.83v20.83h-20.83z"/><path fill="#ff1ee1" d="M2045.8 2370.8h20.83v20.83h-20.83z"/><path fill="#ff12ed" d="M2005.4 2429.1h20.83v20.83h-20.83z"/><path fill="#ffc33c" d="M2609.6 1595.5h20.83v20.83h-20.83zM2359.1 1940.4h20.83v20.83h-20.83z"/><path fill="#ffbf40" d="M2435.3 1833.7h20.83v20.83h-20.83z"/><path fill="#ffc03f" d="M2516.5 1724.5h20.83v20.83h-20.83z"/><path fill="#ffc738" d="M2288.0 2036.5h20.83v20.83h-20.83z"/><path fill="#ffc23d" d="M2132.0 2253.7h20.83v20.83h-20.83z"/><path fill="#ffc43b" d="M2300.7 2021.1h20.83v20.83h-20.83z"/><path fill="#ffc33c" d="M2432.4 1839.3h20.83v20.83h-20.83z"/><path fill="#ffc23d" d="M2076.2 2330.3h20.83v20.83h-20.83z"/><path fill="#ffc13e" d="M2450.1 1814.2h20.83v20.83h-20.83z"/><path fill="#ffc03f" d="M2459.1 1801.2h20.83v20.83h-20.83z"/><path fill="#ffc738" d="M2353.0 1949.2h20.83v20.83h-20.83z"/><path fill="#ffbf40" d="M2441.2 1828.2h20.83v20.83h-20.83z"/><path fill="#ff3fc0" d="M2002.5 2439.0h20.83v20.83h-20.83z"/><path fill="#ff5ea1" d="M1948.2 2507.6h20.83v20.83h-20.83z"/><path fill="#ffc738" d="M2420.3 1854.9h20.83v20.83h-20.83z"/><path fill="#ffc33c" d="M2387.2 1903.3h20.83v20.83h-20.83z"/><path fill="#ffbe41" d="M2232.7 2115.8h20.83v20.83h-20.83z"/><path fill="#ffc03f" d="M2063.7 2344.8h20.83v20.83h-20.83z"/><path fill="#ff15ea" d="M1907.7 2566.1h20.83v20.83h-20.83z"/><path fill="#ffc639" d="M2512.7 1728.9h20.83v20.83h-20.83z"/><path fill="#ff58a7" d="M1872.1 2609.1h20.83v20.83h-20.83z"/><path fill="#ffc03f" d="M2428.1 1845.4h20.83v20.83h-20.83z"/><path fill="#ffcb34" d="M2105.6 2290.7h20.83v20.83h-20.83z"/><path fill="#ffc837" d="M2124.9 2263.8h20.83v20.83h-20.83zM2383.4 1906.5h20.83v20.83h-20.83z"/><path fill="#ffc33c" d="M2502.7 1741.6h20.83v20.83h-20.83z"/><path fill="#ffbe41" d="M2345.2 1958.5h20.83v20.83h-20.83z"/><path fill="#ffe01f" d="M2004.1 2433.5h20.83v20.83h-20.83zM2026.9 2421.4h20.83v20.83h-20.83zM1943.8 2522.8h20.83v20.83h-20.83zM1878.0 2611.7h20.83v20.83h-20.83z"/><path fill="#ffc23d" d="M2086.3 2380.2h20.83v20.83h-20.83z"/><path fill="#ff9966" d="M2021.7 2452.4h20.83v20.83h-20.83zM1952.3 2544.7h20.83v20.83h-20.83z"/></g>
<path d="M361.20 1227.70v-16.7M361.20 99.80v16.7M421.92 1227.70v-8.3M421.92 99.80v8.3M457.44 1227.70v-8.3M457.44 99.80v8.3M482.64 1227.70v-8.3M482.64 99.80v8.3M502.18 1227.70v-8.3M502.18 99.80v8.3M518.15 1227.70v-8.3M518.15 99.80v8.3M531.66 1227.70v-8.3M531.66 99.80v8.3M543.35 1227.70v-8.3M543.35 99.80v8.3M553.67 1227.70v-8.3M553.67 99.80v8.3M562.90 1227.70v-16.7M562.90 99.80v16.7M623.62 1227.70v-8.3M623.62 99.80v8.3M659.14 1227.70v-8.3M659.14 99.80v8.3M684.34 1227.70v-8.3M684.34 99.80v8.3M703.88 1227.70v-8.3M703.88 99.80v8.3M719.85 1227.70v-8.3M719.85 99.80v8.3M733.36 1227.70v-8.3M733.36 99.80v8.3M745.05 1227.70v-8.3M745.05 99.80v8.3M755.37 1227.70v-8.3M755.37 99.80v8.3M764.60 1227.70v-16.7M764.60 99.80v16.7M825.32 1227.70v-8.3M825.32 99.80v8.3M860.84 1227.70v-8.3M860.84 99.80v8.3M886.04 1227.70v-8.3M886.04 99.80v8.3M905.58 1227.70v-8.3M905.58 99.80v8.3M921.55 1227.70v-8.3M921.55 99.80v8.3M935.06 1227.70v-8.3M935.06 99.80v8.3M946.75 1227.70v-8.3M946.75 99.80v8.3M957.07 1227.70v-8.3M957.07 99.80v8.3M966.30 1227.70v-16.7M966.30 99.80v16.7M1027.02 1227.70v-8.3M1027.02 99.80v8.3M1062.54 1227.70v-8.3M1062.54 99.80v8.3M1087.74 1227.70v-8.3M1087.74 99.80v8.3M1107.28 1227.70v-8.3M1107.28 99.80v8.3M1123.25 1227.70v-8.3M1123.25 99.80v8.3M1136.76 1227.70v-8.3M1136.76 99.80v8.3M1148.45 1227.70v-8.3M1148.45 99.80v8.3M1158.77 1227.70v-8.3M1158.77 99.80v8.3M1168.00 1227.70v-16.7M1168.00 99.80v16.7M361.20 1227.70h16.7M1168.00 1227.70h-16.7M361.20 1185.26h8.3M1168.00 1185.26h-8.3M361.20 1142.82h8.3M1168.00 1142.82h-8.3M361.20 1117.99h8.3M1168.00 1117.99h-8.3M361.20 1100.38h8.3M1168.00 1100.38h-8.3M361.20 1086.71h16.7M1168.00 1086.71h-16.7M361.20 1044.27h8.3M1168.00 1044.27h-8.3M361.20 1001.83h8.3M1168.00 1001.83h-8.3M361.20 977.00h8.3M1168.00 977.00h-8.3M361.20 959.39h8.3M1168.00 959.39h-8.3M361.20 945.73h16.7M1168.00 945.73h-16.7M361.20 903.28h8.3M1168.00 903.28h-8.3M361.20 860.84h8.3M1168.00 860.84h-8.3M361.20 836.02h8.3M1168.00 836.02h-8.3M361.20 818.40h8.3M1168.00 818.40h-8.3M361.20 804.74h16.7M1168.00 804.74h-16.7M361.20 762.30h8.3M1168.00 762.30h-8.3M361.20 719.85h8.3M1168.00 719.85h-8.3M361.20 695.03h8.3M1168.00 695.03h-8.3M361.20 677.41h8.3M1168.00 677.41h-8.3M361.20 663.75h16.7M1168.00 663.75h-16.7M361.20 621.31h8.3M1168.00 621.31h-8.3M361.20 578.87h8.3M1168.00 578.87h-8.3M361.20 554.04h8.3M1168.00 554.04h-8.3M361.20 536.43h8.3M1168.00 536.43h-8.3M361.20 522.76h16.7M1168.00 522.76h-16.7M361.20 480.32h8.3M1168.00 480.32h-8.3M361.20 437.88h8.3M1168.00 437.88h-8.3M361.20 413.05h8.3M1168.00 413.05h-8.3M361.20 395.44h8.3M1168.00 395.44h-8.3M361.20 381.77h16.7M1168.00 381.77h-16.7M361.20 339.33h8.3M1168.00 339.33h-8.3M361.20 296.89h8.3M1168.00 296.89h-8.3M361.20 272.07h8.3M1168.00 272.07h-8.3M361.20 254.45h8.3M1168.00 254.45h-8.3M361.20 240.79h16.7M1168.00 240.79h-16.7M361.20 198.35h8.3M1168.00 198.35h-8.3M361.20 155.90h8.3M1168.00 155.90h-8.3M361.20 131.08h8.3M1168.00 131.08h-8.3M361.20 113.46h8.3M1168.00 113.46h-8.3M361.20 99.80h16.7M1168.00 99.80h-16.7" stroke="#000" stroke-width="2.08" fill="none"/>
<rect x="361.20" y="99.80" width="806.80" height="1127.90" fill="none" stroke="#000" stroke-width="4.17"/>
<path d="M1799.20 1227.70v-16.7M1799.20 99.80v16.7M1920.45 1227.70v-8.3M1920.45 99.80v8.3M1991.38 1227.70v-8.3M1991.38 99.80v8.3M2041.71 1227.70v-8.3M2041.71 99.80v8.3M2080.75 1227.70v-8.3M2080.75 99.80v8.3M2112.64 1227.70v-8.3M2112.64 99.80v8.3M2139.61 1227.70v-8.3M2139.61 99.80v8.3M2162.96 1227.70v-8.3M2162.96 99.80v8.3M2183.57 1227.70v-8.3M2183.57 99.80v8.3M2202.00 1227.70v-16.7M2202.00 99.80v16.7M2323.25 1227.70v-8.3M2323.25 99.80v8.3M2394.18 1227.70v-8.3M2394.18 99.80v8.3M2444.51 1227.70v-8.3M2444.51 99.80v8.3M2483.55 1227.70v-8.3M2483.55 99.80v8.3M2515.44 1227.70v-8.3M2515.44 99.80v8.3M2542.41 1227.70v-8.3M2542.41 99.80v8.3M2565.76 1227.70v-8.3M2565.76 99.80v8.3M2586.37 1227.70v-8.3M2586.37 99.80v8.3M2604.80 1227.70v-16.7M2604.80 99.80v16.7M1799.20 1227.70h16.7M2604.80 1227.70h-16.7M1799.20 1185.26h8.3M2604.80 1185.26h-8.3M1799.20 1142.82h8.3M2604.80 1142.82h-8.3M1799.20 1117.99h8.3M2604.80 1117.99h-8.3M1799.20 1100.38h8.3M2604.80 1100.38h-8.3M1799.20 1086.71h16.7M2604.80 1086.71h-16.7M1799.20 1044.27h8.3M2604.80 1044.27h-8.3M1799.20 1001.83h8.3M2604.80 1001.83h-8.3M1799.20 977.00h8.3M2604.80 977.00h-8.3M1799.20 959.39h8.3M2604.80 959.39h-8.3M1799.20 945.73h16.7M2604.80 945.73h-16.7M1799.20 903.28h8.3M2604.80 903.28h-8.3M1799.20 860.84h8.3M2604.80 860.84h-8.3M1799.20 836.02h8.3M2604.80 836.02h-8.3M1799.20 818.40h8.3M2604.80 818.40h-8.3M1799.20 804.74h16.7M2604.80 804.74h-16.7M1799.20 762.30h8.3M2604.80 762.30h-8.3M1799.20 719.85h8.3M2604.80 719.85h-8.3M1799.20 695.03h8.3M2604.80 695.03h-8.3M1799.20 677.41h8.3M2604.80 677.41h-8.3M1799.20 663.75h16.7M2604.80 663.75h-16.7M1799.20 621.31h8.3M2604.80 621.31h-8.3M1799.20 578.87h8.3M2604.80 578.87h-8.3M1799.20 554.04h8.3M2604.80 554.04h-8.3M1799.20 536.43h8.3M2604.80 536.43h-8.3M1799.20 522.76h16.7M2604.80 522.76h-16.7M1799.20 480.32h8.3M2604.80 480.32h-8.3M1799.20 437.88h8.3M2604.80 437.88h-8.3M1799.20 413.05h8.3M2604.80 413.05h-8.3M1799.20 395.44h8.3M2604.80 395.44h-8.3M1799.20 381.77h16.7M2604.80 381.77h-16.7M1799.20 339.33h8.3M2604.80 339.33h-8.3M1799.20 296.89h8.3M2604.80 296.89h-8.3M1799.20 272.07h8.3M2604.80 272.07h-8.3M1799.20 254.45h8.3M2604.80 254.45h-8.3M1799.20 240.79h16.7M2604.80 240.79h-16.7M1799.20 198.35h8.3M2604.80 198.35h-8.3M1799.20 155.90h8.3M2604.80 155.90h-8.3M1799.20 131.08h8.3M2604.80 131.08h-8.3M1799.20 113.46h8.3M2604.80 113.46h-8.3M1799.20 99.80h16.7M2604.80 99.80h-16.7" stroke="#000" stroke-width="2.08" fill="none"/>
<rect x="1799.20" y="99.80" width="805.60" height="1127.90" fill="none" stroke="#000" stroke-width="4.17"/>
<path d="M361.20 2696.40v-8.3M361.20 1569.90v8.3M376.06 2696.40v-8.3M376.06 1569.90v8.3M388.62 2696.40v-8.3M388.62 1569.90v8.3M399.50 2696.40v-8.3M399.50 1569.90v8.3M409.10 2696.40v-8.3M409.10 1569.90v8.3M417.69 2696.40v-16.7M417.69 1569.90v16.7M474.18 2696.40v-8.3M474.18 1569.90v8.3M507.22 2696.40v-8.3M507.22 1569.90v8.3M530.67 2696.40v-8.3M530.67 1569.90v8.3M548.85 2696.40v-8.3M548.85 1569.90v8.3M563.71 2696.40v-8.3M563.71 1569.90v8.3M576.27 2696.40v-8.3M576.27 1569.90v8.3M587.16 2696.40v-8.3M587.16 1569.90v8.3M596.76 2696.40v-8.3M596.76 1569.90v8.3M605.34 2696.40v-16.7M605.34 1569.90v16.7M661.83 2696.40v-8.3M661.83 1569.90v8.3M694.87 2696.40v-8.3M694.87 1569.90v8.3M718.32 2696.40v-8.3M718.32 1569.90v8.3M736.51 2696.40v-8.3M736.51 1569.90v8.3M751.36 2696.40v-8.3M751.36 1569.90v8.3M763.93 2696.40v-8.3M763.93 1569.90v8.3M774.81 2696.40v-8.3M774.81 1569.90v8.3M784.41 2696.40v-8.3M784.41 1569.90v8.3M792.99 2696.40v-16.7M792.99 1569.90v16.7M849.48 2696.40v-8.3M849.48 1569.90v8.3M882.53 2696.40v-8.3M882.53 1569.90v8.3M905.97 2696.40v-8.3M905.97 1569.90v8.3M924.16 2696.40v-8.3M924.16 1569.90v8.3M939.02 2696.40v-8.3M939.02 1569.90v8.3M951.58 2696.40v-8.3M951.58 1569.90v8.3M962.46 2696.40v-8.3M962.46 1569.90v8.3M972.06 2696.40v-8.3M972.06 1569.90v8.3M980.65 2696.40v-16.7M980.65 1569.90v16.7M1037.14 2696.40v-8.3M1037.14 1569.90v8.3M1070.18 2696.40v-8.3M1070.18 1569.90v8.3M1093.63 2696.40v-8.3M1093.63 1569.90v8.3M1111.81 2696.40v-8.3M1111.81 1569.90v8.3M1126.67 2696.40v-8.3M1126.67 1569.90v8.3M1139.23 2696.40v-8.3M1139.23 1569.90v8.3M1150.11 2696.40v-8.3M1150.11 1569.90v8.3M1159.71 2696.40v-8.3M1159.71 1569.90v8.3M1168.30 2696.40v-16.7M1168.30 1569.90v16.7M361.20 2696.40h16.7M1168.30 2696.40h-16.7M361.20 2611.62h8.3M1168.30 2611.62h-8.3M361.20 2562.03h8.3M1168.30 2562.03h-8.3M361.20 2526.84h8.3M1168.30 2526.84h-8.3M361.20 2499.55h8.3M1168.30 2499.55h-8.3M361.20 2477.25h8.3M1168.30 2477.25h-8.3M361.20 2458.40h8.3M1168.30 2458.40h-8.3M361.20 2442.07h8.3M1168.30 2442.07h-8.3M361.20 2427.66h8.3M1168.30 2427.66h-8.3M361.20 2414.78h16.7M1168.30 2414.78h-16.7M361.20 2330.00h8.3M1168.30 2330.00h-8.3M361.20 2280.41h8.3M1168.30 2280.41h-8.3M361.20 2245.22h8.3M1168.30 2245.22h-8.3M361.20 2217.93h8.3M1168.30 2217.93h-8.3M361.20 2195.63h8.3M1168.30 2195.63h-8.3M361.20 2176.77h8.3M1168.30 2176.77h-8.3M361.20 2160.44h8.3M1168.30 2160.44h-8.3M361.20 2146.04h8.3M1168.30 2146.04h-8.3M361.20 2133.15h16.7M1168.30 2133.15h-16.7M361.20 2048.37h8.3M1168.30 2048.37h-8.3M361.20 1998.78h8.3M1168.30 1998.78h-8.3M361.20 1963.59h8.3M1168.30 1963.59h-8.3M361.20 1936.30h8.3M1168.30 1936.30h-8.3M361.20 1914.00h8.3M1168.30 1914.00h-8.3M361.20 1895.15h8.3M1168.30 1895.15h-8.3M361.20 1878.82h8.3M1168.30 1878.82h-8.3M361.20 1864.41h8.3M1168.30 1864.41h-8.3M361.20 1851.53h16.7M1168.30 1851.53h-16.7M361.20 1766.75h8.3M1168.30 1766.75h-8.3M361.20 1717.16h8.3M1168.30 1717.16h-8.3M361.20 1681.97h8.3M1168.30 1681.97h-8.3M361.20 1654.68h8.3M1168.30 1654.68h-8.3M361.20 1632.38h8.3M1168.30 1632.38h-8.3M361.20 1613.52h8.3M1168.30 1613.52h-8.3M361.20 1597.19h8.3M1168.30 1597.19h-8.3M361.20 1582.79h8.3M1168.30 1582.79h-8.3M361.20 1569.90h16.7M1168.30 1569.90h-16.7" stroke="#000" stroke-width="2.08" fill="none"/>
<rect x="361.20" y="1569.90" width="807.10" height="1126.50" fill="none" stroke="#000" stroke-width="4.17"/>
<path d="M1799.20 2696.40v-16.7M1799.20 1569.90v16.7M1920.45 2696.40v-8.3M1920.45 1569.90v8.3M1991.38 2696.40v-8.3M1991.38 1569.90v8.3M2041.71 2696.40v-8.3M2041.71 1569.90v8.3M2080.75 2696.40v-8.3M2080.75 1569.90v8.3M2112.64 2696.40v-8.3M2112.64 1569.90v8.3M2139.61 2696.40v-8.3M2139.61 1569.90v8.3M2162.96 2696.40v-8.3M2162.96 1569.90v8.3M2183.57 2696.40v-8.3M2183.57 1569.90v8.3M2202.00 2696.40v-16.7M2202.00 1569.90v16.7M2323.25 2696.40v-8.3M2323.25 1569.90v8.3M2394.18 2696.40v-8.3M2394.18 1569.90v8.3M2444.51 2696.40v-8.3M2444.51 1569.90v8.3M2483.55 2696.40v-8.3M2483.55 1569.90v8.3M2515.44 2696.40v-8.3M2515.44 1569.90v8.3M2542.41 2696.40v-8.3M2542.41 1569.90v8.3M2565.76 2696.40v-8.3M2565.76 1569.90v8.3M2586.37 2696.40v-8.3M2586.37 1569.90v8.3M2604.80 2696.40v-16.7M2604.80 1569.90v16.7M1799.20 2696.40h16.7M2604.80 2696.40h-16.7M1799.20 2611.62h8.3M2604.80 2611.62h-8.3M1799.20 2562.03h8.3M2604.80 2562.03h-8.3M1799.20 2526.84h8.3M2604.80 2526.84h-8.3M1799.20 2499.55h8.3M2604.80 2499.55h-8.3M1799.20 2477.25h8.3M2604.80 2477.25h-8.3M1799.20 2458.40h8.3M2604.80 2458.40h-8.3M1799.20 2442.07h8.3M2604.80 2442.07h-8.3M1799.20 2427.66h8.3M2604.80 2427.66h-8.3M1799.20 2414.78h16.7M2604.80 2414.78h-16.7M1799.20 2330.00h8.3M2604.80 2330.00h-8.3M1799.20 2280.41h8.3M2604.80 2280.41h-8.3M1799.20 2245.22h8.3M2604.80 2245.22h-8.3M1799.20 2217.93h8.3M2604.80 2217.93h-8.3M1799.20 2195.63h8.3M2604.80 2195.63h-8.3M1799.20 2176.77h8.3M2604.80 2176.77h-8.3M1799.20 2160.44h8.3M2604.80 2160.44h-8.3M1799.20 2146.04h8.3M2604.80 2146.04h-8.3M1799.20 2133.15h16.7M2604.80 2133.15h-16.7M1799.20 2048.37h8.3M2604.80 2048.37h-8.3M1799.20 1998.78h8.3M2604.80 1998.78h-8.3M1799.20 1963.59h8.3M2604.80 1963.59h-8.3M1799.20 1936.30h8.3M2604.80 1936.30h-8.3M1799.20 1914.00h8.3M2604.80 1914.00h-8.3M1799.20 1895.15h8.3M2604.80 1895.15h-8.3M1799.20 1878.82h8.3M2604.80 1878.82h-8.3M1799.20 1864.41h8.3M2604.80 1864.41h-8.3M1799.20 1851.53h16.7M2604.80 1851.53h-16.7M1799.20 1766.75h8.3M2604.80 1766.75h-8.3M1799.20 1717.16h8.3M2604.80 1717.16h-8.3M1799.20 1681.97h8.3M2604.80 1681.97h-8.3M1799.20 1654.68h8.3M2604.80 1654.68h-8.3M1799.20 1632.38h8.3M2604.80 1632.38h-8.3M1799.20 1613.52h8.3M2604.80 1613.52h-8.3M1799.20 1597.19h8.3M2604.80 1597.19h-8.3M1799.20 1582.79h8.3M2604.80 1582.79h-8.3M1799.20 1569.90h16.7M2604.80 1569.90h-16.7" stroke="#000" stroke-width="2.08" fill="none"/>
<rect x="1799.20" y="1569.90" width="805.60" height="1126.50" fill="none" stroke="#000" stroke-width="4.17"/>
<text x="298.2" y="1300.9" font-size="70.7" textLength="84.8" lengthAdjust="spacingAndGlyphs" stroke="#000" stroke-width="0.87" style="font-family:'Liberation Sans',sans-serif">10</text>
<text x="388.5" y="1270.4" font-size="49.5" textLength="29.7" lengthAdjust="spacingAndGlyphs" stroke="#000" stroke-width="0.61" style="font-family:'Liberation Sans',sans-serif">1</text>
<text x="499.9" y="1300.9" font-size="70.7" textLength="84.8" lengthAdjust="spacingAndGlyphs" stroke="#000" stroke-width="0.87" style="font-family:'Liberation Sans',sans-serif">10</text>
<text x="590.2" y="1270.4" font-size="49.5" textLength="29.7" lengthAdjust="spacingAndGlyphs" stroke="#000" stroke-width="0.61" style="font-family:'Liberation Sans',sans-serif">2</text>
<text x="701.6" y="1300.9" font-size="70.7" textLength="84.8" lengthAdjust="spacingAndGlyphs" stroke="#000" stroke-width="0.87" style="font-family:'Liberation Sans',sans-serif">10</text>
<text x="791.9" y="1270.4" font-size="49.5" textLength="29.7" lengthAdjust="spacingAndGlyphs" stroke="#000" stroke-width="0.61" style="font-family:'Liberation Sans',sans-serif">3</text>
<text x="903.3" y="1300.9" font-size="70.7" textLength="84.8" lengthAdjust="spacingAndGlyphs" stroke="#000" stroke-width="0.87" style="font-family:'Liberation Sans',sans-serif">10</text>
<text x="993.6" y="1270.4" font-size="49.5" textLength="29.7" lengthAdjust="spacingAndGlyphs" stroke="#000" stroke-width="0.61" style="font-family:'Liberation Sans',sans-serif">4</text>
<text x="1105.0" y="1300.9" font-size="70.7" textLength="84.8" lengthAdjust="spacingAndGlyphs" stroke="#000" stroke-width="0.87" style="font-family:'Liberation Sans',sans-serif">10</text>
<text x="1195.3" y="1270.4" font-size="49.5" textLength="29.7" lengthAdjust="spacingAndGlyphs" stroke="#000" stroke-width="0.61" style="font-family:'Liberation Sans',sans-serif">5</text>
<text x="171.2" y="1248.9" font-size="70.7" textLength="84.8" lengthAdjust="spacingAndGlyphs" stroke="#000" stroke-width="0.87" style="font-family:'Liberation Sans',sans-serif">10</text>
<text x="261.5" y="1218.4" font-size="49.5" textLength="76.2" lengthAdjust="spacingAndGlyphs" stroke="#000" stroke-width="0.61" style="font-family:'Liberation Sans',sans-serif">-15</text>
<text x="171.2" y="1107.9" font-size="70.7" textLength="84.8" lengthAdjust="spacingAndGlyphs" stroke="#000" stroke-width="0.87" style="font-family:'Liberation Sans',sans-serif">10</text>
<text x="261.5" y="1077.4" font-size="49.5" textLength="76.2" lengthAdjust="spacingAndGlyphs" stroke="#000" stroke-width="0.61" style="font-family:'Liberation Sans',sans-serif">-14</text>
<text x="171.2" y="966.9" font-size="70.7" textLength="84.8" lengthAdjust="spacingAndGlyphs" stroke="#000" stroke-width="0.87" style="font-family:'Liberation Sans',sans-serif">10</text>
<text x="261.5" y="936.4" font-size="49.5" textLength="76.2" lengthAdjust="spacingAndGlyphs" stroke="#000" stroke-width="0.61" style="font-family:'Liberation Sans',sans-serif">-13</text>
<text x="171.2" y="825.9" font-size="70.7" textLength="84.8" lengthAdjust="spacingAndGlyphs" stroke="#000" stroke-width="0.87" style="font-family:'Liberation Sans',sans-serif">10</text>
<text x="261.5" y="795.4" font-size="49.5" textLength="76.2" lengthAdjust="spacingAndGlyphs" stroke="#000" stroke-width="0.61" style="font-family:'Liberation Sans',sans-serif">-12</text>
<text x="171.2" y="685.0" font-size="70.7" textLength="84.8" lengthAdjust="spacingAndGlyphs" stroke="#000" stroke-width="0.87" style="font-family:'Liberation Sans',sans-serif">10</text>
<text x="261.5" y="654.5" font-size="49.5" textLength="76.2" lengthAdjust="spacingAndGlyphs" stroke="#000" stroke-width="0.61" style="font-family:'Liberation Sans',sans-serif">-11</text>
<text x="171.2" y="544.0" font-size="70.7" textLength="84.8" lengthAdjust="spacingAndGlyphs" stroke="#000" stroke-width="0.87" style="font-family:'Liberation Sans',sans-serif">10</text>
<text x="261.5" y="513.5" font-size="49.5" textLength="76.2" lengthAdjust="spacingAndGlyphs" stroke="#000" stroke-width="0.61" style="font-family:'Liberation Sans',sans-serif">-10</text>
<text x="200.9" y="403.0" font-size="70.7" textLength="84.8" lengthAdjust="spacingAndGlyphs" stroke="#000" stroke-width="0.87" style="font-family:'Liberation Sans',sans-serif">10</text>
<text x="291.2" y="372.5" font-size="49.5" textLength="46.5" lengthAdjust="spacingAndGlyphs" stroke="#000" stroke-width="0.61" style="font-family:'Liberation Sans',sans-serif">-9</text>
<text x="200.9" y="262.0" font-size="70.7" textLength="84.8" lengthAdjust="spacingAndGlyphs" stroke="#000" stroke-width="0.87" style="font-family:'Liberation Sans',sans-serif">10</text>
<text x="291.2" y="231.5" font-size="49.5" textLength="46.5" lengthAdjust="spacingAndGlyphs" stroke="#000" stroke-width="0.61" style="font-family:'Liberation Sans',sans-serif">-8</text>
<text x="200.9" y="121.0" font-size="70.7" textLength="84.8" lengthAdjust="spacingAndGlyphs" stroke="#000" stroke-width="0.87" style="font-family:'Liberation Sans',sans-serif">10</text>
<text x="291.2" y="90.5" font-size="49.5" textLength="46.5" lengthAdjust="spacingAndGlyphs" stroke="#000" stroke-width="0.61" style="font-family:'Liberation Sans',sans-serif">-7</text>
<text x="1725.8" y="1300.9" font-size="70.7" textLength="84.8" lengthAdjust="spacingAndGlyphs" stroke="#000" stroke-width="0.87" style="font-family:'Liberation Sans',sans-serif">10</text>
<text x="1816.1" y="1270.4" font-size="49.5" textLength="46.5" lengthAdjust="spacingAndGlyphs" stroke="#000" stroke-width="0.61" style="font-family:'Liberation Sans',sans-serif">-9</text>
<text x="2128.6" y="1300.9" font-size="70.7" textLength="84.8" lengthAdjust="spacingAndGlyphs" stroke="#000" stroke-width="0.87" style="font-family:'Liberation Sans',sans-serif">10</text>
<text x="2218.9" y="1270.4" font-size="49.5" textLength="46.5" lengthAdjust="spacingAndGlyphs" stroke="#000" stroke-width="0.61" style="font-family:'Liberation Sans',sans-serif">-8</text>
<text x="2531.4" y="1300.9" font-size="70.7" textLength="84.8" lengthAdjust="spacingAndGlyphs" stroke="#000" stroke-width="0.87" style="font-family:'Liberation Sans',sans-serif">10</text>
<text x="2621.7" y="1270.4" font-size="49.5" textLength="46.5" lengthAdjust="spacingAndGlyphs" stroke="#000" stroke-width="0.61" style="font-family:'Liberation Sans',sans-serif">-7</text>
<text x="1609.2" y="1248.9" font-size="70.7" textLength="84.8" lengthAdjust="spacingAndGlyphs" stroke="#000" stroke-width="0.87" style="font-family:'Liberation Sans',sans-serif">10</text>
<text x="1699.5" y="1218.4" font-size="49.5" textLength="76.2" lengthAdjust="spacingAndGlyphs" stroke="#000" stroke-width="0.61" style="font-family:'Liberation Sans',sans-serif">-15</text>
<text x="1609.2" y="1107.9" font-size="70.7" textLength="84.8" lengthAdjust="spacingAndGlyphs" stroke="#000" stroke-width="0.87" style="font-family:'Liberation Sans',sans-serif">10</text>
<text x="1699.5" y="1077.4" font-size="49.5" textLength="76.2" lengthAdjust="spacingAndGlyphs" stroke="#000" stroke-width="0.61" style="font-family:'Liberation Sans',sans-serif">-14</text>
<text x="1609.2" y="966.9" font-size="70.7" textLength="84.8" lengthAdjust="spacingAndGlyphs" stroke="#000" stroke-width="0.87" style="font-family:'Liberation Sans',sans-serif">10</text>
<text x="1699.5" y="936.4" font-size="49.5" textLength="76.2" lengthAdjust="spacingAndGlyphs" stroke="#000" stroke-width="0.61" style="font-family:'Liberation Sans',sans-serif">-13</text>
<text x="1609.2" y="825.9" font-size="70.7" textLength="84.8" lengthAdjust="spacingAndGlyphs" stroke="#000" stroke-width="0.87" style="font-family:'Liberation Sans',sans-serif">10</text>
<text x="1699.5" y="795.4" font-size="49.5" textLength="76.2" lengthAdjust="spacingAndGlyphs" stroke="#000" stroke-width="0.61" style="font-family:'Liberation Sans',sans-serif">-12</text>
<text x="1609.2" y="685.0" font-size="70.7" textLength="84.8" lengthAdjust="spacingAndGlyphs" stroke="#000" stroke-width="0.87" style="font-family:'Liberation Sans',sans-serif">10</text>
<text x="1699.5" y="654.5" font-size="49.5" textLength="76.2" lengthAdjust="spacingAndGlyphs" stroke="#000" stroke-width="0.61" style="font-family:'Liberation Sans',sans-serif">-11</text>
<text x="1609.2" y="544.0" font-size="70.7" textLength="84.8" lengthAdjust="spacingAndGlyphs" stroke="#000" stroke-width="0.87" style="font-family:'Liberation Sans',sans-serif">10</text>
<text x="1699.5" y="513.5" font-size="49.5" textLength="76.2" lengthAdjust="spacingAndGlyphs" stroke="#000" stroke-width="0.61" style="font-family:'Liberation Sans',sans-serif">-10</text>
<text x="1638.9" y="403.0" font-size="70.7" textLength="84.8" lengthAdjust="spacingAndGlyphs" stroke="#000" stroke-width="0.87" style="font-family:'Liberation Sans',sans-serif">10</text>
<text x="1729.2" y="372.5" font-size="49.5" textLength="46.5" lengthAdjust="spacingAndGlyphs" stroke="#000" stroke-width="0.61" style="font-family:'Liberation Sans',sans-serif">-9</text>
<text x="1638.9" y="262.0" font-size="70.7" textLength="84.8" lengthAdjust="spacingAndGlyphs" stroke="#000" stroke-width="0.87" style="font-family:'Liberation Sans',sans-serif">10</text>
<text x="1729.2" y="231.5" font-size="49.5" textLength="46.5" lengthAdjust="spacingAndGlyphs" stroke="#000" stroke-width="0.61" style="font-family:'Liberation Sans',sans-serif">-8</text>
<text x="1638.9" y="121.0" font-size="70.7" textLength="84.8" lengthAdjust="spacingAndGlyphs" stroke="#000" stroke-width="0.87" style="font-family:'Liberation Sans',sans-serif">10</text>
<text x="1729.2" y="90.5" font-size="49.5" textLength="46.5" lengthAdjust="spacingAndGlyphs" stroke="#000" stroke-width="0.61" style="font-family:'Liberation Sans',sans-serif">-7</text>
<text x="344.3" y="2769.6" font-size="70.7" textLength="84.8" lengthAdjust="spacingAndGlyphs" stroke="#000" stroke-width="0.87" style="font-family:'Liberation Sans',sans-serif">10</text>
<text x="434.6" y="2739.1" font-size="49.5" textLength="46.5" lengthAdjust="spacingAndGlyphs" stroke="#000" stroke-width="0.61" style="font-family:'Liberation Sans',sans-serif">-8</text>
<text x="531.9" y="2769.6" font-size="70.7" textLength="84.8" lengthAdjust="spacingAndGlyphs" stroke="#000" stroke-width="0.87" style="font-family:'Liberation Sans',sans-serif">10</text>
<text x="622.2" y="2739.1" font-size="49.5" textLength="46.5" lengthAdjust="spacingAndGlyphs" stroke="#000" stroke-width="0.61" style="font-family:'Liberation Sans',sans-serif">-7</text>
<text x="719.6" y="2769.6" font-size="70.7" textLength="84.8" lengthAdjust="spacingAndGlyphs" stroke="#000" stroke-width="0.87" style="font-family:'Liberation Sans',sans-serif">10</text>
<text x="809.9" y="2739.1" font-size="49.5" textLength="46.5" lengthAdjust="spacingAndGlyphs" stroke="#000" stroke-width="0.61" style="font-family:'Liberation Sans',sans-serif">-6</text>
<text x="907.2" y="2769.6" font-size="70.7" textLength="84.8" lengthAdjust="spacingAndGlyphs" stroke="#000" stroke-width="0.87" style="font-family:'Liberation Sans',sans-serif">10</text>
<text x="997.5" y="2739.1" font-size="49.5" textLength="46.5" lengthAdjust="spacingAndGlyphs" stroke="#000" stroke-width="0.61" style="font-family:'Liberation Sans',sans-serif">-5</text>
<text x="1094.9" y="2769.6" font-size="70.7" textLength="84.8" lengthAdjust="spacingAndGlyphs" stroke="#000" stroke-width="0.87" style="font-family:'Liberation Sans',sans-serif">10</text>
<text x="1185.2" y="2739.1" font-size="49.5" textLength="46.5" lengthAdjust="spacingAndGlyphs" stroke="#000" stroke-width="0.61" style="font-family:'Liberation Sans',sans-serif">-4</text>
<text x="217.7" y="2717.6" font-size="70.7" textLength="84.8" lengthAdjust="spacingAndGlyphs" stroke="#000" stroke-width="0.87" style="font-family:'Liberation Sans',sans-serif">10</text>
<text x="308.0" y="2687.1" font-size="49.5" textLength="29.7" lengthAdjust="spacingAndGlyphs" stroke="#000" stroke-width="0.61" style="font-family:'Liberation Sans',sans-serif">1</text>
<text x="217.7" y="2436.0" font-size="70.7" textLength="84.8" lengthAdjust="spacingAndGlyphs" stroke="#000" stroke-width="0.87" style="font-family:'Liberation Sans',sans-serif">10</text>
<text x="308.0" y="2405.5" font-size="49.5" textLength="29.7" lengthAdjust="spacingAndGlyphs" stroke="#000" stroke-width="0.61" style="font-family:'Liberation Sans',sans-serif">2</text>
<text x="217.7" y="2154.3" font-size="70.7" textLength="84.8" lengthAdjust="spacingAndGlyphs" stroke="#000" stroke-width="0.87" style="font-family:'Liberation Sans',sans-serif">10</text>
<text x="308.0" y="2123.8" font-size="49.5" textLength="29.7" lengthAdjust="spacingAndGlyphs" stroke="#000" stroke-width="0.61" style="font-family:'Liberation Sans',sans-serif">3</text>
<text x="217.7" y="1872.7" font-size="70.7" textLength="84.8" lengthAdjust="spacingAndGlyphs" stroke="#000" stroke-width="0.87" style="font-family:'Liberation Sans',sans-serif">10</text>
<text x="308.0" y="1842.2" font-size="49.5" textLength="29.7" lengthAdjust="spacingAndGlyphs" stroke="#000" stroke-width="0.61" style="font-family:'Liberation Sans',sans-serif">4</text>
<text x="217.7" y="1591.1" font-size="70.7" textLength="84.8" lengthAdjust="spacingAndGlyphs" stroke="#000" stroke-width="0.87" style="font-family:'Liberation Sans',sans-serif">10</text>
<text x="308.0" y="1560.6" font-size="49.5" textLength="29.7" lengthAdjust="spacingAndGlyphs" stroke="#000" stroke-width="0.61" style="font-family:'Liberation Sans',sans-serif">5</text>
<text x="1736.2" y="2769.6" font-size="70.7" textLength="84.8" lengthAdjust="spacingAndGlyphs" stroke="#000" stroke-width="0.87" style="font-family:'Liberation Sans',sans-serif">10</text>
<text x="1826.5" y="2739.1" font-size="49.5" textLength="29.7" lengthAdjust="spacingAndGlyphs" stroke="#000" stroke-width="0.61" style="font-family:'Liberation Sans',sans-serif">4</text>
<text x="2139.0" y="2769.6" font-size="70.7" textLength="84.8" lengthAdjust="spacingAndGlyphs" stroke="#000" stroke-width="0.87" style="font-family:'Liberation Sans',sans-serif">10</text>
<text x="2229.3" y="2739.1" font-size="49.5" textLength="29.7" lengthAdjust="spacingAndGlyphs" stroke="#000" stroke-width="0.61" style="font-family:'Liberation Sans',sans-serif">5</text>
<text x="2541.8" y="2769.6" font-size="70.7" textLength="84.8" lengthAdjust="spacingAndGlyphs" stroke="#000" stroke-width="0.87" style="font-family:'Liberation Sans',sans-serif">10</text>
<text x="2632.1" y="2739.1" font-size="49.5" textLength="29.7" lengthAdjust="spacingAndGlyphs" stroke="#000" stroke-width="0.61" style="font-family:'Liberation Sans',sans-serif">6</text>
<text x="1655.7" y="2717.6" font-size="70.7" textLength="84.8" lengthAdjust="spacingAndGlyphs" stroke="#000" stroke-width="0.87" style="font-family:'Liberation Sans',sans-serif">10</text>
<text x="1746.0" y="2687.1" font-size="49.5" textLength="29.7" lengthAdjust="spacingAndGlyphs" stroke="#000" stroke-width="0.61" style="font-family:'Liberation Sans',sans-serif">1</text>
<text x="1655.7" y="2436.0" font-size="70.7" textLength="84.8" lengthAdjust="spacingAndGlyphs" stroke="#000" stroke-width="0.87" style="font-family:'Liberation Sans',sans-serif">10</text>
<text x="1746.0" y="2405.5" font-size="49.5" textLength="29.7" lengthAdjust="spacingAndGlyphs" stroke="#000" stroke-width="0.61" style="font-family:'Liberation Sans',sans-serif">2</text>
<text x="1655.7" y="2154.3" font-size="70.7" textLength="84.8" lengthAdjust="spacingAndGlyphs" stroke="#000" stroke-width="0.87" style="font-family:'Liberation Sans',sans-serif">10</text>
<text x="1746.0" y="2123.8" font-size="49.5" textLength="29.7" lengthAdjust="spacingAndGlyphs" stroke="#000" stroke-width="0.61" style="font-family:'Liberation Sans',sans-serif">3</text>
<text x="1655.7" y="1872.7" font-size="70.7" textLength="84.8" lengthAdjust="spacingAndGlyphs" stroke="#000" stroke-width="0.87" style="font-family:'Liberation Sans',sans-serif">10</text>
<text x="1746.0" y="1842.2" font-size="49.5" textLength="29.7" lengthAdjust="spacingAndGlyphs" stroke="#000" stroke-width="0.61" style="font-family:'Liberation Sans',sans-serif">4</text>
<text x="1655.7" y="1591.1" font-size="70.7" textLength="84.8" lengthAdjust="spacingAndGlyphs" stroke="#000" stroke-width="0.87" style="font-family:'Liberation Sans',sans-serif">10</text>
<text x="1746.0" y="1560.6" font-size="49.5" textLength="29.7" lengthAdjust="spacingAndGlyphs" stroke="#000" stroke-width="0.61" style="font-family:'Liberation Sans',sans-serif">5</text>
<linearGradient id="gTL" x1="0" y1="1" x2="0" y2="0"><stop offset="0" stop-color="#ff00ff"/><stop offset="1" stop-color="#ffff00"/></linearGradient>
<rect x="1217.00" y="99.80" width="56.80" height="1127.90" fill="url(#gTL)" stroke="#000" stroke-width="4.17"/>
<text x="1290.5" y="227.2" font-size="53.0" textLength="121.4" lengthAdjust="spacingAndGlyphs" stroke="#000" stroke-width="0.65" style="font-family:'Liberation Sans',sans-serif">−7.2</text>
<text x="1290.5" y="340.0" font-size="53.0" textLength="121.4" lengthAdjust="spacingAndGlyphs" stroke="#000" stroke-width="0.65" style="font-family:'Liberation Sans',sans-serif">−7.4</text>
<text x="1290.5" y="452.8" font-size="53.0" textLength="121.4" lengthAdjust="spacingAndGlyphs" stroke="#000" stroke-width="0.65" style="font-family:'Liberation Sans',sans-serif">−7.6</text>
<text x="1290.5" y="565.6" font-size="53.0" textLength="121.4" lengthAdjust="spacingAndGlyphs" stroke="#000" stroke-width="0.65" style="font-family:'Liberation Sans',sans-serif">−7.8</text>
<text x="1290.5" y="678.4" font-size="53.0" textLength="121.4" lengthAdjust="spacingAndGlyphs" stroke="#000" stroke-width="0.65" style="font-family:'Liberation Sans',sans-serif">−8.0</text>
<text x="1290.5" y="791.1" font-size="53.0" textLength="121.4" lengthAdjust="spacingAndGlyphs" stroke="#000" stroke-width="0.65" style="font-family:'Liberation Sans',sans-serif">−8.2</text>
<text x="1290.5" y="903.9" font-size="53.0" textLength="121.4" lengthAdjust="spacingAndGlyphs" stroke="#000" stroke-width="0.65" style="font-family:'Liberation Sans',sans-serif">−8.4</text>
<text x="1290.5" y="1016.7" font-size="53.0" textLength="121.4" lengthAdjust="spacingAndGlyphs" stroke="#000" stroke-width="0.65" style="font-family:'Liberation Sans',sans-serif">−8.6</text>
<text x="1290.5" y="1129.5" font-size="53.0" textLength="121.4" lengthAdjust="spacingAndGlyphs" stroke="#000" stroke-width="0.65" style="font-family:'Liberation Sans',sans-serif">−8.8</text>
<path d="M1273.80 212.59h-16.7M1273.80 325.38h-16.7M1273.80 438.17h-16.7M1273.80 550.96h-16.7M1273.80 663.75h-16.7M1273.80 776.54h-16.7M1273.80 889.33h-16.7M1273.80 1002.12h-16.7M1273.80 1114.91h-16.7" stroke="#000" stroke-width="2.08" fill="none"/>
<linearGradient id="gTR" x1="0" y1="1" x2="0" y2="0"><stop offset="0" stop-color="#ff00ff"/><stop offset="1" stop-color="#ffff00"/></linearGradient>
<rect x="2655.10" y="99.80" width="56.40" height="1127.90" fill="url(#gTR)" stroke="#000" stroke-width="4.17"/>
<text x="2728.2" y="214.6" font-size="53.0" textLength="79.5" lengthAdjust="spacingAndGlyphs" stroke="#000" stroke-width="0.65" style="font-family:'Liberation Sans',sans-serif">4.5</text>
<text x="2728.2" y="369.2" font-size="53.0" textLength="79.5" lengthAdjust="spacingAndGlyphs" stroke="#000" stroke-width="0.65" style="font-family:'Liberation Sans',sans-serif">4.0</text>
<text x="2728.2" y="523.9" font-size="53.0" textLength="79.5" lengthAdjust="spacingAndGlyphs" stroke="#000" stroke-width="0.65" style="font-family:'Liberation Sans',sans-serif">3.5</text>
<text x="2728.2" y="678.5" font-size="53.0" textLength="79.5" lengthAdjust="spacingAndGlyphs" stroke="#000" stroke-width="0.65" style="font-family:'Liberation Sans',sans-serif">3.0</text>
<text x="2728.2" y="833.1" font-size="53.0" textLength="79.5" lengthAdjust="spacingAndGlyphs" stroke="#000" stroke-width="0.65" style="font-family:'Liberation Sans',sans-serif">2.5</text>
<text x="2728.2" y="987.8" font-size="53.0" textLength="79.5" lengthAdjust="spacingAndGlyphs" stroke="#000" stroke-width="0.65" style="font-family:'Liberation Sans',sans-serif">2.0</text>
<text x="2728.2" y="1142.4" font-size="53.0" textLength="79.5" lengthAdjust="spacingAndGlyphs" stroke="#000" stroke-width="0.65" style="font-family:'Liberation Sans',sans-serif">1.5</text>
<path d="M2711.50 200.00h-16.7M2711.50 354.64h-16.7M2711.50 509.27h-16.7M2711.50 663.90h-16.7M2711.50 818.54h-16.7M2711.50 973.17h-16.7M2711.50 1127.81h-16.7" stroke="#000" stroke-width="2.08" fill="none"/>
<linearGradient id="gBL" x1="0" y1="1" x2="0" y2="0"><stop offset="0" stop-color="#ff00ff"/><stop offset="1" stop-color="#ffff00"/></linearGradient>
<rect x="1217.00" y="1569.90" width="56.80" height="1126.50" fill="url(#gBL)" stroke="#000" stroke-width="4.17"/>
<text x="1290.5" y="1705.5" font-size="53.0" textLength="79.5" lengthAdjust="spacingAndGlyphs" stroke="#000" stroke-width="0.65" style="font-family:'Liberation Sans',sans-serif">5.8</text>
<text x="1290.5" y="1829.3" font-size="53.0" textLength="79.5" lengthAdjust="spacingAndGlyphs" stroke="#000" stroke-width="0.65" style="font-family:'Liberation Sans',sans-serif">5.6</text>
<text x="1290.5" y="1953.1" font-size="53.0" textLength="79.5" lengthAdjust="spacingAndGlyphs" stroke="#000" stroke-width="0.65" style="font-family:'Liberation Sans',sans-serif">5.4</text>
<text x="1290.5" y="2076.9" font-size="53.0" textLength="79.5" lengthAdjust="spacingAndGlyphs" stroke="#000" stroke-width="0.65" style="font-family:'Liberation Sans',sans-serif">5.2</text>
<text x="1290.5" y="2200.7" font-size="53.0" textLength="79.5" lengthAdjust="spacingAndGlyphs" stroke="#000" stroke-width="0.65" style="font-family:'Liberation Sans',sans-serif">5.0</text>
<text x="1290.5" y="2324.5" font-size="53.0" textLength="79.5" lengthAdjust="spacingAndGlyphs" stroke="#000" stroke-width="0.65" style="font-family:'Liberation Sans',sans-serif">4.8</text>
<text x="1290.5" y="2448.3" font-size="53.0" textLength="79.5" lengthAdjust="spacingAndGlyphs" stroke="#000" stroke-width="0.65" style="font-family:'Liberation Sans',sans-serif">4.6</text>
<text x="1290.5" y="2572.1" font-size="53.0" textLength="79.5" lengthAdjust="spacingAndGlyphs" stroke="#000" stroke-width="0.65" style="font-family:'Liberation Sans',sans-serif">4.4</text>
<text x="1290.5" y="2695.9" font-size="53.0" textLength="79.5" lengthAdjust="spacingAndGlyphs" stroke="#000" stroke-width="0.65" style="font-family:'Liberation Sans',sans-serif">4.2</text>
<path d="M1273.80 1690.91h-16.7M1273.80 1814.71h-16.7M1273.80 1938.51h-16.7M1273.80 2062.31h-16.7M1273.80 2186.10h-16.7M1273.80 2309.90h-16.7M1273.80 2433.70h-16.7M1273.80 2557.50h-16.7M1273.80 2681.30h-16.7" stroke="#000" stroke-width="2.08" fill="none"/>
<linearGradient id="gBR" x1="0" y1="1" x2="0" y2="0"><stop offset="0" stop-color="#ff00ff"/><stop offset="1" stop-color="#ffff00"/></linearGradient>
<rect x="2655.10" y="1569.90" width="56.40" height="1126.50" fill="url(#gBR)" stroke="#000" stroke-width="4.17"/>
<text x="2728.2" y="1664.4" font-size="53.0" textLength="111.3" lengthAdjust="spacingAndGlyphs" stroke="#000" stroke-width="0.65" style="font-family:'Liberation Sans',sans-serif">3.12</text>
<text x="2728.2" y="1794.8" font-size="53.0" textLength="111.3" lengthAdjust="spacingAndGlyphs" stroke="#000" stroke-width="0.65" style="font-family:'Liberation Sans',sans-serif">3.04</text>
<text x="2728.2" y="1925.2" font-size="53.0" textLength="111.3" lengthAdjust="spacingAndGlyphs" stroke="#000" stroke-width="0.65" style="font-family:'Liberation Sans',sans-serif">2.96</text>
<text x="2728.2" y="2055.6" font-size="53.0" textLength="111.3" lengthAdjust="spacingAndGlyphs" stroke="#000" stroke-width="0.65" style="font-family:'Liberation Sans',sans-serif">2.88</text>
<text x="2728.2" y="2186.1" font-size="53.0" textLength="111.3" lengthAdjust="spacingAndGlyphs" stroke="#000" stroke-width="0.65" style="font-family:'Liberation Sans',sans-serif">2.80</text>
<text x="2728.2" y="2316.5" font-size="53.0" textLength="111.3" lengthAdjust="spacingAndGlyphs" stroke="#000" stroke-width="0.65" style="font-family:'Liberation Sans',sans-serif">2.72</text>
<text x="2728.2" y="2446.9" font-size="53.0" textLength="111.3" lengthAdjust="spacingAndGlyphs" stroke="#000" stroke-width="0.65" style="font-family:'Liberation Sans',sans-serif">2.64</text>
<text x="2728.2" y="2577.3" font-size="53.0" textLength="111.3" lengthAdjust="spacingAndGlyphs" stroke="#000" stroke-width="0.65" style="font-family:'Liberation Sans',sans-serif">2.56</text>
<text x="2728.2" y="2707.7" font-size="53.0" textLength="111.3" lengthAdjust="spacingAndGlyphs" stroke="#000" stroke-width="0.65" style="font-family:'Liberation Sans',sans-serif">2.48</text>
<path d="M2711.50 1649.78h-16.7M2711.50 1780.20h-16.7M2711.50 1910.62h-16.7M2711.50 2041.04h-16.7M2711.50 2171.46h-16.7M2711.50 2301.88h-16.7M2711.50 2432.30h-16.7M2711.50 2562.72h-16.7M2711.50 2693.14h-16.7" stroke="#000" stroke-width="2.08" fill="none"/>
<text x="1165.0" y="71.3" font-size="75.5" font-style="italic" textLength="93.5" lengthAdjust="spacingAndGlyphs" style="font-family:'Liberation Serif',serif">log</text>
<text x="1257.5" y="84.7" font-size="54.5" textLength="54.0" lengthAdjust="spacingAndGlyphs" style="font-family:'Liberation Serif',serif">10</text>
<text x="1322.2" y="71.3" font-size="83.0" textLength="23.5" lengthAdjust="spacingAndGlyphs" style="font-family:'Liberation Serif',serif">(</text>
<text x="1354.0" y="71.3" font-size="75.5" font-style="italic" textLength="25.5" lengthAdjust="spacingAndGlyphs" style="font-family:'Liberation Serif',serif">f</text>
<text x="1385.5" y="83.7" font-size="52.5" font-style="italic" textLength="104.0" lengthAdjust="spacingAndGlyphs" style="font-family:'Liberation Serif',serif">peak</text>
<text x="1497.2" y="71.3" font-size="83.0" textLength="23.5" lengthAdjust="spacingAndGlyphs" style="font-family:'Liberation Serif',serif">)</text>
<text x="2600.6" y="72.3" font-size="75.5" font-style="italic" textLength="93.5" lengthAdjust="spacingAndGlyphs" style="font-family:'Liberation Serif',serif">log</text>
<text x="2693.1" y="85.7" font-size="54.5" textLength="54.0" lengthAdjust="spacingAndGlyphs" style="font-family:'Liberation Serif',serif">10</text>
<text x="2757.4" y="72.3" font-size="83.0" textLength="23.5" lengthAdjust="spacingAndGlyphs" style="font-family:'Liberation Serif',serif">(</text>
<text x="2784.2" y="72.8" font-size="63.0" font-style="italic" textLength="38.8" lengthAdjust="spacingAndGlyphs" style="font-family:'Liberation Serif',serif">σ</text>
<path d="M2798.4 30.9L2807.6 21.6L2816.8 30.9" fill="none" stroke="#000" stroke-width="2.770083102493075" stroke-linejoin="miter"/>
<text x="2828.0" y="84.4" font-size="52.5" font-style="italic" textLength="94.9" lengthAdjust="spacingAndGlyphs" style="font-family:'Liberation Serif',serif">wall</text>
<text x="2934.6" y="72.3" font-size="83.0" textLength="23.5" lengthAdjust="spacingAndGlyphs" style="font-family:'Liberation Serif',serif">)</text>
<text x="1166.1" y="1539.8" font-size="75.5" font-style="italic" textLength="93.5" lengthAdjust="spacingAndGlyphs" style="font-family:'Liberation Serif',serif">log</text>
<text x="1258.6" y="1553.2" font-size="54.5" textLength="54.0" lengthAdjust="spacingAndGlyphs" style="font-family:'Liberation Serif',serif">10</text>
<text x="1322.2" y="1539.8" font-size="83.0" textLength="23.5" lengthAdjust="spacingAndGlyphs" style="font-family:'Liberation Serif',serif">(</text>
<text x="1349.0" y="1539.8" font-size="75.5" font-style="italic" textLength="35.0" lengthAdjust="spacingAndGlyphs" style="font-family:'Liberation Serif',serif">v</text>
<text x="1386.0" y="1552.4" font-size="52.5" font-style="italic" style="font-family:'Liberation Serif',serif">s</text>
<text x="1415.5" y="1539.8" font-size="83.0" textLength="23.5" lengthAdjust="spacingAndGlyphs" style="font-family:'Liberation Serif',serif">)</text>
<text x="2597.6" y="1539.3" font-size="75.5" font-style="italic" textLength="93.5" lengthAdjust="spacingAndGlyphs" style="font-family:'Liberation Serif',serif">log</text>
<text x="2690.1" y="1552.7" font-size="54.5" textLength="54.0" lengthAdjust="spacingAndGlyphs" style="font-family:'Liberation Serif',serif">10</text>
<text x="2753.4" y="1539.3" font-size="83.0" textLength="23.5" lengthAdjust="spacingAndGlyphs" style="font-family:'Liberation Serif',serif">(</text>
<text x="2780.0" y="1539.3" font-size="75.5" font-style="italic" textLength="64.0" lengthAdjust="spacingAndGlyphs" style="font-family:'Liberation Serif',serif">m</text>
<text x="2848.5" y="1552.4" font-size="52.5" font-style="italic" textLength="27.5" lengthAdjust="spacingAndGlyphs" style="font-family:'Liberation Serif',serif">h</text>
<text x="2877.5" y="1560.2" font-size="26.0" style="font-family:'Liberation Serif',serif">3</text>
<text x="2904.5" y="1539.3" font-size="83.0" textLength="23.5" lengthAdjust="spacingAndGlyphs" style="font-family:'Liberation Serif',serif">)</text>
<text x="661.3" y="1418.0" font-size="91.0" font-style="italic" textLength="56.0" lengthAdjust="spacingAndGlyphs" style="font-family:'Liberation Serif',serif">σ</text>
<path d="M681.8 1357.5L695.1 1344.0L708.3 1357.5" fill="none" stroke="#000" stroke-width="4.0" stroke-linejoin="miter"/>
<text x="724.6" y="1434.7" font-size="75.8" font-style="italic" textLength="137.0" lengthAdjust="spacingAndGlyphs" style="font-family:'Liberation Serif',serif">wall</text>
<text x="2002.0" y="1417.7" font-size="108.3" font-style="italic" textLength="35.0" lengthAdjust="spacingAndGlyphs" style="font-family:'Liberation Serif',serif">f</text>
<text x="2044.0" y="1433.7" font-size="75.8" font-style="italic" textLength="148.0" lengthAdjust="spacingAndGlyphs" style="font-family:'Liberation Serif',serif">peak</text>
<text x="2197.0" y="1417.5" font-size="114.8" textLength="216.0" lengthAdjust="spacingAndGlyphs" stroke="#000" stroke-width="1.38" style="font-family:'Liberation Sans',sans-serif">(Hz)</text>
<text x="716.0" y="2885.1" font-size="105.7" textLength="55.0" lengthAdjust="spacingAndGlyphs" style="font-family:'Liberation Serif',serif">λ</text>
<text x="773.0" y="2903.0" font-size="76.0" style="font-family:'Liberation Serif',serif">6</text>
<text x="2005.5" y="2887.0" font-size="108.3" font-style="italic" textLength="49.0" lengthAdjust="spacingAndGlyphs" style="font-family:'Liberation Serif',serif">v</text>
<text x="2058.0" y="2904.2" font-size="75.8" font-style="italic" style="font-family:'Liberation Serif',serif">s</text>
<text x="2097.0" y="2887.0" font-size="114.8" textLength="301.0" lengthAdjust="spacingAndGlyphs" stroke="#000" stroke-width="1.38" style="font-family:'Liberation Sans',sans-serif">(GeV)</text>
<g transform="translate(0,0) rotate(-90)">
<text x="-838.5" y="118.5" font-size="112.0" textLength="72.0" lengthAdjust="spacingAndGlyphs" style="font-family:'Liberation Serif',serif">Ω</text>
<text x="-751.5" y="67.0" font-size="75.8" font-style="italic" textLength="141.0" lengthAdjust="spacingAndGlyphs" style="font-family:'Liberation Serif',serif">peak</text>
<text x="-756.0" y="146.7" font-size="75.8" font-style="italic" textLength="123.0" lengthAdjust="spacingAndGlyphs" style="font-family:'Liberation Serif',serif">GW</text>
<text x="-599.0" y="118.5" font-size="108.3" font-style="italic" textLength="53.0" lengthAdjust="spacingAndGlyphs" style="font-family:'Liberation Serif',serif">h</text>
<text x="-530.0" y="78.7" font-size="75.0" textLength="34.0" lengthAdjust="spacingAndGlyphs" style="font-family:'Liberation Serif',serif">2</text>
</g>
<g transform="translate(1438.0,0) rotate(-90)">
<text x="-838.5" y="118.5" font-size="112.0" textLength="72.0" lengthAdjust="spacingAndGlyphs" style="font-family:'Liberation Serif',serif">Ω</text>
<text x="-751.5" y="67.0" font-size="75.8" font-style="italic" textLength="141.0" lengthAdjust="spacingAndGlyphs" style="font-family:'Liberation Serif',serif">peak</text>
<text x="-756.0" y="146.7" font-size="75.8" font-style="italic" textLength="123.0" lengthAdjust="spacingAndGlyphs" style="font-family:'Liberation Serif',serif">GW</text>
<text x="-599.0" y="118.5" font-size="108.3" font-style="italic" textLength="53.0" lengthAdjust="spacingAndGlyphs" style="font-family:'Liberation Serif',serif">h</text>
<text x="-530.0" y="78.7" font-size="75.0" textLength="34.0" lengthAdjust="spacingAndGlyphs" style="font-family:'Liberation Serif',serif">2</text>
</g>
<g transform="translate(0,0) rotate(-90)">
<text x="-2236.3" y="174.7" font-size="91.0" font-style="italic" textLength="56.0" lengthAdjust="spacingAndGlyphs" style="font-family:'Liberation Serif',serif">σ</text>
<path d="M-2215.8 114.2L-2202.5 100.7L-2189.2 114.2" fill="none" stroke="#000" stroke-width="4.0" stroke-linejoin="miter"/>
<text x="-2173.0" y="191.4" font-size="75.8" font-style="italic" textLength="137.0" lengthAdjust="spacingAndGlyphs" style="font-family:'Liberation Serif',serif">wall</text>
</g>
<g transform="translate(1438.0,0) rotate(-90)">
<text x="-2236.3" y="174.7" font-size="91.0" font-style="italic" textLength="56.0" lengthAdjust="spacingAndGlyphs" style="font-family:'Liberation Serif',serif">σ</text>
<path d="M-2215.8 114.2L-2202.5 100.7L-2189.2 114.2" fill="none" stroke="#000" stroke-width="4.0" stroke-linejoin="miter"/>
<text x="-2173.0" y="191.4" font-size="75.8" font-style="italic" textLength="137.0" lengthAdjust="spacingAndGlyphs" style="font-family:'Liberation Serif',serif">wall</text>
</g>
</svg></body></html>
